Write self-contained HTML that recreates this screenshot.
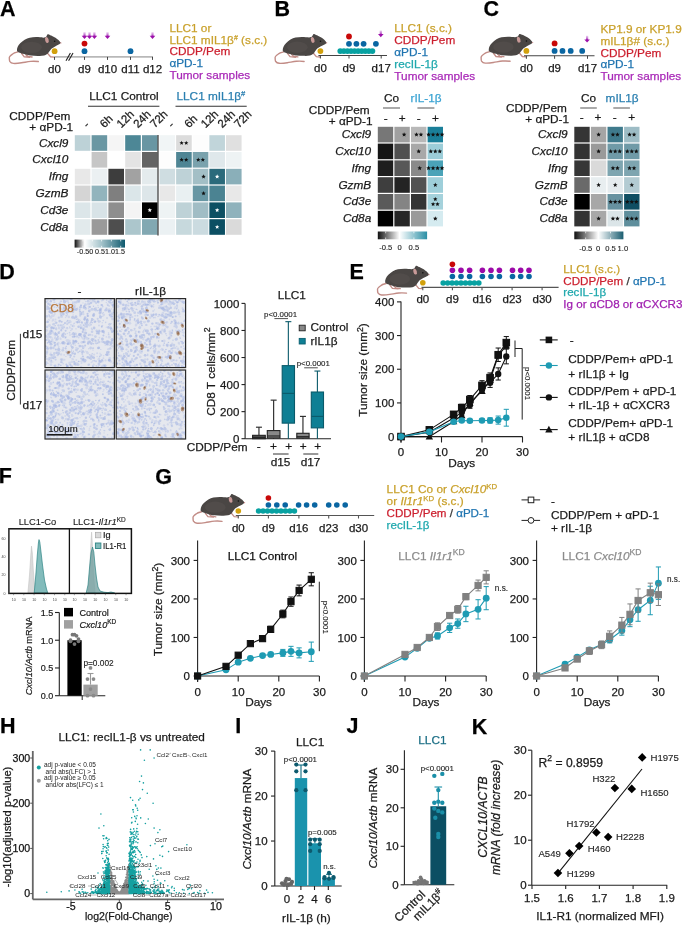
<!DOCTYPE html><html><head><meta charset="utf-8"><title>Figure</title><style>html,body{margin:0;padding:0;background:#fff;width:685px;height:925px;overflow:hidden}svg{display:block;font-family:"Liberation Sans",sans-serif;will-change:transform} text{stroke:currentColor;stroke-width:0.25px}</style></head><body><svg width="685" height="925" viewBox="0 0 685 925" font-family="Liberation Sans, sans-serif"><defs><g id="mouse">
<path d="M8.8,17.9 C6,18.5 4.5,19 3.6,20 C1.5,21.5 0.3,22.5 0.5,23.5 C0.5,25 0.5,26 0.9,27 C1.8,28.3 3,28.9 4.4,29 C7,29.2 10,28.8 12.3,28.4 C15,28 18,27.4 21.1,27 C24,26.8 26.5,26.9 28.5,27.2" fill="none" stroke="#c28c86" stroke-width="1.35" stroke-linecap="round"/>
<path d="M12.3,19.2 L14.9,22.6 L20.2,23.1 M16.5,20.5 L18.5,22.2 L22.5,22.8 M37.3,19 L40.3,22.6 L43.8,22.9" fill="none" stroke="#c28c86" stroke-width="1.3" stroke-linecap="round" stroke-linejoin="round"/>
<path d="M7.9,17 C7.6,14.5 8.8,11.5 11,9.5 C13.5,7 17,4.8 20.2,4.1 C24,3.3 30,3.5 33.3,4.1 L36,3.4 L37.4,0.9 C38.2,0.5 39.2,1.1 39.9,1.7 C42.5,2.3 47.8,5.2 50.4,9.1 C49.8,10 49,10.3 48.2,10.8 C46.8,11.5 45.8,12 44.7,12.6 C43.3,13.4 42,14 41.2,14.8 C40,16 39.3,17.3 38.6,18.3 C37.5,20 36,21 34.2,21.4 C32,21.9 30,21.9 28.1,21.8 C25.5,21.7 23.5,21.6 21.1,21.4 C18.5,21.1 16.5,20.6 14.9,20 C13,19.5 11.5,19.2 10.6,18.7 C9.5,18.3 8.4,17.8 7.9,17 Z" fill="#4a4644"/>
<ellipse cx="22" cy="13.5" rx="10" ry="5.5" fill="#57524f" opacity="0.5"/>
<ellipse cx="36.8" cy="6.4" rx="1.7" ry="2.9" fill="#c99a98" transform="rotate(-15 36.8 6.4)"/>
<circle cx="44.3" cy="7.6" r="0.75" fill="#111"/>
<circle cx="50.3" cy="9.2" r="0.6" fill="#d09090"/>
</g></defs><text x="0.00" y="16.20" font-size="21.5" fill="#000" color="#000" font-weight="bold">A</text>
<text x="274.40" y="16.20" font-size="21.5" fill="#000" color="#000" font-weight="bold">B</text>
<text x="483.60" y="16.00" font-size="21.5" fill="#000" color="#000" font-weight="bold">C</text>
<text x="-0.80" y="279.20" font-size="21.5" fill="#000" color="#000" font-weight="bold">D</text>
<text x="349.60" y="279.00" font-size="21.5" fill="#000" color="#000" font-weight="bold">E</text>
<text x="-1.20" y="483.40" font-size="21.5" fill="#000" color="#000" font-weight="bold">F</text>
<text x="155.20" y="484.00" font-size="21.5" fill="#000" color="#000" font-weight="bold">G</text>
<text x="0.00" y="733.20" font-size="21.5" fill="#000" color="#000" font-weight="bold">H</text>
<text x="235.30" y="733.20" font-size="21.5" fill="#000" color="#000" font-weight="bold">I</text>
<text x="346.60" y="733.30" font-size="21.5" fill="#000" color="#000" font-weight="bold">J</text>
<text x="471.70" y="733.80" font-size="21.5" fill="#000" color="#000" font-weight="bold">K</text>
<defs><linearGradient id="arrg" x1="0" y1="0" x2="0" y2="1"><stop offset="0" stop-color="#c070d0" stop-opacity="0.35"/><stop offset="1" stop-color="#a020b0"/></linearGradient></defs>
<use href="#mouse" transform="translate(8.80,33.40) scale(1.035)"/>
<line x1="54.50" y1="56.90" x2="153.00" y2="56.90" stroke="#b8b8b8" stroke-width="1.6"/>
<line x1="66.00" y1="60.80" x2="70.40" y2="53.10" stroke="#222" stroke-width="1.1"/>
<line x1="68.60" y1="60.80" x2="73.00" y2="53.10" stroke="#222" stroke-width="1.1"/>
<line x1="54.50" y1="56.90" x2="54.50" y2="59.90" stroke="#333" stroke-width="0.9"/>
<line x1="84.50" y1="56.90" x2="84.50" y2="59.90" stroke="#333" stroke-width="0.9"/>
<line x1="107.50" y1="56.90" x2="107.50" y2="59.90" stroke="#333" stroke-width="0.9"/>
<line x1="130.50" y1="56.90" x2="130.50" y2="59.90" stroke="#333" stroke-width="0.9"/>
<line x1="152.50" y1="56.90" x2="152.50" y2="59.90" stroke="#333" stroke-width="0.9"/>
<text x="54.50" y="73.20" font-size="11.5" fill="#1a1a1a" color="#1a1a1a" text-anchor="middle">d0</text>
<text x="84.50" y="73.20" font-size="11.5" fill="#1a1a1a" color="#1a1a1a" text-anchor="middle">d9</text>
<text x="107.50" y="73.20" font-size="11.5" fill="#1a1a1a" color="#1a1a1a" text-anchor="middle">d10</text>
<text x="130.50" y="73.20" font-size="11.5" fill="#1a1a1a" color="#1a1a1a" text-anchor="middle">d11</text>
<text x="152.50" y="73.20" font-size="11.5" fill="#1a1a1a" color="#1a1a1a" text-anchor="middle">d12</text>
<circle cx="54.60" cy="51.20" r="2.9" fill="#d2a00c"/>
<circle cx="84.50" cy="51.20" r="2.9" fill="#0a66a2"/>
<circle cx="84.50" cy="43.60" r="2.9" fill="#c80808"/>
<circle cx="130.50" cy="51.20" r="2.9" fill="#0a66a2"/>
<rect x="83.40" y="32.20" width="2.20" height="4.20" fill="url(#arrg)"/>
<path d="M81.70,35.80 L87.30,35.80 L84.50,38.90 Z" fill="#9c10aa"/>
<rect x="88.40" y="32.20" width="2.20" height="4.20" fill="url(#arrg)"/>
<path d="M86.70,35.80 L92.30,35.80 L89.50,38.90 Z" fill="#9c10aa"/>
<rect x="93.30" y="32.20" width="2.20" height="4.20" fill="url(#arrg)"/>
<path d="M91.60,35.80 L97.20,35.80 L94.40,38.90 Z" fill="#9c10aa"/>
<rect x="106.40" y="32.20" width="2.20" height="4.20" fill="url(#arrg)"/>
<path d="M104.70,35.80 L110.30,35.80 L107.50,38.90 Z" fill="#9c10aa"/>
<rect x="151.40" y="32.20" width="2.20" height="4.20" fill="url(#arrg)"/>
<path d="M149.70,35.80 L155.30,35.80 L152.50,38.90 Z" fill="#9c10aa"/>
<text x="169.40" y="31.60" font-size="11.8" fill="#c9a12c" color="#c9a12c">LLC1 or</text>
<text x="169.40" y="43.50" font-size="11.8" fill="#c9a12c" color="#c9a12c">LLC1 mIL1β<tspan font-size="7" dy="-4">#</tspan><tspan dy="4"> (s.c.)</tspan></text>
<text x="169.40" y="55.40" font-size="11.8" fill="#cc1f2e" color="#cc1f2e">CDDP/Pem</text>
<text x="169.40" y="67.30" font-size="11.8" fill="#1f74b0" color="#1f74b0">αPD-1</text>
<text x="169.40" y="79.20" font-size="11.8" fill="#a92ab8" color="#a92ab8">Tumor samples</text>
<text x="89.20" y="100.00" font-size="11.8" fill="#1a1a1a" color="#1a1a1a">LLC1 Control</text>
<line x1="88.00" y1="106.20" x2="159.40" y2="106.20" stroke="#333" stroke-width="1.1"/>
<text x="176.50" y="100.00" font-size="11.8" fill="#2a7fb0" color="#2a7fb0">LLC1 mIL1β<tspan font-size="7.5" dy="-4.5">#</tspan></text>
<line x1="175.50" y1="106.20" x2="246.70" y2="106.20" stroke="#333" stroke-width="1.1"/>
<text x="70.30" y="119.80" font-size="11.8" fill="#1a1a1a" color="#1a1a1a" text-anchor="end">CDDP/Pem</text>
<text x="73.20" y="130.90" font-size="11.8" fill="#1a1a1a" color="#1a1a1a" text-anchor="end">+ αPD-1</text>
<text x="87.60" y="128.60" font-size="11.5" fill="#1a1a1a" color="#1a1a1a" transform="rotate(-45 87.60 128.60)">-</text>
<text x="104.40" y="128.60" font-size="11.5" fill="#1a1a1a" color="#1a1a1a" transform="rotate(-45 104.40 128.60)">6h</text>
<text x="121.20" y="128.60" font-size="11.5" fill="#1a1a1a" color="#1a1a1a" transform="rotate(-45 121.20 128.60)">12h</text>
<text x="138.00" y="128.60" font-size="11.5" fill="#1a1a1a" color="#1a1a1a" transform="rotate(-45 138.00 128.60)">24h</text>
<text x="154.80" y="128.60" font-size="11.5" fill="#1a1a1a" color="#1a1a1a" transform="rotate(-45 154.80 128.60)">72h</text>
<text x="172.30" y="128.60" font-size="11.5" fill="#1a1a1a" color="#1a1a1a" transform="rotate(-45 172.30 128.60)">-</text>
<text x="188.92" y="128.60" font-size="11.5" fill="#1a1a1a" color="#1a1a1a" transform="rotate(-45 188.92 128.60)">6h</text>
<text x="205.54" y="128.60" font-size="11.5" fill="#1a1a1a" color="#1a1a1a" transform="rotate(-45 205.54 128.60)">12h</text>
<text x="222.16" y="128.60" font-size="11.5" fill="#1a1a1a" color="#1a1a1a" transform="rotate(-45 222.16 128.60)">24h</text>
<text x="238.78" y="128.60" font-size="11.5" fill="#1a1a1a" color="#1a1a1a" transform="rotate(-45 238.78 128.60)">72h</text>
<text x="68.40" y="146.60" font-size="11.8" fill="#1a1a1a" color="#1a1a1a" text-anchor="end" font-style="italic">Cxcl9</text>
<rect x="74.80" y="135.20" width="15.60" height="15.60" fill="#bdd2d7"/>
<rect x="91.60" y="135.20" width="15.60" height="15.60" fill="#6a97a3"/>
<rect x="108.40" y="135.20" width="15.60" height="15.60" fill="#f5f5f5"/>
<rect x="125.20" y="135.20" width="15.60" height="15.60" fill="#4d8796"/>
<rect x="142.00" y="135.20" width="15.60" height="15.60" fill="#6996a3"/>
<rect x="159.50" y="135.20" width="15.60" height="15.60" fill="#f1f5f6"/>
<rect x="176.12" y="135.20" width="15.60" height="15.60" fill="#dcdcdc"/>
<rect x="192.74" y="135.20" width="15.60" height="15.60" fill="#fdfdfd"/>
<rect x="209.36" y="135.20" width="15.60" height="15.60" fill="#c1d5da"/>
<rect x="225.98" y="135.20" width="15.60" height="15.60" fill="#e0e0e0"/>
<text x="68.40" y="163.40" font-size="11.8" fill="#1a1a1a" color="#1a1a1a" text-anchor="end" font-style="italic">Cxcl10</text>
<rect x="74.80" y="152.00" width="15.60" height="15.60" fill="#ffffff"/>
<rect x="91.60" y="152.00" width="15.60" height="15.60" fill="#c6c6c6"/>
<rect x="108.40" y="152.00" width="15.60" height="15.60" fill="#ffffff"/>
<rect x="125.20" y="152.00" width="15.60" height="15.60" fill="#e4e4e4"/>
<rect x="142.00" y="152.00" width="15.60" height="15.60" fill="#646464"/>
<rect x="159.50" y="152.00" width="15.60" height="15.60" fill="#fdfdfd"/>
<rect x="176.12" y="152.00" width="15.60" height="15.60" fill="#4f8594"/>
<rect x="192.74" y="152.00" width="15.60" height="15.60" fill="#7aa2ad"/>
<rect x="209.36" y="152.00" width="15.60" height="15.60" fill="#dfe8eb"/>
<rect x="225.98" y="152.00" width="15.60" height="15.60" fill="#eef3f4"/>
<text x="68.40" y="180.20" font-size="11.8" fill="#1a1a1a" color="#1a1a1a" text-anchor="end" font-style="italic">Ifng</text>
<rect x="74.80" y="168.80" width="15.60" height="15.60" fill="#e8e8e8"/>
<rect x="91.60" y="168.80" width="15.60" height="15.60" fill="#ebf0f2"/>
<rect x="108.40" y="168.80" width="15.60" height="15.60" fill="#3d3d3d"/>
<rect x="125.20" y="168.80" width="15.60" height="15.60" fill="#a2a2a2"/>
<rect x="142.00" y="168.80" width="15.60" height="15.60" fill="#e4ebed"/>
<rect x="159.50" y="168.80" width="15.60" height="15.60" fill="#cfdde1"/>
<rect x="176.12" y="168.80" width="15.60" height="15.60" fill="#bed2d7"/>
<rect x="192.74" y="168.80" width="15.60" height="15.60" fill="#a3bfc6"/>
<rect x="209.36" y="168.80" width="15.60" height="15.60" fill="#2b6a7b"/>
<rect x="225.98" y="168.80" width="15.60" height="15.60" fill="#8aafb9"/>
<text x="68.40" y="197.00" font-size="11.8" fill="#1a1a1a" color="#1a1a1a" text-anchor="end" font-style="italic">GzmB</text>
<rect x="74.80" y="185.60" width="15.60" height="15.60" fill="#d5d5d5"/>
<rect x="91.60" y="185.60" width="15.60" height="15.60" fill="#92b4bd"/>
<rect x="108.40" y="185.60" width="15.60" height="15.60" fill="#7f7f7f"/>
<rect x="125.20" y="185.60" width="15.60" height="15.60" fill="#dbe6e9"/>
<rect x="142.00" y="185.60" width="15.60" height="15.60" fill="#dde6e9"/>
<rect x="159.50" y="185.60" width="15.60" height="15.60" fill="#e8e8e8"/>
<rect x="176.12" y="185.60" width="15.60" height="15.60" fill="#e9f0f2"/>
<rect x="192.74" y="185.60" width="15.60" height="15.60" fill="#6897a4"/>
<rect x="209.36" y="185.60" width="15.60" height="15.60" fill="#4b8392"/>
<rect x="225.98" y="185.60" width="15.60" height="15.60" fill="#e8e8e8"/>
<text x="68.40" y="213.80" font-size="11.8" fill="#1a1a1a" color="#1a1a1a" text-anchor="end" font-style="italic">Cd3e</text>
<rect x="74.80" y="202.40" width="15.60" height="15.60" fill="#dce6e9"/>
<rect x="91.60" y="202.40" width="15.60" height="15.60" fill="#d8e3e7"/>
<rect x="108.40" y="202.40" width="15.60" height="15.60" fill="#8e8e8e"/>
<rect x="125.20" y="202.40" width="15.60" height="15.60" fill="#f4f4f4"/>
<rect x="142.00" y="202.40" width="15.60" height="15.60" fill="#000000"/>
<rect x="159.50" y="202.40" width="15.60" height="15.60" fill="#eef3f4"/>
<rect x="176.12" y="202.40" width="15.60" height="15.60" fill="#bed2d7"/>
<rect x="192.74" y="202.40" width="15.60" height="15.60" fill="#a1bdc5"/>
<rect x="209.36" y="202.40" width="15.60" height="15.60" fill="#0c4f63"/>
<rect x="225.98" y="202.40" width="15.60" height="15.60" fill="#8fb2bc"/>
<text x="68.40" y="230.60" font-size="11.8" fill="#1a1a1a" color="#1a1a1a" text-anchor="end" font-style="italic">Cd8a</text>
<rect x="74.80" y="219.20" width="15.60" height="15.60" fill="#e2eaec"/>
<rect x="91.60" y="219.20" width="15.60" height="15.60" fill="#9a9a9a"/>
<rect x="108.40" y="219.20" width="15.60" height="15.60" fill="#4e4e4e"/>
<rect x="125.20" y="219.20" width="15.60" height="15.60" fill="#acc6cc"/>
<rect x="142.00" y="219.20" width="15.60" height="15.60" fill="#82a8b2"/>
<rect x="159.50" y="219.20" width="15.60" height="15.60" fill="#ebf1f3"/>
<rect x="176.12" y="219.20" width="15.60" height="15.60" fill="#c7d9dd"/>
<rect x="192.74" y="219.20" width="15.60" height="15.60" fill="#cbdbe0"/>
<rect x="209.36" y="219.20" width="15.60" height="15.60" fill="#0c4f63"/>
<rect x="225.98" y="219.20" width="15.60" height="15.60" fill="#dadada"/>
<polygon points="181.62,140.70 182.23,142.16 183.81,142.29 182.60,143.32 182.97,144.86 181.62,144.03 180.27,144.86 180.64,143.32 179.43,142.29 181.01,142.16" fill="#111"/>
<polygon points="186.22,140.70 186.83,142.16 188.41,142.29 187.20,143.32 187.57,144.86 186.22,144.03 184.87,144.86 185.24,143.32 184.03,142.29 185.61,142.16" fill="#111"/>
<polygon points="181.62,157.50 182.23,158.96 183.81,159.09 182.60,160.12 182.97,161.66 181.62,160.84 180.27,161.66 180.64,160.12 179.43,159.09 181.01,158.96" fill="#111"/>
<polygon points="186.22,157.50 186.83,158.96 188.41,159.09 187.20,160.12 187.57,161.66 186.22,160.84 184.87,161.66 185.24,160.12 184.03,159.09 185.61,158.96" fill="#111"/>
<polygon points="198.24,157.50 198.85,158.96 200.43,159.09 199.22,160.12 199.59,161.66 198.24,160.84 196.89,161.66 197.26,160.12 196.05,159.09 197.63,158.96" fill="#111"/>
<polygon points="202.84,157.50 203.45,158.96 205.03,159.09 203.82,160.12 204.19,161.66 202.84,160.84 201.49,161.66 201.86,160.12 200.65,159.09 202.23,158.96" fill="#111"/>
<polygon points="203.54,174.30 204.15,175.76 205.73,175.89 204.52,176.92 204.89,178.46 203.54,177.63 202.19,178.46 202.56,176.92 201.35,175.89 202.93,175.76" fill="#111"/>
<polygon points="217.16,174.30 217.77,175.76 219.35,175.89 218.14,176.92 218.51,178.46 217.16,177.63 215.81,178.46 216.18,176.92 214.97,175.89 216.55,175.76" fill="#fff"/>
<polygon points="203.54,191.10 204.15,192.56 205.73,192.69 204.52,193.72 204.89,195.26 203.54,194.44 202.19,195.26 202.56,193.72 201.35,192.69 202.93,192.56" fill="#111"/>
<polygon points="149.80,207.90 150.41,209.36 151.99,209.49 150.78,210.52 151.15,212.06 149.80,211.23 148.45,212.06 148.82,210.52 147.61,209.49 149.19,209.36" fill="#fff"/>
<polygon points="217.16,207.90 217.77,209.36 219.35,209.49 218.14,210.52 218.51,212.06 217.16,211.23 215.81,212.06 216.18,210.52 214.97,209.49 216.55,209.36" fill="#fff"/>
<polygon points="217.16,224.70 217.77,226.16 219.35,226.29 218.14,227.32 218.51,228.86 217.16,228.03 215.81,228.86 216.18,227.32 214.97,226.29 216.55,226.16" fill="#fff"/>
<line x1="158.00" y1="135.00" x2="158.00" y2="235.40" stroke="#333" stroke-width="1.2"/>
<defs><linearGradient id="cbA" x1="0" x2="1"><stop offset="0" stop-color="#111"/><stop offset="0.2" stop-color="#fff"/><stop offset="0.55" stop-color="#9fc0c8"/><stop offset="1" stop-color="#0f5a6e"/></linearGradient><linearGradient id="cbB" x1="0" x2="1"><stop offset="0" stop-color="#111"/><stop offset="0.44" stop-color="#fff"/><stop offset="1" stop-color="#2a8fa5"/></linearGradient><linearGradient id="cbC" x1="0" x2="1"><stop offset="0" stop-color="#111"/><stop offset="0.49" stop-color="#fff"/><stop offset="1" stop-color="#1a5d70"/></linearGradient></defs>
<rect x="74.60" y="239.60" width="50.40" height="8.00" fill="url(#cbA)"/>
<line x1="83.00" y1="239.60" x2="83.00" y2="241.40" stroke="#fff" stroke-width="0.7"/>
<line x1="83.00" y1="245.80" x2="83.00" y2="247.60" stroke="#fff" stroke-width="0.7"/>
<line x1="92.30" y1="239.60" x2="92.30" y2="241.40" stroke="#fff" stroke-width="0.7"/>
<line x1="92.30" y1="245.80" x2="92.30" y2="247.60" stroke="#fff" stroke-width="0.7"/>
<line x1="101.60" y1="239.60" x2="101.60" y2="241.40" stroke="#fff" stroke-width="0.7"/>
<line x1="101.60" y1="245.80" x2="101.60" y2="247.60" stroke="#fff" stroke-width="0.7"/>
<line x1="111.40" y1="239.60" x2="111.40" y2="241.40" stroke="#fff" stroke-width="0.7"/>
<line x1="111.40" y1="245.80" x2="111.40" y2="247.60" stroke="#fff" stroke-width="0.7"/>
<line x1="120.70" y1="239.60" x2="120.70" y2="241.40" stroke="#fff" stroke-width="0.7"/>
<line x1="120.70" y1="245.80" x2="120.70" y2="247.60" stroke="#fff" stroke-width="0.7"/>
<text x="76.80" y="254.20" font-size="7.6" fill="#222" color="#222" style="stroke-width:0.12px" textLength="48.2" lengthAdjust="spacingAndGlyphs">-0.50 0.51.01.5</text>
<use href="#mouse" transform="translate(274.60,33.30) scale(1.035)"/>
<line x1="318.40" y1="55.50" x2="387.00" y2="55.50" stroke="#444" stroke-width="1.1"/>
<line x1="320.40" y1="55.50" x2="320.40" y2="58.50" stroke="#444" stroke-width="1.0"/>
<line x1="349.00" y1="55.50" x2="349.00" y2="58.50" stroke="#444" stroke-width="1.0"/>
<line x1="381.20" y1="55.50" x2="381.20" y2="58.50" stroke="#444" stroke-width="1.0"/>
<text x="320.40" y="72.00" font-size="11.5" fill="#1a1a1a" color="#1a1a1a" text-anchor="middle">d0</text>
<text x="349.00" y="72.00" font-size="11.5" fill="#1a1a1a" color="#1a1a1a" text-anchor="middle">d9</text>
<text x="381.20" y="72.00" font-size="11.5" fill="#1a1a1a" color="#1a1a1a" text-anchor="middle">d17</text>
<circle cx="320.40" cy="51.10" r="2.9" fill="#d2a00c"/>
<circle cx="340.30" cy="51.10" r="2.9" fill="#08a2a2"/>
<circle cx="343.87" cy="51.10" r="2.9" fill="#08a2a2"/>
<circle cx="347.43" cy="51.10" r="2.9" fill="#08a2a2"/>
<circle cx="351.00" cy="51.10" r="2.9" fill="#08a2a2"/>
<circle cx="354.57" cy="51.10" r="2.9" fill="#08a2a2"/>
<circle cx="358.13" cy="51.10" r="2.9" fill="#08a2a2"/>
<circle cx="361.70" cy="51.10" r="2.9" fill="#08a2a2"/>
<circle cx="365.27" cy="51.10" r="2.9" fill="#08a2a2"/>
<circle cx="368.83" cy="51.10" r="2.9" fill="#08a2a2"/>
<circle cx="372.40" cy="51.10" r="2.9" fill="#08a2a2"/>
<circle cx="349.00" cy="43.80" r="2.9" fill="#0a66a2"/>
<circle cx="356.40" cy="43.80" r="2.9" fill="#0a66a2"/>
<circle cx="363.60" cy="43.80" r="2.9" fill="#0a66a2"/>
<circle cx="375.90" cy="43.80" r="2.9" fill="#0a66a2"/>
<circle cx="349.00" cy="36.50" r="2.9" fill="#c80808"/>
<rect x="379.70" y="30.50" width="2.20" height="4.20" fill="url(#arrg)"/>
<path d="M378.00,34.10 L383.60,34.10 L380.80,37.20 Z" fill="#9c10aa"/>
<text x="394.30" y="31.60" font-size="11.8" fill="#c9a12c" color="#c9a12c">LLC1 (s.c.)</text>
<text x="394.30" y="43.60" font-size="11.8" fill="#cc1f2e" color="#cc1f2e">CDDP/Pem</text>
<text x="394.30" y="55.60" font-size="11.8" fill="#1f74b0" color="#1f74b0">αPD-1</text>
<text x="394.30" y="67.60" font-size="11.8" fill="#1fa8ad" color="#1fa8ad">recIL-1β</text>
<text x="394.30" y="79.60" font-size="11.8" fill="#a92ab8" color="#a92ab8">Tumor samples</text>
<text x="384.00" y="102.20" font-size="11.8" fill="#1a1a1a" color="#1a1a1a">Co</text>
<text x="410.50" y="102.20" font-size="11.8" fill="#3aa3d3" color="#3aa3d3">rIL-1β</text>
<line x1="383.00" y1="108.00" x2="400.00" y2="108.00" stroke="#aaa" stroke-width="2"/>
<line x1="417.40" y1="108.00" x2="434.40" y2="108.00" stroke="#aaa" stroke-width="2"/>
<text x="369.70" y="114.00" font-size="11.8" fill="#1a1a1a" color="#1a1a1a" text-anchor="end">CDDP/Pem</text>
<text x="372.60" y="125.00" font-size="11.8" fill="#1a1a1a" color="#1a1a1a" text-anchor="end">+ αPD-1</text>
<text x="385.70" y="121.60" font-size="11.8" fill="#1a1a1a" color="#1a1a1a" text-anchor="middle">-</text>
<text x="402.30" y="121.60" font-size="11.8" fill="#1a1a1a" color="#1a1a1a" text-anchor="middle">+</text>
<text x="418.80" y="121.60" font-size="11.8" fill="#1a1a1a" color="#1a1a1a" text-anchor="middle">-</text>
<text x="435.40" y="121.60" font-size="11.8" fill="#1a1a1a" color="#1a1a1a" text-anchor="middle">+</text>
<text x="371.20" y="138.20" font-size="11.8" fill="#1a1a1a" color="#1a1a1a" text-anchor="end" font-style="italic">Cxcl9</text>
<rect x="377.80" y="126.80" width="15.40" height="15.60" fill="#777777"/>
<rect x="394.40" y="126.80" width="15.40" height="15.60" fill="#a0a0a0"/>
<rect x="411.00" y="126.80" width="15.40" height="15.60" fill="#b8b8b8"/>
<rect x="427.60" y="126.80" width="15.40" height="15.60" fill="#1a7f99"/>
<text x="371.20" y="155.00" font-size="11.8" fill="#1a1a1a" color="#1a1a1a" text-anchor="end" font-style="italic">Cxcl10</text>
<rect x="377.80" y="143.60" width="15.40" height="15.60" fill="#151515"/>
<rect x="394.40" y="143.60" width="15.40" height="15.60" fill="#505050"/>
<rect x="411.00" y="143.60" width="15.40" height="15.60" fill="#a8a8a8"/>
<rect x="427.60" y="143.60" width="15.40" height="15.60" fill="#9ccdd8"/>
<text x="371.20" y="171.80" font-size="11.8" fill="#1a1a1a" color="#1a1a1a" text-anchor="end" font-style="italic">Ifng</text>
<rect x="377.80" y="160.40" width="15.40" height="15.60" fill="#1e1e1e"/>
<rect x="394.40" y="160.40" width="15.40" height="15.60" fill="#585858"/>
<rect x="411.00" y="160.40" width="15.40" height="15.60" fill="#8a8a8a"/>
<rect x="427.60" y="160.40" width="15.40" height="15.60" fill="#4aa3b8"/>
<text x="371.20" y="188.60" font-size="11.8" fill="#1a1a1a" color="#1a1a1a" text-anchor="end" font-style="italic">GzmB</text>
<rect x="377.80" y="177.20" width="15.40" height="15.60" fill="#3e3e3e"/>
<rect x="394.40" y="177.20" width="15.40" height="15.60" fill="#242424"/>
<rect x="411.00" y="177.20" width="15.40" height="15.60" fill="#525252"/>
<rect x="427.60" y="177.20" width="15.40" height="15.60" fill="#9ecfda"/>
<text x="371.20" y="205.40" font-size="11.8" fill="#1a1a1a" color="#1a1a1a" text-anchor="end" font-style="italic">Cd3e</text>
<rect x="377.80" y="194.00" width="15.40" height="15.60" fill="#5a5a5a"/>
<rect x="394.40" y="194.00" width="15.40" height="15.60" fill="#848484"/>
<rect x="411.00" y="194.00" width="15.40" height="15.60" fill="#343434"/>
<rect x="427.60" y="194.00" width="15.40" height="15.60" fill="#a5d2dc"/>
<text x="371.20" y="222.20" font-size="11.8" fill="#1a1a1a" color="#1a1a1a" text-anchor="end" font-style="italic">Cd8a</text>
<rect x="377.80" y="210.80" width="15.40" height="15.60" fill="#000000"/>
<rect x="394.40" y="210.80" width="15.40" height="15.60" fill="#262626"/>
<rect x="411.00" y="210.80" width="15.40" height="15.60" fill="#9a9a9a"/>
<rect x="427.60" y="210.80" width="15.40" height="15.60" fill="#d5ebf0"/>
<polygon points="404.10,132.20 404.73,133.73 406.38,133.86 405.13,134.93 405.51,136.54 404.10,135.68 402.69,136.54 403.07,134.93 401.82,133.86 403.47,133.73" fill="#111"/>
<polygon points="416.45,132.20 417.08,133.73 418.73,133.86 417.48,134.93 417.86,136.54 416.45,135.68 415.04,136.54 415.42,134.93 414.17,133.86 415.82,133.73" fill="#111"/>
<polygon points="420.95,132.20 421.58,133.73 423.23,133.86 421.98,134.93 422.36,136.54 420.95,135.68 419.54,136.54 419.92,134.93 418.67,133.86 420.32,133.73" fill="#111"/>
<polygon points="428.55,132.20 429.18,133.73 430.83,133.86 429.58,134.93 429.96,136.54 428.55,135.68 427.14,136.54 427.52,134.93 426.27,133.86 427.92,133.73" fill="#111"/>
<polygon points="433.05,132.20 433.68,133.73 435.33,133.86 434.08,134.93 434.46,136.54 433.05,135.68 431.64,136.54 432.02,134.93 430.77,133.86 432.42,133.73" fill="#111"/>
<polygon points="437.55,132.20 438.18,133.73 439.83,133.86 438.58,134.93 438.96,136.54 437.55,135.68 436.14,136.54 436.52,134.93 435.27,133.86 436.92,133.73" fill="#111"/>
<polygon points="442.05,132.20 442.68,133.73 444.33,133.86 443.08,134.93 443.46,136.54 442.05,135.68 440.64,136.54 441.02,134.93 439.77,133.86 441.42,133.73" fill="#111"/>
<polygon points="418.70,149.00 419.33,150.53 420.98,150.66 419.73,151.73 420.11,153.34 418.70,152.48 417.29,153.34 417.67,151.73 416.42,150.66 418.07,150.53" fill="#111"/>
<polygon points="430.80,149.00 431.43,150.53 433.08,150.66 431.83,151.73 432.21,153.34 430.80,152.48 429.39,153.34 429.77,151.73 428.52,150.66 430.17,150.53" fill="#111"/>
<polygon points="435.30,149.00 435.93,150.53 437.58,150.66 436.33,151.73 436.71,153.34 435.30,152.48 433.89,153.34 434.27,151.73 433.02,150.66 434.67,150.53" fill="#111"/>
<polygon points="439.80,149.00 440.43,150.53 442.08,150.66 440.83,151.73 441.21,153.34 439.80,152.48 438.39,153.34 438.77,151.73 437.52,150.66 439.17,150.53" fill="#111"/>
<polygon points="419.70,165.80 420.33,167.33 421.98,167.46 420.73,168.53 421.11,170.14 419.70,169.28 418.29,170.14 418.67,168.53 417.42,167.46 419.07,167.33" fill="#111"/>
<polygon points="428.55,165.80 429.18,167.33 430.83,167.46 429.58,168.53 429.96,170.14 428.55,169.28 427.14,170.14 427.52,168.53 426.27,167.46 427.92,167.33" fill="#111"/>
<polygon points="433.05,165.80 433.68,167.33 435.33,167.46 434.08,168.53 434.46,170.14 433.05,169.28 431.64,170.14 432.02,168.53 430.77,167.46 432.42,167.33" fill="#111"/>
<polygon points="437.55,165.80 438.18,167.33 439.83,167.46 438.58,168.53 438.96,170.14 437.55,169.28 436.14,170.14 436.52,168.53 435.27,167.46 436.92,167.33" fill="#111"/>
<polygon points="442.05,165.80 442.68,167.33 444.33,167.46 443.08,168.53 443.46,170.14 442.05,169.28 440.64,170.14 441.02,168.53 439.77,167.46 441.42,167.33" fill="#111"/>
<polygon points="435.30,182.60 435.93,184.13 437.58,184.26 436.33,185.33 436.71,186.94 435.30,186.08 433.89,186.94 434.27,185.33 433.02,184.26 434.67,184.13" fill="#111"/>
<polygon points="435.30,216.20 435.93,217.73 437.58,217.86 436.33,218.93 436.71,220.54 435.30,219.68 433.89,220.54 434.27,218.93 433.02,217.86 434.67,217.73" fill="#111"/>
<polygon points="435.30,196.90 435.91,198.36 437.49,198.49 436.28,199.52 436.65,201.06 435.30,200.24 433.95,201.06 434.32,199.52 433.11,198.49 434.69,198.36" fill="#111"/>
<polygon points="433.10,201.90 433.71,203.36 435.29,203.49 434.08,204.52 434.45,206.06 433.10,205.24 431.75,206.06 432.12,204.52 430.91,203.49 432.49,203.36" fill="#111"/>
<polygon points="437.50,201.90 438.11,203.36 439.69,203.49 438.48,204.52 438.85,206.06 437.50,205.24 436.15,206.06 436.52,204.52 435.31,203.49 436.89,203.36" fill="#111"/>
<rect x="377.80" y="231.50" width="49.30" height="7.80" fill="url(#cbB)"/>
<line x1="385.70" y1="231.50" x2="385.70" y2="233.30" stroke="#fff" stroke-width="0.7"/>
<line x1="385.70" y1="237.50" x2="385.70" y2="239.30" stroke="#fff" stroke-width="0.7"/>
<line x1="399.50" y1="231.50" x2="399.50" y2="233.30" stroke="#fff" stroke-width="0.7"/>
<line x1="399.50" y1="237.50" x2="399.50" y2="239.30" stroke="#fff" stroke-width="0.7"/>
<line x1="413.90" y1="231.50" x2="413.90" y2="233.30" stroke="#fff" stroke-width="0.7"/>
<line x1="413.90" y1="237.50" x2="413.90" y2="239.30" stroke="#fff" stroke-width="0.7"/>
<text x="385.70" y="250.20" font-size="7.6" fill="#222" color="#222" text-anchor="middle" style="stroke-width:0.12px">-0.5</text>
<text x="399.50" y="250.20" font-size="7.6" fill="#222" color="#222" text-anchor="middle" style="stroke-width:0.12px">0</text>
<text x="413.90" y="250.20" font-size="7.6" fill="#222" color="#222" text-anchor="middle" style="stroke-width:0.12px">0.5</text>
<use href="#mouse" transform="translate(480.60,33.10) scale(1.035)"/>
<line x1="524.00" y1="55.80" x2="594.50" y2="55.80" stroke="#444" stroke-width="1.1"/>
<line x1="526.40" y1="55.80" x2="526.40" y2="58.80" stroke="#444" stroke-width="1.0"/>
<line x1="554.60" y1="55.80" x2="554.60" y2="58.80" stroke="#444" stroke-width="1.0"/>
<line x1="587.50" y1="55.80" x2="587.50" y2="58.80" stroke="#444" stroke-width="1.0"/>
<text x="526.40" y="72.30" font-size="11.5" fill="#1a1a1a" color="#1a1a1a" text-anchor="middle">d0</text>
<text x="554.60" y="72.30" font-size="11.5" fill="#1a1a1a" color="#1a1a1a" text-anchor="middle">d9</text>
<text x="587.50" y="72.30" font-size="11.5" fill="#1a1a1a" color="#1a1a1a" text-anchor="middle">d17</text>
<circle cx="526.40" cy="50.90" r="2.9" fill="#d2a00c"/>
<circle cx="554.60" cy="50.90" r="2.9" fill="#0a66a2"/>
<circle cx="562.50" cy="50.90" r="2.9" fill="#0a66a2"/>
<circle cx="570.70" cy="50.90" r="2.9" fill="#0a66a2"/>
<circle cx="582.20" cy="50.90" r="2.9" fill="#0a66a2"/>
<circle cx="554.60" cy="43.40" r="2.9" fill="#c80808"/>
<rect x="586.00" y="35.80" width="2.20" height="4.20" fill="url(#arrg)"/>
<path d="M584.30,39.40 L589.90,39.40 L587.10,42.50 Z" fill="#9c10aa"/>
<text x="600.40" y="33.00" font-size="11.8" fill="#c9a12c" color="#c9a12c">KP1.9 or KP1.9</text>
<text x="600.40" y="44.75" font-size="11.8" fill="#c9a12c" color="#c9a12c">mIL1β# (s.c.)</text>
<text x="600.40" y="56.50" font-size="11.8" fill="#cc1f2e" color="#cc1f2e">CDDP/Pem</text>
<text x="600.40" y="68.25" font-size="11.8" fill="#1f74b0" color="#1f74b0">αPD-1</text>
<text x="600.40" y="80.00" font-size="11.8" fill="#a92ab8" color="#a92ab8">Tumor samples</text>
<text x="581.00" y="102.20" font-size="11.8" fill="#1a1a1a" color="#1a1a1a">Co</text>
<text x="605.60" y="102.20" font-size="11.8" fill="#2a7fb0" color="#2a7fb0">mIL1β</text>
<line x1="580.20" y1="108.00" x2="596.80" y2="108.00" stroke="#aaa" stroke-width="2"/>
<line x1="613.30" y1="108.00" x2="629.90" y2="108.00" stroke="#aaa" stroke-width="2"/>
<text x="566.90" y="112.00" font-size="11.8" fill="#1a1a1a" color="#1a1a1a" text-anchor="end">CDDP/Pem</text>
<text x="569.10" y="123.40" font-size="11.8" fill="#1a1a1a" color="#1a1a1a" text-anchor="end">+ αPD-1</text>
<text x="581.70" y="121.20" font-size="11.8" fill="#1a1a1a" color="#1a1a1a" text-anchor="middle">-</text>
<text x="598.00" y="121.20" font-size="11.8" fill="#1a1a1a" color="#1a1a1a" text-anchor="middle">+</text>
<text x="614.60" y="121.20" font-size="11.8" fill="#1a1a1a" color="#1a1a1a" text-anchor="middle">-</text>
<text x="631.70" y="121.20" font-size="11.8" fill="#1a1a1a" color="#1a1a1a" text-anchor="middle">+</text>
<text x="567.60" y="138.20" font-size="11.8" fill="#1a1a1a" color="#1a1a1a" text-anchor="end" font-style="italic">Cxcl9</text>
<rect x="574.30" y="126.80" width="15.40" height="15.60" fill="#353535"/>
<rect x="590.90" y="126.80" width="15.40" height="15.60" fill="#a5a5a5"/>
<rect x="607.50" y="126.80" width="15.40" height="15.60" fill="#3f7a8c"/>
<rect x="624.10" y="126.80" width="15.40" height="15.60" fill="#9dbcc5"/>
<text x="567.60" y="155.00" font-size="11.8" fill="#1a1a1a" color="#1a1a1a" text-anchor="end" font-style="italic">Cxcl10</text>
<rect x="574.30" y="143.60" width="15.40" height="15.60" fill="#333333"/>
<rect x="590.90" y="143.60" width="15.40" height="15.60" fill="#9a9a9a"/>
<rect x="607.50" y="143.60" width="15.40" height="15.60" fill="#6f9aa7"/>
<rect x="624.10" y="143.60" width="15.40" height="15.60" fill="#6f9aa7"/>
<text x="567.60" y="171.80" font-size="11.8" fill="#1a1a1a" color="#1a1a1a" text-anchor="end" font-style="italic">Ifng</text>
<rect x="574.30" y="160.40" width="15.40" height="15.60" fill="#363636"/>
<rect x="590.90" y="160.40" width="15.40" height="15.60" fill="#dadada"/>
<rect x="607.50" y="160.40" width="15.40" height="15.60" fill="#7ea5b0"/>
<rect x="624.10" y="160.40" width="15.40" height="15.60" fill="#7ea5b0"/>
<text x="567.60" y="188.60" font-size="11.8" fill="#1a1a1a" color="#1a1a1a" text-anchor="end" font-style="italic">GzmB</text>
<rect x="574.30" y="177.20" width="15.40" height="15.60" fill="#6a6a6a"/>
<rect x="590.90" y="177.20" width="15.40" height="15.60" fill="#e8eef0"/>
<rect x="607.50" y="177.20" width="15.40" height="15.60" fill="#e5ebee"/>
<rect x="624.10" y="177.20" width="15.40" height="15.60" fill="#b3cbd2"/>
<text x="567.60" y="205.40" font-size="11.8" fill="#1a1a1a" color="#1a1a1a" text-anchor="end" font-style="italic">Cd3e</text>
<rect x="574.30" y="194.00" width="15.40" height="15.60" fill="#000000"/>
<rect x="590.90" y="194.00" width="15.40" height="15.60" fill="#a7a7a7"/>
<rect x="607.50" y="194.00" width="15.40" height="15.60" fill="#6792a0"/>
<rect x="624.10" y="194.00" width="15.40" height="15.60" fill="#0f4e62"/>
<text x="567.60" y="222.20" font-size="11.8" fill="#1a1a1a" color="#1a1a1a" text-anchor="end" font-style="italic">Cd8a</text>
<rect x="574.30" y="210.80" width="15.40" height="15.60" fill="#333333"/>
<rect x="590.90" y="210.80" width="15.40" height="15.60" fill="#a8a8a8"/>
<rect x="607.50" y="210.80" width="15.40" height="15.60" fill="#dbe5e8"/>
<rect x="624.10" y="210.80" width="15.40" height="15.60" fill="#5e8e9c"/>
<polygon points="598.60,132.20 599.23,133.73 600.88,133.86 599.63,134.93 600.01,136.54 598.60,135.68 597.19,136.54 597.57,134.93 596.32,133.86 597.97,133.73" fill="#111"/>
<polygon points="612.95,132.20 613.58,133.73 615.23,133.86 613.98,134.93 614.36,136.54 612.95,135.68 611.54,136.54 611.92,134.93 610.67,133.86 612.32,133.73" fill="#111"/>
<polygon points="617.45,132.20 618.08,133.73 619.73,133.86 618.48,134.93 618.86,136.54 617.45,135.68 616.04,136.54 616.42,134.93 615.17,133.86 616.82,133.73" fill="#111"/>
<polygon points="629.55,132.20 630.18,133.73 631.83,133.86 630.58,134.93 630.96,136.54 629.55,135.68 628.14,136.54 628.52,134.93 627.27,133.86 628.92,133.73" fill="#111"/>
<polygon points="634.05,132.20 634.68,133.73 636.33,133.86 635.08,134.93 635.46,136.54 634.05,135.68 632.64,136.54 633.02,134.93 631.77,133.86 633.42,133.73" fill="#111"/>
<polygon points="598.60,149.00 599.23,150.53 600.88,150.66 599.63,151.73 600.01,153.34 598.60,152.48 597.19,153.34 597.57,151.73 596.32,150.66 597.97,150.53" fill="#111"/>
<polygon points="610.70,149.00 611.33,150.53 612.98,150.66 611.73,151.73 612.11,153.34 610.70,152.48 609.29,153.34 609.67,151.73 608.42,150.66 610.07,150.53" fill="#111"/>
<polygon points="615.20,149.00 615.83,150.53 617.48,150.66 616.23,151.73 616.61,153.34 615.20,152.48 613.79,153.34 614.17,151.73 612.92,150.66 614.57,150.53" fill="#111"/>
<polygon points="619.70,149.00 620.33,150.53 621.98,150.66 620.73,151.73 621.11,153.34 619.70,152.48 618.29,153.34 618.67,151.73 617.42,150.66 619.07,150.53" fill="#111"/>
<polygon points="627.30,149.00 627.93,150.53 629.58,150.66 628.33,151.73 628.71,153.34 627.30,152.48 625.89,153.34 626.27,151.73 625.02,150.66 626.67,150.53" fill="#111"/>
<polygon points="631.80,149.00 632.43,150.53 634.08,150.66 632.83,151.73 633.21,153.34 631.80,152.48 630.39,153.34 630.77,151.73 629.52,150.66 631.17,150.53" fill="#111"/>
<polygon points="636.30,149.00 636.93,150.53 638.58,150.66 637.33,151.73 637.71,153.34 636.30,152.48 634.89,153.34 635.27,151.73 634.02,150.66 635.67,150.53" fill="#111"/>
<polygon points="612.95,165.80 613.58,167.33 615.23,167.46 613.98,168.53 614.36,170.14 612.95,169.28 611.54,170.14 611.92,168.53 610.67,167.46 612.32,167.33" fill="#111"/>
<polygon points="617.45,165.80 618.08,167.33 619.73,167.46 618.48,168.53 618.86,170.14 617.45,169.28 616.04,170.14 616.42,168.53 615.17,167.46 616.82,167.33" fill="#111"/>
<polygon points="629.55,165.80 630.18,167.33 631.83,167.46 630.58,168.53 630.96,170.14 629.55,169.28 628.14,170.14 628.52,168.53 627.27,167.46 628.92,167.33" fill="#111"/>
<polygon points="634.05,165.80 634.68,167.33 636.33,167.46 635.08,168.53 635.46,170.14 634.05,169.28 632.64,170.14 633.02,168.53 631.77,167.46 633.42,167.33" fill="#111"/>
<polygon points="598.60,182.60 599.23,184.13 600.88,184.26 599.63,185.33 600.01,186.94 598.60,186.08 597.19,186.94 597.57,185.33 596.32,184.26 597.97,184.13" fill="#111"/>
<polygon points="615.20,182.60 615.83,184.13 617.48,184.26 616.23,185.33 616.61,186.94 615.20,186.08 613.79,186.94 614.17,185.33 612.92,184.26 614.57,184.13" fill="#111"/>
<polygon points="631.80,182.60 632.43,184.13 634.08,184.26 632.83,185.33 633.21,186.94 631.80,186.08 630.39,186.94 630.77,185.33 629.52,184.26 631.17,184.13" fill="#111"/>
<polygon points="610.70,199.40 611.33,200.93 612.98,201.06 611.73,202.13 612.11,203.74 610.70,202.88 609.29,203.74 609.67,202.13 608.42,201.06 610.07,200.93" fill="#111"/>
<polygon points="615.20,199.40 615.83,200.93 617.48,201.06 616.23,202.13 616.61,203.74 615.20,202.88 613.79,203.74 614.17,202.13 612.92,201.06 614.57,200.93" fill="#111"/>
<polygon points="619.70,199.40 620.33,200.93 621.98,201.06 620.73,202.13 621.11,203.74 619.70,202.88 618.29,203.74 618.67,202.13 617.42,201.06 619.07,200.93" fill="#111"/>
<polygon points="627.30,199.40 627.93,200.93 629.58,201.06 628.33,202.13 628.71,203.74 627.30,202.88 625.89,203.74 626.27,202.13 625.02,201.06 626.67,200.93" fill="#111"/>
<polygon points="631.80,199.40 632.43,200.93 634.08,201.06 632.83,202.13 633.21,203.74 631.80,202.88 630.39,203.74 630.77,202.13 629.52,201.06 631.17,200.93" fill="#111"/>
<polygon points="636.30,199.40 636.93,200.93 638.58,201.06 637.33,202.13 637.71,203.74 636.30,202.88 634.89,203.74 635.27,202.13 634.02,201.06 635.67,200.93" fill="#111"/>
<polygon points="598.60,216.20 599.23,217.73 600.88,217.86 599.63,218.93 600.01,220.54 598.60,219.68 597.19,220.54 597.57,218.93 596.32,217.86 597.97,217.73" fill="#111"/>
<polygon points="612.95,216.20 613.58,217.73 615.23,217.86 613.98,218.93 614.36,220.54 612.95,219.68 611.54,220.54 611.92,218.93 610.67,217.86 612.32,217.73" fill="#111"/>
<polygon points="617.45,216.20 618.08,217.73 619.73,217.86 618.48,218.93 618.86,220.54 617.45,219.68 616.04,220.54 616.42,218.93 615.17,217.86 616.82,217.73" fill="#111"/>
<polygon points="627.30,216.20 627.93,217.73 629.58,217.86 628.33,218.93 628.71,220.54 627.30,219.68 625.89,220.54 626.27,218.93 625.02,217.86 626.67,217.73" fill="#111"/>
<polygon points="631.80,216.20 632.43,217.73 634.08,217.86 632.83,218.93 633.21,220.54 631.80,219.68 630.39,220.54 630.77,218.93 629.52,217.86 631.17,217.73" fill="#111"/>
<polygon points="636.30,216.20 636.93,217.73 638.58,217.86 637.33,218.93 637.71,220.54 636.30,219.68 634.89,220.54 635.27,218.93 634.02,217.86 635.67,217.73" fill="#111"/>
<rect x="574.30" y="231.50" width="49.10" height="7.80" fill="url(#cbC)"/>
<line x1="585.70" y1="231.50" x2="585.70" y2="233.30" stroke="#fff" stroke-width="0.7"/>
<line x1="585.70" y1="237.50" x2="585.70" y2="239.30" stroke="#fff" stroke-width="0.7"/>
<line x1="598.20" y1="231.50" x2="598.20" y2="233.30" stroke="#fff" stroke-width="0.7"/>
<line x1="598.20" y1="237.50" x2="598.20" y2="239.30" stroke="#fff" stroke-width="0.7"/>
<line x1="610.50" y1="231.50" x2="610.50" y2="233.30" stroke="#fff" stroke-width="0.7"/>
<line x1="610.50" y1="237.50" x2="610.50" y2="239.30" stroke="#fff" stroke-width="0.7"/>
<text x="585.70" y="250.80" font-size="7.6" fill="#222" color="#222" text-anchor="middle" style="stroke-width:0.12px">-0.5</text>
<text x="598.20" y="250.80" font-size="7.6" fill="#222" color="#222" text-anchor="middle" style="stroke-width:0.12px">0</text>
<text x="610.50" y="250.80" font-size="7.6" fill="#222" color="#222" text-anchor="middle" style="stroke-width:0.12px">0.5</text>
<text x="622.90" y="250.80" font-size="7.6" fill="#222" color="#222" text-anchor="middle" style="stroke-width:0.12px">1.0</text>
<defs><filter id="blur1" x="-5%" y="-5%" width="110%" height="110%"><feGaussianBlur stdDeviation="0.45"/></filter><filter id="blur2"><feGaussianBlur stdDeviation="0.45"/></filter></defs>
<clipPath id="h1"><rect x="45.0" y="298.6" width="69.4" height="69.0"/></clipPath>
<g clip-path="url(#h1)">
<rect x="45.00" y="298.60" width="69.40" height="69.00" fill="#e6e8ee"/>
<g fill="#9eb0e2" filter="url(#blur1)"><g opacity="0.3"><circle cx="67.5" cy="309.0" r="1.2"/><circle cx="59.9" cy="304.5" r="1.0"/><circle cx="51.3" cy="327.9" r="1.3"/><circle cx="110.8" cy="342.1" r="1.1"/><circle cx="85.1" cy="326.0" r="1.5"/><circle cx="53.2" cy="319.9" r="1.3"/><circle cx="52.2" cy="338.0" r="0.8"/><circle cx="83.0" cy="302.9" r="0.7"/><circle cx="85.6" cy="329.9" r="0.9"/><circle cx="69.7" cy="340.8" r="1.0"/><circle cx="111.5" cy="309.0" r="0.8"/><circle cx="90.7" cy="299.4" r="1.3"/><circle cx="56.3" cy="322.1" r="0.6"/><circle cx="46.8" cy="358.9" r="1.2"/><circle cx="68.8" cy="316.9" r="1.3"/><circle cx="81.0" cy="361.3" r="0.9"/><circle cx="82.0" cy="352.4" r="0.9"/><circle cx="87.6" cy="353.0" r="1.3"/><circle cx="100.9" cy="355.1" r="1.3"/><circle cx="58.9" cy="332.6" r="1.3"/><circle cx="111.3" cy="323.8" r="0.8"/><circle cx="77.1" cy="349.9" r="0.7"/><circle cx="90.6" cy="322.8" r="1.1"/><circle cx="46.5" cy="353.8" r="1.3"/><circle cx="81.5" cy="363.0" r="1.0"/><circle cx="55.5" cy="333.8" r="1.4"/><circle cx="87.2" cy="352.1" r="0.7"/><circle cx="92.4" cy="335.2" r="1.0"/><circle cx="106.3" cy="302.5" r="0.8"/><circle cx="98.6" cy="333.6" r="1.1"/><circle cx="54.5" cy="307.0" r="1.0"/><circle cx="89.7" cy="323.9" r="0.8"/><circle cx="106.4" cy="309.8" r="1.2"/><circle cx="46.4" cy="336.8" r="1.0"/><circle cx="71.7" cy="334.3" r="0.9"/><circle cx="52.8" cy="362.0" r="0.8"/><circle cx="50.8" cy="317.4" r="1.4"/><circle cx="84.6" cy="346.9" r="0.7"/><circle cx="110.1" cy="342.4" r="1.3"/><circle cx="87.2" cy="313.9" r="0.8"/><circle cx="88.1" cy="301.6" r="1.2"/><circle cx="79.7" cy="310.9" r="0.9"/><circle cx="95.6" cy="308.2" r="1.5"/><circle cx="105.4" cy="344.9" r="0.9"/><circle cx="67.5" cy="301.0" r="1.4"/><circle cx="64.4" cy="343.9" r="0.8"/><circle cx="47.9" cy="300.2" r="0.9"/><circle cx="50.9" cy="364.7" r="1.4"/><circle cx="54.7" cy="334.7" r="1.1"/><circle cx="111.4" cy="343.0" r="0.7"/><circle cx="62.0" cy="316.8" r="1.0"/><circle cx="81.5" cy="350.1" r="1.0"/><circle cx="103.7" cy="314.8" r="1.3"/><circle cx="50.3" cy="361.4" r="0.9"/><circle cx="87.8" cy="343.0" r="0.7"/><circle cx="71.8" cy="361.8" r="1.4"/><circle cx="54.2" cy="355.2" r="1.1"/><circle cx="97.1" cy="356.5" r="0.7"/><circle cx="49.5" cy="325.5" r="1.4"/><circle cx="70.0" cy="328.1" r="0.8"/><circle cx="78.7" cy="361.5" r="1.1"/><circle cx="96.3" cy="343.6" r="1.0"/><circle cx="65.9" cy="337.1" r="1.0"/><circle cx="74.7" cy="336.4" r="0.8"/><circle cx="53.7" cy="333.3" r="1.2"/><circle cx="75.9" cy="364.4" r="1.4"/><circle cx="104.4" cy="365.7" r="0.8"/><circle cx="60.5" cy="309.1" r="1.5"/><circle cx="50.9" cy="352.2" r="0.6"/><circle cx="106.4" cy="343.3" r="0.7"/><circle cx="91.3" cy="362.4" r="0.8"/><circle cx="49.7" cy="332.8" r="0.8"/><circle cx="52.6" cy="341.6" r="1.1"/><circle cx="76.2" cy="347.7" r="0.9"/><circle cx="114.2" cy="362.9" r="0.9"/><circle cx="75.7" cy="306.1" r="0.7"/><circle cx="69.4" cy="364.5" r="0.7"/><circle cx="47.8" cy="301.0" r="0.7"/><circle cx="70.2" cy="321.7" r="1.5"/><circle cx="110.7" cy="303.1" r="1.3"/><circle cx="99.8" cy="361.6" r="1.3"/><circle cx="66.1" cy="346.4" r="0.7"/><circle cx="50.5" cy="312.2" r="1.3"/><circle cx="67.6" cy="366.2" r="1.4"/><circle cx="113.6" cy="365.7" r="0.8"/><circle cx="63.1" cy="328.9" r="0.8"/><circle cx="61.1" cy="354.4" r="1.2"/><circle cx="108.5" cy="301.4" r="0.9"/><circle cx="48.5" cy="340.0" r="1.3"/><circle cx="86.9" cy="352.1" r="1.2"/><circle cx="52.3" cy="339.7" r="1.2"/><circle cx="47.7" cy="349.1" r="1.4"/><circle cx="83.2" cy="342.7" r="0.7"/><circle cx="89.7" cy="325.6" r="1.0"/><circle cx="75.1" cy="309.4" r="0.7"/><circle cx="73.2" cy="359.5" r="1.0"/><circle cx="56.9" cy="322.6" r="0.7"/><circle cx="109.2" cy="306.1" r="1.0"/><circle cx="66.8" cy="340.5" r="1.2"/><circle cx="107.8" cy="341.4" r="1.3"/><circle cx="103.7" cy="355.8" r="0.8"/><circle cx="53.5" cy="315.6" r="1.3"/><circle cx="47.9" cy="337.4" r="1.3"/><circle cx="51.4" cy="329.1" r="1.1"/><circle cx="107.1" cy="343.6" r="1.3"/><circle cx="104.5" cy="367.3" r="1.3"/><circle cx="58.4" cy="366.3" r="1.0"/><circle cx="80.1" cy="320.6" r="0.6"/><circle cx="107.1" cy="310.2" r="1.3"/><circle cx="83.5" cy="338.6" r="1.4"/><circle cx="55.1" cy="321.4" r="0.7"/><circle cx="60.8" cy="343.7" r="0.6"/><circle cx="60.6" cy="338.9" r="1.1"/><circle cx="70.4" cy="355.8" r="0.7"/><circle cx="110.0" cy="315.4" r="0.7"/><circle cx="75.8" cy="363.3" r="1.3"/><circle cx="56.5" cy="298.6" r="0.7"/><circle cx="73.2" cy="315.0" r="0.7"/><circle cx="45.9" cy="336.6" r="1.4"/><circle cx="112.4" cy="319.0" r="1.4"/><circle cx="50.9" cy="333.6" r="0.8"/><circle cx="88.2" cy="304.0" r="1.4"/><circle cx="47.3" cy="306.3" r="1.2"/><circle cx="68.9" cy="308.4" r="0.6"/><circle cx="54.6" cy="343.0" r="0.6"/><circle cx="52.4" cy="312.8" r="0.7"/><circle cx="110.9" cy="361.5" r="1.3"/><circle cx="102.3" cy="342.2" r="0.9"/><circle cx="81.0" cy="305.4" r="1.0"/><circle cx="82.3" cy="313.5" r="1.4"/><circle cx="59.0" cy="351.2" r="1.5"/><circle cx="69.1" cy="305.2" r="1.2"/><circle cx="63.1" cy="363.7" r="0.9"/><circle cx="102.4" cy="341.2" r="1.3"/><circle cx="95.2" cy="340.2" r="0.9"/><circle cx="114.0" cy="310.0" r="1.2"/><circle cx="65.6" cy="317.5" r="0.7"/><circle cx="64.5" cy="359.7" r="1.0"/><circle cx="93.7" cy="339.1" r="1.2"/><circle cx="99.0" cy="325.4" r="1.0"/><circle cx="47.6" cy="336.1" r="0.7"/><circle cx="81.2" cy="326.9" r="1.5"/><circle cx="113.7" cy="311.3" r="1.1"/><circle cx="58.4" cy="342.9" r="1.2"/><circle cx="77.5" cy="318.9" r="1.1"/><circle cx="99.1" cy="331.0" r="1.3"/><circle cx="55.6" cy="319.5" r="0.9"/><circle cx="102.5" cy="361.1" r="1.3"/><circle cx="87.2" cy="338.5" r="1.4"/><circle cx="106.3" cy="336.9" r="0.8"/><circle cx="56.4" cy="340.0" r="1.3"/><circle cx="50.2" cy="342.6" r="1.2"/><circle cx="101.1" cy="305.1" r="1.0"/><circle cx="53.9" cy="365.7" r="0.7"/><circle cx="48.4" cy="319.3" r="0.6"/><circle cx="102.0" cy="331.4" r="1.3"/><circle cx="97.9" cy="305.6" r="0.8"/><circle cx="74.3" cy="305.5" r="1.4"/><circle cx="94.3" cy="358.1" r="0.8"/><circle cx="67.1" cy="328.3" r="1.2"/><circle cx="84.9" cy="362.0" r="1.0"/><circle cx="113.1" cy="331.4" r="1.0"/><circle cx="46.1" cy="298.9" r="1.2"/><circle cx="113.5" cy="357.8" r="0.8"/><circle cx="54.0" cy="299.8" r="1.2"/><circle cx="77.0" cy="362.9" r="0.8"/><circle cx="75.4" cy="345.3" r="0.7"/><circle cx="99.5" cy="337.7" r="0.9"/><circle cx="68.0" cy="340.4" r="1.5"/><circle cx="86.7" cy="319.9" r="1.0"/><circle cx="71.1" cy="345.9" r="1.1"/><circle cx="63.6" cy="309.5" r="1.4"/><circle cx="92.5" cy="361.6" r="0.9"/><circle cx="97.1" cy="353.2" r="1.0"/><circle cx="67.3" cy="333.5" r="0.8"/><circle cx="85.1" cy="323.4" r="1.3"/><circle cx="62.1" cy="362.3" r="1.0"/><circle cx="86.4" cy="322.4" r="1.1"/><circle cx="111.9" cy="316.1" r="0.6"/><circle cx="114.0" cy="324.7" r="0.6"/><circle cx="83.7" cy="358.7" r="1.0"/><circle cx="51.2" cy="362.1" r="1.1"/><circle cx="49.1" cy="336.7" r="0.6"/><circle cx="48.9" cy="308.6" r="1.3"/><circle cx="52.3" cy="321.0" r="0.8"/><circle cx="71.0" cy="324.8" r="1.0"/><circle cx="108.5" cy="360.2" r="1.0"/><circle cx="100.4" cy="309.4" r="1.3"/><circle cx="109.8" cy="358.4" r="1.4"/><circle cx="76.3" cy="360.0" r="1.0"/><circle cx="79.1" cy="320.5" r="1.4"/><circle cx="109.2" cy="337.2" r="1.4"/><circle cx="60.1" cy="338.0" r="0.7"/><circle cx="94.1" cy="354.6" r="1.1"/><circle cx="103.4" cy="358.3" r="1.0"/><circle cx="47.5" cy="347.1" r="1.1"/><circle cx="69.7" cy="362.9" r="1.5"/><circle cx="99.1" cy="358.5" r="1.1"/><circle cx="80.6" cy="335.2" r="1.1"/><circle cx="61.9" cy="304.7" r="1.2"/><circle cx="52.1" cy="315.9" r="1.3"/><circle cx="61.5" cy="329.3" r="0.9"/><circle cx="85.7" cy="351.1" r="0.7"/><circle cx="73.2" cy="308.0" r="1.1"/><circle cx="55.2" cy="338.1" r="1.3"/><circle cx="52.6" cy="311.5" r="0.9"/><circle cx="98.9" cy="363.2" r="1.2"/><circle cx="88.3" cy="341.9" r="1.3"/><circle cx="107.6" cy="304.4" r="1.1"/><circle cx="101.8" cy="300.7" r="0.9"/><circle cx="80.6" cy="325.0" r="1.1"/><circle cx="83.6" cy="332.5" r="0.9"/><circle cx="65.5" cy="351.9" r="0.7"/><circle cx="71.9" cy="329.0" r="1.3"/><circle cx="81.2" cy="366.9" r="1.2"/><circle cx="73.9" cy="344.7" r="0.7"/><circle cx="104.0" cy="333.1" r="1.0"/><circle cx="59.2" cy="328.0" r="1.4"/><circle cx="110.8" cy="345.3" r="1.1"/><circle cx="88.8" cy="334.8" r="1.3"/><circle cx="89.2" cy="301.5" r="1.0"/><circle cx="72.6" cy="305.4" r="0.6"/><circle cx="105.5" cy="360.4" r="1.1"/><circle cx="84.9" cy="327.0" r="0.7"/><circle cx="81.0" cy="333.8" r="0.6"/><circle cx="49.4" cy="311.8" r="1.2"/><circle cx="48.8" cy="360.0" r="1.1"/><circle cx="75.5" cy="341.4" r="0.8"/><circle cx="56.1" cy="339.1" r="0.8"/><circle cx="62.5" cy="359.8" r="1.5"/><circle cx="61.9" cy="325.5" r="1.2"/><circle cx="73.7" cy="326.1" r="1.2"/><circle cx="102.3" cy="322.8" r="0.8"/><circle cx="54.0" cy="312.1" r="1.1"/><circle cx="83.5" cy="330.8" r="1.3"/><circle cx="80.0" cy="314.3" r="1.0"/><circle cx="47.0" cy="348.2" r="0.7"/><circle cx="72.1" cy="304.5" r="0.8"/><circle cx="108.4" cy="354.2" r="1.3"/><circle cx="49.6" cy="320.1" r="0.8"/><circle cx="98.8" cy="359.5" r="1.4"/><circle cx="108.3" cy="349.2" r="1.2"/><circle cx="93.3" cy="365.8" r="1.2"/><circle cx="61.4" cy="316.6" r="1.5"/><circle cx="54.2" cy="342.8" r="1.2"/><circle cx="88.7" cy="306.7" r="1.0"/><circle cx="58.7" cy="347.0" r="1.0"/><circle cx="58.2" cy="336.1" r="0.6"/><circle cx="103.1" cy="316.1" r="0.7"/><circle cx="88.5" cy="308.4" r="0.8"/><circle cx="75.8" cy="365.5" r="0.7"/><circle cx="94.3" cy="360.1" r="0.7"/><circle cx="91.2" cy="355.6" r="1.4"/><circle cx="81.8" cy="342.3" r="1.4"/><circle cx="81.8" cy="337.6" r="1.0"/><circle cx="52.8" cy="358.1" r="0.8"/><circle cx="58.0" cy="344.8" r="1.2"/><circle cx="83.4" cy="314.2" r="1.1"/><circle cx="83.2" cy="347.9" r="1.3"/><circle cx="102.6" cy="325.6" r="0.8"/><circle cx="49.0" cy="314.9" r="0.9"/><circle cx="93.7" cy="364.5" r="1.0"/><circle cx="95.1" cy="301.6" r="1.1"/><circle cx="69.7" cy="321.2" r="1.1"/><circle cx="109.2" cy="345.2" r="0.8"/><circle cx="78.6" cy="300.8" r="1.4"/><circle cx="72.3" cy="358.8" r="1.1"/><circle cx="70.0" cy="335.0" r="0.9"/><circle cx="66.8" cy="321.7" r="1.0"/><circle cx="46.4" cy="330.3" r="1.5"/><circle cx="47.4" cy="337.3" r="1.3"/><circle cx="100.0" cy="353.3" r="0.8"/><circle cx="107.1" cy="354.4" r="1.5"/><circle cx="73.1" cy="325.9" r="1.3"/><circle cx="112.4" cy="346.2" r="1.2"/><circle cx="82.9" cy="350.9" r="1.2"/><circle cx="93.9" cy="313.7" r="1.0"/><circle cx="107.0" cy="318.1" r="1.1"/><circle cx="89.6" cy="299.6" r="0.9"/></g><g opacity="0.42"><circle cx="79.5" cy="335.3" r="1.3"/><circle cx="113.0" cy="306.7" r="1.0"/><circle cx="50.4" cy="337.1" r="1.3"/><circle cx="68.6" cy="322.8" r="1.0"/><circle cx="71.8" cy="344.7" r="0.6"/><circle cx="98.3" cy="307.5" r="0.8"/><circle cx="108.6" cy="332.9" r="0.7"/><circle cx="64.3" cy="327.3" r="0.9"/><circle cx="63.2" cy="298.9" r="1.0"/><circle cx="110.9" cy="343.8" r="1.3"/><circle cx="72.8" cy="311.8" r="1.5"/><circle cx="89.0" cy="364.5" r="1.1"/><circle cx="53.5" cy="357.2" r="1.5"/><circle cx="80.8" cy="312.8" r="1.5"/><circle cx="65.7" cy="343.0" r="0.7"/><circle cx="111.4" cy="329.5" r="1.4"/><circle cx="68.1" cy="353.9" r="1.5"/><circle cx="56.8" cy="307.4" r="0.7"/><circle cx="101.0" cy="308.7" r="1.3"/><circle cx="102.3" cy="313.2" r="0.8"/><circle cx="74.1" cy="307.6" r="1.4"/><circle cx="77.9" cy="348.6" r="1.1"/><circle cx="58.8" cy="317.7" r="1.1"/><circle cx="80.2" cy="315.7" r="1.1"/><circle cx="109.0" cy="360.2" r="0.8"/><circle cx="91.6" cy="328.2" r="0.8"/><circle cx="112.1" cy="313.8" r="1.5"/><circle cx="56.2" cy="328.4" r="1.1"/><circle cx="74.2" cy="323.2" r="0.7"/><circle cx="100.5" cy="311.3" r="1.4"/><circle cx="76.5" cy="322.0" r="1.1"/><circle cx="112.3" cy="316.7" r="0.8"/><circle cx="88.6" cy="335.2" r="0.8"/><circle cx="83.2" cy="311.7" r="1.0"/><circle cx="52.4" cy="355.1" r="1.0"/><circle cx="82.9" cy="359.9" r="1.5"/><circle cx="103.1" cy="299.6" r="1.2"/><circle cx="74.9" cy="302.4" r="1.2"/><circle cx="93.1" cy="301.7" r="0.8"/><circle cx="69.7" cy="298.7" r="0.9"/><circle cx="90.6" cy="348.0" r="1.4"/><circle cx="98.0" cy="348.3" r="1.0"/><circle cx="54.2" cy="323.5" r="0.7"/><circle cx="96.3" cy="365.9" r="1.0"/><circle cx="84.4" cy="299.5" r="0.7"/><circle cx="112.5" cy="305.5" r="0.8"/><circle cx="65.2" cy="334.2" r="1.0"/><circle cx="98.2" cy="367.1" r="1.1"/><circle cx="112.9" cy="363.2" r="0.6"/><circle cx="50.3" cy="333.6" r="1.5"/><circle cx="85.4" cy="308.4" r="1.1"/><circle cx="93.8" cy="314.6" r="1.4"/><circle cx="76.3" cy="319.4" r="0.7"/><circle cx="71.1" cy="306.9" r="0.9"/><circle cx="94.5" cy="360.8" r="0.9"/><circle cx="66.9" cy="351.9" r="1.3"/><circle cx="73.5" cy="341.0" r="0.7"/><circle cx="89.6" cy="303.8" r="1.1"/><circle cx="83.2" cy="329.9" r="0.9"/><circle cx="68.7" cy="304.9" r="0.8"/><circle cx="101.2" cy="312.5" r="0.6"/><circle cx="71.6" cy="350.1" r="0.8"/><circle cx="68.5" cy="302.9" r="0.8"/><circle cx="53.8" cy="327.9" r="1.3"/><circle cx="110.3" cy="348.4" r="1.2"/><circle cx="61.1" cy="362.1" r="1.2"/><circle cx="111.8" cy="341.8" r="1.1"/><circle cx="45.1" cy="335.7" r="1.5"/><circle cx="111.6" cy="343.1" r="1.4"/><circle cx="81.5" cy="336.3" r="0.6"/><circle cx="93.9" cy="319.8" r="0.6"/><circle cx="93.3" cy="348.2" r="0.9"/><circle cx="61.0" cy="313.9" r="1.3"/><circle cx="54.8" cy="302.2" r="0.7"/><circle cx="90.3" cy="334.8" r="1.0"/><circle cx="91.1" cy="324.7" r="0.9"/><circle cx="71.4" cy="351.6" r="0.9"/><circle cx="108.8" cy="311.9" r="0.9"/><circle cx="47.1" cy="326.9" r="1.3"/><circle cx="62.8" cy="350.2" r="1.4"/><circle cx="63.2" cy="348.0" r="0.9"/><circle cx="78.0" cy="364.6" r="1.5"/><circle cx="63.4" cy="304.4" r="0.7"/><circle cx="82.4" cy="352.0" r="1.3"/><circle cx="55.6" cy="359.6" r="1.1"/><circle cx="52.1" cy="331.4" r="1.3"/><circle cx="109.6" cy="324.3" r="1.4"/><circle cx="47.6" cy="322.1" r="0.6"/><circle cx="106.3" cy="327.2" r="0.6"/><circle cx="54.0" cy="302.2" r="0.7"/><circle cx="65.9" cy="356.4" r="0.6"/><circle cx="47.9" cy="363.4" r="0.7"/><circle cx="91.4" cy="321.0" r="1.0"/><circle cx="83.2" cy="341.9" r="0.9"/><circle cx="66.4" cy="315.8" r="1.0"/><circle cx="99.1" cy="330.2" r="0.8"/><circle cx="72.8" cy="303.2" r="0.9"/><circle cx="47.8" cy="307.6" r="1.4"/><circle cx="92.6" cy="348.4" r="0.8"/><circle cx="73.0" cy="342.5" r="0.9"/><circle cx="98.3" cy="302.0" r="1.4"/><circle cx="47.3" cy="308.9" r="1.2"/><circle cx="74.0" cy="323.7" r="0.6"/><circle cx="49.4" cy="308.6" r="1.2"/><circle cx="89.5" cy="354.7" r="0.8"/><circle cx="99.3" cy="348.0" r="0.6"/><circle cx="96.7" cy="330.7" r="1.3"/><circle cx="103.4" cy="312.6" r="0.7"/><circle cx="58.3" cy="325.4" r="1.1"/><circle cx="61.2" cy="359.6" r="1.3"/><circle cx="96.1" cy="303.1" r="1.1"/><circle cx="49.6" cy="358.5" r="1.4"/><circle cx="54.2" cy="353.2" r="1.2"/><circle cx="67.1" cy="327.8" r="0.6"/><circle cx="109.5" cy="301.9" r="1.3"/><circle cx="98.4" cy="340.1" r="1.0"/><circle cx="87.9" cy="300.7" r="1.0"/><circle cx="99.6" cy="341.9" r="0.9"/><circle cx="109.4" cy="360.1" r="1.3"/><circle cx="106.7" cy="300.3" r="0.8"/><circle cx="97.3" cy="343.2" r="0.9"/><circle cx="96.5" cy="310.3" r="1.0"/><circle cx="113.1" cy="319.0" r="0.6"/><circle cx="86.9" cy="326.5" r="1.3"/><circle cx="94.5" cy="309.4" r="1.4"/><circle cx="90.9" cy="358.8" r="1.4"/><circle cx="59.2" cy="331.4" r="0.6"/><circle cx="95.6" cy="341.0" r="1.2"/><circle cx="64.0" cy="326.2" r="0.6"/><circle cx="112.4" cy="367.2" r="1.5"/><circle cx="69.5" cy="342.7" r="1.3"/><circle cx="63.6" cy="324.6" r="0.8"/><circle cx="92.1" cy="331.8" r="1.3"/><circle cx="69.8" cy="343.8" r="0.9"/><circle cx="74.7" cy="342.6" r="1.2"/><circle cx="45.8" cy="364.3" r="1.2"/><circle cx="98.9" cy="322.5" r="0.7"/><circle cx="102.4" cy="331.3" r="1.1"/><circle cx="77.4" cy="308.6" r="1.0"/><circle cx="46.4" cy="301.8" r="1.3"/><circle cx="47.4" cy="348.2" r="1.2"/><circle cx="83.5" cy="361.6" r="0.9"/><circle cx="74.3" cy="336.8" r="1.3"/><circle cx="69.6" cy="332.7" r="0.9"/><circle cx="105.6" cy="322.4" r="0.8"/><circle cx="100.0" cy="321.4" r="0.9"/><circle cx="79.5" cy="334.6" r="1.3"/><circle cx="76.3" cy="350.0" r="1.4"/><circle cx="97.7" cy="318.8" r="1.1"/><circle cx="92.7" cy="341.3" r="1.0"/><circle cx="95.6" cy="310.1" r="1.4"/><circle cx="70.2" cy="343.1" r="1.2"/><circle cx="78.1" cy="352.3" r="1.0"/><circle cx="101.0" cy="318.1" r="0.6"/><circle cx="82.2" cy="323.1" r="0.7"/><circle cx="58.3" cy="311.1" r="1.2"/><circle cx="70.8" cy="330.6" r="0.7"/><circle cx="78.8" cy="337.7" r="0.8"/><circle cx="60.4" cy="301.3" r="0.8"/><circle cx="62.9" cy="334.0" r="1.3"/><circle cx="99.0" cy="364.7" r="1.4"/><circle cx="103.5" cy="342.0" r="1.0"/><circle cx="67.4" cy="314.7" r="0.7"/><circle cx="63.5" cy="327.0" r="0.7"/><circle cx="84.6" cy="319.1" r="1.3"/><circle cx="62.9" cy="312.5" r="0.9"/><circle cx="114.3" cy="362.4" r="0.7"/><circle cx="73.8" cy="309.8" r="1.3"/><circle cx="64.9" cy="323.4" r="0.6"/><circle cx="50.5" cy="304.6" r="1.1"/><circle cx="108.6" cy="334.4" r="0.9"/><circle cx="63.5" cy="311.4" r="1.3"/><circle cx="53.4" cy="347.9" r="1.3"/><circle cx="65.2" cy="306.0" r="1.3"/><circle cx="46.3" cy="362.5" r="1.3"/><circle cx="94.8" cy="301.7" r="0.7"/><circle cx="74.2" cy="356.5" r="1.1"/><circle cx="112.4" cy="302.2" r="0.9"/><circle cx="48.7" cy="334.3" r="1.5"/><circle cx="62.3" cy="327.7" r="1.2"/><circle cx="80.0" cy="300.0" r="0.7"/><circle cx="88.1" cy="315.9" r="1.1"/><circle cx="61.4" cy="301.3" r="0.7"/><circle cx="75.5" cy="333.9" r="1.4"/><circle cx="60.4" cy="325.3" r="1.1"/><circle cx="77.0" cy="336.4" r="1.2"/><circle cx="109.1" cy="309.8" r="1.5"/><circle cx="51.6" cy="357.7" r="1.4"/><circle cx="87.1" cy="324.8" r="1.0"/><circle cx="82.3" cy="354.0" r="1.0"/><circle cx="85.4" cy="304.7" r="1.4"/><circle cx="112.2" cy="340.6" r="0.8"/><circle cx="46.8" cy="316.3" r="1.4"/><circle cx="108.9" cy="352.0" r="1.1"/><circle cx="80.9" cy="334.3" r="1.2"/><circle cx="77.2" cy="301.4" r="1.2"/><circle cx="55.7" cy="311.6" r="1.0"/><circle cx="75.5" cy="341.7" r="1.5"/><circle cx="93.0" cy="350.1" r="0.7"/><circle cx="57.2" cy="343.9" r="0.9"/><circle cx="101.9" cy="366.9" r="1.4"/><circle cx="66.3" cy="346.3" r="0.6"/><circle cx="58.6" cy="333.0" r="1.1"/><circle cx="98.5" cy="320.9" r="1.2"/><circle cx="100.0" cy="315.4" r="0.8"/><circle cx="71.3" cy="299.1" r="1.4"/><circle cx="84.0" cy="306.5" r="1.1"/><circle cx="68.3" cy="343.5" r="1.5"/><circle cx="77.4" cy="322.4" r="1.0"/><circle cx="56.1" cy="323.0" r="1.3"/><circle cx="88.7" cy="338.7" r="0.9"/><circle cx="110.4" cy="367.5" r="1.1"/><circle cx="80.6" cy="336.0" r="0.8"/><circle cx="101.7" cy="326.1" r="0.9"/><circle cx="93.5" cy="315.7" r="1.4"/><circle cx="107.9" cy="305.3" r="0.9"/><circle cx="73.1" cy="340.6" r="1.0"/><circle cx="87.7" cy="313.8" r="1.1"/><circle cx="76.4" cy="302.3" r="1.2"/><circle cx="91.7" cy="357.0" r="1.3"/><circle cx="69.8" cy="327.0" r="0.8"/><circle cx="54.5" cy="346.0" r="1.0"/><circle cx="61.5" cy="315.3" r="1.1"/><circle cx="106.4" cy="308.4" r="1.1"/><circle cx="92.0" cy="309.3" r="1.5"/><circle cx="102.7" cy="306.5" r="0.9"/><circle cx="78.8" cy="301.6" r="1.4"/><circle cx="56.2" cy="329.3" r="1.1"/><circle cx="56.7" cy="303.6" r="0.6"/><circle cx="63.4" cy="343.1" r="1.5"/><circle cx="46.9" cy="352.0" r="1.4"/><circle cx="87.8" cy="324.8" r="1.2"/><circle cx="67.2" cy="324.0" r="1.1"/><circle cx="73.0" cy="302.1" r="0.8"/><circle cx="104.0" cy="331.7" r="0.8"/><circle cx="69.2" cy="312.1" r="0.7"/><circle cx="50.7" cy="354.5" r="1.3"/><circle cx="87.3" cy="319.1" r="1.1"/><circle cx="78.4" cy="343.3" r="0.9"/><circle cx="85.2" cy="336.9" r="1.4"/><circle cx="96.0" cy="361.3" r="1.1"/><circle cx="88.5" cy="364.9" r="1.1"/><circle cx="105.4" cy="310.2" r="1.3"/><circle cx="100.8" cy="349.4" r="0.6"/><circle cx="53.5" cy="324.3" r="1.3"/><circle cx="93.2" cy="300.1" r="1.5"/><circle cx="52.9" cy="300.0" r="0.7"/><circle cx="91.5" cy="356.3" r="1.1"/><circle cx="82.4" cy="346.2" r="1.3"/><circle cx="57.7" cy="355.1" r="1.2"/><circle cx="103.5" cy="365.4" r="1.2"/><circle cx="85.9" cy="301.6" r="0.8"/><circle cx="95.5" cy="321.5" r="1.0"/><circle cx="88.8" cy="348.8" r="0.7"/><circle cx="98.7" cy="342.3" r="1.2"/><circle cx="67.4" cy="366.8" r="1.0"/><circle cx="54.4" cy="299.1" r="1.4"/><circle cx="85.7" cy="308.5" r="1.2"/><circle cx="95.4" cy="336.6" r="1.4"/><circle cx="57.4" cy="338.7" r="1.5"/><circle cx="103.2" cy="320.6" r="0.8"/></g><g opacity="0.55"><circle cx="102.0" cy="305.1" r="1.1"/><circle cx="83.6" cy="307.8" r="1.0"/><circle cx="93.5" cy="315.4" r="1.1"/><circle cx="79.4" cy="322.3" r="1.0"/><circle cx="55.5" cy="332.3" r="0.6"/><circle cx="49.8" cy="305.1" r="0.8"/><circle cx="91.1" cy="302.8" r="1.2"/><circle cx="85.1" cy="345.6" r="1.0"/><circle cx="83.1" cy="359.6" r="1.3"/><circle cx="87.3" cy="320.6" r="0.7"/><circle cx="107.4" cy="352.4" r="1.4"/><circle cx="72.2" cy="326.1" r="0.7"/><circle cx="84.3" cy="335.6" r="1.5"/><circle cx="78.3" cy="320.1" r="0.7"/><circle cx="55.2" cy="336.1" r="0.6"/><circle cx="99.8" cy="331.2" r="0.8"/><circle cx="77.6" cy="321.9" r="1.0"/><circle cx="103.3" cy="331.7" r="1.2"/><circle cx="50.9" cy="344.2" r="1.4"/><circle cx="97.1" cy="331.6" r="0.8"/><circle cx="79.8" cy="351.3" r="0.9"/><circle cx="107.3" cy="344.3" r="1.3"/><circle cx="74.2" cy="361.9" r="1.1"/><circle cx="75.8" cy="340.9" r="1.1"/><circle cx="99.4" cy="360.5" r="0.7"/><circle cx="63.8" cy="307.5" r="1.0"/><circle cx="101.8" cy="316.4" r="0.7"/><circle cx="114.0" cy="301.1" r="0.6"/><circle cx="92.7" cy="366.4" r="0.9"/><circle cx="75.9" cy="316.8" r="1.5"/><circle cx="51.3" cy="355.0" r="0.7"/><circle cx="95.3" cy="343.0" r="0.6"/><circle cx="106.9" cy="341.9" r="1.3"/><circle cx="102.4" cy="338.9" r="1.4"/><circle cx="83.8" cy="341.9" r="1.2"/><circle cx="96.9" cy="333.3" r="1.1"/><circle cx="68.0" cy="343.6" r="1.2"/><circle cx="72.3" cy="309.6" r="1.5"/><circle cx="64.5" cy="302.2" r="1.2"/><circle cx="109.9" cy="315.8" r="0.8"/><circle cx="106.4" cy="354.6" r="1.2"/><circle cx="83.1" cy="348.3" r="0.6"/><circle cx="77.8" cy="322.3" r="0.9"/><circle cx="51.4" cy="360.5" r="0.9"/><circle cx="112.2" cy="332.4" r="0.7"/><circle cx="93.5" cy="306.3" r="0.7"/><circle cx="110.5" cy="311.8" r="0.8"/><circle cx="58.7" cy="353.6" r="1.3"/><circle cx="78.7" cy="361.4" r="0.7"/><circle cx="55.2" cy="325.7" r="0.8"/><circle cx="51.1" cy="347.3" r="0.8"/><circle cx="65.6" cy="348.4" r="1.1"/><circle cx="109.4" cy="311.2" r="1.3"/><circle cx="67.7" cy="320.6" r="0.9"/><circle cx="73.3" cy="343.4" r="1.0"/><circle cx="73.9" cy="341.4" r="1.2"/><circle cx="65.4" cy="337.7" r="0.9"/><circle cx="49.5" cy="316.0" r="0.8"/><circle cx="101.8" cy="326.8" r="0.9"/><circle cx="66.7" cy="312.6" r="1.3"/><circle cx="78.6" cy="326.8" r="1.3"/><circle cx="72.6" cy="317.3" r="1.5"/><circle cx="66.3" cy="364.4" r="0.9"/><circle cx="51.2" cy="341.5" r="0.9"/><circle cx="89.4" cy="357.7" r="1.2"/><circle cx="76.0" cy="328.8" r="0.6"/><circle cx="113.4" cy="330.7" r="1.0"/><circle cx="99.0" cy="333.9" r="0.6"/><circle cx="87.4" cy="316.0" r="0.9"/><circle cx="64.1" cy="354.9" r="0.7"/><circle cx="111.9" cy="331.7" r="1.1"/><circle cx="62.5" cy="335.6" r="1.4"/><circle cx="100.4" cy="316.9" r="1.5"/><circle cx="57.3" cy="349.9" r="0.6"/><circle cx="62.6" cy="342.7" r="1.5"/><circle cx="109.4" cy="360.4" r="1.3"/><circle cx="84.4" cy="319.6" r="1.1"/><circle cx="72.9" cy="316.8" r="0.6"/><circle cx="102.0" cy="360.2" r="1.1"/><circle cx="73.7" cy="334.4" r="1.2"/><circle cx="49.4" cy="341.8" r="1.5"/><circle cx="57.2" cy="367.4" r="0.8"/><circle cx="47.7" cy="321.8" r="1.3"/><circle cx="110.4" cy="316.8" r="0.6"/><circle cx="83.4" cy="328.7" r="1.3"/><circle cx="108.0" cy="342.1" r="1.2"/><circle cx="103.4" cy="335.6" r="1.0"/><circle cx="93.4" cy="357.8" r="1.0"/><circle cx="58.8" cy="364.5" r="1.1"/><circle cx="84.9" cy="318.4" r="1.0"/><circle cx="112.1" cy="339.5" r="1.5"/><circle cx="110.1" cy="314.6" r="0.7"/><circle cx="98.2" cy="332.4" r="1.5"/><circle cx="74.7" cy="336.2" r="0.8"/><circle cx="61.2" cy="330.4" r="1.1"/><circle cx="81.2" cy="358.5" r="1.0"/><circle cx="85.2" cy="307.3" r="1.0"/><circle cx="61.5" cy="311.8" r="0.9"/><circle cx="67.8" cy="311.7" r="1.5"/><circle cx="71.7" cy="366.5" r="1.3"/><circle cx="72.7" cy="353.2" r="1.2"/><circle cx="91.4" cy="343.6" r="1.4"/><circle cx="93.6" cy="357.4" r="1.2"/><circle cx="53.6" cy="328.4" r="0.8"/><circle cx="51.8" cy="327.6" r="1.3"/><circle cx="76.6" cy="341.5" r="1.0"/><circle cx="81.0" cy="305.6" r="1.1"/><circle cx="108.5" cy="342.0" r="1.2"/><circle cx="63.4" cy="314.1" r="1.3"/><circle cx="59.7" cy="307.5" r="1.3"/><circle cx="81.8" cy="322.4" r="1.1"/><circle cx="99.9" cy="310.2" r="1.4"/><circle cx="112.8" cy="304.8" r="1.4"/><circle cx="99.7" cy="356.5" r="0.8"/><circle cx="59.8" cy="304.0" r="1.4"/><circle cx="103.3" cy="330.9" r="1.1"/><circle cx="65.6" cy="330.7" r="1.0"/><circle cx="51.6" cy="344.1" r="0.9"/><circle cx="72.7" cy="336.8" r="1.0"/><circle cx="99.8" cy="361.4" r="1.2"/><circle cx="55.2" cy="345.1" r="1.2"/><circle cx="50.8" cy="301.3" r="1.2"/><circle cx="70.6" cy="355.4" r="1.3"/><circle cx="92.2" cy="339.6" r="1.5"/><circle cx="50.8" cy="331.2" r="1.4"/><circle cx="98.7" cy="347.8" r="1.4"/><circle cx="94.8" cy="299.4" r="0.6"/><circle cx="87.3" cy="320.4" r="1.5"/><circle cx="88.2" cy="343.5" r="1.3"/><circle cx="65.0" cy="308.3" r="1.4"/><circle cx="55.2" cy="365.9" r="1.3"/><circle cx="82.5" cy="332.0" r="0.9"/><circle cx="109.7" cy="314.7" r="1.1"/><circle cx="72.4" cy="347.5" r="1.4"/><circle cx="85.2" cy="360.5" r="1.4"/><circle cx="51.5" cy="312.7" r="1.4"/><circle cx="74.6" cy="363.9" r="1.3"/><circle cx="104.9" cy="342.7" r="1.4"/><circle cx="111.6" cy="316.3" r="1.1"/><circle cx="76.1" cy="309.6" r="1.5"/><circle cx="92.0" cy="319.2" r="1.1"/><circle cx="54.9" cy="313.9" r="0.7"/><circle cx="55.6" cy="334.0" r="1.2"/><circle cx="55.0" cy="342.7" r="1.0"/><circle cx="68.7" cy="308.3" r="0.6"/><circle cx="81.2" cy="314.5" r="0.8"/><circle cx="97.8" cy="310.7" r="0.7"/><circle cx="45.7" cy="346.4" r="1.1"/><circle cx="73.4" cy="351.2" r="0.7"/><circle cx="46.2" cy="340.0" r="1.1"/><circle cx="110.8" cy="299.9" r="1.2"/><circle cx="61.7" cy="321.7" r="1.0"/><circle cx="100.8" cy="361.6" r="1.3"/><circle cx="47.4" cy="342.9" r="0.8"/><circle cx="89.9" cy="306.9" r="1.1"/><circle cx="85.1" cy="317.5" r="1.3"/><circle cx="82.9" cy="356.5" r="1.1"/><circle cx="87.1" cy="322.6" r="1.2"/><circle cx="87.8" cy="357.2" r="1.3"/><circle cx="63.6" cy="342.1" r="1.2"/><circle cx="53.8" cy="358.7" r="0.6"/><circle cx="85.7" cy="333.0" r="1.5"/><circle cx="55.4" cy="357.2" r="0.9"/><circle cx="65.0" cy="322.9" r="0.9"/><circle cx="83.5" cy="325.1" r="0.9"/><circle cx="73.4" cy="333.2" r="1.2"/><circle cx="67.1" cy="366.1" r="1.3"/><circle cx="80.0" cy="311.6" r="0.8"/><circle cx="84.2" cy="306.0" r="1.1"/><circle cx="56.8" cy="334.7" r="1.3"/><circle cx="74.9" cy="353.8" r="1.2"/><circle cx="64.1" cy="300.9" r="1.2"/><circle cx="107.4" cy="354.9" r="0.9"/><circle cx="91.1" cy="322.2" r="0.7"/><circle cx="85.8" cy="324.0" r="0.8"/><circle cx="80.4" cy="307.3" r="1.3"/><circle cx="67.3" cy="344.3" r="0.7"/><circle cx="110.0" cy="310.8" r="0.9"/><circle cx="93.0" cy="360.5" r="0.6"/><circle cx="55.8" cy="349.5" r="1.1"/><circle cx="89.3" cy="311.0" r="1.4"/><circle cx="79.6" cy="334.5" r="1.4"/><circle cx="92.5" cy="322.7" r="0.6"/><circle cx="64.9" cy="301.6" r="1.4"/><circle cx="99.9" cy="313.1" r="1.4"/><circle cx="108.4" cy="327.4" r="1.3"/><circle cx="110.7" cy="327.9" r="1.4"/><circle cx="79.9" cy="346.1" r="1.4"/><circle cx="97.9" cy="301.6" r="1.2"/><circle cx="63.1" cy="336.3" r="1.5"/><circle cx="50.8" cy="348.1" r="1.5"/><circle cx="89.7" cy="341.9" r="1.4"/><circle cx="93.5" cy="343.7" r="0.7"/><circle cx="70.5" cy="365.0" r="1.1"/><circle cx="56.7" cy="352.7" r="1.3"/><circle cx="84.3" cy="341.9" r="1.3"/><circle cx="79.7" cy="309.5" r="0.9"/><circle cx="45.2" cy="356.6" r="1.4"/><circle cx="74.5" cy="318.1" r="1.2"/><circle cx="71.3" cy="298.9" r="1.3"/><circle cx="80.9" cy="328.2" r="1.1"/><circle cx="105.1" cy="365.8" r="1.5"/><circle cx="92.1" cy="329.5" r="0.7"/><circle cx="60.8" cy="365.4" r="0.8"/><circle cx="92.2" cy="353.8" r="0.7"/><circle cx="84.1" cy="352.1" r="0.7"/><circle cx="94.1" cy="328.0" r="1.4"/><circle cx="113.6" cy="312.5" r="0.7"/><circle cx="57.9" cy="336.8" r="0.9"/><circle cx="46.0" cy="322.2" r="0.7"/><circle cx="64.0" cy="333.1" r="0.8"/><circle cx="84.8" cy="338.9" r="0.7"/><circle cx="92.3" cy="319.6" r="1.3"/><circle cx="70.2" cy="357.5" r="0.8"/><circle cx="94.7" cy="321.7" r="1.2"/><circle cx="50.1" cy="311.7" r="1.4"/><circle cx="58.7" cy="349.2" r="1.5"/><circle cx="48.4" cy="303.7" r="1.3"/><circle cx="68.7" cy="308.0" r="0.8"/><circle cx="59.7" cy="321.1" r="1.3"/></g></g>
<g filter="url(#blur2)"><ellipse cx="68.5" cy="352.4" rx="2.1" ry="1.4" fill="#9a6a44" opacity="0.6" transform="rotate(156 68.5 352.4)"/><circle cx="68.7" cy="352.2" r="0.9" fill="#7e4a26" opacity="0.55"/></g>
</g>
<rect x="45.00" y="298.60" width="69.40" height="69.00" fill="none" stroke="#2a2a2a" stroke-width="1.2"/>
<clipPath id="h2"><rect x="116.2" y="298.6" width="69.4" height="69.0"/></clipPath>
<g clip-path="url(#h2)">
<rect x="116.20" y="298.60" width="69.40" height="69.00" fill="#e6e8ee"/>
<g fill="#9eb0e2" filter="url(#blur1)"><g opacity="0.3"><circle cx="165.5" cy="356.2" r="0.7"/><circle cx="127.0" cy="308.4" r="1.3"/><circle cx="126.7" cy="342.0" r="1.0"/><circle cx="148.1" cy="320.9" r="1.4"/><circle cx="160.8" cy="319.2" r="1.5"/><circle cx="182.4" cy="308.0" r="0.9"/><circle cx="139.2" cy="332.1" r="1.4"/><circle cx="138.4" cy="340.7" r="1.5"/><circle cx="141.2" cy="352.4" r="1.4"/><circle cx="117.9" cy="306.3" r="1.5"/><circle cx="123.0" cy="310.2" r="1.2"/><circle cx="177.4" cy="366.2" r="0.6"/><circle cx="130.2" cy="341.9" r="0.6"/><circle cx="151.2" cy="314.6" r="1.0"/><circle cx="166.8" cy="301.9" r="1.4"/><circle cx="177.2" cy="306.9" r="1.0"/><circle cx="126.5" cy="349.5" r="1.1"/><circle cx="153.0" cy="356.5" r="1.5"/><circle cx="140.5" cy="313.4" r="1.5"/><circle cx="134.9" cy="365.3" r="0.8"/><circle cx="144.5" cy="337.0" r="0.9"/><circle cx="172.0" cy="360.6" r="1.2"/><circle cx="171.1" cy="358.6" r="0.9"/><circle cx="124.7" cy="309.2" r="0.8"/><circle cx="164.4" cy="329.6" r="1.0"/><circle cx="139.8" cy="324.9" r="0.6"/><circle cx="166.0" cy="317.5" r="0.9"/><circle cx="146.1" cy="340.5" r="0.8"/><circle cx="142.9" cy="338.5" r="1.4"/><circle cx="184.1" cy="357.4" r="1.1"/><circle cx="128.4" cy="303.1" r="1.0"/><circle cx="154.6" cy="351.7" r="1.3"/><circle cx="122.4" cy="357.1" r="1.1"/><circle cx="174.7" cy="308.3" r="1.0"/><circle cx="154.8" cy="333.9" r="1.0"/><circle cx="175.7" cy="316.3" r="0.8"/><circle cx="130.1" cy="362.0" r="1.1"/><circle cx="158.6" cy="326.6" r="1.3"/><circle cx="168.2" cy="353.9" r="1.1"/><circle cx="126.3" cy="361.9" r="0.8"/><circle cx="148.5" cy="312.5" r="0.7"/><circle cx="125.5" cy="309.6" r="1.0"/><circle cx="126.9" cy="361.5" r="0.9"/><circle cx="124.1" cy="355.8" r="0.7"/><circle cx="150.2" cy="299.8" r="1.3"/><circle cx="180.4" cy="300.8" r="1.1"/><circle cx="140.1" cy="363.8" r="1.2"/><circle cx="176.8" cy="331.7" r="0.7"/><circle cx="153.4" cy="306.7" r="1.0"/><circle cx="155.6" cy="301.5" r="0.8"/><circle cx="135.9" cy="336.9" r="1.5"/><circle cx="166.6" cy="335.5" r="0.8"/><circle cx="155.8" cy="346.1" r="0.8"/><circle cx="159.5" cy="306.2" r="1.1"/><circle cx="170.0" cy="334.0" r="1.3"/><circle cx="121.3" cy="321.9" r="0.7"/><circle cx="122.0" cy="351.0" r="1.1"/><circle cx="163.3" cy="309.0" r="0.9"/><circle cx="118.8" cy="334.9" r="0.9"/><circle cx="116.5" cy="332.3" r="0.6"/><circle cx="144.5" cy="335.7" r="0.8"/><circle cx="163.6" cy="301.5" r="1.3"/><circle cx="143.2" cy="321.6" r="0.7"/><circle cx="116.8" cy="357.5" r="0.7"/><circle cx="178.0" cy="348.9" r="1.3"/><circle cx="126.2" cy="339.1" r="1.1"/><circle cx="159.7" cy="315.3" r="1.3"/><circle cx="150.6" cy="301.9" r="1.1"/><circle cx="167.4" cy="310.4" r="0.9"/><circle cx="129.9" cy="320.7" r="1.0"/><circle cx="175.3" cy="307.0" r="1.0"/><circle cx="158.0" cy="323.4" r="1.5"/><circle cx="174.1" cy="347.7" r="1.4"/><circle cx="120.8" cy="298.8" r="1.1"/><circle cx="170.7" cy="345.5" r="1.4"/><circle cx="158.2" cy="333.7" r="1.1"/><circle cx="137.7" cy="323.4" r="1.1"/><circle cx="153.5" cy="300.7" r="1.3"/><circle cx="151.7" cy="339.2" r="0.8"/><circle cx="183.5" cy="359.3" r="1.2"/><circle cx="168.9" cy="303.9" r="1.4"/><circle cx="146.6" cy="312.2" r="1.2"/><circle cx="160.1" cy="367.0" r="0.9"/><circle cx="167.5" cy="346.3" r="1.0"/><circle cx="172.0" cy="330.0" r="0.7"/><circle cx="153.1" cy="300.5" r="1.3"/><circle cx="177.6" cy="332.0" r="1.2"/><circle cx="116.7" cy="312.7" r="0.9"/><circle cx="157.8" cy="302.9" r="0.8"/><circle cx="116.5" cy="337.7" r="1.3"/><circle cx="160.2" cy="349.8" r="0.6"/><circle cx="119.6" cy="315.2" r="1.4"/><circle cx="180.0" cy="316.7" r="0.7"/><circle cx="157.5" cy="353.8" r="0.7"/><circle cx="184.0" cy="336.3" r="0.9"/><circle cx="122.3" cy="315.1" r="1.4"/><circle cx="126.5" cy="340.4" r="1.5"/><circle cx="168.4" cy="304.1" r="0.6"/><circle cx="174.9" cy="300.6" r="0.9"/><circle cx="135.2" cy="315.8" r="1.0"/><circle cx="145.7" cy="321.8" r="0.7"/><circle cx="164.1" cy="365.4" r="0.7"/><circle cx="134.3" cy="348.0" r="1.5"/><circle cx="135.9" cy="325.6" r="0.9"/><circle cx="121.0" cy="303.3" r="1.0"/><circle cx="164.6" cy="310.6" r="1.5"/><circle cx="176.0" cy="330.4" r="0.9"/><circle cx="118.3" cy="355.8" r="0.8"/><circle cx="171.9" cy="344.9" r="0.8"/><circle cx="162.1" cy="320.1" r="0.8"/><circle cx="133.8" cy="304.7" r="1.1"/><circle cx="120.7" cy="299.6" r="1.4"/><circle cx="181.2" cy="323.1" r="1.1"/><circle cx="127.7" cy="344.4" r="1.4"/><circle cx="136.0" cy="324.9" r="1.3"/><circle cx="132.9" cy="360.2" r="0.8"/><circle cx="119.7" cy="344.4" r="1.4"/><circle cx="135.8" cy="331.2" r="1.0"/><circle cx="148.1" cy="347.7" r="0.7"/><circle cx="147.0" cy="315.1" r="0.9"/><circle cx="123.8" cy="363.7" r="1.1"/><circle cx="152.4" cy="333.8" r="0.9"/><circle cx="178.8" cy="343.0" r="1.2"/><circle cx="127.7" cy="323.4" r="1.0"/><circle cx="162.9" cy="313.2" r="1.4"/><circle cx="135.0" cy="365.9" r="1.3"/><circle cx="144.4" cy="322.3" r="1.2"/><circle cx="155.7" cy="351.7" r="0.8"/><circle cx="155.2" cy="347.7" r="0.7"/><circle cx="155.2" cy="317.5" r="1.0"/><circle cx="185.5" cy="307.9" r="0.9"/><circle cx="171.0" cy="316.1" r="1.1"/><circle cx="144.5" cy="302.2" r="1.4"/><circle cx="183.3" cy="361.0" r="0.7"/><circle cx="172.2" cy="343.7" r="1.1"/><circle cx="171.8" cy="360.6" r="1.5"/><circle cx="128.8" cy="346.4" r="0.8"/><circle cx="144.8" cy="364.6" r="0.8"/><circle cx="164.9" cy="302.5" r="1.2"/><circle cx="139.8" cy="351.1" r="1.5"/><circle cx="169.4" cy="319.4" r="0.8"/><circle cx="166.6" cy="317.4" r="0.7"/><circle cx="174.3" cy="304.5" r="0.8"/><circle cx="132.2" cy="316.9" r="1.2"/><circle cx="117.5" cy="306.5" r="1.4"/><circle cx="120.0" cy="304.4" r="0.7"/><circle cx="120.6" cy="302.2" r="1.5"/><circle cx="126.0" cy="340.4" r="1.5"/><circle cx="122.7" cy="344.4" r="1.1"/><circle cx="164.2" cy="341.0" r="1.4"/><circle cx="184.6" cy="367.3" r="1.4"/><circle cx="138.1" cy="318.8" r="0.9"/><circle cx="146.6" cy="304.5" r="1.0"/><circle cx="125.6" cy="306.0" r="0.7"/><circle cx="173.0" cy="340.3" r="1.0"/><circle cx="172.5" cy="351.0" r="1.0"/><circle cx="123.6" cy="354.7" r="0.9"/><circle cx="126.5" cy="357.6" r="0.9"/><circle cx="140.1" cy="352.9" r="0.8"/><circle cx="159.1" cy="325.8" r="0.9"/><circle cx="168.6" cy="315.5" r="1.4"/><circle cx="125.5" cy="335.8" r="0.9"/><circle cx="140.2" cy="356.8" r="1.4"/><circle cx="141.2" cy="303.0" r="0.7"/><circle cx="145.1" cy="359.4" r="1.2"/><circle cx="164.5" cy="307.2" r="1.4"/><circle cx="148.2" cy="337.9" r="0.6"/><circle cx="183.7" cy="332.5" r="1.3"/><circle cx="175.3" cy="347.9" r="1.2"/><circle cx="151.6" cy="363.0" r="1.1"/><circle cx="126.8" cy="328.8" r="0.6"/><circle cx="131.2" cy="342.0" r="0.6"/><circle cx="171.9" cy="360.9" r="0.7"/><circle cx="153.6" cy="314.6" r="1.3"/><circle cx="119.8" cy="363.7" r="1.0"/><circle cx="139.5" cy="351.5" r="0.8"/><circle cx="137.2" cy="309.8" r="0.8"/><circle cx="149.9" cy="363.8" r="1.0"/><circle cx="148.9" cy="333.7" r="1.1"/><circle cx="162.2" cy="349.3" r="1.5"/><circle cx="157.1" cy="345.3" r="0.9"/><circle cx="154.3" cy="326.4" r="0.8"/><circle cx="158.5" cy="337.6" r="1.4"/><circle cx="127.3" cy="346.2" r="0.6"/><circle cx="183.6" cy="361.2" r="0.7"/><circle cx="154.4" cy="362.2" r="0.7"/><circle cx="143.0" cy="305.0" r="1.4"/><circle cx="157.6" cy="366.0" r="0.6"/><circle cx="159.9" cy="306.4" r="0.7"/><circle cx="129.9" cy="323.3" r="1.4"/><circle cx="144.6" cy="329.4" r="1.0"/><circle cx="185.2" cy="347.3" r="0.8"/><circle cx="120.3" cy="335.2" r="1.2"/><circle cx="170.6" cy="336.4" r="1.4"/><circle cx="162.0" cy="333.9" r="0.7"/><circle cx="179.7" cy="337.3" r="0.7"/><circle cx="171.9" cy="352.8" r="1.1"/><circle cx="174.8" cy="323.6" r="1.2"/><circle cx="178.3" cy="311.8" r="1.5"/><circle cx="150.1" cy="317.6" r="1.4"/><circle cx="170.1" cy="305.7" r="0.8"/><circle cx="121.8" cy="329.6" r="0.9"/><circle cx="149.4" cy="304.6" r="1.4"/><circle cx="131.1" cy="340.1" r="1.4"/><circle cx="166.8" cy="322.3" r="1.4"/><circle cx="129.1" cy="333.1" r="0.9"/><circle cx="179.1" cy="314.0" r="1.4"/><circle cx="153.2" cy="357.6" r="1.0"/><circle cx="145.1" cy="331.0" r="0.9"/><circle cx="124.5" cy="320.6" r="1.4"/><circle cx="135.8" cy="321.4" r="1.1"/><circle cx="138.0" cy="300.6" r="0.8"/><circle cx="164.5" cy="331.8" r="1.4"/><circle cx="133.1" cy="365.7" r="0.7"/><circle cx="153.2" cy="311.1" r="1.1"/><circle cx="179.1" cy="314.1" r="0.8"/><circle cx="163.0" cy="325.1" r="1.5"/><circle cx="120.9" cy="355.9" r="1.5"/><circle cx="141.5" cy="344.3" r="1.5"/><circle cx="185.2" cy="341.6" r="1.2"/><circle cx="133.9" cy="308.4" r="0.7"/><circle cx="148.4" cy="350.4" r="1.3"/><circle cx="145.5" cy="314.9" r="1.3"/><circle cx="157.1" cy="328.2" r="1.0"/><circle cx="184.8" cy="315.1" r="0.6"/><circle cx="130.0" cy="316.5" r="1.3"/><circle cx="139.7" cy="304.0" r="1.3"/><circle cx="151.7" cy="363.2" r="0.8"/><circle cx="128.1" cy="328.4" r="1.4"/><circle cx="165.2" cy="328.2" r="0.7"/><circle cx="130.7" cy="316.5" r="1.0"/><circle cx="121.0" cy="304.5" r="0.7"/><circle cx="146.6" cy="344.1" r="0.6"/><circle cx="171.1" cy="303.8" r="1.3"/><circle cx="127.4" cy="328.8" r="0.8"/><circle cx="179.2" cy="344.1" r="0.8"/><circle cx="124.2" cy="324.9" r="1.2"/><circle cx="167.2" cy="316.3" r="0.9"/><circle cx="135.1" cy="302.8" r="0.9"/><circle cx="172.0" cy="314.4" r="0.9"/><circle cx="166.1" cy="349.5" r="0.8"/><circle cx="175.4" cy="321.5" r="1.4"/><circle cx="143.8" cy="339.7" r="0.8"/><circle cx="163.0" cy="340.8" r="0.9"/><circle cx="156.9" cy="338.3" r="0.9"/><circle cx="155.9" cy="334.2" r="1.4"/><circle cx="185.1" cy="361.7" r="0.6"/><circle cx="133.1" cy="339.1" r="0.9"/><circle cx="170.1" cy="331.7" r="1.5"/><circle cx="162.2" cy="330.5" r="1.1"/><circle cx="176.7" cy="346.4" r="0.7"/><circle cx="160.7" cy="308.1" r="1.2"/><circle cx="131.6" cy="298.9" r="1.5"/><circle cx="162.3" cy="329.4" r="1.0"/><circle cx="171.8" cy="336.0" r="0.7"/><circle cx="164.4" cy="316.5" r="1.2"/><circle cx="154.4" cy="309.9" r="0.7"/><circle cx="183.7" cy="348.8" r="0.8"/><circle cx="128.5" cy="355.7" r="1.1"/><circle cx="137.1" cy="349.3" r="0.7"/><circle cx="179.5" cy="363.0" r="0.7"/><circle cx="145.7" cy="311.3" r="1.5"/><circle cx="155.3" cy="360.5" r="1.2"/></g><g opacity="0.42"><circle cx="158.7" cy="352.1" r="1.5"/><circle cx="134.0" cy="330.6" r="0.6"/><circle cx="169.8" cy="366.0" r="1.0"/><circle cx="141.3" cy="335.1" r="0.8"/><circle cx="116.8" cy="331.4" r="1.2"/><circle cx="175.6" cy="352.4" r="1.1"/><circle cx="170.2" cy="315.3" r="1.5"/><circle cx="131.0" cy="361.6" r="1.4"/><circle cx="162.0" cy="299.7" r="1.3"/><circle cx="163.0" cy="322.8" r="0.8"/><circle cx="146.3" cy="314.6" r="0.8"/><circle cx="184.3" cy="353.2" r="1.0"/><circle cx="125.5" cy="319.5" r="1.1"/><circle cx="144.9" cy="342.9" r="1.2"/><circle cx="167.0" cy="317.4" r="0.8"/><circle cx="138.8" cy="301.5" r="1.0"/><circle cx="166.0" cy="326.2" r="0.9"/><circle cx="142.8" cy="309.0" r="1.3"/><circle cx="131.7" cy="340.9" r="0.8"/><circle cx="141.5" cy="312.7" r="0.8"/><circle cx="132.8" cy="310.5" r="1.3"/><circle cx="176.4" cy="301.6" r="0.9"/><circle cx="141.5" cy="344.3" r="1.1"/><circle cx="147.6" cy="304.7" r="1.0"/><circle cx="168.9" cy="308.9" r="1.2"/><circle cx="116.3" cy="316.5" r="1.1"/><circle cx="134.6" cy="328.8" r="1.1"/><circle cx="175.8" cy="312.5" r="1.0"/><circle cx="159.1" cy="324.2" r="0.6"/><circle cx="142.3" cy="301.5" r="1.3"/><circle cx="162.4" cy="321.3" r="0.7"/><circle cx="168.7" cy="300.4" r="1.1"/><circle cx="181.1" cy="347.0" r="1.0"/><circle cx="130.1" cy="336.0" r="1.4"/><circle cx="147.7" cy="355.5" r="0.8"/><circle cx="149.7" cy="302.4" r="1.2"/><circle cx="134.4" cy="320.2" r="0.8"/><circle cx="137.5" cy="315.7" r="0.9"/><circle cx="150.1" cy="338.9" r="0.9"/><circle cx="173.3" cy="301.0" r="0.8"/><circle cx="145.0" cy="344.1" r="0.8"/><circle cx="126.7" cy="353.8" r="1.5"/><circle cx="183.8" cy="321.2" r="0.7"/><circle cx="131.7" cy="336.3" r="0.7"/><circle cx="126.5" cy="311.3" r="0.9"/><circle cx="185.3" cy="363.4" r="1.1"/><circle cx="153.7" cy="304.7" r="0.7"/><circle cx="128.1" cy="322.8" r="1.0"/><circle cx="167.7" cy="310.9" r="1.3"/><circle cx="154.5" cy="353.0" r="1.1"/><circle cx="118.7" cy="301.3" r="1.1"/><circle cx="161.1" cy="307.7" r="1.1"/><circle cx="121.5" cy="348.8" r="1.3"/><circle cx="123.6" cy="315.1" r="0.7"/><circle cx="126.9" cy="316.8" r="0.6"/><circle cx="159.1" cy="346.3" r="1.3"/><circle cx="116.9" cy="363.5" r="1.0"/><circle cx="183.9" cy="367.4" r="1.3"/><circle cx="166.0" cy="322.7" r="0.7"/><circle cx="124.2" cy="365.4" r="1.3"/><circle cx="177.9" cy="302.1" r="1.2"/><circle cx="171.3" cy="345.7" r="1.4"/><circle cx="144.4" cy="304.6" r="1.2"/><circle cx="162.2" cy="361.0" r="1.0"/><circle cx="177.1" cy="331.4" r="1.0"/><circle cx="147.9" cy="321.7" r="0.8"/><circle cx="143.5" cy="330.7" r="0.6"/><circle cx="122.3" cy="317.3" r="1.2"/><circle cx="131.8" cy="360.0" r="1.1"/><circle cx="147.7" cy="354.4" r="0.8"/><circle cx="162.4" cy="307.9" r="1.3"/><circle cx="162.4" cy="303.8" r="1.2"/><circle cx="182.0" cy="331.9" r="0.6"/><circle cx="185.4" cy="310.6" r="1.1"/><circle cx="160.6" cy="332.6" r="1.5"/><circle cx="130.1" cy="354.3" r="0.7"/><circle cx="157.0" cy="365.6" r="1.3"/><circle cx="183.0" cy="311.5" r="0.9"/><circle cx="163.5" cy="323.6" r="0.9"/><circle cx="134.7" cy="312.7" r="1.4"/><circle cx="151.0" cy="326.8" r="0.7"/><circle cx="155.0" cy="344.9" r="1.3"/><circle cx="143.4" cy="348.1" r="1.0"/><circle cx="119.1" cy="355.6" r="1.1"/><circle cx="177.0" cy="305.3" r="1.1"/><circle cx="174.4" cy="326.2" r="1.0"/><circle cx="167.3" cy="327.1" r="1.4"/><circle cx="125.5" cy="322.0" r="0.7"/><circle cx="156.3" cy="326.5" r="1.1"/><circle cx="141.2" cy="346.9" r="0.7"/><circle cx="131.4" cy="330.2" r="1.3"/><circle cx="157.5" cy="300.8" r="1.1"/><circle cx="123.9" cy="314.1" r="1.2"/><circle cx="135.2" cy="304.8" r="0.7"/><circle cx="172.0" cy="364.9" r="0.9"/><circle cx="121.2" cy="331.6" r="0.7"/><circle cx="139.9" cy="311.7" r="1.0"/><circle cx="169.9" cy="312.5" r="1.3"/><circle cx="158.7" cy="299.7" r="0.9"/><circle cx="175.8" cy="323.7" r="1.4"/><circle cx="184.9" cy="361.5" r="1.3"/><circle cx="155.3" cy="333.6" r="0.8"/><circle cx="161.7" cy="363.3" r="0.8"/><circle cx="166.6" cy="309.7" r="1.4"/><circle cx="123.0" cy="359.2" r="1.5"/><circle cx="176.0" cy="366.9" r="1.2"/><circle cx="164.2" cy="331.1" r="0.7"/><circle cx="179.2" cy="312.4" r="0.6"/><circle cx="151.7" cy="305.9" r="1.3"/><circle cx="122.4" cy="317.5" r="0.9"/><circle cx="169.5" cy="313.4" r="0.9"/><circle cx="165.9" cy="300.7" r="1.2"/><circle cx="171.8" cy="302.4" r="1.2"/><circle cx="146.9" cy="347.3" r="0.8"/><circle cx="146.9" cy="366.3" r="1.2"/><circle cx="169.1" cy="356.3" r="1.5"/><circle cx="139.8" cy="336.1" r="0.9"/><circle cx="116.3" cy="351.8" r="0.8"/><circle cx="171.3" cy="335.3" r="0.7"/><circle cx="120.6" cy="303.2" r="0.6"/><circle cx="183.5" cy="346.0" r="0.8"/><circle cx="128.5" cy="305.5" r="0.9"/><circle cx="126.2" cy="305.3" r="1.5"/><circle cx="125.8" cy="353.0" r="0.8"/><circle cx="161.2" cy="359.8" r="1.3"/><circle cx="149.9" cy="362.3" r="1.4"/><circle cx="146.8" cy="306.8" r="0.7"/><circle cx="158.6" cy="367.6" r="1.4"/><circle cx="122.0" cy="316.9" r="1.4"/><circle cx="138.3" cy="312.8" r="1.2"/><circle cx="120.9" cy="347.1" r="1.0"/><circle cx="125.9" cy="323.7" r="0.9"/><circle cx="121.9" cy="313.6" r="0.6"/><circle cx="183.9" cy="356.5" r="0.9"/><circle cx="149.3" cy="333.9" r="1.5"/><circle cx="174.1" cy="312.5" r="1.5"/><circle cx="126.9" cy="354.6" r="1.1"/><circle cx="127.8" cy="327.8" r="0.7"/><circle cx="176.6" cy="327.6" r="1.1"/><circle cx="146.5" cy="339.5" r="0.8"/><circle cx="162.8" cy="353.8" r="0.6"/><circle cx="148.5" cy="321.0" r="1.5"/><circle cx="122.4" cy="365.6" r="1.1"/><circle cx="165.4" cy="324.8" r="1.0"/><circle cx="125.1" cy="314.0" r="0.8"/><circle cx="145.4" cy="304.0" r="1.1"/><circle cx="156.2" cy="323.1" r="1.2"/><circle cx="133.5" cy="339.5" r="1.3"/><circle cx="119.4" cy="360.5" r="1.1"/><circle cx="126.5" cy="321.7" r="1.1"/><circle cx="136.4" cy="350.2" r="1.4"/><circle cx="171.1" cy="348.9" r="0.9"/><circle cx="168.3" cy="356.5" r="1.0"/><circle cx="166.0" cy="314.4" r="1.3"/><circle cx="165.9" cy="364.8" r="1.3"/><circle cx="126.7" cy="362.9" r="1.4"/><circle cx="181.0" cy="341.3" r="0.7"/><circle cx="125.1" cy="330.7" r="1.2"/><circle cx="161.8" cy="357.4" r="1.2"/><circle cx="128.3" cy="351.4" r="1.0"/><circle cx="167.1" cy="307.5" r="0.8"/><circle cx="178.6" cy="364.3" r="0.9"/><circle cx="173.0" cy="317.0" r="0.9"/><circle cx="185.0" cy="348.8" r="1.3"/><circle cx="133.8" cy="343.9" r="0.9"/><circle cx="184.2" cy="363.9" r="1.0"/><circle cx="170.5" cy="358.6" r="0.8"/><circle cx="120.9" cy="349.7" r="0.8"/><circle cx="160.6" cy="320.1" r="1.0"/><circle cx="137.7" cy="342.2" r="1.4"/><circle cx="185.4" cy="360.4" r="0.7"/><circle cx="146.3" cy="324.9" r="1.2"/><circle cx="154.5" cy="351.0" r="1.4"/><circle cx="158.0" cy="316.5" r="0.8"/><circle cx="176.5" cy="360.5" r="1.1"/><circle cx="132.0" cy="358.6" r="0.9"/><circle cx="126.1" cy="339.3" r="0.7"/><circle cx="121.3" cy="347.0" r="1.5"/><circle cx="154.2" cy="301.5" r="1.3"/><circle cx="140.8" cy="342.1" r="1.4"/><circle cx="159.7" cy="345.4" r="1.0"/><circle cx="138.6" cy="331.7" r="1.0"/><circle cx="152.4" cy="300.0" r="1.1"/><circle cx="160.6" cy="331.5" r="0.9"/><circle cx="153.6" cy="317.6" r="0.9"/><circle cx="130.8" cy="349.4" r="0.7"/><circle cx="141.2" cy="366.2" r="1.0"/><circle cx="147.5" cy="359.4" r="1.1"/><circle cx="155.7" cy="348.9" r="1.0"/><circle cx="182.5" cy="362.7" r="1.2"/><circle cx="163.9" cy="320.6" r="1.3"/><circle cx="150.3" cy="355.8" r="0.6"/><circle cx="158.3" cy="328.6" r="1.4"/><circle cx="176.1" cy="326.3" r="1.5"/><circle cx="167.6" cy="307.6" r="1.2"/><circle cx="175.7" cy="316.5" r="1.1"/><circle cx="137.2" cy="367.2" r="0.7"/><circle cx="139.0" cy="322.3" r="0.7"/><circle cx="153.9" cy="358.1" r="1.2"/><circle cx="165.7" cy="298.7" r="0.6"/><circle cx="134.8" cy="359.4" r="1.1"/><circle cx="173.8" cy="360.2" r="1.1"/><circle cx="142.0" cy="323.8" r="0.7"/><circle cx="123.9" cy="353.6" r="0.7"/><circle cx="151.1" cy="338.2" r="1.1"/><circle cx="178.3" cy="323.3" r="1.3"/><circle cx="131.6" cy="344.8" r="1.4"/><circle cx="178.8" cy="298.8" r="0.8"/><circle cx="123.2" cy="326.7" r="1.1"/><circle cx="139.1" cy="301.2" r="1.0"/><circle cx="163.4" cy="316.1" r="0.7"/><circle cx="172.7" cy="331.3" r="0.7"/><circle cx="119.9" cy="338.8" r="1.3"/><circle cx="128.0" cy="355.9" r="1.0"/><circle cx="126.8" cy="358.9" r="0.7"/><circle cx="170.7" cy="356.5" r="1.1"/><circle cx="152.2" cy="331.9" r="0.9"/><circle cx="135.5" cy="333.3" r="1.1"/><circle cx="146.0" cy="339.8" r="0.6"/><circle cx="135.3" cy="351.7" r="1.2"/><circle cx="131.0" cy="329.8" r="0.9"/><circle cx="146.6" cy="340.6" r="1.4"/><circle cx="125.3" cy="322.0" r="1.0"/><circle cx="145.8" cy="311.9" r="1.3"/><circle cx="165.3" cy="357.2" r="0.8"/><circle cx="151.6" cy="307.0" r="0.8"/><circle cx="124.3" cy="366.7" r="0.8"/><circle cx="152.3" cy="336.6" r="0.9"/><circle cx="170.2" cy="356.7" r="1.1"/><circle cx="146.8" cy="367.1" r="0.7"/><circle cx="129.0" cy="298.9" r="1.0"/><circle cx="127.9" cy="333.8" r="1.0"/><circle cx="136.3" cy="335.9" r="0.8"/><circle cx="139.7" cy="327.4" r="1.5"/><circle cx="128.2" cy="347.2" r="0.7"/><circle cx="172.8" cy="302.6" r="0.9"/><circle cx="163.6" cy="345.2" r="1.0"/><circle cx="164.9" cy="351.8" r="1.2"/><circle cx="174.0" cy="345.0" r="1.3"/><circle cx="155.5" cy="350.6" r="0.9"/><circle cx="147.7" cy="315.1" r="0.8"/><circle cx="178.6" cy="322.0" r="0.6"/><circle cx="124.6" cy="309.6" r="0.9"/><circle cx="184.9" cy="329.0" r="1.3"/><circle cx="154.6" cy="299.0" r="0.7"/><circle cx="149.8" cy="340.0" r="1.4"/><circle cx="164.7" cy="330.6" r="1.3"/><circle cx="173.8" cy="363.4" r="0.8"/><circle cx="137.4" cy="301.7" r="0.7"/><circle cx="170.8" cy="312.3" r="1.3"/><circle cx="155.8" cy="360.8" r="0.8"/><circle cx="174.6" cy="320.4" r="1.3"/><circle cx="182.3" cy="311.6" r="0.7"/></g><g opacity="0.55"><circle cx="120.2" cy="327.2" r="0.6"/><circle cx="155.4" cy="366.7" r="0.7"/><circle cx="141.0" cy="323.6" r="0.9"/><circle cx="157.0" cy="336.9" r="1.2"/><circle cx="156.1" cy="314.5" r="1.2"/><circle cx="149.3" cy="300.8" r="1.2"/><circle cx="181.2" cy="341.7" r="0.7"/><circle cx="151.0" cy="336.9" r="0.8"/><circle cx="141.6" cy="308.9" r="0.8"/><circle cx="144.6" cy="362.0" r="1.5"/><circle cx="175.9" cy="300.7" r="0.6"/><circle cx="156.4" cy="359.5" r="0.8"/><circle cx="146.4" cy="308.2" r="1.4"/><circle cx="152.7" cy="298.8" r="0.8"/><circle cx="154.3" cy="346.2" r="1.5"/><circle cx="158.4" cy="362.5" r="0.8"/><circle cx="166.9" cy="367.0" r="1.3"/><circle cx="124.3" cy="356.8" r="1.3"/><circle cx="119.6" cy="346.5" r="0.9"/><circle cx="146.9" cy="344.7" r="1.0"/><circle cx="116.3" cy="350.1" r="1.4"/><circle cx="140.0" cy="336.3" r="0.9"/><circle cx="143.5" cy="334.9" r="1.2"/><circle cx="173.5" cy="303.6" r="1.3"/><circle cx="175.7" cy="322.6" r="1.1"/><circle cx="131.6" cy="308.4" r="1.4"/><circle cx="128.5" cy="364.0" r="1.4"/><circle cx="150.1" cy="344.2" r="1.2"/><circle cx="142.5" cy="334.9" r="1.0"/><circle cx="151.7" cy="355.5" r="1.2"/><circle cx="123.3" cy="304.7" r="1.3"/><circle cx="176.7" cy="308.6" r="0.9"/><circle cx="184.4" cy="311.4" r="1.1"/><circle cx="130.6" cy="343.6" r="1.4"/><circle cx="166.8" cy="299.2" r="0.7"/><circle cx="136.4" cy="347.6" r="1.3"/><circle cx="177.1" cy="302.6" r="1.0"/><circle cx="124.8" cy="308.1" r="1.4"/><circle cx="150.7" cy="299.6" r="1.2"/><circle cx="171.8" cy="333.0" r="1.2"/><circle cx="163.8" cy="309.3" r="0.7"/><circle cx="176.9" cy="353.6" r="1.2"/><circle cx="130.1" cy="317.9" r="0.9"/><circle cx="169.5" cy="351.4" r="1.4"/><circle cx="172.3" cy="348.5" r="1.0"/><circle cx="128.0" cy="363.6" r="0.9"/><circle cx="117.2" cy="363.7" r="1.0"/><circle cx="122.1" cy="338.5" r="0.8"/><circle cx="118.4" cy="353.0" r="0.7"/><circle cx="130.3" cy="362.4" r="1.2"/><circle cx="168.4" cy="342.5" r="0.8"/><circle cx="119.7" cy="323.8" r="1.0"/><circle cx="162.9" cy="350.0" r="0.7"/><circle cx="181.2" cy="361.0" r="1.3"/><circle cx="157.2" cy="328.6" r="1.3"/><circle cx="136.9" cy="364.9" r="1.1"/><circle cx="168.3" cy="357.1" r="0.8"/><circle cx="148.0" cy="314.9" r="1.0"/><circle cx="137.6" cy="320.6" r="1.4"/><circle cx="129.3" cy="355.9" r="0.7"/><circle cx="163.1" cy="366.5" r="1.3"/><circle cx="134.7" cy="319.0" r="0.9"/><circle cx="160.1" cy="324.5" r="1.1"/><circle cx="120.3" cy="343.8" r="1.0"/><circle cx="183.9" cy="302.5" r="1.4"/><circle cx="124.5" cy="324.6" r="0.9"/><circle cx="145.4" cy="366.1" r="1.2"/><circle cx="164.1" cy="317.7" r="0.7"/><circle cx="119.2" cy="317.8" r="1.1"/><circle cx="160.9" cy="365.3" r="1.2"/><circle cx="124.4" cy="326.5" r="1.4"/><circle cx="140.5" cy="311.4" r="1.4"/><circle cx="126.7" cy="344.9" r="1.3"/><circle cx="124.9" cy="318.1" r="0.6"/><circle cx="142.6" cy="318.4" r="1.2"/><circle cx="142.9" cy="360.4" r="1.2"/><circle cx="135.3" cy="302.7" r="1.0"/><circle cx="183.2" cy="335.2" r="0.8"/><circle cx="171.3" cy="313.0" r="1.4"/><circle cx="172.5" cy="317.1" r="0.9"/><circle cx="168.1" cy="364.0" r="1.4"/><circle cx="117.1" cy="358.2" r="1.2"/><circle cx="153.5" cy="337.1" r="1.2"/><circle cx="178.5" cy="366.0" r="1.4"/><circle cx="181.8" cy="366.3" r="1.0"/><circle cx="125.5" cy="299.5" r="0.8"/><circle cx="148.4" cy="301.6" r="1.4"/><circle cx="179.6" cy="357.8" r="0.9"/><circle cx="147.9" cy="339.0" r="1.2"/><circle cx="179.6" cy="351.2" r="1.1"/><circle cx="119.9" cy="331.1" r="1.0"/><circle cx="170.0" cy="301.7" r="1.1"/><circle cx="149.4" cy="364.6" r="1.3"/><circle cx="122.9" cy="308.5" r="1.1"/><circle cx="179.8" cy="298.8" r="1.4"/><circle cx="161.2" cy="304.5" r="1.1"/><circle cx="162.1" cy="341.0" r="1.0"/><circle cx="116.7" cy="350.0" r="0.6"/><circle cx="172.5" cy="330.2" r="0.7"/><circle cx="167.2" cy="344.9" r="1.5"/><circle cx="116.7" cy="303.8" r="0.7"/><circle cx="180.3" cy="338.2" r="0.8"/><circle cx="183.2" cy="309.7" r="1.1"/><circle cx="162.2" cy="315.5" r="1.4"/><circle cx="131.3" cy="350.7" r="1.4"/><circle cx="158.6" cy="341.0" r="0.7"/><circle cx="122.6" cy="358.4" r="1.2"/><circle cx="183.1" cy="343.0" r="1.1"/><circle cx="121.4" cy="337.1" r="1.3"/><circle cx="174.9" cy="303.6" r="0.7"/><circle cx="121.2" cy="313.9" r="1.3"/><circle cx="170.7" cy="307.7" r="1.3"/><circle cx="128.7" cy="299.4" r="1.2"/><circle cx="153.5" cy="314.8" r="1.0"/><circle cx="167.6" cy="357.8" r="0.9"/><circle cx="128.8" cy="314.3" r="1.1"/><circle cx="156.7" cy="363.4" r="1.0"/><circle cx="175.9" cy="364.6" r="0.8"/><circle cx="147.2" cy="333.1" r="1.1"/><circle cx="182.9" cy="360.7" r="0.8"/><circle cx="124.0" cy="333.8" r="1.4"/><circle cx="138.0" cy="354.6" r="1.2"/><circle cx="163.1" cy="309.7" r="0.9"/><circle cx="169.4" cy="356.3" r="1.2"/><circle cx="157.9" cy="357.2" r="1.4"/><circle cx="122.7" cy="339.0" r="0.8"/><circle cx="147.6" cy="330.9" r="1.3"/><circle cx="117.1" cy="363.0" r="0.8"/><circle cx="147.9" cy="350.4" r="1.1"/><circle cx="153.2" cy="348.6" r="0.6"/><circle cx="117.8" cy="334.0" r="0.8"/><circle cx="127.1" cy="314.2" r="1.3"/><circle cx="143.7" cy="334.7" r="0.9"/><circle cx="118.3" cy="320.7" r="1.3"/><circle cx="152.4" cy="323.6" r="1.2"/><circle cx="137.8" cy="303.8" r="1.2"/><circle cx="143.1" cy="332.0" r="0.8"/><circle cx="151.8" cy="329.6" r="1.4"/><circle cx="145.2" cy="347.3" r="1.1"/><circle cx="122.3" cy="362.2" r="0.7"/><circle cx="165.9" cy="349.4" r="0.6"/><circle cx="141.4" cy="360.1" r="1.0"/><circle cx="124.3" cy="316.5" r="1.3"/><circle cx="179.0" cy="331.2" r="1.5"/><circle cx="118.1" cy="334.0" r="1.3"/><circle cx="166.8" cy="357.2" r="1.2"/><circle cx="145.2" cy="355.3" r="1.4"/><circle cx="117.1" cy="345.2" r="1.3"/><circle cx="175.7" cy="364.5" r="1.4"/><circle cx="161.5" cy="301.9" r="1.4"/><circle cx="178.9" cy="300.4" r="0.9"/><circle cx="138.3" cy="322.4" r="1.4"/><circle cx="176.9" cy="338.2" r="0.7"/><circle cx="130.7" cy="336.1" r="1.4"/><circle cx="146.0" cy="305.0" r="1.1"/><circle cx="170.9" cy="323.2" r="0.8"/><circle cx="158.1" cy="302.6" r="0.9"/><circle cx="130.2" cy="319.4" r="0.9"/><circle cx="162.6" cy="308.5" r="1.5"/><circle cx="178.7" cy="309.9" r="0.6"/><circle cx="119.9" cy="302.4" r="1.1"/><circle cx="158.0" cy="361.0" r="0.8"/><circle cx="166.3" cy="306.2" r="1.0"/><circle cx="165.5" cy="317.4" r="1.4"/><circle cx="126.1" cy="330.3" r="1.2"/><circle cx="128.9" cy="331.7" r="1.0"/><circle cx="123.2" cy="349.2" r="0.9"/><circle cx="164.1" cy="325.6" r="0.7"/><circle cx="182.3" cy="341.4" r="0.7"/><circle cx="125.6" cy="361.0" r="1.5"/><circle cx="141.9" cy="325.4" r="0.9"/><circle cx="132.0" cy="302.6" r="0.8"/><circle cx="146.3" cy="311.9" r="1.3"/><circle cx="127.3" cy="301.3" r="0.9"/><circle cx="178.2" cy="353.4" r="1.2"/><circle cx="164.0" cy="309.4" r="1.2"/><circle cx="171.2" cy="353.0" r="1.3"/><circle cx="171.8" cy="321.8" r="1.1"/><circle cx="169.0" cy="338.2" r="1.4"/><circle cx="151.4" cy="347.2" r="0.6"/><circle cx="150.5" cy="348.4" r="0.8"/><circle cx="134.1" cy="352.6" r="0.8"/><circle cx="181.6" cy="367.5" r="1.0"/><circle cx="164.3" cy="343.3" r="0.8"/><circle cx="182.7" cy="301.8" r="1.4"/><circle cx="136.7" cy="340.1" r="1.4"/><circle cx="182.6" cy="343.1" r="1.3"/><circle cx="133.6" cy="361.6" r="0.8"/><circle cx="167.9" cy="314.6" r="1.0"/><circle cx="183.0" cy="362.3" r="0.7"/><circle cx="178.6" cy="331.0" r="1.4"/><circle cx="141.7" cy="336.8" r="1.3"/><circle cx="182.8" cy="366.3" r="0.7"/><circle cx="182.6" cy="330.0" r="0.9"/><circle cx="129.3" cy="311.7" r="0.9"/><circle cx="130.7" cy="303.5" r="1.1"/><circle cx="124.4" cy="356.3" r="1.2"/><circle cx="136.1" cy="305.5" r="0.8"/><circle cx="122.3" cy="318.0" r="1.4"/><circle cx="116.8" cy="327.3" r="1.4"/><circle cx="150.7" cy="366.9" r="1.3"/><circle cx="127.1" cy="341.7" r="0.7"/><circle cx="119.0" cy="301.9" r="1.1"/><circle cx="165.9" cy="333.8" r="0.8"/><circle cx="185.2" cy="321.7" r="0.8"/><circle cx="184.9" cy="362.1" r="0.7"/><circle cx="155.3" cy="329.5" r="0.7"/><circle cx="156.3" cy="366.0" r="0.6"/><circle cx="122.5" cy="348.7" r="1.4"/><circle cx="185.3" cy="320.6" r="1.4"/><circle cx="176.2" cy="339.2" r="1.5"/><circle cx="140.8" cy="337.2" r="1.5"/><circle cx="152.1" cy="315.8" r="1.4"/><circle cx="153.9" cy="336.1" r="0.9"/><circle cx="118.4" cy="316.3" r="0.9"/><circle cx="147.8" cy="304.5" r="0.9"/><circle cx="130.6" cy="314.7" r="1.3"/><circle cx="141.8" cy="317.2" r="1.0"/><circle cx="136.2" cy="309.3" r="0.7"/><circle cx="128.9" cy="309.5" r="0.9"/><circle cx="151.5" cy="306.3" r="0.8"/><circle cx="143.4" cy="311.4" r="1.3"/><circle cx="142.0" cy="351.1" r="0.9"/><circle cx="118.6" cy="348.0" r="0.8"/><circle cx="127.3" cy="364.6" r="1.5"/><circle cx="136.3" cy="347.0" r="1.1"/><circle cx="141.0" cy="321.7" r="1.2"/><circle cx="135.2" cy="351.1" r="1.2"/><circle cx="141.8" cy="306.5" r="1.2"/><circle cx="136.4" cy="335.5" r="1.2"/><circle cx="159.0" cy="307.9" r="0.9"/><circle cx="130.2" cy="365.8" r="1.3"/><circle cx="121.8" cy="341.7" r="1.1"/><circle cx="159.1" cy="314.5" r="0.7"/><circle cx="142.1" cy="361.4" r="0.6"/><circle cx="132.0" cy="304.9" r="1.4"/><circle cx="167.9" cy="356.0" r="0.8"/><circle cx="182.4" cy="324.0" r="1.1"/><circle cx="149.8" cy="341.7" r="1.3"/><circle cx="141.0" cy="313.1" r="0.9"/><circle cx="160.3" cy="331.9" r="0.9"/><circle cx="133.8" cy="355.9" r="1.1"/><circle cx="136.5" cy="358.1" r="1.3"/><circle cx="146.4" cy="330.8" r="1.4"/></g></g>
<g filter="url(#blur2)"><ellipse cx="126.5" cy="320.2" rx="1.9" ry="1.2" fill="#9a6a44" opacity="0.6" transform="rotate(38 126.5 320.2)"/><circle cx="126.3" cy="320.3" r="0.8" fill="#7e4a26" opacity="0.55"/><ellipse cx="124.3" cy="325.7" rx="2.1" ry="1.4" fill="#9a6a44" opacity="0.6" transform="rotate(71 124.3 325.7)"/><circle cx="123.9" cy="325.4" r="0.9" fill="#7e4a26" opacity="0.55"/><ellipse cx="135.2" cy="341.0" rx="2.2" ry="1.5" fill="#9a6a44" opacity="0.6" transform="rotate(48 135.2 341.0)"/><circle cx="134.8" cy="341.1" r="1.0" fill="#7e4a26" opacity="0.55"/><ellipse cx="141.8" cy="348.6" rx="1.9" ry="1.2" fill="#9a6a44" opacity="0.6" transform="rotate(165 141.8 348.6)"/><circle cx="141.8" cy="348.9" r="0.8" fill="#7e4a26" opacity="0.55"/><ellipse cx="146.2" cy="318.0" rx="1.7" ry="1.0" fill="#9a6a44" opacity="0.6" transform="rotate(51 146.2 318.0)"/><circle cx="146.1" cy="318.4" r="0.7" fill="#7e4a26" opacity="0.55"/><ellipse cx="162.6" cy="322.4" rx="2.3" ry="1.6" fill="#9a6a44" opacity="0.6" transform="rotate(26 162.6 322.4)"/><circle cx="162.6" cy="322.1" r="1.0" fill="#7e4a26" opacity="0.55"/><ellipse cx="178.0" cy="333.3" rx="2.4" ry="1.7" fill="#9a6a44" opacity="0.6" transform="rotate(78 178.0 333.3)"/><circle cx="178.2" cy="333.4" r="1.1" fill="#7e4a26" opacity="0.55"/><ellipse cx="180.1" cy="353.0" rx="2.5" ry="1.8" fill="#9a6a44" opacity="0.6" transform="rotate(44 180.1 353.0)"/><circle cx="180.3" cy="352.9" r="1.2" fill="#7e4a26" opacity="0.55"/><ellipse cx="159.3" cy="357.4" rx="2.1" ry="1.4" fill="#9a6a44" opacity="0.6" transform="rotate(16 159.3 357.4)"/><circle cx="159.9" cy="357.1" r="0.9" fill="#7e4a26" opacity="0.55"/><ellipse cx="152.8" cy="361.8" rx="2.0" ry="1.3" fill="#9a6a44" opacity="0.6" transform="rotate(64 152.8 361.8)"/><circle cx="152.9" cy="362.0" r="0.8" fill="#7e4a26" opacity="0.55"/><ellipse cx="119.9" cy="343.6" rx="1.8" ry="1.1" fill="#9a6a44" opacity="0.6" transform="rotate(146 119.9 343.6)"/><circle cx="120.3" cy="343.2" r="0.7" fill="#7e4a26" opacity="0.55"/><ellipse cx="147.3" cy="310.3" rx="1.9" ry="1.2" fill="#9a6a44" opacity="0.6" transform="rotate(21 147.3 310.3)"/><circle cx="147.0" cy="310.6" r="0.8" fill="#7e4a26" opacity="0.55"/><ellipse cx="158.2" cy="334.4" rx="1.9" ry="1.2" fill="#9a6a44" opacity="0.6" transform="rotate(46 158.2 334.4)"/><circle cx="157.9" cy="334.2" r="0.8" fill="#7e4a26" opacity="0.55"/><ellipse cx="170.3" cy="357.4" rx="2.1" ry="1.4" fill="#9a6a44" opacity="0.6" transform="rotate(95 170.3 357.4)"/><circle cx="170.0" cy="357.8" r="0.9" fill="#7e4a26" opacity="0.55"/><ellipse cx="182.3" cy="325.7" rx="2.1" ry="1.4" fill="#9a6a44" opacity="0.6" transform="rotate(57 182.3 325.7)"/><circle cx="182.7" cy="325.3" r="0.9" fill="#7e4a26" opacity="0.55"/><ellipse cx="161.5" cy="299.8" rx="2.4" ry="1.7" fill="#9a6a44" opacity="0.6" transform="rotate(115 161.5 299.8)"/><circle cx="161.7" cy="300.1" r="1.1" fill="#7e4a26" opacity="0.55"/><ellipse cx="142.0" cy="346.0" rx="2.6" ry="1.9" fill="#9a6a44" opacity="0.6" transform="rotate(53 142.0 346.0)"/><circle cx="141.8" cy="345.8" r="1.2" fill="#7e4a26" opacity="0.55"/></g>
</g>
<rect x="116.20" y="298.60" width="69.40" height="69.00" fill="none" stroke="#2a2a2a" stroke-width="1.2"/>
<clipPath id="h3"><rect x="45.0" y="370.0" width="69.4" height="69.0"/></clipPath>
<g clip-path="url(#h3)">
<rect x="45.00" y="370.00" width="69.40" height="69.00" fill="#e6e8ee"/>
<g fill="#9eb0e2" filter="url(#blur1)"><g opacity="0.3"><circle cx="71.9" cy="414.9" r="1.1"/><circle cx="107.9" cy="426.6" r="0.8"/><circle cx="83.8" cy="401.8" r="1.1"/><circle cx="70.6" cy="430.8" r="1.5"/><circle cx="63.0" cy="403.7" r="0.7"/><circle cx="95.0" cy="405.9" r="0.8"/><circle cx="66.2" cy="407.7" r="1.3"/><circle cx="46.7" cy="420.0" r="0.9"/><circle cx="87.8" cy="413.9" r="1.3"/><circle cx="71.6" cy="400.0" r="0.8"/><circle cx="47.9" cy="401.0" r="1.4"/><circle cx="108.2" cy="400.3" r="1.3"/><circle cx="62.5" cy="386.6" r="1.4"/><circle cx="73.3" cy="411.2" r="1.4"/><circle cx="83.2" cy="414.1" r="1.1"/><circle cx="100.6" cy="404.2" r="0.8"/><circle cx="100.6" cy="379.3" r="1.1"/><circle cx="57.2" cy="387.9" r="1.2"/><circle cx="84.5" cy="405.6" r="0.8"/><circle cx="47.5" cy="375.6" r="1.2"/><circle cx="112.3" cy="389.9" r="0.7"/><circle cx="77.4" cy="400.4" r="1.2"/><circle cx="51.5" cy="435.2" r="1.0"/><circle cx="91.3" cy="376.2" r="1.0"/><circle cx="112.3" cy="395.7" r="1.5"/><circle cx="67.0" cy="377.6" r="1.2"/><circle cx="62.2" cy="417.2" r="1.4"/><circle cx="59.5" cy="384.4" r="1.2"/><circle cx="110.9" cy="438.8" r="1.0"/><circle cx="88.8" cy="382.0" r="1.5"/><circle cx="96.6" cy="404.8" r="0.7"/><circle cx="104.0" cy="423.8" r="1.1"/><circle cx="68.6" cy="413.5" r="1.0"/><circle cx="99.7" cy="399.8" r="0.8"/><circle cx="91.4" cy="370.2" r="1.0"/><circle cx="105.8" cy="374.1" r="1.3"/><circle cx="113.0" cy="423.1" r="1.2"/><circle cx="111.2" cy="423.8" r="1.5"/><circle cx="75.5" cy="431.2" r="1.5"/><circle cx="48.6" cy="378.4" r="1.4"/><circle cx="72.6" cy="407.8" r="1.4"/><circle cx="80.2" cy="379.9" r="1.3"/><circle cx="60.0" cy="434.8" r="1.3"/><circle cx="81.2" cy="425.7" r="1.5"/><circle cx="105.6" cy="383.9" r="0.9"/><circle cx="77.4" cy="426.3" r="0.7"/><circle cx="51.4" cy="397.7" r="0.8"/><circle cx="72.8" cy="378.7" r="1.0"/><circle cx="105.6" cy="398.2" r="1.0"/><circle cx="66.1" cy="413.0" r="0.7"/><circle cx="98.3" cy="380.8" r="1.0"/><circle cx="89.4" cy="430.2" r="1.0"/><circle cx="64.1" cy="407.0" r="1.0"/><circle cx="58.6" cy="425.2" r="1.3"/><circle cx="89.2" cy="438.5" r="0.9"/><circle cx="88.9" cy="395.2" r="0.7"/><circle cx="90.9" cy="409.4" r="1.2"/><circle cx="76.0" cy="437.6" r="1.1"/><circle cx="75.6" cy="407.1" r="1.1"/><circle cx="95.8" cy="381.9" r="0.8"/><circle cx="60.6" cy="373.0" r="1.0"/><circle cx="75.9" cy="386.1" r="0.8"/><circle cx="91.6" cy="406.7" r="1.2"/><circle cx="50.8" cy="429.7" r="1.1"/><circle cx="98.5" cy="385.0" r="1.0"/><circle cx="93.2" cy="390.2" r="1.2"/><circle cx="103.7" cy="389.7" r="1.0"/><circle cx="46.6" cy="390.5" r="1.4"/><circle cx="85.1" cy="381.9" r="1.3"/><circle cx="45.9" cy="392.8" r="0.9"/><circle cx="51.8" cy="433.9" r="1.4"/><circle cx="113.2" cy="382.9" r="1.2"/><circle cx="81.7" cy="382.0" r="1.3"/><circle cx="46.4" cy="403.9" r="1.0"/><circle cx="98.7" cy="421.7" r="1.1"/><circle cx="109.1" cy="388.7" r="0.6"/><circle cx="77.0" cy="384.3" r="1.4"/><circle cx="63.7" cy="403.6" r="0.9"/><circle cx="75.2" cy="418.1" r="1.1"/><circle cx="79.6" cy="410.3" r="1.4"/><circle cx="73.1" cy="379.4" r="1.3"/><circle cx="55.1" cy="405.3" r="1.3"/><circle cx="79.9" cy="434.2" r="0.9"/><circle cx="51.8" cy="428.7" r="1.1"/><circle cx="61.1" cy="385.8" r="0.6"/><circle cx="83.6" cy="384.4" r="0.9"/><circle cx="85.2" cy="380.2" r="1.2"/><circle cx="79.4" cy="382.1" r="0.7"/><circle cx="64.8" cy="402.1" r="0.9"/><circle cx="62.3" cy="434.1" r="1.3"/><circle cx="95.0" cy="392.8" r="1.5"/><circle cx="110.0" cy="382.1" r="1.1"/><circle cx="56.5" cy="383.3" r="0.7"/><circle cx="57.2" cy="433.2" r="0.9"/><circle cx="75.1" cy="374.8" r="0.8"/><circle cx="106.4" cy="415.1" r="0.7"/><circle cx="46.6" cy="409.1" r="1.4"/><circle cx="102.1" cy="410.4" r="1.0"/><circle cx="48.2" cy="437.8" r="0.8"/><circle cx="87.3" cy="386.2" r="1.3"/><circle cx="105.7" cy="377.6" r="0.8"/><circle cx="102.7" cy="371.3" r="0.9"/><circle cx="65.4" cy="428.7" r="1.2"/><circle cx="55.8" cy="415.5" r="0.9"/><circle cx="105.0" cy="371.3" r="0.7"/><circle cx="94.2" cy="377.0" r="0.9"/><circle cx="50.9" cy="383.5" r="1.5"/><circle cx="57.5" cy="433.0" r="1.1"/><circle cx="75.7" cy="413.0" r="1.3"/><circle cx="109.6" cy="373.6" r="0.6"/><circle cx="97.3" cy="434.1" r="0.9"/><circle cx="85.0" cy="436.8" r="1.3"/><circle cx="83.8" cy="424.1" r="1.4"/><circle cx="94.0" cy="408.1" r="1.1"/><circle cx="84.3" cy="371.9" r="1.0"/><circle cx="77.5" cy="376.1" r="1.0"/><circle cx="102.9" cy="436.2" r="0.8"/><circle cx="68.7" cy="397.7" r="0.9"/><circle cx="67.4" cy="413.9" r="1.1"/><circle cx="104.2" cy="426.3" r="1.0"/><circle cx="67.9" cy="419.5" r="1.3"/><circle cx="57.2" cy="436.6" r="1.1"/><circle cx="77.0" cy="437.8" r="0.9"/><circle cx="82.1" cy="436.0" r="0.8"/><circle cx="105.9" cy="387.7" r="1.3"/><circle cx="69.0" cy="371.7" r="0.9"/><circle cx="50.0" cy="418.1" r="0.9"/><circle cx="83.8" cy="428.6" r="0.8"/><circle cx="104.8" cy="430.8" r="0.8"/><circle cx="109.9" cy="424.9" r="1.0"/><circle cx="67.5" cy="424.9" r="0.8"/><circle cx="79.9" cy="404.1" r="1.1"/><circle cx="59.1" cy="393.8" r="1.5"/><circle cx="88.8" cy="434.2" r="1.2"/><circle cx="73.0" cy="410.0" r="1.1"/><circle cx="46.9" cy="406.3" r="1.2"/><circle cx="97.4" cy="393.7" r="0.9"/><circle cx="65.8" cy="412.1" r="1.3"/><circle cx="96.8" cy="394.6" r="1.4"/><circle cx="108.7" cy="420.8" r="1.2"/><circle cx="77.5" cy="389.8" r="1.4"/><circle cx="49.7" cy="437.5" r="1.4"/><circle cx="101.2" cy="424.5" r="1.3"/><circle cx="102.5" cy="405.6" r="0.8"/><circle cx="111.9" cy="375.7" r="1.3"/><circle cx="57.1" cy="438.8" r="1.0"/><circle cx="58.8" cy="391.0" r="0.6"/><circle cx="93.2" cy="372.2" r="0.6"/><circle cx="105.0" cy="413.6" r="1.4"/><circle cx="89.4" cy="428.3" r="0.7"/><circle cx="45.4" cy="387.9" r="0.9"/><circle cx="54.4" cy="388.2" r="0.9"/><circle cx="76.7" cy="384.2" r="1.3"/><circle cx="53.5" cy="404.6" r="1.1"/><circle cx="45.4" cy="382.7" r="1.1"/><circle cx="88.6" cy="412.8" r="0.9"/><circle cx="64.3" cy="383.6" r="1.0"/><circle cx="91.7" cy="386.1" r="0.9"/><circle cx="97.2" cy="384.5" r="1.1"/><circle cx="69.3" cy="431.2" r="1.2"/><circle cx="112.8" cy="374.4" r="1.4"/><circle cx="65.7" cy="403.8" r="0.7"/><circle cx="81.8" cy="396.8" r="0.7"/><circle cx="88.4" cy="375.9" r="0.9"/><circle cx="87.0" cy="426.6" r="0.7"/><circle cx="107.8" cy="385.5" r="0.9"/><circle cx="112.0" cy="400.3" r="1.1"/><circle cx="63.8" cy="403.6" r="1.5"/><circle cx="80.1" cy="417.6" r="0.8"/><circle cx="53.1" cy="431.4" r="0.9"/><circle cx="104.1" cy="432.9" r="0.7"/><circle cx="55.5" cy="403.1" r="1.0"/><circle cx="72.6" cy="419.9" r="1.3"/><circle cx="86.3" cy="373.5" r="1.4"/><circle cx="111.2" cy="379.2" r="0.6"/><circle cx="94.8" cy="407.1" r="0.9"/><circle cx="62.7" cy="380.8" r="1.3"/><circle cx="45.8" cy="412.2" r="0.7"/><circle cx="74.4" cy="433.9" r="0.8"/><circle cx="60.8" cy="373.3" r="0.7"/><circle cx="98.6" cy="436.6" r="1.1"/><circle cx="111.4" cy="386.8" r="1.0"/><circle cx="98.3" cy="417.6" r="1.5"/><circle cx="112.5" cy="388.1" r="0.8"/><circle cx="98.5" cy="405.7" r="0.7"/><circle cx="78.1" cy="372.2" r="1.4"/><circle cx="108.3" cy="376.4" r="0.7"/><circle cx="107.6" cy="434.7" r="0.8"/><circle cx="83.0" cy="394.7" r="0.8"/><circle cx="76.3" cy="427.6" r="1.1"/><circle cx="68.9" cy="416.8" r="0.7"/><circle cx="94.3" cy="431.8" r="1.4"/><circle cx="82.7" cy="434.6" r="1.0"/><circle cx="108.8" cy="391.2" r="1.1"/><circle cx="56.0" cy="403.4" r="1.2"/><circle cx="100.6" cy="384.4" r="1.1"/><circle cx="93.3" cy="378.9" r="0.9"/><circle cx="69.4" cy="372.7" r="1.5"/><circle cx="90.4" cy="390.3" r="1.3"/><circle cx="62.7" cy="398.3" r="0.9"/><circle cx="97.9" cy="395.1" r="0.8"/><circle cx="89.9" cy="415.2" r="0.7"/><circle cx="58.1" cy="419.7" r="1.1"/><circle cx="99.9" cy="408.5" r="1.4"/><circle cx="113.9" cy="395.2" r="0.7"/><circle cx="64.2" cy="406.3" r="1.0"/><circle cx="75.0" cy="374.1" r="1.4"/><circle cx="69.1" cy="393.9" r="1.3"/><circle cx="61.2" cy="428.1" r="1.3"/><circle cx="78.0" cy="434.4" r="0.7"/><circle cx="66.6" cy="438.5" r="1.5"/><circle cx="110.6" cy="427.8" r="0.6"/><circle cx="88.0" cy="400.1" r="1.0"/><circle cx="102.4" cy="415.0" r="0.6"/><circle cx="59.1" cy="382.8" r="0.9"/><circle cx="61.1" cy="413.7" r="0.6"/><circle cx="80.1" cy="396.8" r="1.3"/><circle cx="85.3" cy="385.1" r="1.2"/><circle cx="86.6" cy="388.0" r="1.4"/><circle cx="87.0" cy="406.6" r="0.7"/><circle cx="99.6" cy="389.9" r="0.7"/><circle cx="51.4" cy="394.6" r="1.4"/><circle cx="75.9" cy="408.0" r="1.4"/><circle cx="108.1" cy="411.9" r="0.8"/><circle cx="49.8" cy="425.7" r="0.8"/><circle cx="81.8" cy="416.0" r="0.8"/><circle cx="70.5" cy="435.7" r="0.6"/><circle cx="58.9" cy="372.4" r="1.3"/><circle cx="58.4" cy="388.2" r="1.2"/><circle cx="103.5" cy="381.8" r="1.4"/><circle cx="53.6" cy="419.7" r="0.9"/><circle cx="75.9" cy="381.7" r="1.0"/><circle cx="66.1" cy="419.1" r="1.4"/><circle cx="63.4" cy="377.3" r="1.3"/><circle cx="70.6" cy="420.0" r="0.9"/><circle cx="106.8" cy="389.5" r="0.8"/><circle cx="89.2" cy="407.2" r="0.6"/><circle cx="112.9" cy="438.5" r="0.9"/><circle cx="62.6" cy="402.6" r="1.2"/><circle cx="102.1" cy="405.1" r="1.4"/><circle cx="48.3" cy="376.5" r="1.2"/><circle cx="64.3" cy="405.6" r="0.8"/><circle cx="72.2" cy="415.8" r="1.3"/><circle cx="69.6" cy="403.9" r="0.9"/><circle cx="54.7" cy="373.9" r="0.9"/></g><g opacity="0.42"><circle cx="102.7" cy="402.8" r="0.8"/><circle cx="89.1" cy="434.4" r="0.7"/><circle cx="90.6" cy="415.4" r="0.6"/><circle cx="53.9" cy="416.3" r="0.9"/><circle cx="51.4" cy="414.3" r="1.5"/><circle cx="53.2" cy="402.0" r="1.0"/><circle cx="67.3" cy="414.6" r="1.3"/><circle cx="55.6" cy="396.9" r="1.1"/><circle cx="55.6" cy="405.8" r="1.0"/><circle cx="107.3" cy="386.4" r="1.1"/><circle cx="50.7" cy="412.4" r="1.2"/><circle cx="101.8" cy="425.9" r="0.9"/><circle cx="49.9" cy="390.0" r="1.5"/><circle cx="75.3" cy="389.4" r="1.1"/><circle cx="67.0" cy="427.4" r="0.9"/><circle cx="70.9" cy="398.4" r="1.4"/><circle cx="86.3" cy="411.3" r="0.8"/><circle cx="72.7" cy="382.0" r="1.2"/><circle cx="81.7" cy="399.0" r="1.4"/><circle cx="112.0" cy="423.6" r="1.5"/><circle cx="94.6" cy="434.8" r="1.4"/><circle cx="55.7" cy="419.5" r="0.8"/><circle cx="72.4" cy="370.8" r="1.0"/><circle cx="101.2" cy="418.0" r="1.1"/><circle cx="55.7" cy="407.2" r="0.8"/><circle cx="88.6" cy="411.3" r="1.4"/><circle cx="84.3" cy="392.5" r="1.4"/><circle cx="109.6" cy="414.6" r="1.2"/><circle cx="76.0" cy="374.6" r="0.6"/><circle cx="46.9" cy="428.1" r="1.4"/><circle cx="46.7" cy="420.5" r="1.0"/><circle cx="48.2" cy="430.6" r="1.2"/><circle cx="100.8" cy="382.1" r="1.1"/><circle cx="109.9" cy="371.3" r="0.8"/><circle cx="67.7" cy="374.9" r="0.9"/><circle cx="82.6" cy="372.8" r="1.4"/><circle cx="107.6" cy="373.7" r="1.4"/><circle cx="55.1" cy="416.7" r="1.0"/><circle cx="87.0" cy="382.7" r="1.2"/><circle cx="72.5" cy="383.9" r="1.1"/><circle cx="104.0" cy="430.5" r="0.7"/><circle cx="64.6" cy="421.0" r="0.8"/><circle cx="75.8" cy="382.9" r="1.4"/><circle cx="76.2" cy="409.1" r="1.4"/><circle cx="78.4" cy="396.4" r="1.4"/><circle cx="50.8" cy="397.1" r="0.7"/><circle cx="80.7" cy="389.9" r="1.0"/><circle cx="78.2" cy="436.5" r="0.7"/><circle cx="73.8" cy="409.8" r="1.4"/><circle cx="66.4" cy="377.9" r="1.3"/><circle cx="110.2" cy="410.8" r="1.1"/><circle cx="90.9" cy="426.1" r="0.7"/><circle cx="99.3" cy="431.4" r="0.8"/><circle cx="71.4" cy="433.4" r="1.3"/><circle cx="70.1" cy="379.8" r="0.9"/><circle cx="104.8" cy="397.8" r="1.3"/><circle cx="56.1" cy="422.6" r="1.5"/><circle cx="97.7" cy="379.3" r="1.2"/><circle cx="97.9" cy="374.5" r="0.9"/><circle cx="83.5" cy="396.5" r="1.2"/><circle cx="97.8" cy="409.5" r="1.3"/><circle cx="86.5" cy="384.4" r="1.5"/><circle cx="95.6" cy="383.6" r="0.9"/><circle cx="70.9" cy="410.6" r="1.5"/><circle cx="62.5" cy="405.5" r="0.8"/><circle cx="103.0" cy="391.3" r="0.6"/><circle cx="54.5" cy="395.2" r="1.2"/><circle cx="99.9" cy="408.8" r="1.0"/><circle cx="80.9" cy="380.3" r="0.9"/><circle cx="60.1" cy="422.8" r="1.0"/><circle cx="68.5" cy="397.5" r="1.5"/><circle cx="82.9" cy="434.9" r="0.7"/><circle cx="95.2" cy="391.9" r="1.2"/><circle cx="71.7" cy="425.4" r="1.0"/><circle cx="65.9" cy="407.6" r="0.6"/><circle cx="90.8" cy="387.5" r="1.4"/><circle cx="113.6" cy="384.8" r="0.6"/><circle cx="93.4" cy="420.4" r="1.3"/><circle cx="86.3" cy="423.5" r="0.8"/><circle cx="90.5" cy="410.6" r="1.0"/><circle cx="84.7" cy="378.9" r="1.0"/><circle cx="51.3" cy="371.2" r="1.2"/><circle cx="108.1" cy="386.2" r="1.2"/><circle cx="62.7" cy="418.2" r="1.3"/><circle cx="75.8" cy="378.1" r="0.8"/><circle cx="99.5" cy="433.1" r="1.5"/><circle cx="54.0" cy="418.0" r="0.6"/><circle cx="85.8" cy="400.3" r="0.8"/><circle cx="67.7" cy="411.8" r="0.7"/><circle cx="76.1" cy="392.2" r="0.8"/><circle cx="82.2" cy="380.3" r="1.5"/><circle cx="95.3" cy="382.0" r="1.3"/><circle cx="73.0" cy="402.8" r="1.0"/><circle cx="107.7" cy="399.4" r="1.4"/><circle cx="71.5" cy="388.7" r="0.7"/><circle cx="62.3" cy="390.1" r="0.9"/><circle cx="78.9" cy="407.6" r="1.3"/><circle cx="89.6" cy="417.0" r="0.9"/><circle cx="87.5" cy="394.1" r="0.8"/><circle cx="74.1" cy="410.0" r="0.7"/><circle cx="46.8" cy="374.1" r="0.8"/><circle cx="76.2" cy="400.7" r="0.8"/><circle cx="71.7" cy="408.0" r="1.1"/><circle cx="62.7" cy="376.7" r="1.4"/><circle cx="94.0" cy="424.9" r="1.3"/><circle cx="53.7" cy="394.0" r="1.2"/><circle cx="77.0" cy="426.0" r="0.9"/><circle cx="69.5" cy="417.8" r="1.0"/><circle cx="97.7" cy="408.3" r="0.9"/><circle cx="111.7" cy="424.0" r="1.2"/><circle cx="70.3" cy="430.8" r="1.2"/><circle cx="54.0" cy="411.4" r="1.2"/><circle cx="68.4" cy="419.3" r="1.3"/><circle cx="103.2" cy="408.5" r="1.0"/><circle cx="92.8" cy="419.3" r="1.0"/><circle cx="52.7" cy="370.4" r="0.9"/><circle cx="71.9" cy="421.9" r="1.5"/><circle cx="110.0" cy="377.2" r="0.9"/><circle cx="70.0" cy="409.9" r="1.4"/><circle cx="81.7" cy="401.6" r="1.1"/><circle cx="111.5" cy="421.2" r="1.3"/><circle cx="82.7" cy="429.1" r="0.7"/><circle cx="68.8" cy="398.2" r="1.4"/><circle cx="113.3" cy="371.9" r="1.4"/><circle cx="93.2" cy="377.4" r="0.8"/><circle cx="85.6" cy="377.8" r="1.0"/><circle cx="92.2" cy="376.7" r="1.1"/><circle cx="52.3" cy="421.5" r="1.2"/><circle cx="104.2" cy="375.8" r="1.2"/><circle cx="105.0" cy="404.2" r="1.4"/><circle cx="61.4" cy="400.8" r="1.3"/><circle cx="49.9" cy="378.1" r="0.8"/><circle cx="69.8" cy="412.8" r="1.1"/><circle cx="59.0" cy="432.3" r="1.4"/><circle cx="46.7" cy="436.3" r="1.5"/><circle cx="81.4" cy="429.1" r="1.3"/><circle cx="69.0" cy="415.9" r="1.1"/><circle cx="110.0" cy="386.0" r="0.6"/><circle cx="76.1" cy="436.4" r="1.0"/><circle cx="78.6" cy="426.2" r="1.2"/><circle cx="46.3" cy="427.8" r="1.3"/><circle cx="91.0" cy="414.9" r="0.7"/><circle cx="90.7" cy="383.5" r="1.1"/><circle cx="50.3" cy="423.1" r="0.8"/><circle cx="53.1" cy="408.9" r="1.5"/><circle cx="74.5" cy="406.6" r="0.7"/><circle cx="59.4" cy="382.8" r="1.0"/><circle cx="100.6" cy="433.9" r="0.6"/><circle cx="97.7" cy="384.9" r="1.1"/><circle cx="63.6" cy="390.8" r="1.5"/><circle cx="100.5" cy="388.2" r="1.2"/><circle cx="46.8" cy="402.4" r="1.1"/><circle cx="75.5" cy="437.0" r="1.0"/><circle cx="69.4" cy="392.0" r="1.3"/><circle cx="89.5" cy="411.0" r="1.3"/><circle cx="84.2" cy="432.1" r="0.9"/><circle cx="89.6" cy="389.6" r="1.4"/><circle cx="59.0" cy="405.6" r="0.8"/><circle cx="110.7" cy="402.4" r="1.4"/><circle cx="77.7" cy="431.5" r="1.0"/><circle cx="80.3" cy="412.1" r="1.4"/><circle cx="109.0" cy="438.0" r="0.7"/><circle cx="54.6" cy="404.9" r="1.5"/><circle cx="56.6" cy="391.7" r="0.9"/><circle cx="99.5" cy="382.8" r="0.9"/><circle cx="80.3" cy="402.7" r="1.3"/><circle cx="51.5" cy="392.6" r="0.7"/><circle cx="83.6" cy="373.2" r="0.9"/><circle cx="53.6" cy="424.6" r="1.3"/><circle cx="102.5" cy="382.5" r="0.8"/><circle cx="57.4" cy="373.4" r="1.3"/><circle cx="62.4" cy="424.9" r="1.1"/><circle cx="84.2" cy="429.0" r="0.9"/><circle cx="77.2" cy="396.3" r="1.1"/><circle cx="57.6" cy="410.2" r="0.9"/><circle cx="45.9" cy="380.4" r="1.4"/><circle cx="66.8" cy="411.3" r="1.3"/><circle cx="80.4" cy="406.7" r="0.8"/><circle cx="61.6" cy="392.7" r="0.7"/><circle cx="65.8" cy="412.6" r="0.8"/><circle cx="78.9" cy="403.5" r="1.2"/><circle cx="77.5" cy="405.7" r="0.9"/><circle cx="48.7" cy="435.3" r="1.0"/><circle cx="52.1" cy="412.8" r="0.6"/><circle cx="111.8" cy="437.2" r="0.8"/><circle cx="75.6" cy="434.9" r="1.1"/><circle cx="57.6" cy="392.9" r="0.7"/><circle cx="95.7" cy="379.9" r="1.1"/><circle cx="91.0" cy="419.0" r="1.0"/><circle cx="66.2" cy="375.9" r="1.0"/><circle cx="48.3" cy="418.5" r="1.2"/><circle cx="84.4" cy="405.3" r="1.2"/><circle cx="90.4" cy="380.9" r="1.4"/><circle cx="98.0" cy="409.4" r="0.8"/><circle cx="82.8" cy="430.7" r="0.7"/><circle cx="63.0" cy="385.4" r="1.2"/><circle cx="46.6" cy="413.1" r="1.2"/><circle cx="64.2" cy="405.5" r="0.7"/><circle cx="65.2" cy="407.3" r="0.7"/><circle cx="111.0" cy="414.6" r="1.0"/><circle cx="66.5" cy="395.5" r="1.3"/><circle cx="80.7" cy="405.8" r="0.7"/><circle cx="67.6" cy="429.3" r="1.3"/><circle cx="78.4" cy="407.1" r="0.6"/><circle cx="67.7" cy="375.3" r="1.5"/><circle cx="59.3" cy="406.5" r="0.7"/><circle cx="55.1" cy="388.0" r="1.0"/><circle cx="109.4" cy="390.7" r="1.0"/><circle cx="82.2" cy="378.3" r="1.4"/><circle cx="73.6" cy="418.9" r="0.9"/><circle cx="85.5" cy="394.4" r="1.2"/><circle cx="74.3" cy="390.4" r="1.0"/><circle cx="57.8" cy="382.7" r="1.2"/><circle cx="77.1" cy="418.3" r="1.3"/><circle cx="98.1" cy="407.5" r="1.3"/><circle cx="51.1" cy="423.4" r="1.4"/><circle cx="61.5" cy="395.9" r="1.5"/><circle cx="58.3" cy="395.9" r="0.9"/><circle cx="91.3" cy="404.0" r="0.8"/><circle cx="105.4" cy="409.7" r="1.4"/><circle cx="59.5" cy="414.7" r="1.1"/><circle cx="47.6" cy="417.8" r="1.1"/><circle cx="106.3" cy="410.0" r="0.9"/><circle cx="110.2" cy="423.3" r="1.2"/><circle cx="75.3" cy="382.2" r="1.0"/><circle cx="105.4" cy="437.8" r="0.8"/><circle cx="72.1" cy="403.2" r="0.7"/><circle cx="111.0" cy="390.4" r="1.2"/><circle cx="78.7" cy="412.9" r="1.1"/><circle cx="105.6" cy="372.2" r="0.6"/><circle cx="109.2" cy="424.5" r="0.6"/><circle cx="110.8" cy="405.0" r="1.1"/><circle cx="75.7" cy="413.3" r="0.7"/><circle cx="97.3" cy="417.8" r="1.1"/><circle cx="97.0" cy="425.7" r="1.0"/><circle cx="61.8" cy="398.6" r="1.3"/><circle cx="72.2" cy="399.0" r="0.8"/><circle cx="79.2" cy="370.8" r="1.5"/><circle cx="67.5" cy="415.8" r="0.8"/><circle cx="83.8" cy="421.4" r="1.3"/><circle cx="69.8" cy="375.8" r="1.0"/><circle cx="84.2" cy="406.4" r="0.8"/><circle cx="67.5" cy="423.0" r="1.1"/><circle cx="95.1" cy="410.3" r="0.7"/><circle cx="55.8" cy="432.8" r="1.2"/><circle cx="59.3" cy="386.0" r="1.4"/><circle cx="96.9" cy="370.3" r="1.5"/><circle cx="103.1" cy="418.5" r="1.5"/><circle cx="92.7" cy="402.1" r="1.4"/><circle cx="84.8" cy="420.7" r="1.2"/><circle cx="87.9" cy="405.7" r="1.1"/><circle cx="79.4" cy="380.9" r="0.9"/><circle cx="81.0" cy="433.3" r="0.9"/><circle cx="59.3" cy="402.3" r="0.7"/><circle cx="100.4" cy="429.9" r="0.8"/><circle cx="75.4" cy="382.2" r="0.7"/><circle cx="63.0" cy="435.9" r="0.9"/><circle cx="52.4" cy="430.7" r="1.1"/><circle cx="87.4" cy="377.6" r="1.0"/><circle cx="97.1" cy="390.4" r="1.0"/><circle cx="90.3" cy="426.5" r="0.8"/><circle cx="86.4" cy="421.2" r="1.1"/><circle cx="49.3" cy="432.4" r="1.5"/><circle cx="74.8" cy="421.4" r="1.0"/><circle cx="95.9" cy="395.6" r="1.2"/><circle cx="56.1" cy="413.4" r="1.5"/><circle cx="55.0" cy="425.6" r="1.0"/><circle cx="70.1" cy="422.5" r="1.0"/><circle cx="108.6" cy="422.9" r="0.8"/></g><g opacity="0.55"><circle cx="66.7" cy="375.0" r="1.5"/><circle cx="96.9" cy="416.7" r="1.1"/><circle cx="114.1" cy="405.1" r="0.7"/><circle cx="77.6" cy="379.0" r="0.9"/><circle cx="81.0" cy="408.4" r="1.4"/><circle cx="109.1" cy="377.5" r="0.9"/><circle cx="51.2" cy="371.9" r="1.1"/><circle cx="50.7" cy="376.2" r="0.8"/><circle cx="84.1" cy="437.4" r="1.1"/><circle cx="74.7" cy="409.5" r="0.8"/><circle cx="104.9" cy="416.8" r="0.9"/><circle cx="110.5" cy="387.7" r="1.3"/><circle cx="101.2" cy="408.5" r="0.7"/><circle cx="90.8" cy="377.2" r="1.0"/><circle cx="72.1" cy="399.3" r="0.9"/><circle cx="84.0" cy="437.4" r="0.9"/><circle cx="106.9" cy="401.7" r="0.9"/><circle cx="70.6" cy="425.1" r="1.4"/><circle cx="91.5" cy="381.8" r="0.7"/><circle cx="81.8" cy="403.0" r="1.4"/><circle cx="46.7" cy="376.9" r="1.2"/><circle cx="98.1" cy="410.8" r="1.2"/><circle cx="56.2" cy="376.2" r="1.5"/><circle cx="80.2" cy="372.6" r="0.8"/><circle cx="99.0" cy="400.7" r="1.0"/><circle cx="89.8" cy="404.9" r="0.9"/><circle cx="93.4" cy="436.7" r="1.4"/><circle cx="71.3" cy="391.8" r="1.5"/><circle cx="63.2" cy="412.8" r="0.7"/><circle cx="81.6" cy="377.2" r="0.7"/><circle cx="52.1" cy="420.5" r="1.3"/><circle cx="69.4" cy="402.3" r="0.7"/><circle cx="97.8" cy="412.5" r="0.9"/><circle cx="61.3" cy="427.0" r="1.0"/><circle cx="100.4" cy="415.5" r="1.0"/><circle cx="89.0" cy="410.0" r="0.7"/><circle cx="78.2" cy="413.8" r="1.1"/><circle cx="65.1" cy="416.0" r="0.7"/><circle cx="108.2" cy="381.4" r="0.8"/><circle cx="71.5" cy="385.6" r="1.2"/><circle cx="51.8" cy="422.9" r="1.3"/><circle cx="108.9" cy="391.6" r="1.2"/><circle cx="106.7" cy="386.7" r="1.2"/><circle cx="66.3" cy="376.8" r="0.9"/><circle cx="50.1" cy="421.9" r="0.7"/><circle cx="94.6" cy="424.1" r="1.1"/><circle cx="79.3" cy="397.3" r="0.8"/><circle cx="71.1" cy="378.5" r="1.2"/><circle cx="65.0" cy="430.1" r="1.3"/><circle cx="74.6" cy="371.4" r="1.5"/><circle cx="67.9" cy="396.6" r="1.5"/><circle cx="45.9" cy="400.7" r="1.4"/><circle cx="94.9" cy="390.8" r="0.8"/><circle cx="60.3" cy="384.4" r="1.2"/><circle cx="85.9" cy="417.8" r="1.2"/><circle cx="66.9" cy="384.4" r="1.3"/><circle cx="89.2" cy="400.6" r="1.3"/><circle cx="110.1" cy="389.6" r="1.3"/><circle cx="108.9" cy="393.7" r="1.2"/><circle cx="100.3" cy="388.1" r="0.9"/><circle cx="53.3" cy="382.4" r="0.8"/><circle cx="109.2" cy="404.4" r="0.9"/><circle cx="98.7" cy="420.0" r="0.9"/><circle cx="108.3" cy="386.9" r="0.8"/><circle cx="58.7" cy="406.1" r="0.7"/><circle cx="102.9" cy="394.2" r="1.0"/><circle cx="49.0" cy="415.9" r="0.8"/><circle cx="50.9" cy="394.1" r="1.0"/><circle cx="68.4" cy="380.3" r="0.8"/><circle cx="52.2" cy="407.3" r="0.9"/><circle cx="57.3" cy="384.1" r="0.9"/><circle cx="74.5" cy="437.2" r="1.5"/><circle cx="50.7" cy="418.6" r="1.3"/><circle cx="53.8" cy="406.3" r="1.0"/><circle cx="55.2" cy="431.9" r="1.2"/><circle cx="61.6" cy="401.7" r="1.2"/><circle cx="47.4" cy="433.5" r="1.0"/><circle cx="97.1" cy="413.7" r="0.7"/><circle cx="95.8" cy="400.4" r="0.7"/><circle cx="96.7" cy="414.7" r="1.3"/><circle cx="49.6" cy="386.6" r="1.1"/><circle cx="72.1" cy="399.5" r="0.9"/><circle cx="61.6" cy="371.1" r="1.4"/><circle cx="52.9" cy="411.0" r="1.5"/><circle cx="95.8" cy="374.7" r="1.3"/><circle cx="85.2" cy="424.4" r="1.4"/><circle cx="51.3" cy="412.2" r="1.4"/><circle cx="62.7" cy="410.4" r="0.8"/><circle cx="55.8" cy="388.1" r="1.0"/><circle cx="114.3" cy="426.5" r="1.1"/><circle cx="59.4" cy="382.2" r="0.9"/><circle cx="98.4" cy="388.3" r="1.2"/><circle cx="52.6" cy="390.5" r="1.0"/><circle cx="92.0" cy="418.1" r="0.6"/><circle cx="72.6" cy="423.8" r="1.3"/><circle cx="65.6" cy="377.0" r="0.8"/><circle cx="68.6" cy="388.6" r="1.2"/><circle cx="111.7" cy="405.6" r="0.9"/><circle cx="70.5" cy="405.5" r="0.7"/><circle cx="80.2" cy="380.9" r="1.4"/><circle cx="70.7" cy="424.4" r="1.1"/><circle cx="109.8" cy="429.6" r="1.4"/><circle cx="83.5" cy="413.3" r="1.4"/><circle cx="67.0" cy="380.0" r="1.3"/><circle cx="54.6" cy="374.9" r="1.4"/><circle cx="47.8" cy="434.0" r="0.9"/><circle cx="108.8" cy="377.1" r="0.7"/><circle cx="55.8" cy="406.4" r="1.4"/><circle cx="111.6" cy="370.5" r="1.4"/><circle cx="63.1" cy="400.9" r="0.7"/><circle cx="81.8" cy="407.2" r="1.0"/><circle cx="60.1" cy="399.7" r="1.0"/><circle cx="69.0" cy="378.7" r="1.0"/><circle cx="81.7" cy="390.7" r="1.2"/><circle cx="72.0" cy="420.2" r="1.3"/><circle cx="104.5" cy="397.7" r="0.7"/><circle cx="61.0" cy="395.5" r="1.2"/><circle cx="50.2" cy="406.8" r="1.2"/><circle cx="70.5" cy="410.1" r="0.8"/><circle cx="76.2" cy="386.3" r="0.8"/><circle cx="82.0" cy="389.0" r="1.1"/><circle cx="77.9" cy="423.8" r="0.8"/><circle cx="74.8" cy="370.2" r="0.7"/><circle cx="82.8" cy="378.8" r="1.0"/><circle cx="46.3" cy="399.8" r="0.8"/><circle cx="52.3" cy="401.1" r="1.4"/><circle cx="77.8" cy="402.6" r="1.2"/><circle cx="83.2" cy="431.9" r="1.5"/><circle cx="56.1" cy="395.7" r="1.1"/><circle cx="96.7" cy="428.3" r="0.7"/><circle cx="85.8" cy="380.9" r="1.4"/><circle cx="88.8" cy="391.6" r="0.8"/><circle cx="63.7" cy="396.9" r="1.4"/><circle cx="53.4" cy="392.4" r="0.6"/><circle cx="73.8" cy="423.2" r="1.3"/><circle cx="56.5" cy="406.5" r="1.2"/><circle cx="68.4" cy="398.5" r="1.3"/><circle cx="96.2" cy="409.6" r="1.0"/><circle cx="71.7" cy="376.3" r="0.7"/><circle cx="53.6" cy="373.4" r="1.2"/><circle cx="102.3" cy="412.7" r="0.8"/><circle cx="74.2" cy="386.5" r="0.9"/><circle cx="60.1" cy="385.7" r="0.9"/><circle cx="91.1" cy="410.0" r="1.3"/><circle cx="70.4" cy="370.0" r="1.5"/><circle cx="53.8" cy="377.7" r="0.8"/><circle cx="55.4" cy="415.7" r="0.7"/><circle cx="46.8" cy="376.5" r="1.1"/><circle cx="97.4" cy="377.2" r="0.9"/><circle cx="74.2" cy="436.5" r="0.9"/><circle cx="72.5" cy="399.2" r="1.1"/><circle cx="113.5" cy="423.1" r="1.1"/><circle cx="108.0" cy="399.7" r="1.0"/><circle cx="94.3" cy="403.8" r="1.0"/><circle cx="93.3" cy="373.0" r="1.0"/><circle cx="92.9" cy="419.7" r="0.7"/><circle cx="93.5" cy="383.9" r="1.0"/><circle cx="108.3" cy="414.5" r="1.2"/><circle cx="94.7" cy="372.4" r="1.1"/><circle cx="52.4" cy="373.6" r="0.8"/><circle cx="60.0" cy="378.9" r="1.1"/><circle cx="51.5" cy="393.2" r="0.8"/><circle cx="85.7" cy="412.9" r="0.6"/><circle cx="56.1" cy="395.2" r="1.3"/><circle cx="76.9" cy="424.2" r="0.7"/><circle cx="62.8" cy="372.2" r="1.2"/><circle cx="69.5" cy="383.6" r="1.2"/><circle cx="51.1" cy="372.1" r="1.2"/><circle cx="58.4" cy="427.9" r="1.5"/><circle cx="68.7" cy="379.9" r="1.4"/><circle cx="69.9" cy="378.2" r="1.4"/><circle cx="107.8" cy="423.0" r="0.7"/><circle cx="67.3" cy="432.5" r="1.3"/><circle cx="97.9" cy="403.0" r="0.7"/><circle cx="53.9" cy="435.4" r="1.2"/><circle cx="75.4" cy="377.9" r="0.7"/><circle cx="50.0" cy="380.1" r="0.7"/><circle cx="95.0" cy="411.5" r="0.8"/><circle cx="107.1" cy="392.5" r="0.6"/><circle cx="58.5" cy="413.8" r="0.7"/><circle cx="102.3" cy="424.6" r="1.5"/><circle cx="58.0" cy="402.2" r="1.4"/><circle cx="88.8" cy="400.4" r="1.0"/><circle cx="104.5" cy="418.6" r="1.5"/><circle cx="75.2" cy="398.9" r="1.0"/><circle cx="104.2" cy="374.2" r="1.1"/><circle cx="54.2" cy="407.9" r="0.9"/><circle cx="50.8" cy="375.1" r="1.0"/><circle cx="59.6" cy="378.9" r="1.2"/><circle cx="48.9" cy="380.8" r="1.4"/><circle cx="113.0" cy="407.4" r="0.9"/><circle cx="77.8" cy="434.9" r="1.0"/><circle cx="109.5" cy="373.7" r="1.2"/><circle cx="47.3" cy="420.7" r="0.7"/><circle cx="90.4" cy="412.3" r="1.5"/><circle cx="50.7" cy="378.4" r="1.3"/><circle cx="70.6" cy="404.5" r="1.1"/><circle cx="110.9" cy="393.3" r="1.3"/><circle cx="65.2" cy="399.8" r="1.4"/><circle cx="106.2" cy="385.5" r="0.7"/><circle cx="58.0" cy="382.7" r="1.2"/><circle cx="69.5" cy="376.7" r="0.7"/><circle cx="58.0" cy="393.2" r="1.1"/><circle cx="75.2" cy="402.5" r="1.4"/><circle cx="80.9" cy="372.9" r="0.8"/><circle cx="83.8" cy="427.6" r="0.7"/><circle cx="81.1" cy="414.7" r="0.7"/><circle cx="50.9" cy="421.3" r="0.7"/><circle cx="73.9" cy="389.5" r="1.0"/><circle cx="45.8" cy="420.3" r="1.3"/><circle cx="75.8" cy="377.7" r="1.3"/><circle cx="51.1" cy="428.5" r="1.1"/><circle cx="113.4" cy="433.7" r="1.4"/><circle cx="101.6" cy="427.3" r="0.7"/><circle cx="63.5" cy="375.7" r="0.6"/><circle cx="78.1" cy="421.7" r="0.7"/><circle cx="83.4" cy="370.6" r="1.4"/><circle cx="91.5" cy="390.0" r="1.4"/><circle cx="49.9" cy="427.7" r="0.8"/><circle cx="92.8" cy="405.2" r="1.1"/><circle cx="76.6" cy="380.4" r="0.9"/><circle cx="70.8" cy="401.1" r="1.5"/><circle cx="69.0" cy="370.7" r="0.7"/><circle cx="83.8" cy="414.2" r="1.3"/><circle cx="94.4" cy="427.6" r="1.4"/><circle cx="102.8" cy="424.3" r="1.1"/><circle cx="104.4" cy="385.7" r="1.4"/><circle cx="50.6" cy="408.4" r="0.7"/><circle cx="54.3" cy="431.3" r="0.7"/><circle cx="96.5" cy="429.0" r="1.3"/><circle cx="113.9" cy="412.6" r="0.9"/><circle cx="104.2" cy="437.1" r="1.4"/><circle cx="53.3" cy="417.4" r="1.4"/><circle cx="80.1" cy="428.6" r="0.7"/><circle cx="67.6" cy="379.1" r="1.3"/><circle cx="53.7" cy="394.9" r="1.4"/><circle cx="103.6" cy="385.0" r="1.5"/><circle cx="53.5" cy="377.1" r="1.3"/><circle cx="48.0" cy="425.5" r="1.4"/><circle cx="48.2" cy="435.9" r="0.8"/><circle cx="78.1" cy="384.6" r="1.4"/><circle cx="106.5" cy="423.8" r="1.1"/><circle cx="59.5" cy="405.1" r="1.1"/><circle cx="106.2" cy="405.6" r="1.3"/><circle cx="81.3" cy="377.6" r="1.4"/><circle cx="91.2" cy="404.0" r="1.2"/></g></g>
<g filter="url(#blur2)"></g>
</g>
<rect x="45.00" y="370.00" width="69.40" height="69.00" fill="none" stroke="#2a2a2a" stroke-width="1.2"/>
<clipPath id="h4"><rect x="116.2" y="370.0" width="69.4" height="69.0"/></clipPath>
<g clip-path="url(#h4)">
<rect x="116.20" y="370.00" width="69.40" height="69.00" fill="#e6e8ee"/>
<g fill="#9eb0e2" filter="url(#blur1)"><g opacity="0.3"><circle cx="144.3" cy="370.1" r="1.4"/><circle cx="166.4" cy="384.6" r="1.4"/><circle cx="180.1" cy="424.5" r="0.9"/><circle cx="168.2" cy="372.6" r="1.1"/><circle cx="164.0" cy="425.4" r="1.2"/><circle cx="167.8" cy="401.6" r="1.5"/><circle cx="118.2" cy="429.2" r="1.3"/><circle cx="177.7" cy="401.5" r="1.4"/><circle cx="128.9" cy="428.4" r="0.9"/><circle cx="168.6" cy="409.3" r="1.3"/><circle cx="172.5" cy="380.0" r="1.1"/><circle cx="160.7" cy="432.8" r="0.7"/><circle cx="117.1" cy="413.1" r="1.1"/><circle cx="135.8" cy="419.9" r="0.7"/><circle cx="178.1" cy="434.8" r="0.9"/><circle cx="172.1" cy="382.2" r="1.4"/><circle cx="120.4" cy="378.0" r="1.4"/><circle cx="132.8" cy="405.9" r="0.8"/><circle cx="171.5" cy="424.8" r="1.1"/><circle cx="167.3" cy="396.3" r="1.2"/><circle cx="133.1" cy="385.9" r="1.1"/><circle cx="137.7" cy="434.1" r="0.7"/><circle cx="123.1" cy="394.2" r="1.5"/><circle cx="181.5" cy="400.9" r="1.4"/><circle cx="124.9" cy="375.1" r="0.9"/><circle cx="150.3" cy="404.5" r="1.4"/><circle cx="145.2" cy="426.7" r="1.2"/><circle cx="152.2" cy="381.6" r="1.4"/><circle cx="146.5" cy="388.8" r="0.9"/><circle cx="157.8" cy="392.7" r="1.5"/><circle cx="155.9" cy="423.0" r="0.8"/><circle cx="133.1" cy="420.7" r="1.1"/><circle cx="181.8" cy="428.7" r="0.8"/><circle cx="138.0" cy="416.1" r="1.5"/><circle cx="177.5" cy="377.3" r="1.2"/><circle cx="146.1" cy="427.9" r="1.2"/><circle cx="158.3" cy="421.5" r="1.1"/><circle cx="165.3" cy="414.8" r="1.2"/><circle cx="122.7" cy="431.2" r="1.0"/><circle cx="118.7" cy="436.4" r="1.4"/><circle cx="144.0" cy="408.2" r="0.9"/><circle cx="170.9" cy="399.9" r="0.7"/><circle cx="152.1" cy="421.8" r="1.2"/><circle cx="181.2" cy="394.3" r="1.4"/><circle cx="150.3" cy="412.4" r="1.0"/><circle cx="182.0" cy="437.8" r="0.7"/><circle cx="163.0" cy="431.1" r="0.7"/><circle cx="117.5" cy="400.1" r="1.0"/><circle cx="184.0" cy="399.0" r="1.2"/><circle cx="157.3" cy="402.5" r="1.3"/><circle cx="137.7" cy="423.6" r="0.7"/><circle cx="131.1" cy="395.0" r="1.0"/><circle cx="156.8" cy="421.3" r="0.7"/><circle cx="184.7" cy="396.9" r="1.3"/><circle cx="126.9" cy="384.1" r="1.2"/><circle cx="178.9" cy="424.4" r="1.3"/><circle cx="183.4" cy="412.5" r="1.0"/><circle cx="127.3" cy="438.7" r="1.3"/><circle cx="149.5" cy="384.8" r="0.8"/><circle cx="176.3" cy="417.4" r="1.0"/><circle cx="139.5" cy="388.9" r="0.7"/><circle cx="127.3" cy="398.3" r="0.7"/><circle cx="179.7" cy="420.0" r="1.2"/><circle cx="135.9" cy="409.9" r="1.3"/><circle cx="182.5" cy="421.9" r="1.0"/><circle cx="122.3" cy="430.2" r="1.4"/><circle cx="162.7" cy="428.8" r="0.8"/><circle cx="179.6" cy="373.9" r="0.9"/><circle cx="163.8" cy="396.4" r="1.3"/><circle cx="182.3" cy="438.9" r="1.3"/><circle cx="167.2" cy="430.4" r="0.9"/><circle cx="118.5" cy="403.8" r="0.7"/><circle cx="133.9" cy="372.2" r="0.8"/><circle cx="183.8" cy="417.7" r="1.0"/><circle cx="167.8" cy="389.6" r="1.3"/><circle cx="145.4" cy="437.1" r="0.8"/><circle cx="159.9" cy="390.4" r="1.2"/><circle cx="124.4" cy="392.2" r="0.9"/><circle cx="169.1" cy="383.4" r="0.7"/><circle cx="176.0" cy="431.5" r="0.9"/><circle cx="124.9" cy="435.3" r="1.2"/><circle cx="135.6" cy="403.5" r="1.1"/><circle cx="145.7" cy="380.4" r="1.5"/><circle cx="180.5" cy="411.9" r="0.7"/><circle cx="149.1" cy="376.8" r="1.3"/><circle cx="151.8" cy="399.7" r="0.6"/><circle cx="168.9" cy="383.6" r="0.9"/><circle cx="125.2" cy="432.0" r="0.6"/><circle cx="145.2" cy="393.4" r="0.9"/><circle cx="128.7" cy="401.8" r="1.4"/><circle cx="155.3" cy="421.5" r="1.5"/><circle cx="125.3" cy="382.6" r="1.0"/><circle cx="122.2" cy="371.3" r="1.4"/><circle cx="126.2" cy="374.4" r="0.7"/><circle cx="132.0" cy="384.9" r="1.5"/><circle cx="148.6" cy="381.9" r="1.1"/><circle cx="136.0" cy="394.5" r="1.1"/><circle cx="169.0" cy="388.2" r="1.2"/><circle cx="120.1" cy="394.1" r="1.1"/><circle cx="175.1" cy="402.4" r="0.6"/><circle cx="128.9" cy="430.4" r="0.7"/><circle cx="172.6" cy="383.9" r="1.3"/><circle cx="139.0" cy="417.8" r="0.9"/><circle cx="179.6" cy="398.6" r="0.7"/><circle cx="153.2" cy="373.7" r="1.4"/><circle cx="167.7" cy="432.1" r="0.9"/><circle cx="120.9" cy="395.9" r="1.3"/><circle cx="146.3" cy="397.0" r="1.2"/><circle cx="173.6" cy="378.8" r="1.2"/><circle cx="122.3" cy="426.6" r="0.8"/><circle cx="160.6" cy="414.7" r="0.9"/><circle cx="157.7" cy="390.6" r="0.9"/><circle cx="173.9" cy="411.0" r="1.0"/><circle cx="148.7" cy="400.5" r="0.6"/><circle cx="138.5" cy="402.7" r="1.1"/><circle cx="135.3" cy="421.4" r="1.3"/><circle cx="152.1" cy="377.4" r="0.7"/><circle cx="140.6" cy="404.2" r="1.0"/><circle cx="179.0" cy="375.8" r="1.0"/><circle cx="116.9" cy="397.9" r="1.3"/><circle cx="139.1" cy="371.2" r="1.2"/><circle cx="124.0" cy="437.2" r="1.3"/><circle cx="175.9" cy="407.5" r="0.8"/><circle cx="178.4" cy="392.9" r="1.4"/><circle cx="134.6" cy="423.9" r="1.0"/><circle cx="169.0" cy="374.7" r="0.8"/><circle cx="178.4" cy="438.0" r="1.0"/><circle cx="173.3" cy="434.9" r="1.4"/><circle cx="184.3" cy="377.4" r="1.1"/><circle cx="156.0" cy="418.1" r="1.0"/><circle cx="152.5" cy="420.1" r="1.2"/><circle cx="135.6" cy="406.5" r="1.3"/><circle cx="137.1" cy="423.1" r="0.8"/><circle cx="129.5" cy="386.8" r="1.0"/><circle cx="144.0" cy="403.3" r="0.7"/><circle cx="179.7" cy="385.9" r="0.6"/><circle cx="144.0" cy="421.4" r="1.1"/><circle cx="126.8" cy="430.3" r="0.7"/><circle cx="133.3" cy="428.3" r="1.0"/><circle cx="160.5" cy="384.9" r="0.8"/><circle cx="117.6" cy="406.8" r="1.1"/><circle cx="145.1" cy="425.2" r="0.8"/><circle cx="170.7" cy="430.2" r="1.0"/><circle cx="150.2" cy="418.5" r="1.2"/><circle cx="165.4" cy="408.6" r="0.8"/><circle cx="119.2" cy="378.2" r="1.0"/><circle cx="177.6" cy="412.0" r="1.3"/><circle cx="173.6" cy="408.0" r="1.0"/><circle cx="125.6" cy="405.9" r="1.3"/><circle cx="177.5" cy="398.5" r="1.0"/><circle cx="157.5" cy="416.7" r="1.1"/><circle cx="179.4" cy="371.1" r="1.2"/><circle cx="176.9" cy="388.0" r="1.4"/><circle cx="155.8" cy="390.8" r="0.6"/><circle cx="157.8" cy="401.0" r="0.9"/><circle cx="165.1" cy="435.8" r="1.0"/><circle cx="179.5" cy="428.9" r="1.1"/><circle cx="149.0" cy="403.9" r="1.0"/><circle cx="121.9" cy="385.3" r="1.3"/><circle cx="171.3" cy="418.3" r="1.3"/><circle cx="119.0" cy="392.7" r="0.8"/><circle cx="122.8" cy="418.0" r="0.7"/><circle cx="159.3" cy="431.0" r="1.3"/><circle cx="168.0" cy="395.6" r="0.8"/><circle cx="138.3" cy="375.8" r="0.8"/><circle cx="152.9" cy="413.0" r="0.7"/><circle cx="157.2" cy="412.0" r="0.9"/><circle cx="169.4" cy="422.8" r="0.7"/><circle cx="178.0" cy="393.7" r="0.6"/><circle cx="133.8" cy="417.7" r="1.5"/><circle cx="159.9" cy="386.1" r="1.4"/><circle cx="129.7" cy="403.7" r="1.4"/><circle cx="132.0" cy="403.3" r="1.1"/><circle cx="138.4" cy="385.8" r="1.4"/><circle cx="143.9" cy="424.1" r="1.3"/><circle cx="178.4" cy="433.1" r="0.9"/><circle cx="143.6" cy="373.6" r="1.0"/><circle cx="154.0" cy="423.8" r="1.0"/><circle cx="161.5" cy="438.9" r="1.2"/><circle cx="131.6" cy="416.5" r="1.0"/><circle cx="160.6" cy="377.3" r="1.0"/><circle cx="154.4" cy="404.7" r="0.8"/><circle cx="170.5" cy="397.9" r="0.9"/><circle cx="145.5" cy="437.7" r="0.8"/><circle cx="167.8" cy="424.4" r="1.1"/><circle cx="169.1" cy="395.4" r="0.9"/><circle cx="137.3" cy="390.3" r="1.2"/><circle cx="180.9" cy="427.9" r="0.9"/><circle cx="126.2" cy="416.6" r="1.3"/><circle cx="172.4" cy="396.6" r="1.2"/><circle cx="126.0" cy="373.0" r="1.4"/><circle cx="151.8" cy="431.0" r="1.0"/><circle cx="132.9" cy="415.0" r="1.4"/><circle cx="171.0" cy="420.7" r="1.2"/><circle cx="128.3" cy="386.0" r="1.3"/><circle cx="166.3" cy="385.6" r="1.3"/><circle cx="122.2" cy="379.7" r="0.9"/><circle cx="125.2" cy="399.9" r="0.8"/><circle cx="129.1" cy="419.9" r="1.3"/><circle cx="160.7" cy="379.5" r="0.8"/><circle cx="156.2" cy="409.7" r="0.8"/><circle cx="141.7" cy="432.0" r="1.2"/><circle cx="182.6" cy="375.5" r="1.3"/><circle cx="184.2" cy="432.5" r="1.2"/><circle cx="117.3" cy="422.7" r="1.0"/><circle cx="143.6" cy="385.2" r="0.6"/><circle cx="171.5" cy="436.6" r="1.2"/><circle cx="148.0" cy="404.9" r="1.2"/><circle cx="153.0" cy="382.3" r="0.9"/><circle cx="182.0" cy="383.3" r="0.8"/><circle cx="123.5" cy="393.9" r="1.3"/><circle cx="165.0" cy="379.7" r="1.0"/><circle cx="139.2" cy="381.8" r="1.2"/><circle cx="132.3" cy="395.7" r="0.8"/><circle cx="145.0" cy="379.6" r="1.4"/><circle cx="154.8" cy="378.0" r="1.0"/><circle cx="156.3" cy="420.4" r="0.8"/><circle cx="126.7" cy="421.4" r="1.4"/><circle cx="157.9" cy="437.1" r="0.8"/><circle cx="149.7" cy="404.7" r="0.9"/><circle cx="127.4" cy="396.5" r="1.1"/><circle cx="137.0" cy="415.8" r="1.4"/><circle cx="181.9" cy="372.9" r="0.9"/><circle cx="129.8" cy="393.5" r="1.5"/><circle cx="160.2" cy="433.1" r="1.3"/><circle cx="152.0" cy="400.6" r="1.2"/><circle cx="178.0" cy="415.8" r="0.9"/><circle cx="167.3" cy="414.4" r="1.1"/><circle cx="129.2" cy="375.9" r="0.8"/><circle cx="138.2" cy="389.4" r="1.1"/><circle cx="130.8" cy="435.8" r="1.2"/><circle cx="178.0" cy="411.2" r="1.2"/><circle cx="165.8" cy="398.2" r="1.0"/><circle cx="183.6" cy="383.2" r="0.9"/><circle cx="171.9" cy="424.0" r="0.7"/></g><g opacity="0.42"><circle cx="144.7" cy="387.0" r="1.2"/><circle cx="154.3" cy="373.6" r="0.9"/><circle cx="127.3" cy="379.7" r="0.9"/><circle cx="123.0" cy="424.4" r="1.1"/><circle cx="151.4" cy="422.7" r="0.8"/><circle cx="126.9" cy="420.1" r="0.6"/><circle cx="117.9" cy="387.5" r="1.0"/><circle cx="129.3" cy="404.2" r="0.8"/><circle cx="122.2" cy="384.9" r="0.7"/><circle cx="147.6" cy="433.3" r="1.2"/><circle cx="169.7" cy="411.3" r="1.4"/><circle cx="165.3" cy="434.6" r="1.1"/><circle cx="145.8" cy="415.4" r="0.6"/><circle cx="144.3" cy="376.4" r="1.0"/><circle cx="121.4" cy="408.0" r="1.5"/><circle cx="124.0" cy="407.2" r="0.9"/><circle cx="165.3" cy="411.7" r="0.8"/><circle cx="137.0" cy="408.1" r="0.7"/><circle cx="122.5" cy="399.0" r="1.5"/><circle cx="173.0" cy="409.7" r="0.9"/><circle cx="129.3" cy="414.9" r="0.9"/><circle cx="152.6" cy="398.8" r="1.5"/><circle cx="180.5" cy="403.0" r="1.1"/><circle cx="176.3" cy="404.0" r="0.6"/><circle cx="130.5" cy="429.1" r="1.0"/><circle cx="174.5" cy="394.8" r="1.5"/><circle cx="139.4" cy="422.1" r="1.0"/><circle cx="164.4" cy="407.9" r="0.7"/><circle cx="162.4" cy="376.3" r="1.4"/><circle cx="134.1" cy="410.8" r="0.8"/><circle cx="140.6" cy="406.1" r="0.9"/><circle cx="164.2" cy="382.5" r="0.8"/><circle cx="147.7" cy="435.9" r="1.4"/><circle cx="154.8" cy="375.0" r="1.2"/><circle cx="125.8" cy="388.4" r="1.3"/><circle cx="169.0" cy="399.1" r="0.8"/><circle cx="122.7" cy="379.2" r="1.2"/><circle cx="156.4" cy="411.1" r="1.5"/><circle cx="126.7" cy="409.1" r="0.9"/><circle cx="124.9" cy="408.6" r="0.8"/><circle cx="146.5" cy="401.1" r="1.0"/><circle cx="162.6" cy="383.9" r="0.8"/><circle cx="142.4" cy="406.5" r="1.1"/><circle cx="128.0" cy="436.8" r="1.0"/><circle cx="175.9" cy="409.5" r="1.2"/><circle cx="142.7" cy="417.0" r="1.4"/><circle cx="127.5" cy="414.0" r="0.9"/><circle cx="168.4" cy="397.2" r="1.2"/><circle cx="139.6" cy="414.8" r="0.8"/><circle cx="125.6" cy="433.4" r="0.9"/><circle cx="145.2" cy="418.8" r="1.1"/><circle cx="147.2" cy="401.4" r="1.0"/><circle cx="123.9" cy="401.9" r="0.8"/><circle cx="120.0" cy="388.7" r="1.4"/><circle cx="148.9" cy="380.5" r="0.6"/><circle cx="119.1" cy="429.6" r="1.3"/><circle cx="117.8" cy="420.8" r="1.3"/><circle cx="159.3" cy="395.3" r="0.9"/><circle cx="141.5" cy="385.2" r="1.5"/><circle cx="184.4" cy="402.4" r="1.4"/><circle cx="134.5" cy="419.7" r="1.4"/><circle cx="137.5" cy="434.3" r="0.6"/><circle cx="171.1" cy="370.6" r="1.3"/><circle cx="149.4" cy="408.8" r="1.3"/><circle cx="170.2" cy="396.3" r="0.9"/><circle cx="178.2" cy="409.4" r="1.3"/><circle cx="177.1" cy="419.8" r="0.8"/><circle cx="148.3" cy="437.3" r="1.3"/><circle cx="179.2" cy="382.2" r="1.3"/><circle cx="158.9" cy="422.7" r="1.2"/><circle cx="137.1" cy="416.8" r="0.9"/><circle cx="131.7" cy="422.9" r="1.2"/><circle cx="141.4" cy="399.0" r="0.9"/><circle cx="154.8" cy="434.9" r="0.7"/><circle cx="156.1" cy="382.7" r="1.1"/><circle cx="153.3" cy="390.1" r="1.0"/><circle cx="147.7" cy="391.8" r="1.1"/><circle cx="184.9" cy="434.1" r="1.3"/><circle cx="155.3" cy="406.9" r="0.9"/><circle cx="146.3" cy="397.7" r="0.8"/><circle cx="163.2" cy="385.3" r="0.8"/><circle cx="180.7" cy="436.0" r="1.4"/><circle cx="143.5" cy="401.5" r="0.8"/><circle cx="129.8" cy="428.3" r="0.9"/><circle cx="156.4" cy="383.0" r="1.2"/><circle cx="171.8" cy="419.8" r="1.3"/><circle cx="125.7" cy="382.0" r="1.1"/><circle cx="139.8" cy="404.9" r="1.4"/><circle cx="141.6" cy="426.7" r="0.6"/><circle cx="154.6" cy="378.0" r="0.9"/><circle cx="157.5" cy="389.6" r="1.4"/><circle cx="147.3" cy="432.8" r="1.4"/><circle cx="137.4" cy="428.0" r="0.9"/><circle cx="145.0" cy="438.7" r="1.3"/><circle cx="171.9" cy="426.0" r="1.2"/><circle cx="167.2" cy="419.5" r="0.9"/><circle cx="161.8" cy="437.8" r="1.3"/><circle cx="122.0" cy="395.7" r="1.2"/><circle cx="143.3" cy="422.5" r="1.2"/><circle cx="174.2" cy="412.7" r="0.8"/><circle cx="159.2" cy="423.8" r="1.2"/><circle cx="147.5" cy="373.6" r="0.7"/><circle cx="171.3" cy="410.7" r="1.2"/><circle cx="157.6" cy="378.2" r="0.9"/><circle cx="180.1" cy="437.9" r="1.4"/><circle cx="138.2" cy="422.1" r="1.2"/><circle cx="141.9" cy="401.6" r="1.1"/><circle cx="154.1" cy="417.2" r="0.7"/><circle cx="181.5" cy="423.4" r="1.1"/><circle cx="183.2" cy="397.5" r="1.5"/><circle cx="135.5" cy="392.7" r="1.1"/><circle cx="117.0" cy="389.8" r="1.4"/><circle cx="122.8" cy="408.2" r="1.1"/><circle cx="166.7" cy="386.4" r="0.9"/><circle cx="140.0" cy="417.7" r="1.4"/><circle cx="145.4" cy="406.2" r="1.0"/><circle cx="134.0" cy="419.5" r="1.0"/><circle cx="175.8" cy="434.9" r="0.6"/><circle cx="173.8" cy="422.6" r="0.6"/><circle cx="123.6" cy="385.4" r="0.9"/><circle cx="156.0" cy="413.1" r="0.8"/><circle cx="149.5" cy="374.8" r="0.9"/><circle cx="140.1" cy="416.8" r="1.0"/><circle cx="140.1" cy="433.8" r="1.2"/><circle cx="124.7" cy="423.4" r="0.6"/><circle cx="182.5" cy="432.5" r="1.2"/><circle cx="159.0" cy="390.5" r="1.2"/><circle cx="144.7" cy="377.9" r="0.6"/><circle cx="165.9" cy="403.1" r="1.3"/><circle cx="167.8" cy="390.6" r="0.8"/><circle cx="122.7" cy="390.4" r="0.7"/><circle cx="132.4" cy="427.4" r="1.2"/><circle cx="174.2" cy="401.8" r="1.3"/><circle cx="164.7" cy="398.2" r="1.5"/><circle cx="168.4" cy="417.2" r="0.7"/><circle cx="161.1" cy="382.0" r="1.3"/><circle cx="133.6" cy="437.0" r="0.8"/><circle cx="145.4" cy="413.2" r="0.9"/><circle cx="151.4" cy="394.7" r="1.5"/><circle cx="172.4" cy="406.4" r="0.8"/><circle cx="153.6" cy="386.5" r="1.4"/><circle cx="146.2" cy="385.8" r="1.3"/><circle cx="152.1" cy="422.5" r="0.7"/><circle cx="161.2" cy="393.1" r="1.2"/><circle cx="138.1" cy="400.8" r="1.2"/><circle cx="119.0" cy="430.0" r="1.1"/><circle cx="175.8" cy="398.2" r="0.9"/><circle cx="153.5" cy="435.4" r="0.8"/><circle cx="169.1" cy="386.2" r="1.2"/><circle cx="174.5" cy="406.1" r="0.8"/><circle cx="173.3" cy="382.7" r="1.1"/><circle cx="121.1" cy="386.0" r="1.2"/><circle cx="149.6" cy="385.9" r="0.8"/><circle cx="131.3" cy="436.6" r="1.4"/><circle cx="123.6" cy="385.9" r="1.1"/><circle cx="136.2" cy="372.0" r="1.2"/><circle cx="158.7" cy="398.1" r="1.2"/><circle cx="176.2" cy="395.3" r="0.9"/><circle cx="141.9" cy="407.3" r="0.7"/><circle cx="171.9" cy="417.8" r="0.8"/><circle cx="165.6" cy="385.2" r="1.1"/><circle cx="171.7" cy="422.5" r="1.0"/><circle cx="120.3" cy="411.1" r="0.9"/><circle cx="141.9" cy="408.8" r="0.9"/><circle cx="118.4" cy="433.8" r="1.2"/><circle cx="145.5" cy="400.1" r="0.7"/><circle cx="174.0" cy="433.5" r="0.7"/><circle cx="166.0" cy="404.2" r="1.4"/><circle cx="124.3" cy="410.0" r="1.1"/><circle cx="158.0" cy="377.6" r="1.4"/><circle cx="178.2" cy="405.8" r="1.5"/><circle cx="164.2" cy="409.0" r="1.2"/><circle cx="158.8" cy="417.1" r="0.8"/><circle cx="143.7" cy="397.3" r="1.4"/><circle cx="156.4" cy="410.6" r="0.9"/><circle cx="167.6" cy="377.8" r="0.9"/><circle cx="176.4" cy="376.0" r="0.8"/><circle cx="149.2" cy="374.7" r="1.4"/><circle cx="163.2" cy="400.9" r="1.1"/><circle cx="140.6" cy="435.9" r="1.4"/><circle cx="125.4" cy="412.5" r="1.5"/><circle cx="148.1" cy="424.6" r="0.9"/><circle cx="135.6" cy="434.6" r="1.0"/><circle cx="163.1" cy="390.2" r="1.3"/><circle cx="136.1" cy="377.4" r="0.8"/><circle cx="158.8" cy="431.2" r="0.8"/><circle cx="172.7" cy="434.3" r="1.5"/><circle cx="129.4" cy="429.7" r="0.9"/><circle cx="142.4" cy="380.1" r="1.5"/><circle cx="145.8" cy="383.2" r="0.7"/><circle cx="184.2" cy="408.9" r="0.6"/><circle cx="172.7" cy="406.1" r="1.1"/><circle cx="180.2" cy="386.7" r="1.1"/><circle cx="180.8" cy="373.5" r="1.0"/><circle cx="138.2" cy="418.0" r="0.8"/><circle cx="149.9" cy="385.1" r="0.7"/><circle cx="171.4" cy="386.2" r="1.4"/><circle cx="181.7" cy="390.5" r="1.2"/><circle cx="145.5" cy="370.3" r="0.8"/><circle cx="165.2" cy="376.0" r="0.9"/><circle cx="176.8" cy="415.9" r="0.7"/><circle cx="132.5" cy="418.5" r="1.2"/><circle cx="120.9" cy="429.7" r="1.2"/><circle cx="182.0" cy="396.4" r="1.1"/><circle cx="179.2" cy="403.8" r="1.2"/><circle cx="141.2" cy="417.6" r="0.7"/><circle cx="170.1" cy="374.8" r="1.2"/><circle cx="125.1" cy="386.7" r="0.9"/><circle cx="177.1" cy="391.4" r="0.7"/><circle cx="147.2" cy="409.4" r="1.1"/><circle cx="131.6" cy="372.6" r="1.0"/><circle cx="167.0" cy="393.4" r="0.9"/><circle cx="167.6" cy="417.0" r="0.9"/><circle cx="124.3" cy="390.7" r="0.9"/><circle cx="181.7" cy="421.6" r="0.9"/><circle cx="145.0" cy="377.0" r="1.4"/><circle cx="147.6" cy="438.2" r="0.9"/><circle cx="162.0" cy="400.1" r="0.9"/><circle cx="125.8" cy="437.4" r="1.4"/><circle cx="141.6" cy="419.8" r="1.0"/><circle cx="144.3" cy="400.8" r="0.6"/><circle cx="166.1" cy="436.5" r="1.1"/><circle cx="143.9" cy="393.7" r="0.8"/><circle cx="176.1" cy="389.3" r="1.1"/><circle cx="116.8" cy="407.0" r="1.2"/><circle cx="185.0" cy="432.8" r="1.4"/><circle cx="122.3" cy="429.9" r="1.1"/><circle cx="165.2" cy="396.6" r="1.0"/><circle cx="116.4" cy="425.1" r="0.7"/><circle cx="184.9" cy="415.8" r="1.5"/><circle cx="144.4" cy="419.7" r="0.8"/><circle cx="162.1" cy="429.3" r="1.3"/><circle cx="136.0" cy="381.7" r="0.8"/><circle cx="181.0" cy="425.4" r="1.4"/><circle cx="154.7" cy="383.0" r="1.0"/><circle cx="183.8" cy="401.4" r="1.1"/><circle cx="152.0" cy="396.7" r="0.7"/><circle cx="134.6" cy="419.6" r="1.0"/><circle cx="120.0" cy="411.1" r="1.2"/><circle cx="128.1" cy="432.2" r="1.5"/><circle cx="169.4" cy="377.0" r="1.1"/><circle cx="164.7" cy="419.4" r="0.8"/><circle cx="134.9" cy="433.3" r="1.2"/><circle cx="168.6" cy="373.6" r="1.2"/><circle cx="127.3" cy="433.1" r="1.3"/><circle cx="182.2" cy="376.6" r="0.8"/><circle cx="136.5" cy="407.3" r="1.5"/><circle cx="148.3" cy="426.1" r="0.8"/><circle cx="164.8" cy="387.5" r="1.3"/><circle cx="159.2" cy="374.6" r="1.4"/><circle cx="140.4" cy="404.6" r="0.7"/><circle cx="156.2" cy="385.1" r="0.6"/><circle cx="150.7" cy="375.8" r="1.4"/><circle cx="172.2" cy="401.0" r="1.1"/><circle cx="168.1" cy="406.0" r="1.2"/><circle cx="122.5" cy="374.1" r="1.5"/><circle cx="173.5" cy="383.0" r="0.7"/><circle cx="175.0" cy="396.7" r="0.8"/><circle cx="130.2" cy="384.3" r="1.3"/><circle cx="168.6" cy="400.5" r="1.4"/><circle cx="171.0" cy="422.6" r="0.9"/><circle cx="165.7" cy="431.6" r="1.0"/><circle cx="168.2" cy="431.1" r="0.8"/><circle cx="120.9" cy="416.7" r="0.8"/><circle cx="178.2" cy="398.7" r="1.4"/><circle cx="119.6" cy="381.9" r="1.3"/><circle cx="166.4" cy="419.6" r="0.9"/><circle cx="118.3" cy="432.1" r="1.3"/><circle cx="119.7" cy="435.4" r="1.1"/><circle cx="128.6" cy="371.5" r="0.7"/><circle cx="156.7" cy="429.2" r="0.7"/><circle cx="167.8" cy="420.2" r="1.1"/><circle cx="163.0" cy="393.0" r="1.0"/><circle cx="163.7" cy="385.3" r="1.2"/></g><g opacity="0.55"><circle cx="135.4" cy="427.4" r="0.8"/><circle cx="177.2" cy="390.3" r="0.8"/><circle cx="160.2" cy="420.8" r="1.2"/><circle cx="121.6" cy="437.0" r="1.3"/><circle cx="127.1" cy="387.2" r="0.7"/><circle cx="166.9" cy="380.9" r="1.1"/><circle cx="164.4" cy="370.6" r="1.4"/><circle cx="141.3" cy="405.8" r="1.2"/><circle cx="161.5" cy="393.9" r="0.7"/><circle cx="129.4" cy="376.3" r="1.2"/><circle cx="178.5" cy="410.8" r="1.4"/><circle cx="124.1" cy="390.7" r="1.1"/><circle cx="126.6" cy="375.7" r="1.1"/><circle cx="183.4" cy="387.5" r="1.3"/><circle cx="178.7" cy="435.3" r="1.5"/><circle cx="155.3" cy="432.0" r="1.4"/><circle cx="134.4" cy="420.8" r="0.7"/><circle cx="141.0" cy="436.1" r="1.5"/><circle cx="165.8" cy="428.9" r="0.9"/><circle cx="180.4" cy="370.9" r="1.2"/><circle cx="123.5" cy="422.4" r="0.9"/><circle cx="137.7" cy="428.5" r="0.7"/><circle cx="117.9" cy="380.5" r="1.0"/><circle cx="133.9" cy="383.2" r="1.2"/><circle cx="140.2" cy="388.9" r="0.9"/><circle cx="180.3" cy="434.4" r="1.2"/><circle cx="139.8" cy="394.7" r="1.2"/><circle cx="139.5" cy="374.3" r="0.9"/><circle cx="170.1" cy="392.8" r="1.5"/><circle cx="150.2" cy="379.0" r="1.5"/><circle cx="123.3" cy="422.4" r="1.1"/><circle cx="125.2" cy="371.3" r="1.1"/><circle cx="174.5" cy="414.2" r="1.4"/><circle cx="138.4" cy="433.5" r="1.3"/><circle cx="168.6" cy="397.0" r="1.1"/><circle cx="120.2" cy="407.2" r="1.1"/><circle cx="126.9" cy="437.5" r="1.1"/><circle cx="126.7" cy="434.9" r="0.8"/><circle cx="155.9" cy="376.2" r="1.5"/><circle cx="177.2" cy="391.9" r="0.7"/><circle cx="149.1" cy="374.9" r="0.6"/><circle cx="142.5" cy="404.7" r="1.4"/><circle cx="146.2" cy="395.1" r="1.3"/><circle cx="125.9" cy="381.5" r="1.4"/><circle cx="138.2" cy="390.2" r="0.7"/><circle cx="168.6" cy="418.6" r="1.3"/><circle cx="153.1" cy="396.8" r="0.6"/><circle cx="150.1" cy="376.3" r="1.3"/><circle cx="138.0" cy="409.3" r="1.2"/><circle cx="149.4" cy="410.3" r="0.8"/><circle cx="163.0" cy="396.0" r="1.4"/><circle cx="180.6" cy="374.4" r="1.4"/><circle cx="168.5" cy="399.1" r="0.7"/><circle cx="146.0" cy="403.6" r="0.8"/><circle cx="116.5" cy="431.8" r="1.1"/><circle cx="184.9" cy="424.6" r="1.1"/><circle cx="175.3" cy="414.3" r="1.0"/><circle cx="161.8" cy="437.5" r="1.3"/><circle cx="166.2" cy="411.5" r="1.5"/><circle cx="129.4" cy="414.4" r="0.8"/><circle cx="174.7" cy="408.1" r="1.1"/><circle cx="169.5" cy="416.6" r="1.0"/><circle cx="178.3" cy="411.2" r="0.6"/><circle cx="118.8" cy="377.4" r="0.8"/><circle cx="142.1" cy="414.2" r="0.9"/><circle cx="166.4" cy="379.2" r="0.6"/><circle cx="176.6" cy="430.6" r="0.6"/><circle cx="159.4" cy="414.4" r="0.8"/><circle cx="159.6" cy="403.8" r="1.3"/><circle cx="150.6" cy="389.6" r="1.3"/><circle cx="133.5" cy="430.1" r="1.4"/><circle cx="177.2" cy="375.0" r="1.1"/><circle cx="176.8" cy="392.2" r="1.1"/><circle cx="173.0" cy="387.4" r="1.1"/><circle cx="147.3" cy="381.0" r="1.4"/><circle cx="157.9" cy="378.0" r="0.8"/><circle cx="180.4" cy="435.8" r="0.7"/><circle cx="149.7" cy="431.5" r="0.7"/><circle cx="181.3" cy="381.7" r="0.8"/><circle cx="180.8" cy="396.0" r="1.2"/><circle cx="117.6" cy="433.1" r="1.4"/><circle cx="183.6" cy="390.7" r="0.6"/><circle cx="138.0" cy="429.5" r="0.7"/><circle cx="137.3" cy="431.6" r="1.3"/><circle cx="179.4" cy="390.6" r="0.8"/><circle cx="154.1" cy="373.0" r="0.8"/><circle cx="143.1" cy="426.8" r="1.4"/><circle cx="121.6" cy="404.9" r="0.7"/><circle cx="163.8" cy="381.4" r="1.4"/><circle cx="163.7" cy="407.0" r="1.0"/><circle cx="121.5" cy="415.3" r="1.5"/><circle cx="146.5" cy="420.3" r="0.7"/><circle cx="160.9" cy="383.7" r="1.2"/><circle cx="143.2" cy="429.4" r="1.1"/><circle cx="134.2" cy="394.0" r="1.5"/><circle cx="151.3" cy="428.5" r="1.5"/><circle cx="168.9" cy="389.0" r="0.8"/><circle cx="126.3" cy="437.0" r="1.4"/><circle cx="118.0" cy="417.7" r="1.0"/><circle cx="176.2" cy="422.6" r="1.4"/><circle cx="167.1" cy="380.4" r="1.4"/><circle cx="178.9" cy="391.6" r="1.5"/><circle cx="122.2" cy="420.8" r="1.2"/><circle cx="185.3" cy="382.2" r="0.6"/><circle cx="174.3" cy="403.5" r="1.2"/><circle cx="125.6" cy="411.1" r="0.9"/><circle cx="149.8" cy="431.7" r="0.7"/><circle cx="123.1" cy="431.5" r="1.2"/><circle cx="116.9" cy="416.5" r="1.2"/><circle cx="147.1" cy="376.8" r="1.3"/><circle cx="138.1" cy="375.1" r="1.5"/><circle cx="168.5" cy="396.9" r="0.9"/><circle cx="151.4" cy="401.3" r="1.3"/><circle cx="148.1" cy="430.8" r="1.3"/><circle cx="151.3" cy="408.6" r="0.9"/><circle cx="123.4" cy="431.2" r="1.1"/><circle cx="148.5" cy="390.0" r="0.8"/><circle cx="145.2" cy="429.1" r="0.8"/><circle cx="139.4" cy="402.2" r="0.9"/><circle cx="141.7" cy="416.9" r="0.8"/><circle cx="147.1" cy="438.6" r="1.3"/><circle cx="182.3" cy="409.1" r="0.9"/><circle cx="155.5" cy="412.7" r="0.7"/><circle cx="152.8" cy="392.1" r="1.5"/><circle cx="117.7" cy="397.6" r="0.8"/><circle cx="162.5" cy="373.7" r="1.0"/><circle cx="177.3" cy="372.9" r="0.9"/><circle cx="124.3" cy="377.4" r="1.3"/><circle cx="146.7" cy="383.8" r="1.3"/><circle cx="156.6" cy="375.6" r="1.2"/><circle cx="146.0" cy="374.1" r="0.9"/><circle cx="133.1" cy="409.0" r="1.0"/><circle cx="180.0" cy="396.0" r="0.7"/><circle cx="146.7" cy="416.1" r="1.1"/><circle cx="168.3" cy="391.8" r="0.8"/><circle cx="148.7" cy="436.1" r="1.5"/><circle cx="139.4" cy="419.7" r="0.9"/><circle cx="169.6" cy="406.2" r="1.0"/><circle cx="117.6" cy="408.2" r="1.1"/><circle cx="141.5" cy="385.0" r="1.2"/><circle cx="185.0" cy="421.7" r="1.1"/><circle cx="181.1" cy="438.1" r="1.1"/><circle cx="122.3" cy="390.4" r="1.3"/><circle cx="157.1" cy="380.1" r="1.1"/><circle cx="183.6" cy="407.8" r="1.4"/><circle cx="123.4" cy="430.1" r="1.1"/><circle cx="120.0" cy="414.0" r="0.8"/><circle cx="144.8" cy="378.3" r="1.0"/><circle cx="128.6" cy="422.3" r="0.8"/><circle cx="161.2" cy="398.7" r="0.7"/><circle cx="156.8" cy="385.2" r="1.0"/><circle cx="119.0" cy="417.0" r="0.7"/><circle cx="169.8" cy="386.1" r="0.6"/><circle cx="166.0" cy="393.8" r="1.3"/><circle cx="133.9" cy="390.7" r="0.8"/><circle cx="157.5" cy="393.3" r="1.1"/><circle cx="122.5" cy="432.5" r="0.7"/><circle cx="139.8" cy="388.6" r="0.9"/><circle cx="118.0" cy="402.4" r="1.2"/><circle cx="127.9" cy="385.6" r="1.0"/><circle cx="157.8" cy="427.9" r="0.9"/><circle cx="139.7" cy="414.9" r="1.3"/><circle cx="140.6" cy="386.0" r="0.7"/><circle cx="142.0" cy="398.7" r="1.5"/><circle cx="135.9" cy="372.8" r="1.0"/><circle cx="159.5" cy="399.7" r="1.3"/><circle cx="162.3" cy="400.9" r="1.3"/><circle cx="123.1" cy="388.5" r="1.4"/><circle cx="144.9" cy="408.4" r="0.7"/><circle cx="131.3" cy="412.5" r="0.7"/><circle cx="144.9" cy="412.1" r="1.3"/><circle cx="148.1" cy="434.1" r="1.1"/><circle cx="149.5" cy="395.1" r="1.5"/><circle cx="150.5" cy="437.2" r="1.3"/><circle cx="128.2" cy="378.8" r="1.3"/><circle cx="156.0" cy="377.0" r="1.2"/><circle cx="148.9" cy="416.6" r="1.0"/><circle cx="121.2" cy="435.2" r="0.7"/><circle cx="155.4" cy="394.4" r="1.1"/><circle cx="134.2" cy="379.1" r="1.2"/><circle cx="143.5" cy="375.9" r="0.8"/><circle cx="143.2" cy="371.6" r="0.8"/><circle cx="153.1" cy="388.2" r="0.6"/><circle cx="161.3" cy="428.4" r="1.3"/><circle cx="143.1" cy="435.4" r="1.0"/><circle cx="124.8" cy="389.1" r="1.4"/><circle cx="185.4" cy="426.6" r="1.1"/><circle cx="160.4" cy="428.2" r="1.0"/><circle cx="176.9" cy="424.0" r="1.4"/><circle cx="151.5" cy="397.9" r="1.2"/><circle cx="146.4" cy="423.1" r="1.3"/><circle cx="181.6" cy="401.2" r="1.3"/><circle cx="164.8" cy="429.2" r="1.4"/><circle cx="167.6" cy="382.8" r="1.3"/><circle cx="164.4" cy="402.0" r="1.1"/><circle cx="176.0" cy="379.4" r="1.3"/><circle cx="173.0" cy="436.6" r="1.2"/><circle cx="135.4" cy="421.3" r="1.3"/><circle cx="142.3" cy="381.1" r="0.7"/><circle cx="179.1" cy="413.1" r="0.9"/><circle cx="169.2" cy="398.8" r="1.4"/><circle cx="142.9" cy="384.6" r="0.8"/><circle cx="128.6" cy="386.0" r="1.1"/><circle cx="147.3" cy="434.0" r="0.9"/><circle cx="145.6" cy="415.7" r="1.1"/><circle cx="136.6" cy="381.5" r="1.1"/><circle cx="151.9" cy="438.4" r="1.0"/><circle cx="140.1" cy="392.5" r="0.7"/><circle cx="154.6" cy="397.1" r="0.9"/><circle cx="172.5" cy="416.8" r="0.7"/><circle cx="160.7" cy="372.2" r="0.9"/><circle cx="174.2" cy="437.6" r="0.9"/><circle cx="170.9" cy="385.4" r="0.8"/><circle cx="125.8" cy="390.2" r="1.1"/><circle cx="155.7" cy="388.7" r="0.9"/><circle cx="138.7" cy="384.3" r="1.0"/><circle cx="180.2" cy="385.9" r="0.7"/><circle cx="179.2" cy="375.7" r="1.0"/><circle cx="183.0" cy="399.9" r="1.1"/><circle cx="140.4" cy="416.4" r="0.7"/><circle cx="120.6" cy="396.1" r="0.8"/><circle cx="154.7" cy="416.9" r="1.2"/><circle cx="163.9" cy="398.6" r="0.7"/><circle cx="166.0" cy="386.8" r="1.0"/><circle cx="142.2" cy="384.8" r="1.1"/><circle cx="153.3" cy="432.4" r="0.7"/><circle cx="148.5" cy="428.4" r="0.7"/><circle cx="153.7" cy="425.4" r="0.8"/><circle cx="159.2" cy="395.0" r="1.0"/><circle cx="174.5" cy="410.7" r="0.7"/><circle cx="154.5" cy="412.7" r="1.3"/><circle cx="172.2" cy="379.8" r="0.8"/><circle cx="182.6" cy="405.0" r="1.5"/><circle cx="153.7" cy="404.9" r="1.3"/><circle cx="184.3" cy="378.7" r="0.7"/><circle cx="178.2" cy="418.6" r="1.4"/><circle cx="181.9" cy="435.3" r="0.6"/><circle cx="123.8" cy="432.9" r="0.7"/><circle cx="175.7" cy="378.3" r="0.9"/><circle cx="176.8" cy="432.7" r="1.4"/><circle cx="164.7" cy="427.9" r="1.2"/><circle cx="154.5" cy="423.4" r="0.8"/><circle cx="127.6" cy="387.4" r="0.9"/><circle cx="175.6" cy="406.8" r="1.1"/><circle cx="161.7" cy="378.9" r="1.4"/><circle cx="170.6" cy="401.2" r="1.3"/><circle cx="139.3" cy="434.7" r="0.9"/><circle cx="158.2" cy="377.2" r="1.4"/><circle cx="128.2" cy="384.6" r="1.3"/><circle cx="173.3" cy="416.9" r="1.4"/><circle cx="184.7" cy="389.4" r="1.1"/></g></g>
<g filter="url(#blur2)"><ellipse cx="140.5" cy="401.2" rx="2.5" ry="1.8" fill="#9a6a44" opacity="0.6" transform="rotate(83 140.5 401.2)"/><circle cx="140.2" cy="400.8" r="1.2" fill="#7e4a26" opacity="0.55"/><ellipse cx="145.5" cy="399.0" rx="1.8" ry="1.1" fill="#9a6a44" opacity="0.6" transform="rotate(100 145.5 399.0)"/><circle cx="145.6" cy="399.5" r="0.7" fill="#7e4a26" opacity="0.55"/><ellipse cx="138.7" cy="414.5" rx="2.1" ry="1.4" fill="#9a6a44" opacity="0.6" transform="rotate(78 138.7 414.5)"/><circle cx="138.4" cy="414.9" r="0.9" fill="#7e4a26" opacity="0.55"/><ellipse cx="126.5" cy="414.7" rx="2.5" ry="1.8" fill="#9a6a44" opacity="0.6" transform="rotate(49 126.5 414.7)"/><circle cx="127.0" cy="414.2" r="1.1" fill="#7e4a26" opacity="0.55"/><ellipse cx="174.3" cy="390.5" rx="2.1" ry="1.4" fill="#9a6a44" opacity="0.6" transform="rotate(70 174.3 390.5)"/><circle cx="174.0" cy="390.2" r="0.9" fill="#7e4a26" opacity="0.55"/><ellipse cx="174.7" cy="383.5" rx="1.7" ry="1.0" fill="#9a6a44" opacity="0.6" transform="rotate(6 174.7 383.5)"/><circle cx="174.8" cy="383.4" r="0.7" fill="#7e4a26" opacity="0.55"/><ellipse cx="171.8" cy="398.5" rx="2.4" ry="1.7" fill="#9a6a44" opacity="0.6" transform="rotate(161 171.8 398.5)"/><circle cx="171.3" cy="398.0" r="1.1" fill="#7e4a26" opacity="0.55"/><ellipse cx="182.5" cy="409.0" rx="2.5" ry="1.8" fill="#9a6a44" opacity="0.6" transform="rotate(95 182.5 409.0)"/><circle cx="182.8" cy="408.6" r="1.2" fill="#7e4a26" opacity="0.55"/><ellipse cx="159.5" cy="435.0" rx="1.9" ry="1.2" fill="#9a6a44" opacity="0.6" transform="rotate(23 159.5 435.0)"/><circle cx="159.3" cy="434.7" r="0.8" fill="#7e4a26" opacity="0.55"/><ellipse cx="177.5" cy="434.5" rx="1.8" ry="1.1" fill="#9a6a44" opacity="0.6" transform="rotate(62 177.5 434.5)"/><circle cx="178.0" cy="434.0" r="0.7" fill="#7e4a26" opacity="0.55"/><ellipse cx="123.4" cy="429.5" rx="1.9" ry="1.2" fill="#9a6a44" opacity="0.6" transform="rotate(134 123.4 429.5)"/><circle cx="123.2" cy="429.0" r="0.8" fill="#7e4a26" opacity="0.55"/><ellipse cx="144.7" cy="388.0" rx="2.0" ry="1.3" fill="#9a6a44" opacity="0.6" transform="rotate(115 144.7 388.0)"/><circle cx="144.4" cy="387.6" r="0.8" fill="#7e4a26" opacity="0.55"/><ellipse cx="120.3" cy="421.5" rx="2.1" ry="1.4" fill="#9a6a44" opacity="0.6" transform="rotate(35 120.3 421.5)"/><circle cx="120.4" cy="421.5" r="0.9" fill="#7e4a26" opacity="0.55"/><ellipse cx="137.0" cy="385.0" rx="2.5" ry="1.8" fill="#9a6a44" opacity="0.6" transform="rotate(88 137.0 385.0)"/><circle cx="136.5" cy="384.8" r="1.2" fill="#7e4a26" opacity="0.55"/><ellipse cx="173.8" cy="374.0" rx="2.2" ry="1.5" fill="#9a6a44" opacity="0.6" transform="rotate(65 173.8 374.0)"/><circle cx="173.6" cy="374.0" r="0.9" fill="#7e4a26" opacity="0.55"/></g>
</g>
<rect x="116.20" y="370.00" width="69.40" height="69.00" fill="none" stroke="#2a2a2a" stroke-width="1.2"/>
<text x="50.20" y="312.30" font-size="11.8" fill="#b8773c" color="#b8773c">CD8</text>
<text x="79.40" y="295.00" font-size="11.8" fill="#1a1a1a" color="#1a1a1a" text-anchor="middle">-</text>
<text x="150.60" y="295.00" font-size="11.8" fill="#1a1a1a" color="#1a1a1a" text-anchor="middle">rIL-1β</text>
<text x="22.60" y="337.80" font-size="11.8" fill="#1a1a1a" color="#1a1a1a">d15</text>
<text x="22.60" y="409.40" font-size="11.8" fill="#1a1a1a" color="#1a1a1a">d17</text>
<line x1="20.40" y1="333.80" x2="20.40" y2="404.50" stroke="#333" stroke-width="1"/>
<text x="15.30" y="370.30" font-size="11.8" fill="#1a1a1a" color="#1a1a1a" text-anchor="middle" transform="rotate(-90 15.30 370.30)">CDDP/Pem</text>
<text x="48.20" y="431.60" font-size="9.6" fill="#111" color="#111" style="stroke-width:0.12px">100μm</text>
<line x1="46.70" y1="434.80" x2="72.40" y2="434.80" stroke="#111" stroke-width="1.5"/>
<line x1="245.10" y1="303.40" x2="245.10" y2="438.70" stroke="#222" stroke-width="1.1"/>
<line x1="245.10" y1="438.70" x2="331.00" y2="438.70" stroke="#222" stroke-width="1.1"/>
<line x1="241.50" y1="438.70" x2="245.10" y2="438.70" stroke="#222" stroke-width="1.1"/>
<text x="239.30" y="442.80" font-size="11.5" fill="#1a1a1a" color="#1a1a1a" text-anchor="end">0</text>
<line x1="241.50" y1="411.64" x2="245.10" y2="411.64" stroke="#222" stroke-width="1.1"/>
<text x="239.30" y="415.74" font-size="11.5" fill="#1a1a1a" color="#1a1a1a" text-anchor="end">200</text>
<line x1="241.50" y1="384.58" x2="245.10" y2="384.58" stroke="#222" stroke-width="1.1"/>
<text x="239.30" y="388.68" font-size="11.5" fill="#1a1a1a" color="#1a1a1a" text-anchor="end">400</text>
<line x1="241.50" y1="357.52" x2="245.10" y2="357.52" stroke="#222" stroke-width="1.1"/>
<text x="239.30" y="361.62" font-size="11.5" fill="#1a1a1a" color="#1a1a1a" text-anchor="end">600</text>
<line x1="241.50" y1="330.46" x2="245.10" y2="330.46" stroke="#222" stroke-width="1.1"/>
<text x="239.30" y="334.56" font-size="11.5" fill="#1a1a1a" color="#1a1a1a" text-anchor="end">800</text>
<line x1="241.50" y1="303.40" x2="245.10" y2="303.40" stroke="#222" stroke-width="1.1"/>
<text x="239.30" y="307.50" font-size="11.5" fill="#1a1a1a" color="#1a1a1a" text-anchor="end">1000</text>
<text x="291.80" y="299.30" font-size="11.8" fill="#1a1a1a" color="#1a1a1a" text-anchor="middle">LLC1</text>
<text x="214.60" y="371.60" font-size="11.8" fill="#1a1a1a" color="#1a1a1a" text-anchor="middle" transform="rotate(-90 214.60 371.60)">CD8 T cells/mm<tspan font-size="8.8" dy="-4.8">2</tspan></text>
<rect x="299.20" y="325.20" width="6.00" height="5.60" fill="#888" stroke="#222" stroke-width="0.9"/>
<text x="310.40" y="330.80" font-size="11.8" fill="#1a1a1a" color="#1a1a1a">Control</text>
<rect x="299.20" y="338.40" width="6.00" height="5.60" fill="#0e7f94" stroke="#0a5f70" stroke-width="0.9"/>
<text x="310.40" y="344.60" font-size="11.8" fill="#1a1a1a" color="#1a1a1a">rIL1β</text>
<line x1="258.95" y1="427.20" x2="258.95" y2="435.32" stroke="#222" stroke-width="1.1"/>
<line x1="258.95" y1="438.70" x2="258.95" y2="438.70" stroke="#222" stroke-width="1.1"/>
<line x1="255.95" y1="427.20" x2="261.95" y2="427.20" stroke="#222" stroke-width="1.1"/>
<rect x="252.60" y="435.32" width="12.70" height="3.38" fill="#555" stroke="#222" stroke-width="1.1"/>
<line x1="252.60" y1="437.35" x2="265.30" y2="437.35" stroke="#222" stroke-width="1.1"/>
<line x1="273.65" y1="400.14" x2="273.65" y2="430.58" stroke="#222" stroke-width="1.1"/>
<line x1="273.65" y1="438.02" x2="273.65" y2="438.70" stroke="#222" stroke-width="1.1"/>
<line x1="270.65" y1="400.14" x2="276.65" y2="400.14" stroke="#222" stroke-width="1.1"/>
<rect x="267.30" y="430.58" width="12.70" height="7.44" fill="#888" stroke="#222" stroke-width="1.1"/>
<line x1="267.30" y1="435.99" x2="280.00" y2="435.99" stroke="#222" stroke-width="1.1"/>
<line x1="288.35" y1="321.67" x2="288.35" y2="365.64" stroke="#0a5a6a" stroke-width="1.1"/>
<line x1="288.35" y1="423.14" x2="288.35" y2="438.70" stroke="#0a5a6a" stroke-width="1.1"/>
<line x1="285.35" y1="321.67" x2="291.35" y2="321.67" stroke="#0a5a6a" stroke-width="1.1"/>
<rect x="282.20" y="365.64" width="12.30" height="57.50" fill="#0e7f94" stroke="#0a5a6a" stroke-width="1.1"/>
<line x1="282.20" y1="393.37" x2="294.50" y2="393.37" stroke="#0a5a6a" stroke-width="1.1"/>
<line x1="302.95" y1="416.38" x2="302.95" y2="433.29" stroke="#222" stroke-width="1.1"/>
<line x1="302.95" y1="438.02" x2="302.95" y2="438.70" stroke="#222" stroke-width="1.1"/>
<line x1="299.95" y1="416.38" x2="305.95" y2="416.38" stroke="#222" stroke-width="1.1"/>
<rect x="296.80" y="433.29" width="12.30" height="4.74" fill="#888" stroke="#222" stroke-width="1.1"/>
<line x1="296.80" y1="436.67" x2="309.10" y2="436.67" stroke="#222" stroke-width="1.1"/>
<line x1="317.40" y1="371.05" x2="317.40" y2="392.02" stroke="#0a5a6a" stroke-width="1.1"/>
<line x1="317.40" y1="427.88" x2="317.40" y2="438.70" stroke="#0a5a6a" stroke-width="1.1"/>
<line x1="314.40" y1="371.05" x2="320.40" y2="371.05" stroke="#0a5a6a" stroke-width="1.1"/>
<rect x="311.30" y="392.02" width="12.20" height="35.85" fill="#0e7f94" stroke="#0a5a6a" stroke-width="1.1"/>
<line x1="311.30" y1="416.38" x2="323.50" y2="416.38" stroke="#0a5a6a" stroke-width="1.1"/>
<text x="264.00" y="317.30" font-size="7.9" fill="#222" color="#222" style="stroke-width:0.12px">p&lt;0.0001</text>
<line x1="274.40" y1="318.60" x2="288.00" y2="318.60" stroke="#222" stroke-width="0.8"/>
<text x="296.70" y="366.30" font-size="7.9" fill="#222" color="#222" style="stroke-width:0.12px">p&lt;0.0001</text>
<line x1="304.20" y1="367.80" x2="317.80" y2="367.80" stroke="#222" stroke-width="0.8"/>
<text x="247.60" y="450.60" font-size="11.8" fill="#1a1a1a" color="#1a1a1a" text-anchor="end">CDDP/Pem</text>
<text x="258.70" y="450.30" font-size="11.8" fill="#1a1a1a" color="#1a1a1a" text-anchor="middle">-</text>
<text x="273.40" y="450.30" font-size="11.8" fill="#1a1a1a" color="#1a1a1a" text-anchor="middle">+</text>
<text x="288.60" y="450.30" font-size="11.8" fill="#1a1a1a" color="#1a1a1a" text-anchor="middle">+</text>
<text x="303.30" y="450.30" font-size="11.8" fill="#1a1a1a" color="#1a1a1a" text-anchor="middle">+</text>
<text x="317.80" y="450.30" font-size="11.8" fill="#1a1a1a" color="#1a1a1a" text-anchor="middle">+</text>
<line x1="273.00" y1="454.00" x2="288.60" y2="454.00" stroke="#333" stroke-width="1"/>
<line x1="303.30" y1="454.00" x2="318.30" y2="454.00" stroke="#333" stroke-width="1"/>
<text x="280.60" y="466.30" font-size="11.8" fill="#1a1a1a" color="#1a1a1a" text-anchor="middle">d15</text>
<text x="310.50" y="466.30" font-size="11.8" fill="#1a1a1a" color="#1a1a1a" text-anchor="middle">d17</text>
<use href="#mouse" transform="translate(377.00,265.00) scale(1.035)"/>
<line x1="421.50" y1="287.30" x2="558.60" y2="287.30" stroke="#555" stroke-width="1.2"/>
<line x1="422.80" y1="287.30" x2="422.80" y2="290.30" stroke="#555" stroke-width="1.1"/>
<text x="422.80" y="303.20" font-size="11.5" fill="#1a1a1a" color="#1a1a1a" text-anchor="middle">d0</text>
<line x1="452.40" y1="287.30" x2="452.40" y2="290.30" stroke="#555" stroke-width="1.1"/>
<text x="452.40" y="303.20" font-size="11.5" fill="#1a1a1a" color="#1a1a1a" text-anchor="middle">d9</text>
<line x1="482.00" y1="287.30" x2="482.00" y2="290.30" stroke="#555" stroke-width="1.1"/>
<text x="482.00" y="303.20" font-size="11.5" fill="#1a1a1a" color="#1a1a1a" text-anchor="middle">d16</text>
<line x1="512.10" y1="287.30" x2="512.10" y2="290.30" stroke="#555" stroke-width="1.1"/>
<text x="512.10" y="303.20" font-size="11.5" fill="#1a1a1a" color="#1a1a1a" text-anchor="middle">d23</text>
<line x1="542.10" y1="287.30" x2="542.10" y2="290.30" stroke="#555" stroke-width="1.1"/>
<text x="542.10" y="303.20" font-size="11.5" fill="#1a1a1a" color="#1a1a1a" text-anchor="middle">d30</text>
<circle cx="422.80" cy="282.80" r="2.8" fill="#d2a00c"/>
<circle cx="443.20" cy="283.00" r="2.8" fill="#08a2a2"/>
<circle cx="447.65" cy="283.00" r="2.8" fill="#08a2a2"/>
<circle cx="452.10" cy="283.00" r="2.8" fill="#08a2a2"/>
<circle cx="456.55" cy="283.00" r="2.8" fill="#08a2a2"/>
<circle cx="461.00" cy="283.00" r="2.8" fill="#08a2a2"/>
<circle cx="465.45" cy="283.00" r="2.8" fill="#08a2a2"/>
<circle cx="469.90" cy="283.00" r="2.8" fill="#08a2a2"/>
<circle cx="474.35" cy="283.00" r="2.8" fill="#08a2a2"/>
<circle cx="478.80" cy="283.00" r="2.8" fill="#08a2a2"/>
<circle cx="452.40" cy="276.50" r="2.8" fill="#0a66a2"/>
<circle cx="452.40" cy="270.30" r="2.8" fill="#9c0aa8"/>
<circle cx="461.00" cy="276.50" r="2.8" fill="#0a66a2"/>
<circle cx="461.00" cy="270.30" r="2.8" fill="#9c0aa8"/>
<circle cx="469.60" cy="276.50" r="2.8" fill="#0a66a2"/>
<circle cx="469.60" cy="270.30" r="2.8" fill="#9c0aa8"/>
<circle cx="482.40" cy="276.50" r="2.8" fill="#0a66a2"/>
<circle cx="482.40" cy="270.30" r="2.8" fill="#9c0aa8"/>
<circle cx="491.00" cy="276.50" r="2.8" fill="#0a66a2"/>
<circle cx="491.00" cy="270.30" r="2.8" fill="#9c0aa8"/>
<circle cx="499.40" cy="276.50" r="2.8" fill="#0a66a2"/>
<circle cx="499.40" cy="270.30" r="2.8" fill="#9c0aa8"/>
<circle cx="512.50" cy="276.50" r="2.8" fill="#0a66a2"/>
<circle cx="512.50" cy="270.30" r="2.8" fill="#9c0aa8"/>
<circle cx="520.70" cy="276.50" r="2.8" fill="#0a66a2"/>
<circle cx="520.70" cy="270.30" r="2.8" fill="#9c0aa8"/>
<circle cx="529.00" cy="276.50" r="2.8" fill="#0a66a2"/>
<circle cx="529.00" cy="270.30" r="2.8" fill="#9c0aa8"/>
<circle cx="452.40" cy="264.20" r="2.8" fill="#c80808"/>
<text x="563.30" y="273.00" font-size="11.6" fill="#c9a12c" color="#c9a12c">LLC1 (s.c.)</text>
<text x="563.30" y="284.60" font-size="11.6" fill="#333" color="#333"><tspan fill="#cc1f2e" color="#cc1f2e">CDDP/Pem</tspan> / <tspan fill="#1f74b0" color="#1f74b0">αPD-1</tspan></text>
<text x="563.30" y="296.20" font-size="11.6" fill="#1fa8ad" color="#1fa8ad">recIL-1β</text>
<text x="563.30" y="307.80" font-size="11.6" fill="#a020b0" color="#a020b0">Ig or αCD8 or αCXCR3</text>
<line x1="401.00" y1="301.50" x2="401.00" y2="442.50" stroke="#222" stroke-width="1.1"/>
<line x1="401.00" y1="436.60" x2="522.50" y2="436.60" stroke="#222" stroke-width="1.1"/>
<line x1="397.00" y1="436.60" x2="401.00" y2="436.60" stroke="#222" stroke-width="1.1"/>
<text x="394.30" y="440.70" font-size="11.5" fill="#1a1a1a" color="#1a1a1a" text-anchor="end">0</text>
<line x1="397.00" y1="402.92" x2="401.00" y2="402.92" stroke="#222" stroke-width="1.1"/>
<text x="394.30" y="407.02" font-size="11.5" fill="#1a1a1a" color="#1a1a1a" text-anchor="end">100</text>
<line x1="397.00" y1="369.24" x2="401.00" y2="369.24" stroke="#222" stroke-width="1.1"/>
<text x="394.30" y="373.34" font-size="11.5" fill="#1a1a1a" color="#1a1a1a" text-anchor="end">200</text>
<line x1="397.00" y1="335.56" x2="401.00" y2="335.56" stroke="#222" stroke-width="1.1"/>
<text x="394.30" y="339.66" font-size="11.5" fill="#1a1a1a" color="#1a1a1a" text-anchor="end">300</text>
<line x1="397.00" y1="301.88" x2="401.00" y2="301.88" stroke="#222" stroke-width="1.1"/>
<text x="394.30" y="305.98" font-size="11.5" fill="#1a1a1a" color="#1a1a1a" text-anchor="end">400</text>
<line x1="401.00" y1="436.60" x2="401.00" y2="442.50" stroke="#222" stroke-width="1.1"/>
<text x="401.00" y="456.20" font-size="11.5" fill="#1a1a1a" color="#1a1a1a" text-anchor="middle">0</text>
<line x1="441.50" y1="436.60" x2="441.50" y2="442.50" stroke="#222" stroke-width="1.1"/>
<text x="441.50" y="456.20" font-size="11.5" fill="#1a1a1a" color="#1a1a1a" text-anchor="middle">10</text>
<line x1="482.00" y1="436.60" x2="482.00" y2="442.50" stroke="#222" stroke-width="1.1"/>
<text x="482.00" y="456.20" font-size="11.5" fill="#1a1a1a" color="#1a1a1a" text-anchor="middle">20</text>
<line x1="522.50" y1="436.60" x2="522.50" y2="442.50" stroke="#222" stroke-width="1.1"/>
<text x="522.50" y="456.20" font-size="11.5" fill="#1a1a1a" color="#1a1a1a" text-anchor="middle">30</text>
<text x="461.80" y="466.60" font-size="11.8" fill="#1a1a1a" color="#1a1a1a" text-anchor="middle">Days</text>
<text x="367.40" y="370.00" font-size="11.8" fill="#1a1a1a" color="#1a1a1a" text-anchor="middle" transform="rotate(-90 367.40 370.00)">Tumor size (mm<tspan font-size="8.8" dy="-4.8">2</tspan><tspan dy="4.8">)</tspan></text>
<polyline points="401.00,436.60 429.35,436.60 453.65,421.44 461.75,415.38 469.85,402.92 482.00,391.13 490.10,380.02 498.20,355.77 506.30,345.66" fill="none" stroke="#111" stroke-width="1.1"/>
<path d="M401.00,432.70 L404.70,439.50 L397.30,439.50 Z" fill="#111"/>
<path d="M429.35,432.70 L433.05,439.50 L425.65,439.50 Z" fill="#111"/>
<path d="M453.65,417.54 L457.35,424.34 L449.95,424.34 Z" fill="#111"/>
<path d="M461.75,411.48 L465.45,418.28 L458.05,418.28 Z" fill="#111"/>
<path d="M469.85,399.02 L473.55,405.82 L466.15,405.82 Z" fill="#111"/>
<path d="M482.00,387.23 L485.70,394.03 L478.30,394.03 Z" fill="#111"/>
<path d="M490.10,376.12 L493.80,382.92 L486.40,382.92 Z" fill="#111"/>
<path d="M498.20,351.87 L501.90,358.67 L494.50,358.67 Z" fill="#111"/>
<path d="M506.30,341.76 L510.00,348.56 L502.60,348.56 Z" fill="#111"/>
<polyline points="401.00,436.60 429.35,429.86 453.65,414.37 461.75,407.64 469.85,399.55 482.00,385.41 490.10,377.66 498.20,354.76 506.30,342.63" fill="none" stroke="#111" stroke-width="1.1"/>
<line x1="429.35" y1="428.52" x2="429.35" y2="431.21" stroke="#111" stroke-width="1.0"/>
<line x1="426.75" y1="428.52" x2="431.95" y2="428.52" stroke="#111" stroke-width="1.0"/>
<line x1="426.75" y1="431.21" x2="431.95" y2="431.21" stroke="#111" stroke-width="1.0"/>
<line x1="453.65" y1="411.68" x2="453.65" y2="417.07" stroke="#111" stroke-width="1.0"/>
<line x1="451.05" y1="411.68" x2="456.25" y2="411.68" stroke="#111" stroke-width="1.0"/>
<line x1="451.05" y1="417.07" x2="456.25" y2="417.07" stroke="#111" stroke-width="1.0"/>
<line x1="461.75" y1="404.27" x2="461.75" y2="411.00" stroke="#111" stroke-width="1.0"/>
<line x1="459.15" y1="404.27" x2="464.35" y2="404.27" stroke="#111" stroke-width="1.0"/>
<line x1="459.15" y1="411.00" x2="464.35" y2="411.00" stroke="#111" stroke-width="1.0"/>
<line x1="469.85" y1="395.51" x2="469.85" y2="403.59" stroke="#111" stroke-width="1.0"/>
<line x1="467.25" y1="395.51" x2="472.45" y2="395.51" stroke="#111" stroke-width="1.0"/>
<line x1="467.25" y1="403.59" x2="472.45" y2="403.59" stroke="#111" stroke-width="1.0"/>
<line x1="482.00" y1="380.69" x2="482.00" y2="390.12" stroke="#111" stroke-width="1.0"/>
<line x1="479.40" y1="380.69" x2="484.60" y2="380.69" stroke="#111" stroke-width="1.0"/>
<line x1="479.40" y1="390.12" x2="484.60" y2="390.12" stroke="#111" stroke-width="1.0"/>
<line x1="490.10" y1="372.94" x2="490.10" y2="382.38" stroke="#111" stroke-width="1.0"/>
<line x1="487.50" y1="372.94" x2="492.70" y2="372.94" stroke="#111" stroke-width="1.0"/>
<line x1="487.50" y1="382.38" x2="492.70" y2="382.38" stroke="#111" stroke-width="1.0"/>
<line x1="498.20" y1="348.02" x2="498.20" y2="361.49" stroke="#111" stroke-width="1.0"/>
<line x1="495.60" y1="348.02" x2="500.80" y2="348.02" stroke="#111" stroke-width="1.0"/>
<line x1="495.60" y1="361.49" x2="500.80" y2="361.49" stroke="#111" stroke-width="1.0"/>
<line x1="506.30" y1="336.57" x2="506.30" y2="348.70" stroke="#111" stroke-width="1.0"/>
<line x1="503.70" y1="336.57" x2="508.90" y2="336.57" stroke="#111" stroke-width="1.0"/>
<line x1="503.70" y1="348.70" x2="508.90" y2="348.70" stroke="#111" stroke-width="1.0"/>
<rect x="397.70" y="433.30" width="6.60" height="6.60" fill="#111" stroke="#111" stroke-width="None"/>
<rect x="426.05" y="426.56" width="6.60" height="6.60" fill="#111" stroke="#111" stroke-width="None"/>
<rect x="450.35" y="411.07" width="6.60" height="6.60" fill="#111" stroke="#111" stroke-width="None"/>
<rect x="458.45" y="404.34" width="6.60" height="6.60" fill="#111" stroke="#111" stroke-width="None"/>
<rect x="466.55" y="396.25" width="6.60" height="6.60" fill="#111" stroke="#111" stroke-width="None"/>
<rect x="478.70" y="382.11" width="6.60" height="6.60" fill="#111" stroke="#111" stroke-width="None"/>
<rect x="486.80" y="374.36" width="6.60" height="6.60" fill="#111" stroke="#111" stroke-width="None"/>
<rect x="494.90" y="351.46" width="6.60" height="6.60" fill="#111" stroke="#111" stroke-width="None"/>
<rect x="503.00" y="339.33" width="6.60" height="6.60" fill="#111" stroke="#111" stroke-width="None"/>
<polyline points="401.00,436.60 429.35,432.22 453.65,418.08 461.75,412.35 469.85,404.94 482.00,389.45 490.10,382.71 498.20,373.96 506.30,356.44" fill="none" stroke="#111" stroke-width="1.1"/>
<line x1="429.35" y1="430.87" x2="429.35" y2="433.57" stroke="#111" stroke-width="1.0"/>
<line x1="426.75" y1="430.87" x2="431.95" y2="430.87" stroke="#111" stroke-width="1.0"/>
<line x1="426.75" y1="433.57" x2="431.95" y2="433.57" stroke="#111" stroke-width="1.0"/>
<line x1="453.65" y1="415.38" x2="453.65" y2="420.77" stroke="#111" stroke-width="1.0"/>
<line x1="451.05" y1="415.38" x2="456.25" y2="415.38" stroke="#111" stroke-width="1.0"/>
<line x1="451.05" y1="420.77" x2="456.25" y2="420.77" stroke="#111" stroke-width="1.0"/>
<line x1="461.75" y1="408.98" x2="461.75" y2="415.72" stroke="#111" stroke-width="1.0"/>
<line x1="459.15" y1="408.98" x2="464.35" y2="408.98" stroke="#111" stroke-width="1.0"/>
<line x1="459.15" y1="415.72" x2="464.35" y2="415.72" stroke="#111" stroke-width="1.0"/>
<line x1="469.85" y1="401.57" x2="469.85" y2="408.31" stroke="#111" stroke-width="1.0"/>
<line x1="467.25" y1="401.57" x2="472.45" y2="401.57" stroke="#111" stroke-width="1.0"/>
<line x1="467.25" y1="408.31" x2="472.45" y2="408.31" stroke="#111" stroke-width="1.0"/>
<line x1="482.00" y1="385.41" x2="482.00" y2="393.49" stroke="#111" stroke-width="1.0"/>
<line x1="479.40" y1="385.41" x2="484.60" y2="385.41" stroke="#111" stroke-width="1.0"/>
<line x1="479.40" y1="393.49" x2="484.60" y2="393.49" stroke="#111" stroke-width="1.0"/>
<line x1="490.10" y1="378.00" x2="490.10" y2="387.43" stroke="#111" stroke-width="1.0"/>
<line x1="487.50" y1="378.00" x2="492.70" y2="378.00" stroke="#111" stroke-width="1.0"/>
<line x1="487.50" y1="387.43" x2="492.70" y2="387.43" stroke="#111" stroke-width="1.0"/>
<line x1="498.20" y1="367.89" x2="498.20" y2="380.02" stroke="#111" stroke-width="1.0"/>
<line x1="495.60" y1="367.89" x2="500.80" y2="367.89" stroke="#111" stroke-width="1.0"/>
<line x1="495.60" y1="380.02" x2="500.80" y2="380.02" stroke="#111" stroke-width="1.0"/>
<line x1="506.30" y1="349.03" x2="506.30" y2="363.85" stroke="#111" stroke-width="1.0"/>
<line x1="503.70" y1="349.03" x2="508.90" y2="349.03" stroke="#111" stroke-width="1.0"/>
<line x1="503.70" y1="363.85" x2="508.90" y2="363.85" stroke="#111" stroke-width="1.0"/>
<circle cx="401.00" cy="436.60" r="3.2" fill="#111"/>
<circle cx="429.35" cy="432.22" r="3.2" fill="#111"/>
<circle cx="453.65" cy="418.08" r="3.2" fill="#111"/>
<circle cx="461.75" cy="412.35" r="3.2" fill="#111"/>
<circle cx="469.85" cy="404.94" r="3.2" fill="#111"/>
<circle cx="482.00" cy="389.45" r="3.2" fill="#111"/>
<circle cx="490.10" cy="382.71" r="3.2" fill="#111"/>
<circle cx="498.20" cy="373.96" r="3.2" fill="#111"/>
<circle cx="506.30" cy="356.44" r="3.2" fill="#111"/>
<polyline points="401.00,436.60 429.35,431.88 453.65,421.78 461.75,420.43 469.85,420.77 482.00,420.43 490.10,420.43 498.20,420.10 506.30,417.74" fill="none" stroke="#1e9bb3" stroke-width="1.1"/>
<line x1="429.35" y1="430.87" x2="429.35" y2="432.90" stroke="#1e9bb3" stroke-width="1.0"/>
<line x1="426.75" y1="430.87" x2="431.95" y2="430.87" stroke="#1e9bb3" stroke-width="1.0"/>
<line x1="426.75" y1="432.90" x2="431.95" y2="432.90" stroke="#1e9bb3" stroke-width="1.0"/>
<line x1="453.65" y1="420.43" x2="453.65" y2="423.13" stroke="#1e9bb3" stroke-width="1.0"/>
<line x1="451.05" y1="420.43" x2="456.25" y2="420.43" stroke="#1e9bb3" stroke-width="1.0"/>
<line x1="451.05" y1="423.13" x2="456.25" y2="423.13" stroke="#1e9bb3" stroke-width="1.0"/>
<line x1="461.75" y1="419.09" x2="461.75" y2="421.78" stroke="#1e9bb3" stroke-width="1.0"/>
<line x1="459.15" y1="419.09" x2="464.35" y2="419.09" stroke="#1e9bb3" stroke-width="1.0"/>
<line x1="459.15" y1="421.78" x2="464.35" y2="421.78" stroke="#1e9bb3" stroke-width="1.0"/>
<line x1="469.85" y1="419.42" x2="469.85" y2="422.12" stroke="#1e9bb3" stroke-width="1.0"/>
<line x1="467.25" y1="419.42" x2="472.45" y2="419.42" stroke="#1e9bb3" stroke-width="1.0"/>
<line x1="467.25" y1="422.12" x2="472.45" y2="422.12" stroke="#1e9bb3" stroke-width="1.0"/>
<line x1="482.00" y1="419.09" x2="482.00" y2="421.78" stroke="#1e9bb3" stroke-width="1.0"/>
<line x1="479.40" y1="419.09" x2="484.60" y2="419.09" stroke="#1e9bb3" stroke-width="1.0"/>
<line x1="479.40" y1="421.78" x2="484.60" y2="421.78" stroke="#1e9bb3" stroke-width="1.0"/>
<line x1="490.10" y1="417.74" x2="490.10" y2="423.13" stroke="#1e9bb3" stroke-width="1.0"/>
<line x1="487.50" y1="417.74" x2="492.70" y2="417.74" stroke="#1e9bb3" stroke-width="1.0"/>
<line x1="487.50" y1="423.13" x2="492.70" y2="423.13" stroke="#1e9bb3" stroke-width="1.0"/>
<line x1="498.20" y1="416.06" x2="498.20" y2="424.14" stroke="#1e9bb3" stroke-width="1.0"/>
<line x1="495.60" y1="416.06" x2="500.80" y2="416.06" stroke="#1e9bb3" stroke-width="1.0"/>
<line x1="495.60" y1="424.14" x2="500.80" y2="424.14" stroke="#1e9bb3" stroke-width="1.0"/>
<line x1="506.30" y1="409.32" x2="506.30" y2="426.16" stroke="#1e9bb3" stroke-width="1.0"/>
<line x1="503.70" y1="409.32" x2="508.90" y2="409.32" stroke="#1e9bb3" stroke-width="1.0"/>
<line x1="503.70" y1="426.16" x2="508.90" y2="426.16" stroke="#1e9bb3" stroke-width="1.0"/>
<circle cx="401.00" cy="436.60" r="3.3" fill="#1e9bb3"/>
<circle cx="429.35" cy="431.88" r="3.3" fill="#1e9bb3"/>
<circle cx="453.65" cy="421.78" r="3.3" fill="#1e9bb3"/>
<circle cx="461.75" cy="420.43" r="3.3" fill="#1e9bb3"/>
<circle cx="469.85" cy="420.77" r="3.3" fill="#1e9bb3"/>
<circle cx="482.00" cy="420.43" r="3.3" fill="#1e9bb3"/>
<circle cx="490.10" cy="420.43" r="3.3" fill="#1e9bb3"/>
<circle cx="498.20" cy="420.10" r="3.3" fill="#1e9bb3"/>
<circle cx="506.30" cy="417.74" r="3.3" fill="#1e9bb3"/>
<line x1="515.00" y1="340.50" x2="515.00" y2="357.00" stroke="#222" stroke-width="1"/>
<line x1="515.00" y1="348.50" x2="522.20" y2="348.50" stroke="#222" stroke-width="1"/>
<line x1="522.20" y1="348.50" x2="522.20" y2="419.60" stroke="#222" stroke-width="1"/>
<text x="525.20" y="367.00" font-size="7.9" fill="#222" color="#222" style="stroke-width:0.12px" transform="rotate(90 525.20 367.00)">p&lt;0.0001</text>
<line x1="539.80" y1="339.90" x2="557.70" y2="339.90" stroke="#111" stroke-width="1.1"/>
<rect x="545.60" y="336.60" width="6.60" height="6.60" fill="#111"/>
<line x1="539.80" y1="365.50" x2="557.70" y2="365.50" stroke="#1e9bb3" stroke-width="1.1"/>
<circle cx="548.90" cy="365.50" r="3.2" fill="#1e9bb3"/>
<line x1="539.80" y1="397.40" x2="557.70" y2="397.40" stroke="#111" stroke-width="1.1"/>
<circle cx="548.90" cy="397.40" r="3.2" fill="#111"/>
<line x1="539.80" y1="429.60" x2="557.70" y2="429.60" stroke="#111" stroke-width="1.1"/>
<path d="M548.90,425.70 L552.60,432.50 L545.20,432.50 Z" fill="#111"/>
<text x="569.70" y="343.80" font-size="11.8" fill="#1a1a1a" color="#1a1a1a">-</text>
<text x="568.30" y="362.80" font-size="11.8" fill="#1a1a1a" color="#1a1a1a">CDDP/Pem+ αPD-1</text>
<text x="568.30" y="377.50" font-size="11.8" fill="#1a1a1a" color="#1a1a1a">+ rIL1β + Ig</text>
<text x="568.30" y="395.20" font-size="11.8" fill="#1a1a1a" color="#1a1a1a">CDDP/Pem + αPD-1</text>
<text x="568.30" y="408.80" font-size="11.8" fill="#1a1a1a" color="#1a1a1a">+ rIL-1β + αCXCR3</text>
<text x="568.30" y="427.30" font-size="11.8" fill="#1a1a1a" color="#1a1a1a">CDDP/Pem+ αPD-1</text>
<text x="568.30" y="441.00" font-size="11.8" fill="#1a1a1a" color="#1a1a1a">+ rIL1β + αCD8</text>
<text x="37.40" y="525.30" font-size="9.4" fill="#1a1a1a" color="#1a1a1a" text-anchor="middle" style="stroke-width:0.12px">LLC1-Co</text>
<text x="72.90" y="525.30" font-size="9.4" fill="#1a1a1a" color="#1a1a1a" style="stroke-width:0.12px">LLC1-<tspan font-style="italic">Il1r1</tspan><tspan font-size="6.5" dy="-3.5">KD</tspan></text>
<polygon points="27.90,593.00 29.50,575.00 30.80,555.00 31.50,546.10 32.30,553.00 33.30,570.00 35.10,593.00" fill="#dadada" stroke="#c4c4c4" stroke-width="0.6" fill-opacity="1" stroke-linejoin="round"/>
<polygon points="34.20,593.00 35.80,575.00 37.30,555.00 38.40,543.00 39.00,539.60 39.80,542.00 41.00,552.00 42.50,565.00 44.50,580.00 46.50,589.00 47.80,593.00" fill="#82bbbb" stroke="#2f8585" stroke-width="0.7" fill-opacity="1" stroke-linejoin="round"/>
<polygon points="88.10,593.00 89.50,575.00 90.80,545.00 91.60,532.10 92.40,545.00 93.50,575.00 95.10,593.00" fill="#dadada" stroke="#c4c4c4" stroke-width="0.6" fill-opacity="1" stroke-linejoin="round"/>
<polygon points="86.20,593.00 88.00,585.00 89.50,568.00 91.00,553.00 92.50,547.00 93.80,552.00 95.00,565.00 96.50,578.00 98.00,587.00 100.00,591.00 104.00,592.20 108.00,592.60 111.00,592.00 114.70,593.00" fill="#6f9d9d" stroke="#2f8585" stroke-width="0.7" fill-opacity="0.75" stroke-linejoin="round"/>
<rect x="8.80" y="528.80" width="122.60" height="64.60" fill="none" stroke="#111" stroke-width="1.5"/>
<line x1="8.80" y1="528.00" x2="8.80" y2="594.00" stroke="#555" stroke-width="1.0"/>
<line x1="69.40" y1="528.60" x2="69.40" y2="593.60" stroke="#111" stroke-width="1.3"/>
<rect x="95.40" y="532.30" width="5.50" height="5.50" fill="#dadada" stroke="#aaa" stroke-width="0.7"/>
<text x="103.00" y="537.90" font-size="9.2" fill="#1a1a1a" color="#1a1a1a" style="stroke-width:0.2px">Ig</text>
<rect x="95.40" y="543.00" width="5.50" height="5.50" fill="#82bbbb" stroke="#2f8585" stroke-width="0.9"/>
<text x="103.00" y="548.80" font-size="9.2" fill="#1a1a1a" color="#1a1a1a" style="stroke-width:0.2px" textLength="23.4" lengthAdjust="spacingAndGlyphs">IL1-R1</text>
<text x="5.50" y="539.50" font-size="3.6" fill="#444" color="#444" text-anchor="end" style="stroke-width:0">60</text>
<text x="5.50" y="557.60" font-size="3.6" fill="#444" color="#444" text-anchor="end" style="stroke-width:0">40</text>
<text x="5.50" y="576.30" font-size="3.6" fill="#444" color="#444" text-anchor="end" style="stroke-width:0">20</text>
<text x="5.50" y="594.60" font-size="3.6" fill="#444" color="#444" text-anchor="end" style="stroke-width:0">0</text>
<text x="13.72" y="600.50" font-size="3.6" fill="#444" color="#444" text-anchor="middle" style="stroke-width:0">10</text>
<text x="74.57" y="600.50" font-size="3.6" fill="#444" color="#444" text-anchor="middle" style="stroke-width:0">10</text>
<line x1="13.60" y1="593.60" x2="13.60" y2="595.20" stroke="#444" stroke-width="0.5"/>
<line x1="74.40" y1="593.60" x2="74.40" y2="595.20" stroke="#444" stroke-width="0.5"/>
<text x="23.95" y="600.50" font-size="3.6" fill="#444" color="#444" text-anchor="middle" style="stroke-width:0">10</text>
<text x="84.90" y="600.50" font-size="3.6" fill="#444" color="#444" text-anchor="middle" style="stroke-width:0">10</text>
<line x1="23.83" y1="593.60" x2="23.83" y2="595.20" stroke="#444" stroke-width="0.5"/>
<line x1="84.73" y1="593.60" x2="84.73" y2="595.20" stroke="#444" stroke-width="0.5"/>
<text x="34.18" y="600.50" font-size="3.6" fill="#444" color="#444" text-anchor="middle" style="stroke-width:0">10</text>
<text x="95.23" y="600.50" font-size="3.6" fill="#444" color="#444" text-anchor="middle" style="stroke-width:0">10</text>
<line x1="34.07" y1="593.60" x2="34.07" y2="595.20" stroke="#444" stroke-width="0.5"/>
<line x1="95.07" y1="593.60" x2="95.07" y2="595.20" stroke="#444" stroke-width="0.5"/>
<text x="44.42" y="600.50" font-size="3.6" fill="#444" color="#444" text-anchor="middle" style="stroke-width:0">10</text>
<text x="105.57" y="600.50" font-size="3.6" fill="#444" color="#444" text-anchor="middle" style="stroke-width:0">10</text>
<line x1="44.30" y1="593.60" x2="44.30" y2="595.20" stroke="#444" stroke-width="0.5"/>
<line x1="105.40" y1="593.60" x2="105.40" y2="595.20" stroke="#444" stroke-width="0.5"/>
<text x="54.65" y="600.50" font-size="3.6" fill="#444" color="#444" text-anchor="middle" style="stroke-width:0">10</text>
<text x="115.90" y="600.50" font-size="3.6" fill="#444" color="#444" text-anchor="middle" style="stroke-width:0">10</text>
<line x1="54.53" y1="593.60" x2="54.53" y2="595.20" stroke="#444" stroke-width="0.5"/>
<line x1="115.73" y1="593.60" x2="115.73" y2="595.20" stroke="#444" stroke-width="0.5"/>
<text x="64.88" y="600.50" font-size="3.6" fill="#444" color="#444" text-anchor="middle" style="stroke-width:0">10</text>
<text x="126.23" y="600.50" font-size="3.6" fill="#444" color="#444" text-anchor="middle" style="stroke-width:0">10</text>
<line x1="64.77" y1="593.60" x2="64.77" y2="595.20" stroke="#444" stroke-width="0.5"/>
<line x1="126.07" y1="593.60" x2="126.07" y2="595.20" stroke="#444" stroke-width="0.5"/>
<line x1="59.30" y1="612.50" x2="59.30" y2="695.70" stroke="#222" stroke-width="1.1"/>
<line x1="59.30" y1="695.70" x2="105.30" y2="695.70" stroke="#222" stroke-width="1.1"/>
<line x1="82.20" y1="695.70" x2="82.20" y2="700.00" stroke="#222" stroke-width="1"/>
<line x1="55.00" y1="695.70" x2="59.30" y2="695.70" stroke="#222" stroke-width="1.1"/>
<text x="53.30" y="699.00" font-size="9.0" fill="#1a1a1a" color="#1a1a1a" text-anchor="end" style="stroke-width:0.2px">0.0</text>
<line x1="55.00" y1="667.97" x2="59.30" y2="667.97" stroke="#222" stroke-width="1.1"/>
<text x="53.30" y="671.26" font-size="9.0" fill="#1a1a1a" color="#1a1a1a" text-anchor="end" style="stroke-width:0.2px">0.5</text>
<line x1="55.00" y1="640.23" x2="59.30" y2="640.23" stroke="#222" stroke-width="1.1"/>
<text x="53.30" y="643.53" font-size="9.0" fill="#1a1a1a" color="#1a1a1a" text-anchor="end" style="stroke-width:0.2px">1.0</text>
<line x1="55.00" y1="612.50" x2="59.30" y2="612.50" stroke="#222" stroke-width="1.1"/>
<text x="53.30" y="615.79" font-size="9.0" fill="#1a1a1a" color="#1a1a1a" text-anchor="end" style="stroke-width:0.2px">1.5</text>
<text x="32.40" y="655.90" font-size="9.2" fill="#1a1a1a" color="#1a1a1a" text-anchor="middle" style="stroke-width:0.2px" transform="rotate(-90 32.40 655.90)"><tspan font-style="italic">Cxcl10/Actb</tspan> mRNA</text>
<rect x="67.40" y="640.23" width="14.30" height="55.47" fill="#000"/>
<rect x="83.40" y="684.61" width="14.30" height="11.09" fill="#a0a0a0"/>
<line x1="90.50" y1="684.61" x2="90.50" y2="673.51" stroke="#999" stroke-width="1.1"/>
<line x1="87.50" y1="673.51" x2="93.50" y2="673.51" stroke="#999" stroke-width="1.1"/>
<circle cx="70.50" cy="640.23" r="1.9" fill="#777"/>
<circle cx="74.50" cy="634.68" r="1.9" fill="#777"/>
<circle cx="78.50" cy="639.12" r="1.9" fill="#777"/>
<circle cx="70.50" cy="641.34" r="1.9" fill="#777"/>
<circle cx="74.50" cy="644.11" r="1.9" fill="#777"/>
<circle cx="78.50" cy="641.34" r="1.9" fill="#777"/>
<circle cx="72.50" cy="634.68" r="1.9" fill="#777"/>
<circle cx="76.50" cy="635.79" r="1.9" fill="#777"/>
<circle cx="90.50" cy="667.97" r="1.9" fill="#8a8a8a"/>
<circle cx="87.50" cy="679.06" r="1.9" fill="#8a8a8a"/>
<circle cx="93.50" cy="679.06" r="1.9" fill="#8a8a8a"/>
<circle cx="90.50" cy="689.04" r="1.9" fill="#8a8a8a"/>
<circle cx="87.50" cy="695.70" r="1.9" fill="#8a8a8a"/>
<circle cx="93.50" cy="695.70" r="1.9" fill="#8a8a8a"/>
<text x="83.40" y="665.60" font-size="8.3" fill="#222" color="#222" style="stroke-width:0.12px">p=0.002</text>
<rect x="64.00" y="607.90" width="9.00" height="8.50" fill="#000"/>
<text x="79.40" y="615.50" font-size="9.1" fill="#1a1a1a" color="#1a1a1a" style="stroke-width:0.2px">Control</text>
<rect x="64.00" y="620.10" width="9.00" height="8.50" fill="#a0a0a0"/>
<text x="79.40" y="627.50" font-size="9.1" fill="#1a1a1a" color="#1a1a1a" style="stroke-width:0.2px"><tspan font-style="italic">Cxcl10</tspan><tspan font-size="6.4" dy="-3.6">KD</tspan></text>
<use href="#mouse" transform="translate(192.50,493.20) scale(1.035)"/>
<line x1="235.80" y1="515.50" x2="374.20" y2="515.50" stroke="#555" stroke-width="1.2"/>
<line x1="238.30" y1="515.50" x2="238.30" y2="518.50" stroke="#555" stroke-width="1.1"/>
<text x="238.30" y="532.40" font-size="11.5" fill="#1a1a1a" color="#1a1a1a" text-anchor="middle">d0</text>
<line x1="268.40" y1="515.50" x2="268.40" y2="518.50" stroke="#555" stroke-width="1.1"/>
<text x="268.40" y="532.40" font-size="11.5" fill="#1a1a1a" color="#1a1a1a" text-anchor="middle">d9</text>
<line x1="298.90" y1="515.50" x2="298.90" y2="518.50" stroke="#555" stroke-width="1.1"/>
<text x="298.90" y="532.40" font-size="11.5" fill="#1a1a1a" color="#1a1a1a" text-anchor="middle">d16</text>
<line x1="328.70" y1="515.50" x2="328.70" y2="518.50" stroke="#555" stroke-width="1.1"/>
<text x="328.70" y="532.40" font-size="11.5" fill="#1a1a1a" color="#1a1a1a" text-anchor="middle">d23</text>
<line x1="358.50" y1="515.50" x2="358.50" y2="518.50" stroke="#555" stroke-width="1.1"/>
<text x="358.50" y="532.40" font-size="11.5" fill="#1a1a1a" color="#1a1a1a" text-anchor="middle">d30</text>
<circle cx="238.30" cy="511.00" r="2.8" fill="#d2a00c"/>
<circle cx="258.60" cy="511.00" r="2.8" fill="#08a2a2"/>
<circle cx="263.08" cy="511.00" r="2.8" fill="#08a2a2"/>
<circle cx="267.55" cy="511.00" r="2.8" fill="#08a2a2"/>
<circle cx="272.02" cy="511.00" r="2.8" fill="#08a2a2"/>
<circle cx="276.50" cy="511.00" r="2.8" fill="#08a2a2"/>
<circle cx="280.98" cy="511.00" r="2.8" fill="#08a2a2"/>
<circle cx="285.45" cy="511.00" r="2.8" fill="#08a2a2"/>
<circle cx="289.92" cy="511.00" r="2.8" fill="#08a2a2"/>
<circle cx="294.40" cy="511.00" r="2.8" fill="#08a2a2"/>
<circle cx="268.40" cy="505.00" r="2.8" fill="#0a66a2"/>
<circle cx="276.80" cy="505.00" r="2.8" fill="#0a66a2"/>
<circle cx="285.20" cy="505.00" r="2.8" fill="#0a66a2"/>
<circle cx="298.60" cy="505.00" r="2.8" fill="#0a66a2"/>
<circle cx="306.60" cy="505.00" r="2.8" fill="#0a66a2"/>
<circle cx="314.70" cy="505.00" r="2.8" fill="#0a66a2"/>
<circle cx="328.70" cy="505.00" r="2.8" fill="#0a66a2"/>
<circle cx="336.80" cy="505.00" r="2.8" fill="#0a66a2"/>
<circle cx="345.20" cy="505.00" r="2.8" fill="#0a66a2"/>
<circle cx="268.40" cy="498.00" r="2.8" fill="#c80808"/>
<text x="386.60" y="493.00" font-size="11.8" fill="#c9a12c" color="#c9a12c">LLC1 Co or <tspan font-style="italic">Cxcl10</tspan><tspan font-size="7.8" dy="-4.5">KD</tspan></text>
<text x="386.60" y="505.00" font-size="11.8" fill="#c9a12c" color="#c9a12c">or <tspan font-style="italic">Il1r1</tspan><tspan font-size="7.8" dy="-4.5">KD</tspan><tspan dy="4.5"> (s.c.)</tspan></text>
<text x="386.60" y="516.80" font-size="11.6" fill="#333" color="#333"><tspan fill="#cc1f2e" color="#cc1f2e">CDDP/Pem</tspan> / <tspan fill="#1f74b0" color="#1f74b0">αPD-1</tspan></text>
<text x="386.60" y="528.60" font-size="11.6" fill="#1fa8ad" color="#1fa8ad">recIL-1β</text>
<line x1="521.50" y1="499.90" x2="540.10" y2="499.90" stroke="#222" stroke-width="1"/>
<rect x="528.20" y="497.10" width="5.60" height="5.60" fill="#fff" stroke="#222" stroke-width="1"/>
<line x1="521.50" y1="520.40" x2="540.10" y2="520.40" stroke="#222" stroke-width="1"/>
<circle cx="531.00" cy="520.40" r="2.9" fill="#fff" stroke="#222" stroke-width="1"/>
<text x="550.90" y="504.80" font-size="11.8" fill="#1a1a1a" color="#1a1a1a">-</text>
<text x="550.90" y="518.60" font-size="11.8" fill="#1a1a1a" color="#1a1a1a">CDDP/Pem + αPD-1</text>
<text x="550.90" y="532.20" font-size="11.8" fill="#1a1a1a" color="#1a1a1a">+ rIL-1β</text>
<line x1="197.60" y1="540.60" x2="197.60" y2="682.00" stroke="#222" stroke-width="1.1"/>
<line x1="197.60" y1="676.00" x2="319.40" y2="676.00" stroke="#222" stroke-width="1.1"/>
<line x1="193.60" y1="676.00" x2="197.60" y2="676.00" stroke="#222" stroke-width="1.1"/>
<text x="190.00" y="680.10" font-size="11.5" fill="#1a1a1a" color="#1a1a1a" text-anchor="end">0</text>
<line x1="193.60" y1="637.47" x2="197.60" y2="637.47" stroke="#222" stroke-width="1.1"/>
<text x="190.00" y="641.57" font-size="11.5" fill="#1a1a1a" color="#1a1a1a" text-anchor="end">100</text>
<line x1="193.60" y1="598.94" x2="197.60" y2="598.94" stroke="#222" stroke-width="1.1"/>
<text x="190.00" y="603.04" font-size="11.5" fill="#1a1a1a" color="#1a1a1a" text-anchor="end">200</text>
<line x1="193.60" y1="560.41" x2="197.60" y2="560.41" stroke="#222" stroke-width="1.1"/>
<text x="190.00" y="564.51" font-size="11.5" fill="#1a1a1a" color="#1a1a1a" text-anchor="end">300</text>
<line x1="197.60" y1="676.00" x2="197.60" y2="681.50" stroke="#222" stroke-width="1.1"/>
<text x="197.60" y="695.80" font-size="11.5" fill="#1a1a1a" color="#1a1a1a" text-anchor="middle">0</text>
<line x1="238.20" y1="676.00" x2="238.20" y2="681.50" stroke="#222" stroke-width="1.1"/>
<text x="238.20" y="695.80" font-size="11.5" fill="#1a1a1a" color="#1a1a1a" text-anchor="middle">10</text>
<line x1="278.80" y1="676.00" x2="278.80" y2="681.50" stroke="#222" stroke-width="1.1"/>
<text x="278.80" y="695.80" font-size="11.5" fill="#1a1a1a" color="#1a1a1a" text-anchor="middle">20</text>
<line x1="319.40" y1="676.00" x2="319.40" y2="681.50" stroke="#222" stroke-width="1.1"/>
<text x="319.40" y="695.80" font-size="11.5" fill="#1a1a1a" color="#1a1a1a" text-anchor="middle">30</text>
<text x="262.40" y="560.20" font-size="11.8" fill="#111" color="#111" text-anchor="middle">LLC1 Control</text>
<polyline points="197.60,676.00 226.02,669.84 238.20,662.13 250.38,658.28 262.56,655.58 270.68,654.42 282.86,652.88 290.98,651.34 299.10,652.88 311.28,651.73" fill="none" stroke="#1e9bb3" stroke-width="1.1"/>
<line x1="226.02" y1="669.06" x2="226.02" y2="670.61" stroke="#1e9bb3" stroke-width="1.0"/>
<line x1="223.42" y1="669.06" x2="228.62" y2="669.06" stroke="#1e9bb3" stroke-width="1.0"/>
<line x1="223.42" y1="670.61" x2="228.62" y2="670.61" stroke="#1e9bb3" stroke-width="1.0"/>
<line x1="238.20" y1="660.97" x2="238.20" y2="663.29" stroke="#1e9bb3" stroke-width="1.0"/>
<line x1="235.60" y1="660.97" x2="240.80" y2="660.97" stroke="#1e9bb3" stroke-width="1.0"/>
<line x1="235.60" y1="663.29" x2="240.80" y2="663.29" stroke="#1e9bb3" stroke-width="1.0"/>
<line x1="250.38" y1="657.12" x2="250.38" y2="659.43" stroke="#1e9bb3" stroke-width="1.0"/>
<line x1="247.78" y1="657.12" x2="252.98" y2="657.12" stroke="#1e9bb3" stroke-width="1.0"/>
<line x1="247.78" y1="659.43" x2="252.98" y2="659.43" stroke="#1e9bb3" stroke-width="1.0"/>
<line x1="262.56" y1="654.04" x2="262.56" y2="657.12" stroke="#1e9bb3" stroke-width="1.0"/>
<line x1="259.96" y1="654.04" x2="265.16" y2="654.04" stroke="#1e9bb3" stroke-width="1.0"/>
<line x1="259.96" y1="657.12" x2="265.16" y2="657.12" stroke="#1e9bb3" stroke-width="1.0"/>
<line x1="270.68" y1="652.50" x2="270.68" y2="656.35" stroke="#1e9bb3" stroke-width="1.0"/>
<line x1="268.08" y1="652.50" x2="273.28" y2="652.50" stroke="#1e9bb3" stroke-width="1.0"/>
<line x1="268.08" y1="656.35" x2="273.28" y2="656.35" stroke="#1e9bb3" stroke-width="1.0"/>
<line x1="282.86" y1="649.41" x2="282.86" y2="656.35" stroke="#1e9bb3" stroke-width="1.0"/>
<line x1="280.26" y1="649.41" x2="285.46" y2="649.41" stroke="#1e9bb3" stroke-width="1.0"/>
<line x1="280.26" y1="656.35" x2="285.46" y2="656.35" stroke="#1e9bb3" stroke-width="1.0"/>
<line x1="290.98" y1="646.33" x2="290.98" y2="656.35" stroke="#1e9bb3" stroke-width="1.0"/>
<line x1="288.38" y1="646.33" x2="293.58" y2="646.33" stroke="#1e9bb3" stroke-width="1.0"/>
<line x1="288.38" y1="656.35" x2="293.58" y2="656.35" stroke="#1e9bb3" stroke-width="1.0"/>
<line x1="299.10" y1="647.87" x2="299.10" y2="657.89" stroke="#1e9bb3" stroke-width="1.0"/>
<line x1="296.50" y1="647.87" x2="301.70" y2="647.87" stroke="#1e9bb3" stroke-width="1.0"/>
<line x1="296.50" y1="657.89" x2="301.70" y2="657.89" stroke="#1e9bb3" stroke-width="1.0"/>
<line x1="311.28" y1="642.09" x2="311.28" y2="661.36" stroke="#1e9bb3" stroke-width="1.0"/>
<line x1="308.68" y1="642.09" x2="313.88" y2="642.09" stroke="#1e9bb3" stroke-width="1.0"/>
<line x1="308.68" y1="661.36" x2="313.88" y2="661.36" stroke="#1e9bb3" stroke-width="1.0"/>
<circle cx="197.60" cy="676.00" r="3.4" fill="#1e9bb3"/>
<circle cx="226.02" cy="669.84" r="3.4" fill="#1e9bb3"/>
<circle cx="238.20" cy="662.13" r="3.4" fill="#1e9bb3"/>
<circle cx="250.38" cy="658.28" r="3.4" fill="#1e9bb3"/>
<circle cx="262.56" cy="655.58" r="3.4" fill="#1e9bb3"/>
<circle cx="270.68" cy="654.42" r="3.4" fill="#1e9bb3"/>
<circle cx="282.86" cy="652.88" r="3.4" fill="#1e9bb3"/>
<circle cx="290.98" cy="651.34" r="3.4" fill="#1e9bb3"/>
<circle cx="299.10" cy="652.88" r="3.4" fill="#1e9bb3"/>
<circle cx="311.28" cy="651.73" r="3.4" fill="#1e9bb3"/>
<polyline points="197.60,676.00 226.02,666.37 238.20,655.19 250.38,643.63 262.56,638.63 270.68,629.38 282.86,613.97 290.98,601.64 299.10,590.46 311.28,579.29" fill="none" stroke="#111" stroke-width="1.1"/>
<line x1="226.02" y1="665.21" x2="226.02" y2="667.52" stroke="#111" stroke-width="1.0"/>
<line x1="223.42" y1="665.21" x2="228.62" y2="665.21" stroke="#111" stroke-width="1.0"/>
<line x1="223.42" y1="667.52" x2="228.62" y2="667.52" stroke="#111" stroke-width="1.0"/>
<line x1="238.20" y1="653.27" x2="238.20" y2="657.12" stroke="#111" stroke-width="1.0"/>
<line x1="235.60" y1="653.27" x2="240.80" y2="653.27" stroke="#111" stroke-width="1.0"/>
<line x1="235.60" y1="657.12" x2="240.80" y2="657.12" stroke="#111" stroke-width="1.0"/>
<line x1="250.38" y1="641.71" x2="250.38" y2="645.56" stroke="#111" stroke-width="1.0"/>
<line x1="247.78" y1="641.71" x2="252.98" y2="641.71" stroke="#111" stroke-width="1.0"/>
<line x1="247.78" y1="645.56" x2="252.98" y2="645.56" stroke="#111" stroke-width="1.0"/>
<line x1="262.56" y1="636.31" x2="262.56" y2="640.94" stroke="#111" stroke-width="1.0"/>
<line x1="259.96" y1="636.31" x2="265.16" y2="636.31" stroke="#111" stroke-width="1.0"/>
<line x1="259.96" y1="640.94" x2="265.16" y2="640.94" stroke="#111" stroke-width="1.0"/>
<line x1="270.68" y1="626.30" x2="270.68" y2="632.46" stroke="#111" stroke-width="1.0"/>
<line x1="268.08" y1="626.30" x2="273.28" y2="626.30" stroke="#111" stroke-width="1.0"/>
<line x1="268.08" y1="632.46" x2="273.28" y2="632.46" stroke="#111" stroke-width="1.0"/>
<line x1="282.86" y1="610.11" x2="282.86" y2="617.82" stroke="#111" stroke-width="1.0"/>
<line x1="280.26" y1="610.11" x2="285.46" y2="610.11" stroke="#111" stroke-width="1.0"/>
<line x1="280.26" y1="617.82" x2="285.46" y2="617.82" stroke="#111" stroke-width="1.0"/>
<line x1="290.98" y1="597.01" x2="290.98" y2="606.26" stroke="#111" stroke-width="1.0"/>
<line x1="288.38" y1="597.01" x2="293.58" y2="597.01" stroke="#111" stroke-width="1.0"/>
<line x1="288.38" y1="606.26" x2="293.58" y2="606.26" stroke="#111" stroke-width="1.0"/>
<line x1="299.10" y1="585.07" x2="299.10" y2="595.86" stroke="#111" stroke-width="1.0"/>
<line x1="296.50" y1="585.07" x2="301.70" y2="585.07" stroke="#111" stroke-width="1.0"/>
<line x1="296.50" y1="595.86" x2="301.70" y2="595.86" stroke="#111" stroke-width="1.0"/>
<line x1="311.28" y1="572.74" x2="311.28" y2="585.84" stroke="#111" stroke-width="1.0"/>
<line x1="308.68" y1="572.74" x2="313.88" y2="572.74" stroke="#111" stroke-width="1.0"/>
<line x1="308.68" y1="585.84" x2="313.88" y2="585.84" stroke="#111" stroke-width="1.0"/>
<rect x="194.50" y="672.90" width="6.20" height="6.20" fill="#111" stroke="#111" stroke-width="None"/>
<rect x="222.92" y="663.27" width="6.20" height="6.20" fill="#111" stroke="#111" stroke-width="None"/>
<rect x="235.10" y="652.09" width="6.20" height="6.20" fill="#111" stroke="#111" stroke-width="None"/>
<rect x="247.28" y="640.53" width="6.20" height="6.20" fill="#111" stroke="#111" stroke-width="None"/>
<rect x="259.46" y="635.53" width="6.20" height="6.20" fill="#111" stroke="#111" stroke-width="None"/>
<rect x="267.58" y="626.28" width="6.20" height="6.20" fill="#111" stroke="#111" stroke-width="None"/>
<rect x="279.76" y="610.87" width="6.20" height="6.20" fill="#111" stroke="#111" stroke-width="None"/>
<rect x="287.88" y="598.54" width="6.20" height="6.20" fill="#111" stroke="#111" stroke-width="None"/>
<rect x="296.00" y="587.36" width="6.20" height="6.20" fill="#111" stroke="#111" stroke-width="None"/>
<rect x="308.18" y="576.19" width="6.20" height="6.20" fill="#111" stroke="#111" stroke-width="None"/>
<line x1="319.30" y1="581.70" x2="319.30" y2="651.20" stroke="#222" stroke-width="1"/>
<text x="322.50" y="600.70" font-size="7.9" fill="#222" color="#222" style="stroke-width:0.12px" transform="rotate(90 322.50 600.70)">p&lt;0.0001</text>
<text x="162.40" y="609.50" font-size="11.8" fill="#1a1a1a" color="#1a1a1a" text-anchor="middle" transform="rotate(-90 162.40 609.50)">Tumor size (mm<tspan font-size="8.8" dy="-4.8">2</tspan><tspan dy="4.8">)</tspan></text>
<line x1="364.40" y1="540.60" x2="364.40" y2="682.00" stroke="#222" stroke-width="1.1"/>
<line x1="364.40" y1="676.00" x2="486.20" y2="676.00" stroke="#222" stroke-width="1.1"/>
<line x1="360.40" y1="676.00" x2="364.40" y2="676.00" stroke="#222" stroke-width="1.1"/>
<text x="356.80" y="680.10" font-size="11.5" fill="#1a1a1a" color="#1a1a1a" text-anchor="end">0</text>
<line x1="360.40" y1="637.47" x2="364.40" y2="637.47" stroke="#222" stroke-width="1.1"/>
<text x="356.80" y="641.57" font-size="11.5" fill="#1a1a1a" color="#1a1a1a" text-anchor="end">100</text>
<line x1="360.40" y1="598.94" x2="364.40" y2="598.94" stroke="#222" stroke-width="1.1"/>
<text x="356.80" y="603.04" font-size="11.5" fill="#1a1a1a" color="#1a1a1a" text-anchor="end">200</text>
<line x1="360.40" y1="560.41" x2="364.40" y2="560.41" stroke="#222" stroke-width="1.1"/>
<text x="356.80" y="564.51" font-size="11.5" fill="#1a1a1a" color="#1a1a1a" text-anchor="end">300</text>
<line x1="364.40" y1="676.00" x2="364.40" y2="681.50" stroke="#222" stroke-width="1.1"/>
<text x="364.40" y="695.80" font-size="11.5" fill="#1a1a1a" color="#1a1a1a" text-anchor="middle">0</text>
<line x1="405.00" y1="676.00" x2="405.00" y2="681.50" stroke="#222" stroke-width="1.1"/>
<text x="405.00" y="695.80" font-size="11.5" fill="#1a1a1a" color="#1a1a1a" text-anchor="middle">10</text>
<line x1="445.60" y1="676.00" x2="445.60" y2="681.50" stroke="#222" stroke-width="1.1"/>
<text x="445.60" y="695.80" font-size="11.5" fill="#1a1a1a" color="#1a1a1a" text-anchor="middle">20</text>
<line x1="486.20" y1="676.00" x2="486.20" y2="681.50" stroke="#222" stroke-width="1.1"/>
<text x="486.20" y="695.80" font-size="11.5" fill="#1a1a1a" color="#1a1a1a" text-anchor="middle">30</text>
<text x="431.50" y="560.20" font-size="11.8" fill="#8c8c8c" color="#8c8c8c" text-anchor="middle">LLC1 <tspan font-style="italic">Il1r1</tspan><tspan font-size="8.6" dy="-4.8">KD</tspan></text>
<polyline points="364.40,676.00 405.00,657.12 417.18,648.26 429.36,638.24 437.48,635.93 449.66,627.84 457.78,623.60 465.90,613.97 478.08,609.34 486.20,598.17" fill="none" stroke="#1e9bb3" stroke-width="1.1"/>
<line x1="405.00" y1="655.96" x2="405.00" y2="658.28" stroke="#1e9bb3" stroke-width="1.0"/>
<line x1="402.40" y1="655.96" x2="407.60" y2="655.96" stroke="#1e9bb3" stroke-width="1.0"/>
<line x1="402.40" y1="658.28" x2="407.60" y2="658.28" stroke="#1e9bb3" stroke-width="1.0"/>
<line x1="417.18" y1="647.10" x2="417.18" y2="649.41" stroke="#1e9bb3" stroke-width="1.0"/>
<line x1="414.58" y1="647.10" x2="419.78" y2="647.10" stroke="#1e9bb3" stroke-width="1.0"/>
<line x1="414.58" y1="649.41" x2="419.78" y2="649.41" stroke="#1e9bb3" stroke-width="1.0"/>
<line x1="429.36" y1="636.31" x2="429.36" y2="640.17" stroke="#1e9bb3" stroke-width="1.0"/>
<line x1="426.76" y1="636.31" x2="431.96" y2="636.31" stroke="#1e9bb3" stroke-width="1.0"/>
<line x1="426.76" y1="640.17" x2="431.96" y2="640.17" stroke="#1e9bb3" stroke-width="1.0"/>
<line x1="437.48" y1="632.85" x2="437.48" y2="639.01" stroke="#1e9bb3" stroke-width="1.0"/>
<line x1="434.88" y1="632.85" x2="440.08" y2="632.85" stroke="#1e9bb3" stroke-width="1.0"/>
<line x1="434.88" y1="639.01" x2="440.08" y2="639.01" stroke="#1e9bb3" stroke-width="1.0"/>
<line x1="449.66" y1="623.21" x2="449.66" y2="632.46" stroke="#1e9bb3" stroke-width="1.0"/>
<line x1="447.06" y1="623.21" x2="452.26" y2="623.21" stroke="#1e9bb3" stroke-width="1.0"/>
<line x1="447.06" y1="632.46" x2="452.26" y2="632.46" stroke="#1e9bb3" stroke-width="1.0"/>
<line x1="457.78" y1="618.98" x2="457.78" y2="628.22" stroke="#1e9bb3" stroke-width="1.0"/>
<line x1="455.18" y1="618.98" x2="460.38" y2="618.98" stroke="#1e9bb3" stroke-width="1.0"/>
<line x1="455.18" y1="628.22" x2="460.38" y2="628.22" stroke="#1e9bb3" stroke-width="1.0"/>
<line x1="465.90" y1="606.26" x2="465.90" y2="621.67" stroke="#1e9bb3" stroke-width="1.0"/>
<line x1="463.30" y1="606.26" x2="468.50" y2="606.26" stroke="#1e9bb3" stroke-width="1.0"/>
<line x1="463.30" y1="621.67" x2="468.50" y2="621.67" stroke="#1e9bb3" stroke-width="1.0"/>
<line x1="478.08" y1="599.71" x2="478.08" y2="618.98" stroke="#1e9bb3" stroke-width="1.0"/>
<line x1="475.48" y1="599.71" x2="480.68" y2="599.71" stroke="#1e9bb3" stroke-width="1.0"/>
<line x1="475.48" y1="618.98" x2="480.68" y2="618.98" stroke="#1e9bb3" stroke-width="1.0"/>
<line x1="486.20" y1="586.61" x2="486.20" y2="609.73" stroke="#1e9bb3" stroke-width="1.0"/>
<line x1="483.60" y1="586.61" x2="488.80" y2="586.61" stroke="#1e9bb3" stroke-width="1.0"/>
<line x1="483.60" y1="609.73" x2="488.80" y2="609.73" stroke="#1e9bb3" stroke-width="1.0"/>
<circle cx="364.40" cy="676.00" r="3.4" fill="#1e9bb3"/>
<circle cx="405.00" cy="657.12" r="3.4" fill="#1e9bb3"/>
<circle cx="417.18" cy="648.26" r="3.4" fill="#1e9bb3"/>
<circle cx="429.36" cy="638.24" r="3.4" fill="#1e9bb3"/>
<circle cx="437.48" cy="635.93" r="3.4" fill="#1e9bb3"/>
<circle cx="449.66" cy="627.84" r="3.4" fill="#1e9bb3"/>
<circle cx="457.78" cy="623.60" r="3.4" fill="#1e9bb3"/>
<circle cx="465.90" cy="613.97" r="3.4" fill="#1e9bb3"/>
<circle cx="478.08" cy="609.34" r="3.4" fill="#1e9bb3"/>
<circle cx="486.20" cy="598.17" r="3.4" fill="#1e9bb3"/>
<polyline points="364.40,676.00 405.00,654.42 417.18,647.49 429.36,637.47 437.48,626.68 449.66,615.51 457.78,609.34 465.90,596.63 478.08,585.45 486.20,577.36" fill="none" stroke="#808080" stroke-width="1.1"/>
<line x1="405.00" y1="652.88" x2="405.00" y2="655.96" stroke="#808080" stroke-width="1.0"/>
<line x1="402.40" y1="652.88" x2="407.60" y2="652.88" stroke="#808080" stroke-width="1.0"/>
<line x1="402.40" y1="655.96" x2="407.60" y2="655.96" stroke="#808080" stroke-width="1.0"/>
<line x1="417.18" y1="645.95" x2="417.18" y2="649.03" stroke="#808080" stroke-width="1.0"/>
<line x1="414.58" y1="645.95" x2="419.78" y2="645.95" stroke="#808080" stroke-width="1.0"/>
<line x1="414.58" y1="649.03" x2="419.78" y2="649.03" stroke="#808080" stroke-width="1.0"/>
<line x1="429.36" y1="635.54" x2="429.36" y2="639.40" stroke="#808080" stroke-width="1.0"/>
<line x1="426.76" y1="635.54" x2="431.96" y2="635.54" stroke="#808080" stroke-width="1.0"/>
<line x1="426.76" y1="639.40" x2="431.96" y2="639.40" stroke="#808080" stroke-width="1.0"/>
<line x1="437.48" y1="622.83" x2="437.48" y2="630.53" stroke="#808080" stroke-width="1.0"/>
<line x1="434.88" y1="622.83" x2="440.08" y2="622.83" stroke="#808080" stroke-width="1.0"/>
<line x1="434.88" y1="630.53" x2="440.08" y2="630.53" stroke="#808080" stroke-width="1.0"/>
<line x1="449.66" y1="613.20" x2="449.66" y2="617.82" stroke="#808080" stroke-width="1.0"/>
<line x1="447.06" y1="613.20" x2="452.26" y2="613.20" stroke="#808080" stroke-width="1.0"/>
<line x1="447.06" y1="617.82" x2="452.26" y2="617.82" stroke="#808080" stroke-width="1.0"/>
<line x1="457.78" y1="605.49" x2="457.78" y2="613.20" stroke="#808080" stroke-width="1.0"/>
<line x1="455.18" y1="605.49" x2="460.38" y2="605.49" stroke="#808080" stroke-width="1.0"/>
<line x1="455.18" y1="613.20" x2="460.38" y2="613.20" stroke="#808080" stroke-width="1.0"/>
<line x1="465.90" y1="593.55" x2="465.90" y2="599.71" stroke="#808080" stroke-width="1.0"/>
<line x1="463.30" y1="593.55" x2="468.50" y2="593.55" stroke="#808080" stroke-width="1.0"/>
<line x1="463.30" y1="599.71" x2="468.50" y2="599.71" stroke="#808080" stroke-width="1.0"/>
<line x1="478.08" y1="580.06" x2="478.08" y2="590.85" stroke="#808080" stroke-width="1.0"/>
<line x1="475.48" y1="580.06" x2="480.68" y2="580.06" stroke="#808080" stroke-width="1.0"/>
<line x1="475.48" y1="590.85" x2="480.68" y2="590.85" stroke="#808080" stroke-width="1.0"/>
<line x1="486.20" y1="570.81" x2="486.20" y2="583.91" stroke="#808080" stroke-width="1.0"/>
<line x1="483.60" y1="570.81" x2="488.80" y2="570.81" stroke="#808080" stroke-width="1.0"/>
<line x1="483.60" y1="583.91" x2="488.80" y2="583.91" stroke="#808080" stroke-width="1.0"/>
<rect x="361.30" y="672.90" width="6.20" height="6.20" fill="#808080" stroke="#808080" stroke-width="None"/>
<rect x="401.90" y="651.32" width="6.20" height="6.20" fill="#808080" stroke="#808080" stroke-width="None"/>
<rect x="414.08" y="644.39" width="6.20" height="6.20" fill="#808080" stroke="#808080" stroke-width="None"/>
<rect x="426.26" y="634.37" width="6.20" height="6.20" fill="#808080" stroke="#808080" stroke-width="None"/>
<rect x="434.38" y="623.58" width="6.20" height="6.20" fill="#808080" stroke="#808080" stroke-width="None"/>
<rect x="446.56" y="612.41" width="6.20" height="6.20" fill="#808080" stroke="#808080" stroke-width="None"/>
<rect x="454.68" y="606.24" width="6.20" height="6.20" fill="#808080" stroke="#808080" stroke-width="None"/>
<rect x="462.80" y="593.53" width="6.20" height="6.20" fill="#808080" stroke="#808080" stroke-width="None"/>
<rect x="474.98" y="582.35" width="6.20" height="6.20" fill="#808080" stroke="#808080" stroke-width="None"/>
<rect x="483.10" y="574.26" width="6.20" height="6.20" fill="#808080" stroke="#808080" stroke-width="None"/>
<text x="494.80" y="590.60" font-size="8.2" fill="#222" color="#222" style="stroke-width:0.12px">n.s.</text>
<text x="426.00" y="705.60" font-size="11.8" fill="#1a1a1a" color="#1a1a1a" text-anchor="middle">Days</text>
<line x1="536.60" y1="540.60" x2="536.60" y2="682.00" stroke="#222" stroke-width="1.1"/>
<line x1="536.60" y1="676.00" x2="658.40" y2="676.00" stroke="#222" stroke-width="1.1"/>
<line x1="532.60" y1="676.00" x2="536.60" y2="676.00" stroke="#222" stroke-width="1.1"/>
<text x="529.00" y="680.10" font-size="11.5" fill="#1a1a1a" color="#1a1a1a" text-anchor="end">0</text>
<line x1="532.60" y1="637.47" x2="536.60" y2="637.47" stroke="#222" stroke-width="1.1"/>
<text x="529.00" y="641.57" font-size="11.5" fill="#1a1a1a" color="#1a1a1a" text-anchor="end">100</text>
<line x1="532.60" y1="598.94" x2="536.60" y2="598.94" stroke="#222" stroke-width="1.1"/>
<text x="529.00" y="603.04" font-size="11.5" fill="#1a1a1a" color="#1a1a1a" text-anchor="end">200</text>
<line x1="532.60" y1="560.41" x2="536.60" y2="560.41" stroke="#222" stroke-width="1.1"/>
<text x="529.00" y="564.51" font-size="11.5" fill="#1a1a1a" color="#1a1a1a" text-anchor="end">300</text>
<line x1="536.60" y1="676.00" x2="536.60" y2="681.50" stroke="#222" stroke-width="1.1"/>
<text x="536.60" y="695.80" font-size="11.5" fill="#1a1a1a" color="#1a1a1a" text-anchor="middle">0</text>
<line x1="577.20" y1="676.00" x2="577.20" y2="681.50" stroke="#222" stroke-width="1.1"/>
<text x="577.20" y="695.80" font-size="11.5" fill="#1a1a1a" color="#1a1a1a" text-anchor="middle">10</text>
<line x1="617.80" y1="676.00" x2="617.80" y2="681.50" stroke="#222" stroke-width="1.1"/>
<text x="617.80" y="695.80" font-size="11.5" fill="#1a1a1a" color="#1a1a1a" text-anchor="middle">20</text>
<line x1="658.40" y1="676.00" x2="658.40" y2="681.50" stroke="#222" stroke-width="1.1"/>
<text x="658.40" y="695.80" font-size="11.5" fill="#1a1a1a" color="#1a1a1a" text-anchor="middle">30</text>
<text x="601.80" y="560.20" font-size="11.8" fill="#8c8c8c" color="#8c8c8c" text-anchor="middle">LLC1 <tspan font-style="italic">Cxcl10</tspan><tspan font-size="8.6" dy="-4.8">KD</tspan></text>
<polyline points="536.60,676.00 565.02,664.06 577.20,657.12 589.38,649.80 601.56,644.41 609.68,639.78 621.86,630.53 629.98,619.75 638.10,609.73 650.28,600.48 658.40,583.14" fill="none" stroke="#1e9bb3" stroke-width="1.1"/>
<line x1="565.02" y1="662.90" x2="565.02" y2="665.21" stroke="#1e9bb3" stroke-width="1.0"/>
<line x1="562.42" y1="662.90" x2="567.62" y2="662.90" stroke="#1e9bb3" stroke-width="1.0"/>
<line x1="562.42" y1="665.21" x2="567.62" y2="665.21" stroke="#1e9bb3" stroke-width="1.0"/>
<line x1="577.20" y1="655.58" x2="577.20" y2="658.66" stroke="#1e9bb3" stroke-width="1.0"/>
<line x1="574.60" y1="655.58" x2="579.80" y2="655.58" stroke="#1e9bb3" stroke-width="1.0"/>
<line x1="574.60" y1="658.66" x2="579.80" y2="658.66" stroke="#1e9bb3" stroke-width="1.0"/>
<line x1="589.38" y1="647.87" x2="589.38" y2="651.73" stroke="#1e9bb3" stroke-width="1.0"/>
<line x1="586.78" y1="647.87" x2="591.98" y2="647.87" stroke="#1e9bb3" stroke-width="1.0"/>
<line x1="586.78" y1="651.73" x2="591.98" y2="651.73" stroke="#1e9bb3" stroke-width="1.0"/>
<line x1="601.56" y1="642.09" x2="601.56" y2="646.72" stroke="#1e9bb3" stroke-width="1.0"/>
<line x1="598.96" y1="642.09" x2="604.16" y2="642.09" stroke="#1e9bb3" stroke-width="1.0"/>
<line x1="598.96" y1="646.72" x2="604.16" y2="646.72" stroke="#1e9bb3" stroke-width="1.0"/>
<line x1="609.68" y1="636.70" x2="609.68" y2="642.86" stroke="#1e9bb3" stroke-width="1.0"/>
<line x1="607.08" y1="636.70" x2="612.28" y2="636.70" stroke="#1e9bb3" stroke-width="1.0"/>
<line x1="607.08" y1="642.86" x2="612.28" y2="642.86" stroke="#1e9bb3" stroke-width="1.0"/>
<line x1="621.86" y1="625.91" x2="621.86" y2="635.16" stroke="#1e9bb3" stroke-width="1.0"/>
<line x1="619.26" y1="625.91" x2="624.46" y2="625.91" stroke="#1e9bb3" stroke-width="1.0"/>
<line x1="619.26" y1="635.16" x2="624.46" y2="635.16" stroke="#1e9bb3" stroke-width="1.0"/>
<line x1="629.98" y1="612.81" x2="629.98" y2="626.68" stroke="#1e9bb3" stroke-width="1.0"/>
<line x1="627.38" y1="612.81" x2="632.58" y2="612.81" stroke="#1e9bb3" stroke-width="1.0"/>
<line x1="627.38" y1="626.68" x2="632.58" y2="626.68" stroke="#1e9bb3" stroke-width="1.0"/>
<line x1="638.10" y1="598.17" x2="638.10" y2="621.29" stroke="#1e9bb3" stroke-width="1.0"/>
<line x1="635.50" y1="598.17" x2="640.70" y2="598.17" stroke="#1e9bb3" stroke-width="1.0"/>
<line x1="635.50" y1="621.29" x2="640.70" y2="621.29" stroke="#1e9bb3" stroke-width="1.0"/>
<line x1="650.28" y1="586.23" x2="650.28" y2="614.74" stroke="#1e9bb3" stroke-width="1.0"/>
<line x1="647.68" y1="586.23" x2="652.88" y2="586.23" stroke="#1e9bb3" stroke-width="1.0"/>
<line x1="647.68" y1="614.74" x2="652.88" y2="614.74" stroke="#1e9bb3" stroke-width="1.0"/>
<line x1="658.40" y1="566.96" x2="658.40" y2="599.33" stroke="#1e9bb3" stroke-width="1.0"/>
<line x1="655.80" y1="566.96" x2="661.00" y2="566.96" stroke="#1e9bb3" stroke-width="1.0"/>
<line x1="655.80" y1="599.33" x2="661.00" y2="599.33" stroke="#1e9bb3" stroke-width="1.0"/>
<circle cx="536.60" cy="676.00" r="3.4" fill="#1e9bb3"/>
<circle cx="565.02" cy="664.06" r="3.4" fill="#1e9bb3"/>
<circle cx="577.20" cy="657.12" r="3.4" fill="#1e9bb3"/>
<circle cx="589.38" cy="649.80" r="3.4" fill="#1e9bb3"/>
<circle cx="601.56" cy="644.41" r="3.4" fill="#1e9bb3"/>
<circle cx="609.68" cy="639.78" r="3.4" fill="#1e9bb3"/>
<circle cx="621.86" cy="630.53" r="3.4" fill="#1e9bb3"/>
<circle cx="629.98" cy="619.75" r="3.4" fill="#1e9bb3"/>
<circle cx="638.10" cy="609.73" r="3.4" fill="#1e9bb3"/>
<circle cx="650.28" cy="600.48" r="3.4" fill="#1e9bb3"/>
<circle cx="658.40" cy="583.14" r="3.4" fill="#1e9bb3"/>
<polyline points="536.60,676.00 565.02,667.91 577.20,659.05 589.38,650.96 601.56,644.79 609.68,636.31 621.86,625.14 629.98,614.35 638.10,600.48 650.28,592.78 658.40,594.70" fill="none" stroke="#808080" stroke-width="1.1"/>
<line x1="565.02" y1="666.75" x2="565.02" y2="669.06" stroke="#808080" stroke-width="1.0"/>
<line x1="562.42" y1="666.75" x2="567.62" y2="666.75" stroke="#808080" stroke-width="1.0"/>
<line x1="562.42" y1="669.06" x2="567.62" y2="669.06" stroke="#808080" stroke-width="1.0"/>
<line x1="577.20" y1="657.12" x2="577.20" y2="660.97" stroke="#808080" stroke-width="1.0"/>
<line x1="574.60" y1="657.12" x2="579.80" y2="657.12" stroke="#808080" stroke-width="1.0"/>
<line x1="574.60" y1="660.97" x2="579.80" y2="660.97" stroke="#808080" stroke-width="1.0"/>
<line x1="589.38" y1="647.49" x2="589.38" y2="654.42" stroke="#808080" stroke-width="1.0"/>
<line x1="586.78" y1="647.49" x2="591.98" y2="647.49" stroke="#808080" stroke-width="1.0"/>
<line x1="586.78" y1="654.42" x2="591.98" y2="654.42" stroke="#808080" stroke-width="1.0"/>
<line x1="601.56" y1="640.94" x2="601.56" y2="648.64" stroke="#808080" stroke-width="1.0"/>
<line x1="598.96" y1="640.94" x2="604.16" y2="640.94" stroke="#808080" stroke-width="1.0"/>
<line x1="598.96" y1="648.64" x2="604.16" y2="648.64" stroke="#808080" stroke-width="1.0"/>
<line x1="609.68" y1="630.92" x2="609.68" y2="641.71" stroke="#808080" stroke-width="1.0"/>
<line x1="607.08" y1="630.92" x2="612.28" y2="630.92" stroke="#808080" stroke-width="1.0"/>
<line x1="607.08" y1="641.71" x2="612.28" y2="641.71" stroke="#808080" stroke-width="1.0"/>
<line x1="621.86" y1="617.43" x2="621.86" y2="632.85" stroke="#808080" stroke-width="1.0"/>
<line x1="619.26" y1="617.43" x2="624.46" y2="617.43" stroke="#808080" stroke-width="1.0"/>
<line x1="619.26" y1="632.85" x2="624.46" y2="632.85" stroke="#808080" stroke-width="1.0"/>
<line x1="629.98" y1="603.95" x2="629.98" y2="624.76" stroke="#808080" stroke-width="1.0"/>
<line x1="627.38" y1="603.95" x2="632.58" y2="603.95" stroke="#808080" stroke-width="1.0"/>
<line x1="627.38" y1="624.76" x2="632.58" y2="624.76" stroke="#808080" stroke-width="1.0"/>
<line x1="638.10" y1="588.92" x2="638.10" y2="612.04" stroke="#808080" stroke-width="1.0"/>
<line x1="635.50" y1="588.92" x2="640.70" y2="588.92" stroke="#808080" stroke-width="1.0"/>
<line x1="635.50" y1="612.04" x2="640.70" y2="612.04" stroke="#808080" stroke-width="1.0"/>
<line x1="650.28" y1="583.14" x2="650.28" y2="602.41" stroke="#808080" stroke-width="1.0"/>
<line x1="647.68" y1="583.14" x2="652.88" y2="583.14" stroke="#808080" stroke-width="1.0"/>
<line x1="647.68" y1="602.41" x2="652.88" y2="602.41" stroke="#808080" stroke-width="1.0"/>
<line x1="658.40" y1="583.91" x2="658.40" y2="605.49" stroke="#808080" stroke-width="1.0"/>
<line x1="655.80" y1="583.91" x2="661.00" y2="583.91" stroke="#808080" stroke-width="1.0"/>
<line x1="655.80" y1="605.49" x2="661.00" y2="605.49" stroke="#808080" stroke-width="1.0"/>
<rect x="533.50" y="672.90" width="6.20" height="6.20" fill="#808080" stroke="#808080" stroke-width="None"/>
<rect x="561.92" y="664.81" width="6.20" height="6.20" fill="#808080" stroke="#808080" stroke-width="None"/>
<rect x="574.10" y="655.95" width="6.20" height="6.20" fill="#808080" stroke="#808080" stroke-width="None"/>
<rect x="586.28" y="647.86" width="6.20" height="6.20" fill="#808080" stroke="#808080" stroke-width="None"/>
<rect x="598.46" y="641.69" width="6.20" height="6.20" fill="#808080" stroke="#808080" stroke-width="None"/>
<rect x="606.58" y="633.21" width="6.20" height="6.20" fill="#808080" stroke="#808080" stroke-width="None"/>
<rect x="618.76" y="622.04" width="6.20" height="6.20" fill="#808080" stroke="#808080" stroke-width="None"/>
<rect x="626.88" y="611.25" width="6.20" height="6.20" fill="#808080" stroke="#808080" stroke-width="None"/>
<rect x="635.00" y="597.38" width="6.20" height="6.20" fill="#808080" stroke="#808080" stroke-width="None"/>
<rect x="647.18" y="589.68" width="6.20" height="6.20" fill="#808080" stroke="#808080" stroke-width="None"/>
<rect x="655.30" y="591.60" width="6.20" height="6.20" fill="#808080" stroke="#808080" stroke-width="None"/>
<text x="667.00" y="581.60" font-size="8.2" fill="#222" color="#222" style="stroke-width:0.12px">n.s.</text>
<text x="597.10" y="705.60" font-size="11.8" fill="#1a1a1a" color="#1a1a1a" text-anchor="middle">Days</text>
<text x="258.60" y="705.60" font-size="11.8" fill="#1a1a1a" color="#1a1a1a" text-anchor="middle">Days</text>
<text x="58.40" y="740.90" font-size="11.8" fill="#1a1a1a" color="#1a1a1a">LLC1: recIL1-β vs untreated</text>
<path d="M118.4 892.9h0M127.5 887.8h0M119.5 893.1h0M113.2 889.2h0M121.8 890.6h0M111.5 891.1h0M111.4 878.8h0M123.0 893.6h0M128.6 867.5h0M122.3 891.3h0M112.7 893.6h0M119.8 893.6h0M113.3 892.5h0M110.2 886.9h0M118.2 891.9h0M119.7 892.9h0M119.3 893.0h0M118.5 893.4h0M128.9 864.7h0M125.9 884.7h0M115.7 893.1h0M115.2 893.5h0M124.4 891.4h0M126.0 890.5h0M128.1 874.5h0M109.7 891.8h0M127.2 888.0h0M128.6 888.3h0M111.1 883.5h0M124.7 892.4h0M111.3 890.6h0M128.3 877.7h0M111.9 892.0h0M111.6 893.5h0M125.0 893.0h0M120.4 893.1h0M113.3 885.4h0M112.2 885.2h0M111.9 889.5h0M113.8 892.4h0M128.4 875.5h0M115.5 887.5h0M113.7 891.2h0M126.1 885.7h0M111.6 873.1h0M113.8 892.5h0M124.6 892.0h0M115.4 893.5h0M111.4 885.4h0M114.3 889.2h0M116.8 892.5h0M128.2 886.6h0M120.7 891.5h0M113.2 893.1h0M127.2 878.5h0M114.5 893.1h0M123.9 884.7h0M113.4 880.9h0M126.7 885.7h0M117.8 893.6h0M110.4 869.3h0M114.2 887.6h0M114.6 886.4h0M121.2 893.2h0M113.0 885.1h0M111.0 892.0h0M120.4 891.9h0M121.5 893.2h0M127.4 892.3h0M110.0 891.0h0M118.3 893.6h0M113.0 891.1h0M120.7 893.5h0M116.6 889.6h0M128.6 880.6h0M123.0 890.8h0M112.4 893.6h0M110.0 870.1h0M123.2 886.2h0M110.1 881.4h0M119.0 892.8h0M115.8 886.7h0M111.1 885.9h0M123.9 885.5h0M123.9 888.4h0M125.0 882.3h0M116.4 890.9h0M127.0 877.2h0M117.7 891.7h0M126.3 886.9h0M121.7 892.8h0M120.9 892.4h0M111.2 883.5h0M128.8 870.7h0M123.7 891.9h0M123.8 889.9h0M118.2 891.9h0M111.3 880.3h0M110.2 882.9h0M118.9 893.5h0M123.1 891.4h0M121.5 890.1h0M114.6 893.6h0M115.5 889.7h0M113.6 893.0h0M127.1 883.5h0M118.2 891.8h0M116.0 890.5h0M113.5 890.6h0M125.2 881.6h0M126.6 890.1h0M120.9 893.2h0M112.3 888.4h0M125.8 881.5h0M123.4 885.9h0M115.0 893.2h0M118.3 893.4h0M113.8 891.0h0M121.7 892.4h0M115.7 888.5h0M128.6 886.9h0M111.1 893.6h0M126.5 893.5h0M123.3 890.6h0M115.6 888.8h0M110.0 892.8h0M118.4 893.6h0M125.7 892.4h0M112.4 893.5h0M121.8 892.5h0M121.8 891.5h0M125.2 880.4h0M122.9 893.2h0M118.8 893.5h0M109.8 886.2h0M123.4 893.2h0M114.9 892.2h0M123.1 891.2h0M121.5 891.2h0M117.2 891.2h0M127.1 893.3h0M127.7 880.5h0M112.1 889.1h0M121.7 889.9h0M116.9 892.0h0M126.6 880.7h0M127.9 887.4h0M122.2 893.3h0M123.6 887.3h0M122.0 890.8h0M113.8 883.0h0M128.6 867.1h0M120.0 892.4h0M115.8 887.9h0M126.2 891.0h0M111.2 888.5h0M120.3 892.3h0M119.1 893.6h0M125.3 893.5h0M125.1 893.0h0M116.1 889.6h0M112.4 893.0h0M119.6 892.8h0M125.9 885.2h0M127.9 886.7h0M128.0 893.3h0M113.9 889.7h0M115.2 888.9h0M122.0 892.1h0M125.9 887.7h0M115.7 892.3h0M126.0 879.6h0M113.7 883.7h0M128.4 885.3h0M120.7 893.5h0M120.0 893.1h0M121.3 893.6h0M128.4 885.5h0M117.4 891.3h0M120.5 892.9h0M123.0 893.5h0M120.0 893.2h0M128.1 871.4h0M114.8 891.1h0M112.1 889.4h0M125.4 881.4h0M118.8 893.4h0M113.3 887.6h0M127.5 893.0h0M124.7 893.6h0M113.4 892.6h0M122.9 892.7h0M116.5 891.4h0M111.7 881.9h0M112.0 887.9h0M114.5 893.0h0M119.9 893.2h0M116.9 892.7h0M119.9 893.5h0M113.6 887.7h0M122.0 892.0h0M126.1 886.5h0M126.2 892.3h0M124.0 886.7h0M127.1 890.9h0M115.7 887.5h0M113.9 881.1h0M126.8 893.1h0M114.3 887.3h0M114.7 893.4h0M125.7 890.2h0M124.9 893.3h0M117.4 891.9h0M110.0 892.1h0M122.8 887.7h0M128.3 893.1h0M119.4 892.8h0M119.4 892.9h0M113.3 893.5h0M111.7 893.5h0M120.3 893.0h0M120.6 893.5h0M113.2 892.8h0M125.9 877.4h0M127.5 893.3h0M110.8 871.6h0M118.6 892.5h0M116.0 892.0h0M119.6 893.3h0M121.2 893.6h0M123.2 887.8h0M113.1 890.0h0M123.9 891.6h0M113.4 893.1h0M119.5 893.6h0M126.9 879.9h0M123.3 887.4h0M121.8 892.7h0M121.2 892.6h0M128.6 874.8h0M114.6 885.0h0M124.0 887.1h0M125.4 890.7h0M127.0 877.2h0M123.1 888.9h0M124.4 891.3h0M123.6 893.5h0M116.2 892.1h0M109.8 889.2h0M122.0 891.5h0M114.1 883.1h0M122.5 892.7h0M122.4 891.5h0M119.9 893.3h0M129.0 880.4h0M123.2 888.8h0M128.6 893.6h0M121.5 891.3h0M114.6 891.6h0M110.6 892.3h0M116.9 893.5h0M114.5 884.8h0M120.3 893.0h0M128.3 884.0h0M128.9 880.7h0M125.3 893.5h0M121.2 891.5h0M110.5 871.3h0M112.7 889.3h0M112.9 889.1h0M121.4 893.6h0M127.9 888.4h0M119.8 893.0h0M116.7 893.1h0M122.3 891.6h0M115.1 888.8h0M115.4 893.6h0M114.4 893.6h0M112.7 883.5h0M117.2 890.4h0M124.1 893.6h0M128.7 868.0h0M111.1 874.3h0M117.9 892.9h0M128.4 891.5h0M119.8 892.2h0M123.6 891.3h0M128.6 874.5h0M121.3 893.5h0M121.7 892.5h0M113.6 893.5h0M119.8 893.6h0M118.2 892.5h0M118.4 893.4h0M120.9 893.0h0M124.7 889.7h0M128.9 866.9h0M123.8 892.9h0M111.8 877.4h0M124.8 888.1h0M116.6 893.1h0M122.9 891.1h0M121.1 892.2h0M124.2 893.1h0M114.4 883.3h0M127.3 876.0h0M110.4 893.4h0M114.9 891.6h0M121.7 893.5h0M120.1 893.6h0M111.3 882.7h0M120.3 892.7h0M116.8 892.4h0M113.7 891.7h0M124.0 886.1h0M111.1 893.1h0M125.3 887.5h0M124.5 892.9h0M117.8 893.4h0M125.3 891.2h0M122.3 888.1h0M115.9 891.4h0M124.1 884.7h0M117.9 893.2h0M111.5 876.9h0M111.2 893.3h0M120.5 892.9h0M122.9 892.8h0M124.6 893.5h0M113.8 887.5h0M111.2 891.0h0M123.6 888.9h0M115.1 893.3h0M116.6 890.7h0M116.7 893.5h0M123.3 890.6h0M127.4 873.5h0M127.3 888.6h0M125.2 892.0h0M115.8 892.3h0M127.7 874.2h0M114.4 891.9h0M116.7 892.8h0M117.3 892.9h0M113.4 888.6h0M125.0 889.1h0M125.8 887.8h0M113.1 884.3h0M126.7 891.6h0M110.1 885.3h0M120.2 892.9h0M128.3 881.4h0M125.2 893.5h0M120.2 892.3h0M111.3 893.4h0M123.9 885.5h0M111.3 883.8h0M112.4 883.2h0M122.2 893.2h0M113.9 885.9h0M119.7 892.7h0M117.3 893.1h0M128.3 880.6h0M119.2 893.1h0M123.6 888.8h0M127.3 889.1h0M125.6 886.1h0M126.1 881.8h0M125.7 880.6h0M128.1 882.1h0M119.8 892.8h0M125.1 890.7h0M117.8 893.5h0M124.0 883.7h0M116.9 893.4h0M113.6 890.7h0M115.3 885.8h0M110.8 890.7h0M111.9 884.5h0M124.6 893.0h0M110.8 887.7h0M120.9 891.1h0M110.3 893.1h0M113.2 892.7h0M114.2 887.3h0M121.1 893.4h0M113.2 892.1h0M113.0 884.1h0M115.7 891.1h0M125.4 889.6h0M114.7 885.5h0M127.3 890.4h0M120.2 891.8h0M119.0 893.5h0M110.6 870.9h0M125.1 891.1h0M119.8 893.1h0M114.9 884.6h0M122.3 893.2h0M109.9 886.2h0M116.8 890.6h0M123.4 890.1h0M112.7 893.0h0M115.9 893.0h0M126.4 887.9h0M121.9 888.8h0M114.8 890.5h0M112.6 882.9h0M109.7 873.1h0M126.0 881.7h0M111.2 891.5h0M123.5 893.5h0M118.9 893.2h0M128.1 883.8h0M126.2 891.5h0M124.9 890.9h0M127.4 893.3h0M125.6 892.7h0M120.1 893.0h0M112.7 881.6h0M115.7 892.7h0M111.1 890.9h0M118.7 892.7h0M116.6 891.0h0M111.7 889.8h0M118.6 891.9h0M125.7 886.3h0M109.9 888.7h0M123.4 893.0h0M120.5 893.0h0M109.8 865.6h0M125.1 892.8h0M121.5 893.2h0M116.9 892.2h0M115.4 892.5h0M117.2 891.8h0M114.6 893.0h0M123.8 892.3h0M127.9 884.9h0M123.6 892.4h0M125.6 893.4h0M112.4 893.3h0M122.7 890.0h0M113.1 890.7h0M125.8 887.3h0M111.4 892.1h0M112.7 893.2h0M117.5 893.6h0M127.4 888.7h0M119.5 892.9h0M124.5 885.5h0M117.1 893.1h0M117.6 893.6h0M117.4 891.8h0M128.6 875.4h0M122.4 891.2h0M110.0 889.8h0M116.3 890.9h0M111.7 890.1h0M119.5 892.7h0M125.6 887.2h0M112.7 883.3h0M127.1 886.4h0M116.5 892.1h0M112.4 883.9h0M128.7 885.0h0M123.5 887.3h0M113.4 881.0h0M121.8 893.4h0M111.2 891.8h0M120.8 892.2h0M116.0 888.0h0M116.6 892.4h0M112.0 875.4h0M112.3 878.4h0M120.1 892.9h0M120.5 893.4h0M127.2 872.2h0M125.4 887.6h0M112.0 880.0h0M115.2 886.7h0M114.3 889.5h0M125.7 892.8h0M120.2 893.6h0M110.3 892.4h0M128.7 868.4h0M122.4 892.9h0M122.6 889.9h0M117.0 892.0h0M125.2 893.6h0M113.5 890.1h0M112.4 890.4h0M120.6 893.5h0M119.7 893.5h0M120.6 893.3h0M122.0 893.6h0M122.6 893.4h0M128.2 883.3h0M118.7 893.3h0M121.7 891.4h0M124.3 887.0h0M119.0 892.2h0M125.8 881.3h0M117.5 892.9h0M120.6 891.5h0M119.8 893.1h0M118.0 891.5h0M115.8 893.6h0M123.7 886.0h0M123.8 889.8h0M124.2 892.3h0M121.1 893.6h0M112.0 889.1h0M119.4 893.3h0M110.6 880.7h0M119.8 893.5h0M115.6 892.2h0M114.2 893.5h0M127.2 873.0h0M122.5 888.9h0M117.8 891.7h0M113.9 886.3h0M120.6 891.5h0M111.5 879.7h0M112.0 887.3h0M128.0 893.6h0M114.4 892.4h0M115.9 893.6h0M126.9 879.3h0M117.3 893.0h0M121.0 893.6h0M110.2 871.6h0M115.6 891.5h0M127.7 870.9h0M118.8 893.5h0M115.3 886.6h0M127.0 892.5h0M125.8 891.1h0M118.8 893.5h0M126.6 874.4h0M113.5 887.6h0M113.3 882.2h0M110.6 893.2h0M123.7 892.5h0M127.0 877.3h0M123.4 893.4h0M123.1 886.8h0M118.2 893.6h0M114.0 892.1h0M123.4 893.2h0M113.1 892.5h0M122.5 889.6h0M116.8 891.5h0M126.7 886.0h0M114.1 892.2h0M127.5 882.5h0M115.0 889.5h0M111.4 872.5h0M118.1 892.9h0M119.9 893.6h0M121.2 893.2h0M114.5 886.5h0M111.3 891.3h0M124.2 892.7h0M115.0 890.6h0M113.2 881.6h0M128.7 893.5h0M118.6 892.5h0M117.1 890.1h0M119.3 893.5h0M120.4 892.6h0M116.6 891.2h0M124.8 889.8h0M119.4 892.6h0M122.9 891.4h0M128.0 892.5h0M124.7 893.1h0M121.4 893.3h0M118.1 892.2h0M124.8 885.2h0M114.2 890.4h0M113.9 889.0h0M119.3 893.6h0M121.2 891.8h0M120.7 891.5h0M113.1 893.1h0M110.0 885.7h0M118.0 893.0h0M114.7 887.0h0M111.0 874.2h0M120.6 892.8h0M124.9 892.6h0M112.5 891.5h0M110.5 890.4h0M121.6 892.3h0M114.8 889.8h0M111.3 878.3h0M113.0 892.3h0M112.7 885.1h0M125.7 883.3h0M110.8 888.7h0M116.7 893.3h0M128.4 893.5h0M119.1 892.7h0M128.7 892.7h0M118.4 892.5h0M110.4 891.6h0M126.8 893.0h0M117.2 893.2h0M117.8 893.6h0M110.3 867.4h0M124.4 887.1h0M114.1 892.6h0M120.3 893.4h0M118.6 892.0h0M116.7 892.9h0M128.6 882.2h0M110.4 888.6h0M122.2 893.6h0M116.3 890.6h0M126.3 886.5h0M126.8 888.6h0M117.2 890.9h0M117.0 890.9h0M113.8 891.7h0M113.2 888.6h0M112.8 892.7h0M113.8 890.3h0M115.6 891.9h0M128.8 879.3h0M126.3 892.6h0M117.0 893.6h0M123.0 892.4h0M114.9 893.6h0M113.2 892.3h0M117.2 890.4h0M123.5 892.8h0M116.6 893.4h0M127.7 889.8h0M124.4 887.2h0M127.2 893.6h0M115.9 892.4h0M111.2 875.8h0M115.9 889.5h0M119.7 893.6h0M117.3 893.3h0M110.4 892.7h0M121.1 893.6h0M115.7 892.1h0M120.1 893.5h0" stroke="#8c8c8c" stroke-width="1.8" stroke-linecap="round"/>
<path d="M129.9 884.7h0M140.0 892.4h0M134.4 891.2h0M130.8 879.1h0M129.4 891.1h0M131.3 893.4h0M133.1 887.6h0M129.5 885.6h0M137.8 891.8h0M136.0 878.9h0M129.8 874.8h0M130.3 890.1h0M131.9 888.6h0M133.6 888.9h0M132.3 885.7h0M131.9 889.6h0M136.1 887.3h0M133.2 893.4h0M132.6 879.4h0M130.9 887.2h0M134.8 890.8h0M129.4 877.5h0M132.0 891.4h0M133.8 886.7h0M138.9 890.3h0M131.7 886.5h0M130.8 889.8h0M134.9 878.3h0M131.5 872.5h0M129.2 890.4h0M130.5 892.4h0M133.6 876.9h0M137.6 890.0h0M129.3 887.9h0M133.4 887.7h0M130.1 890.5h0M132.3 890.9h0M133.0 869.6h0M138.5 892.3h0M129.4 890.3h0M129.2 883.6h0M133.8 890.8h0M130.9 886.7h0M129.5 872.5h0M132.9 882.9h0M133.9 872.0h0M135.5 888.5h0M135.8 891.5h0M129.7 890.7h0M135.6 880.8h0M136.8 889.7h0M132.8 871.7h0M129.2 885.6h0M129.7 887.2h0M132.3 849.5h0M133.0 889.9h0M129.5 841.8h0M130.3 891.2h0M132.3 848.1h0M130.1 888.8h0M131.8 890.9h0M133.1 890.0h0M133.5 883.1h0M133.9 887.9h0M142.7 892.5h0M138.9 891.5h0M138.8 892.7h0M130.1 892.5h0M135.3 891.3h0M129.6 889.7h0M130.7 877.5h0M130.6 888.8h0M136.4 892.0h0M129.3 881.7h0M135.2 893.2h0M136.8 891.3h0M134.8 879.1h0M131.6 884.3h0M131.4 893.4h0M130.6 890.4h0M133.4 890.9h0M129.1 856.2h0M129.3 881.6h0M132.6 881.8h0M136.5 883.0h0M137.6 889.9h0M137.9 891.5h0M130.3 891.7h0M131.1 890.3h0M133.0 886.3h0M130.3 891.2h0M131.5 890.7h0M139.3 891.9h0M131.2 888.3h0M136.3 890.5h0M129.4 889.9h0M131.9 888.0h0M141.7 890.8h0M147.0 892.8h0M136.7 891.8h0M129.9 884.7h0M133.3 872.3h0M133.1 892.1h0M129.1 886.3h0M135.9 886.1h0M133.6 879.6h0M136.6 888.5h0M134.3 885.1h0M131.3 885.7h0M131.2 887.0h0M132.6 871.4h0M131.1 887.1h0M141.2 892.4h0M129.4 890.9h0M129.9 860.7h0M130.0 860.2h0M138.7 891.7h0M135.6 880.8h0M138.7 888.4h0M132.2 884.6h0M136.0 881.7h0M132.2 892.0h0M129.7 871.1h0M136.8 891.6h0M135.9 879.6h0M131.4 882.1h0M135.4 889.3h0M134.0 875.7h0M138.6 890.0h0M140.6 893.1h0M137.2 891.9h0M137.1 892.0h0M130.9 880.3h0M137.6 891.2h0M133.4 885.0h0M133.9 885.9h0M130.2 873.1h0M130.4 855.5h0M130.5 884.0h0M136.1 892.5h0M134.3 889.6h0M132.1 888.5h0M129.7 890.5h0M137.7 891.2h0M132.2 891.2h0M131.9 874.0h0M130.3 883.8h0M129.6 889.7h0M131.3 889.4h0M135.4 885.5h0M129.0 865.5h0M135.5 890.6h0M130.4 879.9h0M129.3 867.3h0M131.7 890.2h0M131.5 877.1h0M136.7 893.4h0M130.0 889.1h0M140.6 885.6h0M130.3 858.1h0M132.6 880.8h0M155.7 893.1h0M132.5 889.9h0M150.1 891.9h0M129.1 892.5h0M132.1 892.3h0M129.1 886.5h0M136.3 884.1h0M144.2 892.7h0M129.5 872.7h0M139.0 893.4h0M131.1 892.7h0M135.0 891.0h0M131.9 878.7h0M129.1 891.1h0M137.4 893.2h0M139.6 889.3h0M132.8 892.8h0M136.5 892.4h0M129.7 886.7h0M130.6 869.6h0M129.1 881.3h0M129.9 884.6h0M129.3 892.8h0M129.5 869.1h0M129.9 882.6h0M133.2 892.7h0M133.5 885.9h0M135.3 872.4h0M129.0 890.0h0M131.8 883.9h0M133.2 888.9h0M139.4 889.5h0M133.7 893.1h0M129.4 887.9h0M131.7 890.2h0M129.0 888.8h0M138.7 893.5h0M131.5 853.0h0M130.1 887.0h0M133.8 891.0h0M131.4 888.6h0M129.0 880.9h0M131.9 882.1h0M130.1 879.4h0M140.6 893.0h0M131.6 880.7h0M135.2 882.4h0M139.8 893.2h0M131.0 887.8h0M129.0 860.9h0M140.1 893.6h0M141.9 889.7h0M130.8 893.0h0M133.4 889.4h0M131.6 880.8h0M131.6 880.9h0M134.2 884.6h0M142.6 890.9h0M134.9 891.9h0M136.4 888.0h0M133.4 877.3h0M135.3 890.2h0M131.1 885.1h0M130.8 862.6h0M137.2 892.0h0M136.5 892.3h0M132.9 890.0h0M132.3 880.2h0M130.6 865.1h0M129.4 885.0h0M136.8 887.4h0M138.2 893.1h0M135.3 889.5h0M133.6 887.7h0M132.2 888.8h0M129.4 875.2h0M129.9 884.9h0M136.1 887.8h0M136.6 883.1h0M130.0 892.9h0M132.3 888.1h0M143.3 892.7h0M132.2 875.0h0M130.0 890.3h0M131.7 879.5h0M137.3 891.4h0M130.0 891.5h0M129.3 878.3h0M134.4 891.2h0M133.0 878.6h0M136.1 886.8h0M133.7 884.0h0M136.1 882.8h0M138.3 893.2h0M138.3 891.7h0M135.8 890.3h0M131.0 887.6h0M141.7 891.7h0M133.1 861.4h0M146.1 892.8h0M142.3 890.9h0M130.8 893.1h0M129.5 887.5h0M130.1 885.2h0M138.4 893.0h0M134.2 892.1h0M135.7 892.0h0M134.9 889.7h0M131.7 887.7h0M131.6 879.5h0M132.9 873.4h0M133.2 871.9h0M144.1 893.5h0M134.0 887.1h0M131.4 859.9h0M133.7 867.4h0M134.2 870.9h0M135.2 885.2h0M131.7 879.8h0M130.8 882.2h0M134.6 890.6h0M129.8 893.5h0M135.8 888.2h0M129.8 885.5h0M137.8 885.3h0M131.0 888.9h0M131.8 885.9h0M131.3 888.3h0M132.1 891.7h0M134.1 890.7h0M133.3 867.3h0M146.9 891.6h0M138.5 890.3h0M130.2 876.1h0M130.3 882.3h0M132.7 890.6h0M131.7 887.1h0M135.4 888.9h0M129.2 865.3h0M142.8 892.5h0M134.2 874.2h0M130.6 854.9h0M130.6 892.5h0M132.3 878.1h0M130.3 882.8h0M129.5 868.4h0M130.7 890.9h0M138.6 892.7h0M130.2 883.2h0M131.1 866.3h0M130.5 883.3h0M132.3 888.5h0M136.4 891.1h0M133.3 867.6h0M135.4 889.1h0M133.9 872.7h0M130.1 885.5h0M129.3 892.2h0M130.3 891.8h0M132.3 888.6h0M130.1 893.5h0M134.8 893.3h0M132.5 889.0h0M135.3 890.8h0M134.1 889.7h0M132.4 889.1h0M130.1 873.7h0M138.2 878.1h0M130.0 891.1h0M131.0 884.3h0M129.8 872.3h0M134.7 892.9h0M134.6 888.6h0M135.1 888.4h0M129.0 891.3h0M133.5 886.4h0M132.4 888.8h0M130.1 868.2h0M129.5 882.0h0M129.2 880.8h0M140.4 888.5h0M134.7 887.7h0M129.4 891.1h0M130.2 888.5h0M131.2 880.6h0M130.9 865.8h0M135.7 884.6h0M130.2 881.9h0M134.4 891.6h0M137.1 893.4h0M135.9 886.8h0M133.0 874.1h0M133.5 892.8h0M130.9 878.8h0M134.4 883.3h0M134.2 866.8h0M131.7 883.0h0M133.3 878.6h0M131.6 888.7h0M129.9 886.1h0M132.0 885.9h0M130.3 885.0h0M134.3 892.1h0M133.7 885.2h0M135.1 876.1h0M133.8 871.6h0M131.5 890.7h0M139.1 888.3h0M131.2 888.1h0M130.6 883.7h0M137.6 891.6h0M138.3 883.4h0M130.8 886.2h0M143.7 889.8h0M132.1 892.7h0M134.7 885.2h0M130.4 873.4h0M137.4 891.5h0M129.1 892.1h0M135.1 893.2h0M130.0 884.4h0M135.0 890.8h0M136.0 889.2h0M144.6 892.8h0M131.6 885.9h0M132.0 885.0h0M132.7 887.4h0M132.4 889.9h0M139.3 893.3h0M130.3 879.8h0M129.2 890.0h0M134.4 892.8h0M133.4 887.2h0M129.9 855.6h0M139.4 888.5h0M129.5 889.9h0M136.3 884.7h0M134.1 890.3h0M130.1 886.5h0M136.1 891.0h0M130.0 878.3h0M139.5 890.2h0M130.5 889.9h0M130.5 883.8h0M139.6 885.9h0M130.4 889.5h0M137.6 888.0h0M135.5 890.6h0M129.4 883.1h0M140.9 886.7h0M142.7 892.0h0M135.7 893.2h0M139.3 890.0h0M129.1 884.6h0M138.0 891.5h0M131.6 887.6h0M129.1 882.6h0M129.8 884.2h0M135.6 888.2h0M137.5 892.3h0M135.0 891.1h0M132.5 873.2h0M129.8 859.4h0M129.0 871.4h0M131.6 891.0h0M131.4 885.1h0M132.3 890.4h0M131.6 893.4h0M132.0 890.9h0M129.6 874.0h0M132.5 893.0h0M135.0 883.9h0M129.8 893.4h0M130.4 879.4h0M138.4 890.6h0M131.9 891.8h0M132.5 881.5h0M129.5 886.8h0M132.2 886.6h0M131.8 869.5h0M130.3 880.9h0M133.1 885.4h0M137.7 891.8h0M130.5 878.7h0M130.5 865.6h0M139.3 893.1h0M130.3 883.3h0M129.6 863.4h0M129.8 873.9h0M134.6 892.2h0M137.5 890.8h0M132.8 891.1h0M134.1 891.5h0M131.5 883.0h0M132.3 892.7h0M133.3 889.0h0M136.4 883.5h0M133.5 885.8h0M129.0 890.0h0M138.5 889.0h0M130.1 877.5h0M143.6 893.4h0M130.6 886.6h0M134.6 892.1h0M134.4 885.1h0M139.9 889.2h0M130.8 859.2h0M132.6 873.9h0M130.1 888.4h0M130.3 879.3h0M129.0 853.4h0M134.9 890.0h0M131.4 873.3h0M131.0 883.2h0M130.7 889.1h0M134.1 885.5h0M131.6 890.6h0M130.3 880.4h0M133.6 893.1h0M131.7 890.7h0M129.7 886.3h0M129.0 881.4h0M131.8 893.3h0M133.4 892.5h0M129.6 889.0h0M130.9 890.8h0M131.5 886.3h0M132.7 858.5h0M137.5 891.5h0M134.3 892.1h0M129.9 891.2h0M129.2 880.4h0M131.8 880.1h0M130.9 865.4h0M131.8 884.5h0M136.4 893.2h0M131.2 866.6h0M133.8 890.2h0M132.2 875.8h0M129.6 888.6h0M137.9 891.6h0M130.7 860.8h0M129.7 889.0h0M129.5 886.6h0M142.0 893.2h0M130.7 892.4h0M129.1 878.4h0M134.0 870.0h0M134.7 885.5h0M130.7 886.6h0M132.4 892.3h0M131.9 874.8h0M129.1 872.3h0M144.1 892.0h0M129.5 887.2h0M132.3 888.0h0M132.0 884.7h0M132.2 884.7h0M130.3 891.1h0M131.1 882.5h0M130.7 890.0h0M129.3 856.5h0M141.3 890.3h0M134.3 870.5h0M131.6 843.7h0M131.7 885.9h0M131.2 866.4h0M130.3 893.1h0M133.0 886.8h0M133.4 889.3h0M129.4 890.3h0M131.9 892.1h0M136.6 890.6h0M133.1 893.6h0M137.5 866.8h0M131.3 891.7h0M134.7 873.8h0M133.0 890.8h0M137.4 889.1h0M133.9 892.4h0M129.6 886.7h0M134.4 893.3h0M136.2 887.5h0M132.0 866.0h0M129.8 881.0h0M130.7 887.9h0M130.1 880.0h0M138.4 893.4h0M132.6 892.6h0M132.8 881.0h0M133.1 884.2h0M133.9 887.8h0M132.1 867.0h0M129.5 882.8h0M129.1 888.9h0M130.6 886.9h0M129.1 892.6h0M129.9 885.3h0M133.4 889.2h0M132.6 881.8h0M132.2 889.9h0M135.0 890.4h0M131.3 893.0h0M133.7 880.9h0M134.7 889.3h0M129.2 890.3h0M129.4 877.9h0M129.0 868.4h0M130.5 885.5h0M141.5 889.3h0M131.0 869.5h0M135.3 875.1h0M130.4 882.3h0M135.8 893.3h0M129.4 875.6h0M132.6 861.1h0M131.8 890.8h0M132.5 876.7h0M131.2 892.5h0M129.0 871.9h0M137.1 890.8h0M131.1 883.8h0M132.7 885.0h0M133.1 886.5h0M137.7 888.6h0M136.4 890.3h0M135.8 867.8h0M129.8 887.0h0M133.4 878.5h0M133.2 889.8h0M133.4 890.3h0M135.3 890.5h0M135.3 885.4h0M129.0 890.1h0M135.8 892.8h0M130.0 875.2h0M131.6 892.5h0M129.1 870.6h0M131.3 878.4h0M130.4 889.0h0M135.8 891.2h0M131.4 893.4h0M134.0 890.0h0M133.0 882.2h0M129.5 887.0h0M142.4 893.3h0M142.1 890.4h0M133.1 879.0h0M139.2 892.9h0M135.2 881.7h0M141.5 887.4h0M130.9 870.9h0M132.3 882.7h0M136.7 892.4h0M131.5 884.6h0M129.9 887.5h0M131.0 888.1h0M131.9 870.5h0M131.0 887.6h0M132.8 882.7h0M141.6 893.6h0M134.6 892.9h0M130.2 883.0h0M131.9 885.6h0M129.4 889.1h0M130.4 881.7h0M132.2 860.5h0M132.4 880.6h0M133.3 866.3h0M131.4 883.4h0M131.0 892.7h0M135.7 891.7h0M133.6 892.6h0M131.2 891.6h0M138.7 889.4h0M137.0 889.0h0M130.7 884.6h0M132.2 886.3h0M131.2 881.8h0M131.5 873.0h0M130.0 890.3h0M132.9 892.5h0M134.8 891.8h0M130.1 883.1h0M142.8 893.0h0M129.4 890.9h0M133.7 889.3h0M129.7 889.0h0M134.5 875.3h0M133.1 870.5h0M148.5 892.0h0M142.7 892.7h0M131.9 885.3h0M130.0 877.1h0M129.1 891.2h0M137.9 889.7h0M137.3 893.1h0M129.2 884.1h0M131.9 893.2h0M132.8 887.9h0M131.7 893.5h0M132.6 890.6h0M133.5 893.2h0M130.2 890.2h0M129.0 878.3h0M131.6 889.4h0M129.2 882.5h0M129.0 888.7h0M133.3 882.2h0M130.6 877.4h0M134.0 888.1h0M130.0 888.2h0M129.9 883.5h0M134.1 887.0h0M131.1 890.2h0M136.6 892.3h0M136.1 888.7h0M133.6 890.9h0M129.1 884.0h0M134.1 882.7h0M131.0 858.7h0M129.7 875.2h0M130.2 877.9h0M130.6 892.6h0M140.5 892.8h0M136.2 889.8h0M130.5 873.2h0M129.3 876.4h0M133.1 889.1h0M133.0 886.9h0M129.2 887.8h0M131.8 884.1h0M130.3 891.6h0M135.5 877.1h0M133.4 867.9h0M129.7 889.0h0M137.0 891.3h0M130.5 885.7h0M130.2 868.0h0M144.2 891.7h0M131.4 880.3h0M134.1 881.2h0M131.5 880.5h0M135.2 873.5h0M129.4 859.8h0M130.4 885.5h0M131.4 861.8h0M131.6 884.3h0M129.9 889.3h0M132.0 887.8h0M132.1 891.7h0M136.5 889.7h0M135.5 893.4h0M132.3 886.8h0M130.7 872.6h0M139.2 893.2h0M132.7 886.9h0M132.1 870.4h0M129.5 893.5h0M132.2 886.2h0M134.2 893.6h0M136.4 886.5h0M133.1 882.9h0M129.6 889.1h0M129.5 890.7h0M129.6 858.4h0M140.9 892.9h0M133.7 873.7h0M134.2 890.6h0M129.1 892.0h0M130.1 891.0h0M134.1 891.1h0M129.3 878.6h0M130.3 891.2h0M136.3 887.1h0M129.0 880.3h0M134.2 860.8h0M136.2 892.4h0M136.3 892.6h0M134.1 888.4h0M129.9 893.1h0M132.0 891.4h0M137.3 890.8h0M134.3 876.6h0M138.9 891.5h0M132.2 892.9h0M129.5 852.7h0M134.4 866.7h0M131.7 881.3h0M132.3 870.3h0M129.9 874.8h0M131.0 892.7h0M132.2 882.9h0M129.7 889.7h0M131.5 877.7h0M129.0 882.9h0M129.1 869.7h0M130.5 864.6h0M130.8 893.2h0M129.9 886.6h0M133.5 891.0h0M137.9 888.7h0M140.7 890.9h0M136.6 887.3h0M139.5 893.2h0M134.6 891.7h0M138.6 891.6h0M132.1 868.9h0M133.7 893.2h0M134.5 868.2h0M130.8 880.8h0M136.8 892.0h0M136.6 892.9h0M131.2 893.2h0M131.5 881.1h0M136.6 890.0h0M129.1 888.0h0M129.3 872.2h0M132.5 888.8h0M129.7 869.0h0M130.2 892.7h0M136.4 879.9h0M142.6 892.3h0M130.5 873.0h0M129.1 893.0h0M134.0 886.9h0M131.9 876.4h0M130.1 886.1h0M130.5 877.7h0M135.3 893.4h0M137.9 888.8h0M129.8 880.6h0M130.8 869.8h0M130.4 889.0h0M132.3 879.0h0M131.7 883.4h0M130.0 868.3h0M131.2 871.6h0M137.3 893.1h0M134.4 893.0h0M134.0 879.7h0M131.6 868.0h0M132.2 892.5h0M132.1 891.0h0M129.8 880.9h0M130.4 879.0h0M131.3 880.4h0M131.8 886.1h0M130.1 889.5h0M129.0 872.8h0M130.5 887.7h0M129.1 874.3h0M130.4 893.4h0M133.2 878.8h0M129.8 891.6h0M129.7 876.0h0M137.9 891.1h0M135.2 891.4h0M140.9 890.5h0M131.5 887.3h0M131.1 876.2h0M132.0 870.5h0M137.7 891.3h0M133.2 874.1h0M140.4 886.9h0M131.0 886.6h0M133.3 887.5h0M129.6 886.2h0M134.8 893.4h0M135.6 889.5h0M130.6 886.9h0M131.9 885.4h0M130.8 892.6h0M130.1 877.9h0M135.5 888.3h0M133.5 892.2h0M131.4 891.2h0M131.1 877.8h0M135.0 887.0h0M130.7 888.9h0M133.5 885.2h0M134.4 884.0h0M130.1 887.8h0M138.8 891.1h0M131.7 884.4h0M138.4 871.3h0M129.4 886.6h0M129.8 876.9h0M134.0 882.6h0M132.3 883.8h0M133.1 885.6h0M131.4 892.9h0M131.8 868.3h0M131.8 892.3h0M130.4 877.7h0M142.8 884.6h0M131.8 892.9h0M136.7 893.6h0M131.6 886.3h0M142.9 892.3h0M134.6 892.7h0M130.9 889.0h0M137.3 890.8h0M138.1 887.0h0M133.8 893.3h0M131.1 888.8h0M132.5 889.4h0M132.9 886.9h0M131.8 882.1h0M135.0 891.6h0M130.7 891.5h0M129.4 889.4h0M142.4 891.4h0M135.1 889.4h0M131.8 887.9h0M136.1 871.9h0M133.6 871.3h0M137.8 886.5h0M129.4 893.5h0M140.0 885.0h0M129.6 886.0h0M130.6 887.1h0M133.0 890.2h0M134.1 892.8h0M129.3 888.7h0M133.2 891.3h0M131.9 892.1h0M131.1 885.2h0M133.7 883.6h0M136.2 890.7h0M130.0 874.7h0M133.0 890.5h0M130.1 891.4h0M133.0 870.9h0M129.2 889.3h0M129.7 884.8h0M131.4 879.2h0M133.0 888.5h0M129.9 872.8h0M134.8 881.4h0M131.7 888.7h0M139.3 892.6h0M133.6 890.8h0M129.1 890.4h0M129.6 888.8h0M129.1 892.4h0M136.0 891.5h0M137.9 889.5h0M131.3 874.5h0M136.4 891.5h0M130.4 883.9h0M129.5 880.4h0M129.5 876.4h0M129.4 870.4h0M129.8 876.8h0M129.4 882.7h0M133.3 881.9h0M132.0 888.2h0M130.3 888.2h0M136.3 889.1h0M132.3 889.8h0M138.6 888.1h0M129.6 882.9h0M134.9 887.8h0M135.0 891.5h0M132.3 887.8h0M131.0 891.0h0M130.3 877.9h0M134.7 889.5h0M131.2 883.4h0M133.2 867.8h0M133.1 889.3h0M139.0 889.7h0M133.2 888.3h0M129.3 888.9h0M142.2 892.5h0M129.8 867.3h0M140.1 893.1h0M130.9 881.0h0M134.9 892.2h0M131.9 888.6h0M132.2 891.1h0M133.8 893.2h0M138.9 887.2h0M133.6 884.3h0M130.0 878.6h0M134.8 887.0h0M130.8 859.8h0M129.5 883.2h0M129.1 879.7h0M135.2 889.1h0M129.6 880.5h0M129.8 888.2h0M135.7 889.9h0M135.1 891.2h0M129.5 890.5h0M139.5 885.3h0M131.9 884.1h0M133.0 890.7h0M140.0 892.3h0M135.1 890.4h0M135.5 889.6h0M132.6 880.3h0M129.9 874.3h0M130.2 890.3h0M131.6 866.1h0M131.5 888.8h0M129.3 868.3h0M137.0 889.7h0M134.2 889.3h0M143.6 890.5h0M130.9 888.1h0M129.9 890.7h0M130.0 888.7h0M132.2 893.2h0M129.7 891.0h0M133.0 893.4h0M134.1 883.3h0M132.0 879.7h0M137.0 891.1h0M129.1 868.0h0M134.0 890.0h0M132.3 888.0h0M164.4 893.0h0M138.1 887.9h0M132.2 886.9h0M136.1 889.4h0M139.6 893.3h0M135.0 888.9h0M129.9 882.6h0M136.3 892.6h0M135.5 870.0h0M132.3 888.0h0M135.1 892.8h0M131.9 886.0h0M133.6 885.9h0M129.2 881.6h0M142.0 884.5h0M131.2 886.8h0M131.1 858.0h0M142.0 857.6h0M129.5 854.3h0M130.5 863.2h0M136.8 836.6h0M132.2 852.6h0M130.1 845.7h0M131.3 833.5h0M133.6 852.4h0M133.2 856.9h0M130.8 839.6h0M132.3 852.2h0M135.9 838.0h0M131.0 846.1h0M134.5 867.3h0M140.2 852.5h0M132.3 863.5h0M130.2 867.1h0M130.1 846.3h0M130.7 845.4h0M129.6 856.4h0M141.3 854.9h0M135.7 854.5h0M132.5 841.8h0M129.7 872.4h0M133.6 842.4h0M129.5 870.2h0M136.0 841.9h0M133.3 847.4h0M137.1 846.7h0M133.5 842.4h0M131.5 870.5h0M134.3 837.0h0M130.6 847.1h0M129.7 837.7h0M131.4 837.4h0M130.4 841.6h0M132.6 875.1h0M131.4 832.3h0M133.2 873.9h0M133.6 841.1h0M136.1 863.4h0M137.8 831.7h0M133.8 834.5h0M131.3 842.1h0M130.3 846.2h0M133.4 852.8h0M136.6 831.4h0M134.5 846.7h0M130.7 839.9h0M139.2 863.2h0M135.5 835.0h0M132.7 874.2h0M132.5 848.3h0M138.4 850.3h0M137.8 842.8h0M129.6 845.4h0M132.4 855.7h0M130.3 859.1h0M133.2 842.3h0M133.5 873.0h0M130.8 839.9h0M129.7 840.0h0M138.6 872.7h0M130.5 862.1h0M134.7 838.3h0M129.7 855.1h0M130.2 873.2h0M135.9 848.2h0M130.6 851.0h0M135.0 851.9h0M132.1 861.8h0M129.9 853.7h0M132.2 858.9h0M135.7 863.0h0M133.1 848.1h0M129.9 866.3h0M137.4 848.7h0M130.2 851.5h0M138.1 834.3h0M138.0 859.3h0M130.2 863.5h0M131.2 867.5h0M131.2 871.3h0M132.2 833.9h0M133.3 839.1h0M133.8 861.0h0M130.3 873.2h0M137.0 862.0h0M135.7 875.1h0M134.1 840.5h0M130.0 855.0h0M131.4 854.1h0M129.8 846.3h0M140.1 860.2h0M131.1 844.9h0M131.2 871.6h0M130.4 839.9h0M139.5 851.5h0M133.3 871.4h0M130.4 840.2h0M135.1 846.9h0M132.1 869.1h0M130.6 871.8h0M133.1 832.4h0M131.1 873.3h0M129.6 870.9h0M131.9 833.8h0M130.7 849.1h0M135.8 857.5h0M131.0 844.1h0M131.6 858.7h0M136.6 872.1h0M134.7 856.4h0M136.2 847.5h0M138.4 866.6h0M130.2 852.3h0M129.7 872.4h0M133.2 851.2h0M133.8 865.9h0M133.1 843.8h0M131.5 873.2h0M132.3 867.7h0M133.9 862.4h0M130.9 834.3h0M131.0 865.5h0M131.0 854.9h0M130.4 832.1h0M130.6 850.8h0M132.2 846.6h0M131.6 848.2h0M132.1 864.7h0M136.8 836.3h0M130.7 839.1h0M131.5 861.5h0M132.1 848.4h0M134.5 850.5h0M134.0 865.0h0M129.6 872.9h0M131.5 849.3h0M140.1 798.2h0M136.0 833.1h0M137.8 839.1h0M131.6 822.9h0M133.1 836.5h0M133.7 828.9h0M136.2 818.7h0M130.6 829.4h0M140.7 817.9h0M135.5 804.9h0M135.8 806.0h0M137.6 824.2h0M130.3 831.9h0M135.3 821.4h0M136.9 828.6h0M136.0 818.0h0M132.7 800.3h0M137.2 808.2h0M133.3 809.7h0M138.8 799.9h0M137.0 815.7h0M134.7 816.4h0M134.5 831.2h0M131.7 817.8h0M133.4 812.0h0M138.4 839.3h0M132.0 822.3h0M137.7 810.2h0M132.7 809.7h0M130.5 797.6h0M133.2 891.0h0M153.8 891.0h0M147.9 891.7h0M144.7 889.1h0M157.5 889.2h0M136.7 892.9h0M172.1 886.6h0M137.1 891.8h0M184.1 890.1h0M152.2 887.5h0M193.0 893.3h0M212.4 892.7h0M153.9 889.8h0M139.3 892.6h0M187.8 889.4h0M154.7 890.0h0M206.6 890.1h0M138.8 893.3h0M135.5 892.8h0M151.3 892.5h0M134.8 893.4h0M158.8 889.0h0M134.1 891.6h0M149.4 889.1h0M131.5 888.0h0M166.8 890.0h0M141.0 891.8h0M199.1 893.4h0M133.0 890.8h0M204.5 893.2h0M135.9 891.9h0M168.5 891.3h0M156.9 893.5h0M136.3 891.2h0M162.0 893.3h0M133.2 892.6h0M143.8 892.5h0M135.4 893.4h0M155.9 885.3h0M155.2 886.8h0M134.2 891.0h0M141.9 888.5h0M152.9 891.0h0M190.3 885.1h0M134.5 892.0h0M133.0 891.4h0M137.0 890.3h0M141.5 893.6h0M183.8 893.2h0M138.4 891.6h0M132.3 889.6h0M161.3 893.3h0M154.3 893.2h0M149.1 893.3h0M138.9 892.0h0M149.9 890.7h0M194.1 892.5h0M141.3 893.0h0M163.2 892.4h0M136.6 893.0h0M144.1 888.7h0M144.8 889.0h0M146.3 891.2h0M138.0 892.2h0M162.0 893.4h0M145.5 892.8h0M139.2 892.5h0M136.2 891.3h0M131.9 892.9h0M138.3 893.1h0M174.3 890.5h0M183.7 893.2h0M135.9 892.6h0M148.0 888.7h0M174.3 888.3h0M131.3 893.5h0M140.8 892.1h0M131.0 892.4h0M134.2 888.0h0M136.6 892.6h0M135.5 888.5h0M133.8 892.0h0M136.9 892.8h0M163.1 892.4h0M155.3 892.9h0M132.1 891.5h0M147.0 888.2h0M137.6 882.3h0M153.8 893.5h0M136.5 885.0h0M169.2 889.9h0M157.1 893.5h0M197.6 892.6h0M166.6 891.5h0M147.1 891.6h0M191.5 888.7h0M143.0 888.4h0M135.5 892.4h0M140.2 893.5h0M143.3 893.6h0M146.6 893.4h0M138.3 889.6h0M139.3 893.3h0M144.3 891.3h0M134.2 892.3h0M150.5 889.9h0M143.5 880.7h0M138.0 889.8h0M132.9 886.9h0M149.9 893.1h0M171.6 887.8h0M134.3 887.8h0M208.0 892.4h0M168.6 890.1h0M151.1 892.3h0M140.0 889.0h0M167.8 885.7h0M132.6 891.3h0M160.4 892.9h0M131.4 887.5h0M167.5 890.2h0M140.7 892.0h0M171.3 893.3h0M161.9 890.3h0M145.9 885.3h0M155.0 887.8h0M136.1 892.2h0M139.2 891.7h0M164.8 880.7h0M189.1 888.4h0M163.2 893.3h0M143.5 891.8h0M133.6 887.3h0M142.2 892.8h0M133.0 891.5h0M140.8 885.6h0M155.2 892.1h0M135.0 893.5h0M159.0 891.0h0M147.4 891.7h0M143.7 887.2h0M132.3 892.9h0M169.1 892.6h0M140.6 892.1h0M139.4 889.7h0M133.3 891.4h0M161.2 892.5h0M162.5 892.4h0M154.4 893.3h0M140.1 891.4h0M153.7 891.9h0M131.8 891.5h0M179.3 892.7h0M136.5 891.0h0M137.3 893.3h0M132.8 890.9h0M182.5 889.6h0M152.4 888.0h0M176.4 892.8h0M142.5 883.7h0M199.9 890.8h0M154.9 892.5h0M133.2 892.5h0M137.2 890.9h0M156.6 890.9h0M189.3 893.6h0M136.5 893.3h0M142.0 887.0h0M146.1 889.2h0M135.8 892.4h0M169.6 892.7h0M162.5 891.1h0M156.6 893.5h0M141.7 882.3h0M142.3 892.7h0M159.7 891.8h0M154.5 892.3h0M138.7 892.7h0M137.1 890.4h0M133.1 893.3h0M148.0 881.1h0M167.6 890.6h0M163.6 893.0h0M148.1 893.6h0M148.6 893.5h0M133.9 893.3h0M141.1 891.9h0M136.8 893.4h0M134.0 885.5h0M137.7 889.5h0M159.3 893.3h0M138.1 874.7h0M161.7 846.7h0M158.3 886.7h0M155.0 843.7h0M159.9 829.8h0M155.9 865.7h0M154.1 883.7h0M150.4 845.6h0M150.4 893.1h0M146.8 856.6h0M154.3 881.7h0M160.9 868.1h0M140.3 871.7h0M159.0 893.5h0M160.9 883.4h0M158.4 893.4h0M143.1 887.1h0M140.1 874.2h0M156.9 874.6h0M160.2 891.4h0M142.1 884.3h0M156.8 869.4h0M162.5 856.4h0M149.2 869.3h0M157.5 880.3h0M153.5 858.9h0M157.9 890.5h0M134.7 871.4h0M157.4 889.8h0M158.4 868.0h0M138.6 890.6h0M152.9 876.0h0M138.4 850.5h0M140.0 861.2h0M161.2 891.3h0M154.1 879.2h0M160.3 883.0h0M145.7 888.8h0M140.6 749.9h0M150.2 749.9h0M144.4 760.3h0M154.1 758.0h0M141.5 776.1h0M143.4 782.9h0M142.5 789.6h0M139.6 781.5h0M147.3 793.3h0M153.1 803.2h0M148.3 819.0h0M145.4 823.5h0M154.1 828.1h0M157.9 832.6h0M162.8 846.1h0M168.6 851.6h0M186.9 844.8h0M159.9 855.2h0M108.9 881.7h0M109.3 863.4h0M107.4 874.7h0M106.0 893.2h0M107.0 889.3h0M108.9 891.9h0M104.5 884.9h0M105.8 881.2h0M109.1 885.0h0M100.2 893.1h0M102.6 890.1h0M107.0 890.3h0M109.0 882.5h0M106.8 891.6h0M102.0 890.5h0M107.9 890.7h0M103.1 889.2h0M109.6 886.3h0M101.5 892.4h0M107.4 884.2h0M103.8 890.7h0M108.3 889.8h0M107.9 883.9h0M109.6 881.6h0M103.8 889.8h0M108.6 892.5h0M105.9 886.4h0M106.5 890.3h0M109.6 876.7h0M103.4 889.7h0M107.4 872.5h0M104.6 892.8h0M105.6 892.2h0M108.5 881.0h0M108.2 860.3h0M105.0 887.0h0M106.6 875.8h0M104.4 888.5h0M106.6 877.5h0M108.1 878.3h0M107.0 882.9h0M109.3 892.5h0M104.0 882.3h0M108.7 888.6h0M108.1 890.2h0M108.1 878.9h0M102.6 890.8h0M106.3 889.2h0M106.9 877.5h0M109.2 885.7h0M108.0 893.0h0M101.1 892.4h0M99.3 891.8h0M106.5 887.1h0M105.1 884.5h0M105.9 892.1h0M104.0 877.5h0M107.2 878.0h0M104.6 890.9h0M106.2 888.7h0M108.5 887.5h0M104.8 882.5h0M104.5 885.3h0M107.1 891.9h0M95.3 891.4h0M106.5 892.5h0M108.5 887.2h0M108.4 877.8h0M107.8 888.1h0M109.2 874.0h0M100.2 891.1h0M104.9 893.4h0M107.8 866.4h0M108.7 890.7h0M104.0 890.6h0M108.6 892.3h0M109.3 888.2h0M103.2 892.1h0M104.1 892.8h0M106.6 892.1h0M107.4 891.3h0M108.7 877.8h0M108.0 885.3h0M108.8 889.7h0M99.3 890.6h0M109.2 893.2h0M102.3 886.1h0M109.4 884.6h0M103.6 885.8h0M105.3 881.8h0M103.1 891.9h0M108.1 891.3h0M101.8 890.5h0M107.0 886.8h0M106.8 892.2h0M105.4 889.2h0M108.8 868.1h0M101.8 893.6h0M104.1 893.4h0M108.4 864.0h0M109.1 888.1h0M101.1 890.8h0M102.9 892.5h0M107.9 883.7h0M108.3 878.9h0M102.6 892.1h0M109.0 868.0h0M107.2 884.3h0M108.0 892.7h0M107.9 893.5h0M106.6 880.1h0M109.5 888.3h0M101.2 887.8h0M108.1 884.3h0M101.9 891.3h0M108.4 893.1h0M107.4 890.1h0M99.8 889.4h0M102.9 891.7h0M107.9 890.0h0M106.5 888.4h0M105.0 891.6h0M104.9 883.4h0M108.0 893.0h0M105.4 891.2h0M108.7 885.5h0M106.6 876.2h0M103.9 891.7h0M108.6 890.8h0M104.8 887.0h0M99.1 891.7h0M105.7 889.5h0M103.6 877.2h0M103.4 888.1h0M104.7 884.1h0M108.7 891.7h0M104.7 893.5h0M105.9 871.1h0M107.0 892.9h0M109.0 880.3h0M108.6 892.6h0M100.1 893.4h0M108.7 892.3h0M109.5 869.9h0M102.8 879.8h0M109.4 891.7h0M107.7 884.5h0M108.3 876.8h0M107.4 876.6h0M103.4 890.9h0M108.2 890.7h0M107.2 888.6h0M105.0 892.8h0M102.2 893.2h0M107.1 868.7h0M104.5 889.6h0M105.2 892.0h0M105.7 884.9h0M107.3 890.4h0M102.9 890.0h0M108.3 891.4h0M109.2 882.5h0M95.3 890.6h0M104.8 893.0h0M105.9 890.8h0M108.0 878.1h0M109.5 885.6h0M100.6 890.9h0M106.0 891.5h0M107.7 890.1h0M105.3 889.8h0M108.9 885.5h0M101.3 890.6h0M105.8 885.5h0M102.9 889.5h0M108.4 880.9h0M103.6 885.1h0M109.6 877.6h0M103.2 884.7h0M106.6 893.5h0M107.5 890.9h0M102.8 891.5h0M101.8 890.1h0M109.4 886.1h0M106.3 878.1h0M99.5 893.5h0M107.1 890.3h0M106.4 893.2h0M108.3 888.5h0M108.7 890.8h0M104.0 891.4h0M103.3 880.7h0M101.0 891.1h0M105.8 874.3h0M107.6 865.1h0M105.8 875.9h0M106.1 891.7h0M105.2 883.6h0M107.9 891.3h0M95.6 892.5h0M107.3 890.6h0M98.8 893.6h0M107.8 892.7h0M106.8 875.9h0M109.6 890.0h0M107.1 887.2h0M109.1 885.5h0M107.3 874.8h0M106.4 883.4h0M108.2 874.5h0M106.3 874.5h0M109.1 888.5h0M108.6 881.7h0M106.7 869.8h0M108.7 865.1h0M108.7 891.2h0M105.2 893.0h0M107.7 871.6h0M105.7 888.5h0M108.3 889.4h0M103.5 885.0h0M103.8 882.9h0M108.4 888.9h0M108.2 889.8h0M106.8 867.8h0M107.5 892.4h0M106.7 891.9h0M101.0 888.3h0M108.9 889.1h0M108.0 881.6h0M107.3 889.5h0M102.6 893.3h0M108.4 876.9h0M103.5 889.2h0M101.2 887.2h0M105.1 873.0h0M108.8 886.3h0M107.7 881.9h0M106.1 893.5h0M108.0 877.5h0M108.8 882.5h0M105.6 888.4h0M108.6 885.6h0M106.6 891.8h0M103.6 892.6h0M104.4 892.4h0M109.0 869.2h0M109.6 877.7h0M103.4 892.5h0M104.6 886.9h0M102.9 891.2h0M107.3 892.7h0M108.4 887.4h0M108.2 873.6h0M108.2 880.7h0M108.3 870.4h0M104.3 888.2h0M109.0 892.7h0M104.8 893.4h0M106.4 874.7h0M104.6 881.7h0M104.6 892.9h0M108.5 893.5h0M108.0 867.4h0M101.8 892.1h0M101.9 888.4h0M107.6 884.6h0M109.0 883.4h0M102.0 889.7h0M107.4 892.5h0M97.4 887.3h0M109.4 887.0h0M105.7 891.6h0M106.0 888.3h0M103.9 887.7h0M109.0 881.3h0M107.2 892.4h0M106.6 889.4h0M102.1 892.9h0M108.3 892.4h0M103.8 888.3h0M107.1 893.0h0M102.0 891.6h0M106.9 886.8h0M101.2 891.9h0M106.8 891.8h0M106.7 885.6h0M105.0 893.4h0M105.5 879.3h0M96.3 892.5h0M107.5 876.1h0M107.6 891.1h0M107.7 890.0h0M105.1 892.5h0M109.5 886.2h0M108.7 883.8h0M102.7 891.6h0M108.1 893.1h0M108.0 878.0h0M103.8 892.4h0M103.8 892.1h0M99.7 885.4h0M106.8 892.1h0M109.2 886.6h0M107.1 893.4h0M106.7 883.7h0M106.8 873.3h0M104.5 884.2h0M106.6 887.0h0M106.2 868.2h0M106.5 879.7h0M109.4 888.5h0M108.4 890.8h0M104.7 847.1h0M106.3 892.2h0M105.3 889.2h0M107.8 883.9h0M104.1 884.6h0M109.3 883.2h0M104.5 884.6h0M100.9 892.7h0M106.6 890.8h0M108.7 892.5h0M105.2 888.0h0M106.1 892.3h0M109.2 867.0h0M108.5 879.7h0M106.1 869.5h0M108.4 890.7h0M98.2 890.8h0M107.8 882.2h0M106.3 865.3h0M108.8 888.4h0M104.6 890.6h0M109.4 887.4h0M108.6 884.6h0M108.8 880.8h0M107.5 892.1h0M109.3 869.2h0M109.6 888.4h0M108.4 888.5h0M108.5 871.7h0M109.4 889.6h0M106.1 891.5h0M108.0 891.7h0M109.0 878.3h0M105.3 867.6h0M108.7 893.3h0M107.9 889.4h0M106.1 879.3h0M107.3 891.6h0M108.4 891.5h0M107.5 887.0h0M108.1 887.6h0M109.3 891.5h0M104.0 893.3h0M109.2 877.4h0M103.2 891.6h0M108.6 889.1h0M109.6 879.7h0M103.1 888.8h0M102.3 889.9h0M105.3 873.1h0M107.2 884.9h0M107.2 892.3h0M103.9 889.9h0M105.6 889.5h0M107.7 888.7h0M107.4 878.9h0M106.6 891.2h0M103.9 886.7h0M108.3 893.6h0M108.6 886.1h0M107.8 877.1h0M108.8 887.5h0M106.1 892.0h0M104.7 879.4h0M107.7 870.8h0M107.1 889.2h0M105.3 893.5h0M109.4 876.6h0M109.3 875.8h0M108.6 869.5h0M107.4 889.0h0M109.2 888.8h0M106.5 891.9h0M109.2 889.6h0M107.1 885.1h0M107.9 891.9h0M108.5 893.0h0M107.4 891.8h0M105.0 888.3h0M107.9 885.0h0M109.4 882.4h0M108.8 888.3h0M103.6 883.8h0M108.2 888.5h0M108.6 889.7h0M108.3 889.6h0M106.1 888.1h0M97.1 891.3h0M109.5 893.3h0M104.8 888.4h0M103.5 893.5h0M98.5 887.0h0M108.3 888.4h0M105.4 888.3h0M109.1 893.4h0M107.9 890.2h0M109.2 875.7h0M105.0 891.5h0M107.9 883.1h0M109.1 877.4h0M107.6 885.9h0M105.6 876.6h0M109.6 879.8h0M109.0 886.7h0M105.5 883.4h0M104.1 889.6h0M108.3 861.4h0M104.6 885.6h0M108.4 887.8h0M105.1 889.9h0M103.0 888.6h0M105.4 889.0h0M103.8 885.8h0M107.4 891.7h0M109.6 889.5h0M106.1 889.9h0M107.1 878.6h0M108.2 886.2h0M93.6 892.1h0M106.9 871.5h0M95.6 886.8h0M103.1 868.3h0M109.5 887.0h0M108.9 889.5h0M103.3 893.0h0M108.8 891.1h0M107.6 887.7h0M108.9 892.8h0M108.7 879.1h0M108.3 882.7h0M105.1 892.4h0M106.0 875.0h0M99.0 888.9h0M107.0 891.5h0M108.4 877.1h0M108.9 888.8h0M109.2 880.1h0M108.0 892.9h0M101.4 893.4h0M108.1 890.9h0M107.7 869.7h0M106.9 889.4h0M105.6 886.9h0M108.3 890.6h0M105.5 887.7h0M104.4 885.7h0M108.2 869.6h0M103.4 872.0h0M109.5 890.2h0M109.2 879.3h0M104.4 890.0h0M108.6 879.2h0M104.3 888.5h0M108.4 891.5h0M109.5 892.0h0M109.1 882.9h0M107.9 886.5h0M108.8 887.1h0M109.2 883.6h0M93.2 892.4h0M108.7 882.9h0M107.8 892.5h0M108.0 878.2h0M108.2 877.9h0M108.5 883.2h0M107.1 890.9h0M105.2 890.2h0M108.6 859.2h0M106.0 892.3h0M109.5 885.5h0M103.8 888.2h0M106.6 878.1h0M105.1 870.8h0M96.3 892.5h0M106.2 874.2h0M100.5 893.3h0M109.3 891.1h0M109.2 893.0h0M105.1 892.8h0M106.7 867.7h0M102.4 893.5h0M109.1 888.1h0M109.1 870.3h0M107.1 893.0h0M100.2 883.5h0M103.5 891.4h0M108.4 887.9h0M101.2 890.6h0M103.7 877.0h0M98.5 892.9h0M109.5 878.4h0M103.6 893.5h0M109.1 887.8h0M105.7 890.5h0M99.2 890.7h0M99.0 889.8h0M109.1 854.2h0M107.9 892.8h0M108.4 888.1h0M107.2 890.9h0M107.7 891.7h0M107.0 887.2h0M103.4 884.7h0M100.4 888.7h0M103.9 893.1h0M109.1 881.5h0M109.0 892.6h0M103.8 887.2h0M103.0 892.3h0M108.8 893.3h0M108.6 892.2h0M105.5 871.4h0M109.6 893.4h0M108.8 892.1h0M107.4 883.6h0M108.1 889.1h0M109.0 876.2h0M109.3 872.3h0M107.7 890.7h0M108.7 877.8h0M109.1 878.8h0M106.1 891.8h0M104.3 891.5h0M109.6 891.8h0M108.5 892.8h0M107.7 889.8h0M105.8 892.3h0M105.0 884.8h0M107.7 891.7h0M106.1 887.1h0M106.1 885.8h0M109.0 884.6h0M107.2 879.9h0M105.9 875.6h0M108.2 886.3h0M107.0 885.5h0M106.6 880.1h0M109.4 870.3h0M100.4 893.4h0M108.1 865.4h0M101.7 886.6h0M105.9 881.7h0M108.3 891.2h0M106.1 892.7h0M105.9 887.7h0M105.6 868.0h0M105.9 881.2h0M108.5 884.8h0M109.1 884.9h0M102.3 892.1h0M107.6 872.2h0M107.7 880.3h0M108.5 876.4h0M107.4 892.2h0M109.1 882.9h0M105.4 885.9h0M108.5 888.0h0M108.6 879.8h0M100.9 887.9h0M92.7 892.0h0M109.0 871.1h0M107.6 887.2h0M108.1 859.5h0M105.6 870.5h0M104.1 891.9h0M103.6 893.3h0M108.3 891.0h0M98.5 891.9h0M106.9 893.3h0M108.2 883.7h0M108.8 886.5h0M107.8 889.4h0M106.1 887.3h0M109.4 864.1h0M105.0 888.9h0M104.0 893.1h0M108.4 880.2h0M109.0 889.0h0M109.6 887.9h0M103.2 891.3h0M102.4 888.4h0M104.4 887.9h0M109.0 889.8h0M108.5 871.6h0M109.6 876.5h0M108.9 892.1h0M107.2 884.3h0M108.2 866.4h0M108.4 884.2h0M105.5 886.7h0M107.5 890.0h0M103.8 893.0h0M103.9 891.2h0M107.3 891.4h0M99.1 891.5h0M102.2 892.1h0M109.1 888.7h0M105.0 884.0h0M107.9 879.6h0M108.9 890.8h0M106.5 875.8h0M106.7 882.4h0M109.2 892.8h0M109.5 881.8h0M98.2 892.5h0M108.4 884.4h0M102.7 891.0h0M109.4 883.5h0M106.8 891.6h0M108.3 887.2h0M109.3 881.0h0M107.5 870.6h0M108.4 884.2h0M99.4 892.0h0M106.7 890.1h0M104.3 861.0h0M103.8 887.8h0M106.7 892.7h0M107.6 873.4h0M96.8 892.1h0M109.4 891.1h0M106.8 890.2h0M108.0 890.7h0M108.7 889.6h0M107.6 887.0h0M109.5 890.3h0M101.1 892.8h0M109.3 891.3h0M102.0 892.6h0M97.6 893.2h0M107.0 891.8h0M106.6 892.6h0M105.5 885.0h0M103.1 884.3h0M109.4 873.8h0M102.9 893.3h0M109.6 871.1h0M108.7 875.6h0M106.2 892.6h0M109.2 864.5h0M107.8 886.1h0M108.5 873.2h0M105.6 888.6h0M109.1 893.2h0M109.0 870.3h0M101.2 889.6h0M106.5 890.3h0M103.9 873.7h0M103.2 891.3h0M105.8 889.2h0M107.4 886.8h0M105.6 871.3h0M105.8 891.2h0M108.3 885.2h0M106.1 888.1h0M109.5 889.6h0M108.0 880.4h0M107.9 892.1h0M106.1 884.4h0M108.0 893.1h0M107.3 875.2h0M107.3 891.3h0M105.1 892.9h0M104.8 884.9h0M108.9 890.8h0M104.4 880.9h0M108.7 872.6h0M106.6 890.8h0M106.3 892.4h0M102.4 891.3h0M109.6 889.9h0M105.5 892.2h0M106.9 891.2h0M108.7 890.9h0M109.4 890.7h0M108.9 887.6h0M103.3 892.6h0M106.4 892.1h0M108.7 884.7h0M105.5 890.9h0M107.3 869.2h0M107.6 880.4h0M106.2 885.8h0M108.4 885.6h0M105.0 883.6h0M93.8 892.4h0M108.7 887.0h0M106.8 852.9h0M107.4 843.5h0M103.1 848.7h0M101.7 853.6h0M107.2 874.2h0M109.0 839.4h0M102.9 867.8h0M108.1 850.1h0M108.2 843.4h0M106.3 837.6h0M103.3 846.6h0M108.7 847.1h0M107.3 845.2h0M106.6 867.2h0M107.3 868.6h0M105.8 864.8h0M107.9 871.4h0M107.2 858.7h0M108.2 868.3h0M107.6 859.1h0M106.6 873.7h0M107.9 845.5h0M106.4 870.0h0M106.5 847.8h0M104.0 872.0h0M108.3 867.6h0M105.6 872.1h0M103.1 844.5h0M108.3 858.2h0M102.8 858.5h0M106.2 855.8h0M105.2 846.8h0M103.1 851.2h0M106.7 864.5h0M107.0 838.2h0M108.0 873.6h0M106.2 850.9h0M107.1 871.3h0M108.3 864.2h0M107.6 862.8h0M98.0 873.0h0M103.6 838.8h0M106.1 851.4h0M102.0 853.2h0M105.1 862.1h0M107.7 868.3h0M104.0 835.8h0M106.1 838.6h0M107.3 852.8h0M107.8 868.9h0M105.6 860.2h0M104.8 862.4h0M106.4 872.4h0M106.8 848.3h0M107.7 840.7h0M108.4 867.0h0M107.7 865.4h0M105.3 862.0h0M101.7 851.5h0M106.8 857.9h0M102.0 888.9h0M104.4 893.6h0M101.3 890.9h0M98.7 891.3h0M97.2 893.2h0M104.8 890.7h0M85.5 892.2h0M84.0 893.1h0M96.3 893.3h0M79.0 891.9h0M96.0 889.3h0M79.5 892.9h0M82.1 889.2h0M101.3 893.3h0M91.9 891.5h0M96.1 892.4h0M93.8 893.2h0M80.5 893.3h0M93.0 893.3h0M103.5 893.0h0M79.1 891.7h0M97.3 891.1h0M91.2 889.1h0M97.7 888.7h0M101.0 893.0h0M90.8 893.2h0M96.4 892.7h0M91.6 892.8h0M83.7 892.0h0M99.1 892.8h0M82.3 891.9h0M96.2 892.2h0M101.9 888.5h0M100.1 891.9h0M105.0 892.1h0M93.2 893.2h0M87.8 892.8h0M86.2 893.0h0M83.9 893.4h0M94.3 892.6h0M100.9 814.0h0M99.0 828.1h0M103.8 825.8h0M102.9 835.7h0M46.8 892.2h0M61.3 891.8h0M69.1 890.9h0M74.9 890.0h0" stroke="#14a0a0" stroke-width="1.6" stroke-linecap="round"/>
<line x1="32.80" y1="751.00" x2="32.80" y2="899.40" stroke="#666" stroke-width="1.8"/>
<line x1="32.80" y1="899.40" x2="224.00" y2="899.40" stroke="#666" stroke-width="1.8"/>
<line x1="30.20" y1="893.60" x2="32.70" y2="893.60" stroke="#555" stroke-width="1"/>
<text x="30.20" y="897.40" font-size="10.6" fill="#111" color="#111" text-anchor="end">0</text>
<line x1="30.20" y1="848.40" x2="32.70" y2="848.40" stroke="#555" stroke-width="1"/>
<text x="30.20" y="852.20" font-size="10.6" fill="#111" color="#111" text-anchor="end">100</text>
<line x1="30.20" y1="803.20" x2="32.70" y2="803.20" stroke="#555" stroke-width="1"/>
<text x="30.20" y="807.00" font-size="10.6" fill="#111" color="#111" text-anchor="end">200</text>
<line x1="30.20" y1="758.00" x2="32.70" y2="758.00" stroke="#555" stroke-width="1"/>
<text x="30.20" y="761.80" font-size="10.6" fill="#111" color="#111" text-anchor="end">300</text>
<line x1="71.00" y1="899.40" x2="71.00" y2="902.00" stroke="#555" stroke-width="1"/>
<text x="71.00" y="909.80" font-size="10.6" fill="#111" color="#111" text-anchor="middle">-5</text>
<line x1="119.30" y1="899.40" x2="119.30" y2="902.00" stroke="#555" stroke-width="1"/>
<text x="119.30" y="909.80" font-size="10.6" fill="#111" color="#111" text-anchor="middle">0</text>
<line x1="167.60" y1="899.40" x2="167.60" y2="902.00" stroke="#555" stroke-width="1"/>
<text x="167.60" y="909.80" font-size="10.6" fill="#111" color="#111" text-anchor="middle">5</text>
<line x1="215.90" y1="899.40" x2="215.90" y2="902.00" stroke="#555" stroke-width="1"/>
<text x="215.90" y="909.80" font-size="10.6" fill="#111" color="#111" text-anchor="middle">10</text>
<text x="128.80" y="919.60" font-size="10.5" fill="#1a1a1a" color="#1a1a1a" text-anchor="middle">log2(Fold-Change)</text>
<text x="10.90" y="827.00" font-size="11.2" fill="#1a1a1a" color="#1a1a1a" text-anchor="middle" transform="rotate(-90 10.90 827.00)">-log10(adjusted p-value)</text>
<circle cx="38.80" cy="767.40" r="2.0" fill="#14a0a0"/>
<circle cx="38.80" cy="780.80" r="2.0" fill="#999"/>
<text x="44.00" y="766.80" font-size="6.5" fill="#222" color="#222" style="stroke-width:0">adj p-value &lt; 0.05</text>
<text x="45.60" y="773.60" font-size="6.5" fill="#222" color="#222" style="stroke-width:0">and abs(LFC) &gt; 1</text>
<text x="44.00" y="779.80" font-size="6.5" fill="#222" color="#222" style="stroke-width:0">adj p-value ≥ 0.05</text>
<text x="45.60" y="786.80" font-size="6.5" fill="#222" color="#222" style="stroke-width:0">and/or abs(LFC) ≤ 1</text>
<text x="156.50" y="757.20" font-size="6.2" fill="#222" color="#222" style="stroke-width:0">Ccl2</text>
<text x="172.00" y="757.20" font-size="6.2" fill="#222" color="#222" style="stroke-width:0">Cxcl5</text>
<text x="191.90" y="757.20" font-size="6.2" fill="#222" color="#222" style="stroke-width:0">Cxcl1</text>
<text x="154.90" y="842.30" font-size="6.2" fill="#222" color="#222" style="stroke-width:0">Ccl7</text>
<text x="173.00" y="850.70" font-size="6.2" fill="#222" color="#222" style="stroke-width:0">Cxcl10</text>
<text x="111.00" y="870.00" font-size="6.2" fill="#222" color="#222" style="stroke-width:0">Cxcl16</text>
<text x="133.20" y="867.30" font-size="6.2" fill="#222" color="#222" style="stroke-width:0">Cx3cl1</text>
<text x="154.90" y="875.00" font-size="6.2" fill="#222" color="#222" style="stroke-width:0">Cxcl3</text>
<text x="174.20" y="879.50" font-size="6.2" fill="#222" color="#222" style="stroke-width:0">Cxcl2</text>
<text x="129.90" y="879.00" font-size="6.2" fill="#222" color="#222" style="stroke-width:0">Ccl9</text>
<text x="77.40" y="878.70" font-size="6.2" fill="#222" color="#222" style="stroke-width:0">Cxcl15</text>
<text x="100.70" y="878.70" font-size="6.2" fill="#222" color="#222" style="stroke-width:0">Ccl25</text>
<text x="69.50" y="888.30" font-size="6.2" fill="#222" color="#222" style="stroke-width:0">Ccl28</text>
<text x="90.50" y="888.30" font-size="6.2" fill="#222" color="#222" style="stroke-width:0">Ccl11</text>
<text x="113.70" y="888.00" font-size="6.2" fill="#222" color="#222" style="stroke-width:0">Cxcl9</text>
<text x="133.20" y="888.00" font-size="6.2" fill="#222" color="#222" style="stroke-width:0">Ccl5</text>
<text x="149.80" y="888.00" font-size="6.2" fill="#222" color="#222" style="stroke-width:0">Ccl11</text>
<text x="185.90" y="888.30" font-size="6.2" fill="#222" color="#222" style="stroke-width:0">Ccl20</text>
<text x="75.30" y="896.60" font-size="6.2" fill="#222" color="#222" style="stroke-width:0">Ccl24</text>
<text x="96.40" y="896.60" font-size="6.2" fill="#222" color="#222" style="stroke-width:0">Cxcl12</text>
<text x="132.80" y="897.20" font-size="6.2" fill="#222" color="#222" style="stroke-width:0">Ccl8</text>
<text x="149.20" y="897.20" font-size="6.2" fill="#222" color="#222" style="stroke-width:0">Ccl27a</text>
<text x="170.40" y="897.20" font-size="6.2" fill="#222" color="#222" style="stroke-width:0">Ccl22</text>
<text x="190.40" y="897.20" font-size="6.2" fill="#222" color="#222" style="stroke-width:0">Ccl17</text>
<line x1="168.00" y1="755.00" x2="171.00" y2="753.00" stroke="#777" stroke-width="0.5"/>
<line x1="188.00" y1="755.00" x2="191.00" y2="757.00" stroke="#777" stroke-width="0.5"/>
<line x1="125.00" y1="868.00" x2="128.00" y2="873.00" stroke="#777" stroke-width="0.5"/>
<line x1="114.00" y1="878.00" x2="118.00" y2="884.00" stroke="#777" stroke-width="0.5"/>
<line x1="72.00" y1="886.00" x2="69.00" y2="886.00" stroke="#777" stroke-width="0.5"/>
<line x1="88.00" y1="886.00" x2="91.00" y2="886.00" stroke="#777" stroke-width="0.5"/>
<line x1="91.00" y1="895.00" x2="96.00" y2="895.00" stroke="#777" stroke-width="0.5"/>
<line x1="145.00" y1="895.00" x2="149.00" y2="895.00" stroke="#777" stroke-width="0.5"/>
<line x1="167.00" y1="895.00" x2="170.00" y2="895.00" stroke="#777" stroke-width="0.5"/>
<line x1="187.00" y1="895.00" x2="190.00" y2="895.00" stroke="#777" stroke-width="0.5"/>
<line x1="274.80" y1="751.10" x2="274.80" y2="886.00" stroke="#222" stroke-width="1.1"/>
<line x1="274.80" y1="886.00" x2="341.70" y2="886.00" stroke="#222" stroke-width="1.1"/>
<line x1="271.00" y1="886.00" x2="274.80" y2="886.00" stroke="#222" stroke-width="1.1"/>
<text x="267.60" y="890.10" font-size="11.5" fill="#1a1a1a" color="#1a1a1a" text-anchor="end">0</text>
<line x1="271.00" y1="841.03" x2="274.80" y2="841.03" stroke="#222" stroke-width="1.1"/>
<text x="267.60" y="845.13" font-size="11.5" fill="#1a1a1a" color="#1a1a1a" text-anchor="end">10</text>
<line x1="271.00" y1="796.06" x2="274.80" y2="796.06" stroke="#222" stroke-width="1.1"/>
<text x="267.60" y="800.16" font-size="11.5" fill="#1a1a1a" color="#1a1a1a" text-anchor="end">20</text>
<line x1="271.00" y1="751.09" x2="274.80" y2="751.09" stroke="#222" stroke-width="1.1"/>
<text x="267.60" y="755.19" font-size="11.5" fill="#1a1a1a" color="#1a1a1a" text-anchor="end">30</text>
<line x1="287.00" y1="886.00" x2="287.00" y2="890.00" stroke="#222" stroke-width="1.1"/>
<text x="287.00" y="903.20" font-size="11.5" fill="#1a1a1a" color="#1a1a1a" text-anchor="middle">0</text>
<line x1="300.90" y1="886.00" x2="300.90" y2="890.00" stroke="#222" stroke-width="1.1"/>
<text x="300.90" y="903.20" font-size="11.5" fill="#1a1a1a" color="#1a1a1a" text-anchor="middle">2</text>
<line x1="314.50" y1="886.00" x2="314.50" y2="890.00" stroke="#222" stroke-width="1.1"/>
<text x="314.50" y="903.20" font-size="11.5" fill="#1a1a1a" color="#1a1a1a" text-anchor="middle">4</text>
<line x1="328.30" y1="886.00" x2="328.30" y2="890.00" stroke="#222" stroke-width="1.1"/>
<text x="328.30" y="903.20" font-size="11.5" fill="#1a1a1a" color="#1a1a1a" text-anchor="middle">6</text>
<text x="306.40" y="921.70" font-size="11.8" fill="#1a1a1a" color="#1a1a1a" text-anchor="middle">rIL-1β (h)</text>
<text x="310.10" y="746.20" font-size="11.8" fill="#1a1a1a" color="#1a1a1a" text-anchor="middle">LLC1</text>
<text x="250.80" y="819.00" font-size="11.8" fill="#1a1a1a" color="#1a1a1a" text-anchor="middle" transform="rotate(-90 250.80 819.00)"><tspan font-style="italic">Cxcl10/Actb</tspan> mRNA</text>
<rect x="281.20" y="882.40" width="11.60" height="3.60" fill="#777"/>
<rect x="294.80" y="778.07" width="12.40" height="107.93" fill="#1a93ad"/>
<rect x="308.40" y="843.28" width="12.60" height="42.72" fill="#1a93ad"/>
<rect x="322.30" y="877.91" width="12.60" height="8.09" fill="#1a93ad"/>
<line x1="301.00" y1="778.07" x2="301.00" y2="765.03" stroke="#0f6d82" stroke-width="1.1"/>
<line x1="298.00" y1="765.03" x2="304.00" y2="765.03" stroke="#0f6d82" stroke-width="1.1"/>
<line x1="314.90" y1="843.28" x2="314.90" y2="838.78" stroke="#0f6d82" stroke-width="1.1"/>
<line x1="311.90" y1="838.78" x2="317.90" y2="838.78" stroke="#0f6d82" stroke-width="1.1"/>
<line x1="329.00" y1="877.91" x2="329.00" y2="874.31" stroke="#0f6d82" stroke-width="1.1"/>
<line x1="326.00" y1="874.31" x2="332.00" y2="874.31" stroke="#0f6d82" stroke-width="1.1"/>
<circle cx="296.30" cy="764.58" r="2.1" fill="#0d5a6e"/>
<circle cx="305.50" cy="764.58" r="2.1" fill="#0d5a6e"/>
<circle cx="296.30" cy="771.33" r="2.1" fill="#0d5a6e"/>
<circle cx="305.50" cy="771.33" r="2.1" fill="#0d5a6e"/>
<circle cx="296.30" cy="790.21" r="2.1" fill="#0d5a6e"/>
<circle cx="305.50" cy="790.21" r="2.1" fill="#0d5a6e"/>
<circle cx="310.20" cy="839.68" r="2.1" fill="#0d5a6e"/>
<circle cx="319.70" cy="839.68" r="2.1" fill="#0d5a6e"/>
<circle cx="314.90" cy="839.68" r="2.1" fill="#0d5a6e"/>
<circle cx="310.20" cy="844.18" r="2.1" fill="#0d5a6e"/>
<circle cx="319.70" cy="844.18" r="2.1" fill="#0d5a6e"/>
<circle cx="310.20" cy="850.92" r="2.1" fill="#0d5a6e"/>
<circle cx="319.70" cy="850.92" r="2.1" fill="#0d5a6e"/>
<circle cx="324.50" cy="877.01" r="2.1" fill="#0d5a6e"/>
<circle cx="329.00" cy="872.96" r="2.1" fill="#0d5a6e"/>
<circle cx="333.50" cy="877.01" r="2.1" fill="#0d5a6e"/>
<circle cx="324.50" cy="878.36" r="2.1" fill="#0d5a6e"/>
<circle cx="329.00" cy="878.80" r="2.1" fill="#0d5a6e"/>
<circle cx="333.50" cy="877.91" r="2.1" fill="#0d5a6e"/>
<circle cx="282.00" cy="883.30" r="2.1" fill="#666"/>
<circle cx="285.50" cy="881.05" r="2.1" fill="#666"/>
<circle cx="289.00" cy="879.25" r="2.1" fill="#666"/>
<circle cx="292.00" cy="881.95" r="2.1" fill="#666"/>
<circle cx="284.00" cy="884.65" r="2.1" fill="#666"/>
<circle cx="288.00" cy="885.10" r="2.1" fill="#666"/>
<circle cx="291.00" cy="883.75" r="2.1" fill="#666"/>
<circle cx="286.50" cy="878.80" r="2.1" fill="#666"/>
<text x="300.40" y="762.00" font-size="7.9" fill="#222" color="#222" text-anchor="middle" style="stroke-width:0.12px">p&lt;0.0001</text>
<text x="322.30" y="835.00" font-size="7.9" fill="#222" color="#222" text-anchor="middle" style="stroke-width:0.12px">p=0.005</text>
<text x="329.50" y="869.00" font-size="7.9" fill="#222" color="#222" text-anchor="middle" style="stroke-width:0.12px">n.s.</text>
<line x1="404.40" y1="750.30" x2="404.40" y2="884.80" stroke="#222" stroke-width="1.1"/>
<line x1="404.40" y1="884.80" x2="454.30" y2="884.80" stroke="#222" stroke-width="1.1"/>
<line x1="400.60" y1="884.80" x2="404.40" y2="884.80" stroke="#222" stroke-width="1.1"/>
<text x="398.60" y="888.90" font-size="11.5" fill="#1a1a1a" color="#1a1a1a" text-anchor="end">0</text>
<line x1="400.60" y1="846.30" x2="404.40" y2="846.30" stroke="#222" stroke-width="1.1"/>
<text x="398.60" y="850.40" font-size="11.5" fill="#1a1a1a" color="#1a1a1a" text-anchor="end">10</text>
<line x1="400.60" y1="807.80" x2="404.40" y2="807.80" stroke="#222" stroke-width="1.1"/>
<text x="398.60" y="811.90" font-size="11.5" fill="#1a1a1a" color="#1a1a1a" text-anchor="end">20</text>
<line x1="400.60" y1="769.30" x2="404.40" y2="769.30" stroke="#222" stroke-width="1.1"/>
<text x="398.60" y="773.40" font-size="11.5" fill="#1a1a1a" color="#1a1a1a" text-anchor="end">30</text>
<text x="432.40" y="743.80" font-size="11.8" fill="#1b6e85" color="#1b6e85" text-anchor="middle">LLC1</text>
<text x="376.80" y="818.00" font-size="11.8" fill="#1a1a1a" color="#1a1a1a" text-anchor="middle" transform="rotate(-90 376.80 818.00)"><tspan font-style="italic">Cxcl10/Actb</tspan> mRNA</text>
<rect x="412.50" y="880.95" width="16.20" height="3.85" fill="#777"/>
<circle cx="415.60" cy="882.49" r="1.9" fill="#777"/>
<circle cx="418.60" cy="880.95" r="1.9" fill="#777"/>
<circle cx="421.60" cy="879.41" r="1.9" fill="#777"/>
<circle cx="424.60" cy="880.95" r="1.9" fill="#777"/>
<circle cx="426.60" cy="882.10" r="1.9" fill="#777"/>
<circle cx="417.60" cy="883.64" r="1.9" fill="#777"/>
<circle cx="423.60" cy="883.26" r="1.9" fill="#777"/>
<circle cx="420.60" cy="877.48" r="1.9" fill="#777"/>
<rect x="430.40" y="806.26" width="15.80" height="78.54" fill="#0b4f63"/>
<line x1="438.30" y1="806.26" x2="438.30" y2="787.01" stroke="#1a8fa8" stroke-width="1.1"/>
<line x1="434.50" y1="787.01" x2="442.10" y2="787.01" stroke="#1a8fa8" stroke-width="1.1"/>
<circle cx="434.30" cy="775.84" r="2.2" fill="#1a8fa8"/>
<circle cx="442.30" cy="773.92" r="2.2" fill="#1a8fa8"/>
<circle cx="438.30" cy="790.09" r="2.2" fill="#1a8fa8"/>
<circle cx="434.30" cy="802.79" r="2.2" fill="#1a8fa8"/>
<circle cx="438.30" cy="801.64" r="2.2" fill="#1a8fa8"/>
<circle cx="442.30" cy="802.79" r="2.2" fill="#1a8fa8"/>
<circle cx="434.30" cy="808.57" r="2.2" fill="#1a8fa8"/>
<circle cx="438.30" cy="810.88" r="2.2" fill="#1a8fa8"/>
<circle cx="442.30" cy="812.42" r="2.2" fill="#1a8fa8"/>
<circle cx="435.30" cy="817.81" r="2.2" fill="#1a8fa8"/>
<circle cx="438.30" cy="833.98" r="2.2" fill="#1a8fa8"/>
<circle cx="438.30" cy="837.06" r="2.2" fill="#1a8fa8"/>
<text x="437.30" y="770.50" font-size="7.9" fill="#222" color="#222" text-anchor="middle" style="stroke-width:0.12px">p&lt;0.0001</text>
<text x="426.00" y="895.50" font-size="11.8" fill="#1a1a1a" color="#1a1a1a" text-anchor="end" transform="rotate(-45 426.00 895.50)">Control</text>
<text x="444.50" y="894.50" font-size="11.8" fill="#1a1a1a" color="#1a1a1a" text-anchor="end" transform="rotate(-45 444.50 894.50)">mIL1β<tspan font-size="8.5" dy="-4.5">#</tspan></text>
<line x1="531.80" y1="750.20" x2="531.80" y2="885.20" stroke="#222" stroke-width="1.1"/>
<line x1="531.80" y1="885.20" x2="667.20" y2="885.20" stroke="#222" stroke-width="1.1"/>
<line x1="528.00" y1="885.20" x2="531.80" y2="885.20" stroke="#222" stroke-width="1.1"/>
<text x="526.60" y="889.30" font-size="11.5" fill="#1a1a1a" color="#1a1a1a" text-anchor="end">0</text>
<line x1="528.00" y1="840.20" x2="531.80" y2="840.20" stroke="#222" stroke-width="1.1"/>
<text x="526.60" y="844.30" font-size="11.5" fill="#1a1a1a" color="#1a1a1a" text-anchor="end">10</text>
<line x1="528.00" y1="795.20" x2="531.80" y2="795.20" stroke="#222" stroke-width="1.1"/>
<text x="526.60" y="799.30" font-size="11.5" fill="#1a1a1a" color="#1a1a1a" text-anchor="end">20</text>
<line x1="528.00" y1="750.20" x2="531.80" y2="750.20" stroke="#222" stroke-width="1.1"/>
<text x="526.60" y="754.30" font-size="11.5" fill="#1a1a1a" color="#1a1a1a" text-anchor="end">30</text>
<line x1="532.00" y1="885.20" x2="532.00" y2="889.00" stroke="#222" stroke-width="1.1"/>
<text x="532.00" y="902.20" font-size="11.5" fill="#1a1a1a" color="#1a1a1a" text-anchor="middle">1.5</text>
<line x1="565.70" y1="885.20" x2="565.70" y2="889.00" stroke="#222" stroke-width="1.1"/>
<text x="565.70" y="902.20" font-size="11.5" fill="#1a1a1a" color="#1a1a1a" text-anchor="middle">1.6</text>
<line x1="599.40" y1="885.20" x2="599.40" y2="889.00" stroke="#222" stroke-width="1.1"/>
<text x="599.40" y="902.20" font-size="11.5" fill="#1a1a1a" color="#1a1a1a" text-anchor="middle">1.7</text>
<line x1="633.10" y1="885.20" x2="633.10" y2="889.00" stroke="#222" stroke-width="1.1"/>
<text x="633.10" y="902.20" font-size="11.5" fill="#1a1a1a" color="#1a1a1a" text-anchor="middle">1.8</text>
<line x1="666.80" y1="885.20" x2="666.80" y2="889.00" stroke="#222" stroke-width="1.1"/>
<text x="666.80" y="902.20" font-size="11.5" fill="#1a1a1a" color="#1a1a1a" text-anchor="middle">1.9</text>
<text x="600.10" y="920.20" font-size="11.8" fill="#1a1a1a" color="#1a1a1a" text-anchor="middle">IL1-R1 (normalized MFI)</text>
<text x="486.90" y="817.00" font-size="12.1" fill="#1a1a1a" color="#1a1a1a" text-anchor="middle" font-style="italic" transform="rotate(-90 486.90 817.00)">CXCL10/ACTB</text>
<text x="499.70" y="817.40" font-size="12.1" fill="#1a1a1a" color="#1a1a1a" text-anchor="middle" font-style="italic" transform="rotate(-90 499.70 817.40)">mRNA (fold increase)</text>
<line x1="558.50" y1="872.60" x2="642.00" y2="769.00" stroke="#111" stroke-width="1.1"/>
<path d="M642.20,753.10 L646.50,757.40 L642.20,761.70 L637.90,757.40 Z" fill="#000"/>
<path d="M614.90,783.70 L619.20,788.00 L614.90,792.30 L610.60,788.00 Z" fill="#000"/>
<path d="M631.75,784.60 L636.05,788.90 L631.75,793.20 L627.45,788.90 Z" fill="#000"/>
<path d="M596.37,828.25 L600.67,832.55 L596.37,836.85 L592.07,832.55 Z" fill="#000"/>
<path d="M608.16,832.75 L612.46,837.05 L608.16,841.35 L603.86,837.05 Z" fill="#000"/>
<path d="M579.18,841.75 L583.48,846.05 L579.18,850.35 L574.88,846.05 Z" fill="#000"/>
<path d="M569.41,848.95 L573.71,853.25 L569.41,857.55 L565.11,853.25 Z" fill="#000"/>
<path d="M557.95,868.75 L562.25,873.05 L557.95,877.35 L553.65,873.05 Z" fill="#000"/>
<text x="538.60" y="766.50" font-size="12.1" fill="#1a1a1a" color="#1a1a1a">R<tspan font-size="8.6" dy="-5.6">2</tspan><tspan dy="5.6"> = 0.8959</tspan></text>
<text x="650.50" y="760.60" font-size="9.6" fill="#222" color="#222" style="stroke-width:0.12px">H1975</text>
<text x="592.40" y="782.20" font-size="9.6" fill="#222" color="#222" style="stroke-width:0.12px">H322</text>
<text x="640.40" y="795.70" font-size="9.6" fill="#222" color="#222" style="stroke-width:0.12px">H1650</text>
<text x="566.40" y="827.10" font-size="9.6" fill="#222" color="#222" style="stroke-width:0.12px">H1792</text>
<text x="616.00" y="840.30" font-size="9.6" fill="#222" color="#222" style="stroke-width:0.12px">H2228</text>
<text x="587.70" y="852.20" font-size="9.6" fill="#222" color="#222" style="stroke-width:0.12px">H460</text>
<text x="538.40" y="857.00" font-size="9.6" fill="#222" color="#222" style="stroke-width:0.12px">A549</text>
<text x="566.70" y="877.30" font-size="9.6" fill="#222" color="#222" style="stroke-width:0.12px">H1299</text></svg></body></html>
